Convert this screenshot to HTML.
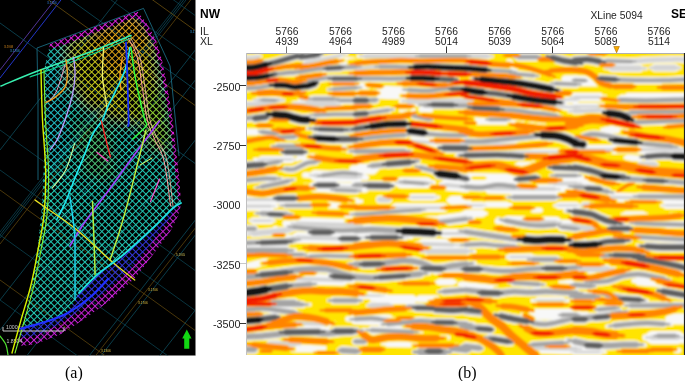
<!DOCTYPE html>
<html><head><meta charset="utf-8">
<style>
html,body{margin:0;padding:0;background:#fff;}
body{width:685px;height:381px;position:relative;overflow:hidden;font-family:"Liberation Sans",Arial,sans-serif;}
.t{position:absolute;white-space:nowrap;color:#1e1e1e;line-height:1;}
.n{font-size:10.3px;}
.y{font-size:10.8px;text-align:right;width:40px;}
.b{font-weight:bold;font-size:12px;color:#000;}
.cap{font-family:"Liberation Serif","Times New Roman",serif;font-size:16px;color:#000;}
svg{position:absolute;left:0;top:0;}
</style></head><body>
<svg width="685" height="381" viewBox="0 0 685 381">
<defs>
<clipPath id="mapclip"><rect x="0" y="0" width="195" height="355.6"/></clipPath>
<clipPath id="seisclip"><rect x="246" y="53.5" width="438" height="301.5"/></clipPath>
<filter id="sb" x="-5%" y="-5%" width="110%" height="110%"><feGaussianBlur stdDeviation="0.8"/></filter>
<filter id="mb" x="-20%" y="-20%" width="140%" height="140%"><feGaussianBlur stdDeviation="6"/></filter>
<pattern id="hatch" patternUnits="userSpaceOnUse" width="4.8" height="4.8" patternTransform="rotate(45)">
<rect width="4.8" height="4.8" fill="#000"/>
<rect x="0" y="0" width="4.8" height="1.0" fill="#fff"/>
<rect x="0" y="0" width="1.0" height="4.8" fill="#fff"/>
</pattern>
<mask id="hmask" maskUnits="userSpaceOnUse" x="0" y="0" width="195" height="355"><rect x="0" y="0" width="195" height="355" fill="url(#hatch)"/></mask>
<clipPath id="meshclip"><path d="M50,44 L60,40 L137,11 L146,22 L156,40 L162,60 L167,85 L172,115 L176,150 L179.5,180 L181,205 L178,216 L170,232 L152,256 L136,277 L112,299 L86,318 L61,334 L36,344 L22,346 L17,342 L24,320 L32,285 L38,245 L42,205 L44,160 L44,110 L44,70Z"/></clipPath>
</defs>
<!-- MAP -->
<g clip-path="url(#mapclip)">
<rect x="0" y="0" width="195" height="356" fill="#000"/>
<line x1="0" y1="70" x2="300" y2="-314.0" stroke="#5a3aa8" stroke-width="0.9" opacity="1.0"/>
<line x1="0" y1="78" x2="300" y2="-306.0" stroke="#2236c8" stroke-width="1.0" opacity="1.0"/>
<line x1="0" y1="150" x2="300" y2="-234.0" stroke="#0e5668" stroke-width="0.7" opacity="1.0"/>
<line x1="0" y1="235" x2="300" y2="-149.0" stroke="#0e5668" stroke-width="0.7" opacity="1.0"/>
<line x1="0" y1="300" x2="300" y2="-84.0" stroke="#0e5668" stroke-width="0.7" opacity="1.0"/>
<line x1="0" y1="232" x2="300" y2="-152.0" stroke="#0e5668" stroke-width="0.6" opacity="1.0"/>
<line x1="0" y1="238" x2="300" y2="-146.0" stroke="#0e5668" stroke-width="0.6" opacity="1.0"/>
<line x1="0" y1="244" x2="300" y2="-140.0" stroke="#7a5a10" stroke-width="0.6" opacity="1.0"/>
<line x1="0" y1="330" x2="300" y2="-54.0" stroke="#0e5668" stroke-width="0.7" opacity="1.0"/>
<line x1="0" y1="390" x2="300" y2="6.0" stroke="#0e5668" stroke-width="0.7" opacity="1.0"/>
<line x1="0" y1="470" x2="300" y2="86.0" stroke="#0e5668" stroke-width="0.7" opacity="1.0"/>
<line x1="0" y1="485" x2="300" y2="101.0" stroke="#0e5668" stroke-width="0.7" opacity="1.0"/>
<line x1="0" y1="478" x2="300" y2="94.0" stroke="#7a5a10" stroke-width="0.6" opacity="1.0"/>
<line x1="0" y1="560" x2="300" y2="176.0" stroke="#0e5668" stroke-width="0.7" opacity="1.0"/>
<line x1="0" y1="23" x2="300" y2="239.0" stroke="#0e5668" stroke-width="0.7" opacity="1.0"/>
<line x1="0" y1="-35" x2="300" y2="181.0" stroke="#7a5a10" stroke-width="0.7" opacity="1.0"/>
<line x1="0" y1="-51" x2="300" y2="165.0" stroke="#0e5668" stroke-width="0.7" opacity="1.0"/>
<line x1="0" y1="-110" x2="300" y2="106.0" stroke="#7a5a10" stroke-width="0.7" opacity="1.0"/>
<line x1="0" y1="-125" x2="300" y2="91.0" stroke="#0e5668" stroke-width="0.6" opacity="1.0"/>
<line x1="0" y1="-160" x2="300" y2="56.0" stroke="#0e5668" stroke-width="0.7" opacity="1.0"/>
<line x1="0" y1="-200" x2="300" y2="16.0" stroke="#7a5a10" stroke-width="0.6" opacity="1.0"/>
<line x1="0" y1="130" x2="300" y2="346.0" stroke="#0e5668" stroke-width="0.6" opacity="1.0"/>
<line x1="0" y1="190" x2="300" y2="406.0" stroke="#7a5a10" stroke-width="0.6" opacity="1.0"/>
<line x1="0" y1="170" x2="300" y2="386.0" stroke="#0e5668" stroke-width="0.6" opacity="1.0"/>
<line x1="0" y1="235" x2="300" y2="451.0" stroke="#0e5668" stroke-width="0.6" opacity="1.0"/>
<line x1="0" y1="280" x2="300" y2="496.0" stroke="#7a5a10" stroke-width="0.6" opacity="1.0"/>
<line x1="0" y1="300" x2="300" y2="516.0" stroke="#0e5668" stroke-width="0.6" opacity="1.0"/>
<line x1="0" y1="-80" x2="300" y2="136.0" stroke="#0e5668" stroke-width="0.6" opacity="1.0"/>
<line x1="0" y1="-250" x2="300" y2="-34.0" stroke="#0e5668" stroke-width="0.6" opacity="1.0"/>
<line x1="0" y1="-300" x2="300" y2="-84.0" stroke="#7a5a10" stroke-width="0.6" opacity="1.0"/>
<g clip-path="url(#meshclip)"><g mask="url(#hmask)">
<g filter="url(#mb)">
<rect x="0" y="0" width="195" height="355" fill="#22c8b4"/>
<path d="M66,42 L137,10 L156,42 L160,100 L140,125 L112,120 L85,105 L68,80 Z" fill="#c8cc1c"/>
<path d="M90,30 L137,10 L152,38 L135,70 L110,75 L95,55 Z" fill="#e0a418"/>
<path d="M130,95 L165,90 L172,150 L150,150 Z" fill="#90d030"/>
<path d="M75,120 L110,125 L115,180 L85,175 Z" fill="#50c878"/>
<path d="M40,60 L62,50 L66,150 L44,180 Z" fill="#20c0c8"/>
</g>
<path d="M185,200 L173,208 L154,227 L123,255 L98,274 L79,293 L67.7,313 L45,322 L20,329 L15,350 L60,345 L140,285 L190,215 Z" fill="#3438e0"/>
<path d="M18,338 L35,336 L58,325 L82,309 L106,291 L130,270 L147,249 L165,225 L178,206 L186,206 L160,262 L110,312 L50,350 L10,352 Z" fill="#c820d8"/>
<path d="M46,46 L60,42 L137,12 L147,24 L157,42 L163,62 L168,86 L173,116 L177,150 L180,180 L182,200" fill="none" stroke="#e020e0" stroke-width="8"/>
</g></g>
<path d="M37,48 L143.5,8.4 L170,66 L179,156" fill="none" stroke="#1a6a80" stroke-width="0.9"/>
<path d="M37,48 L38,100 L38,180" fill="none" stroke="#1a6a80" stroke-width="0.9"/>
<path d="M3,327 L3,331 L64,331 L64,327" fill="none" stroke="#c8c8c8" stroke-width="1"/>
<text x="6" y="329" font-family="Liberation Sans" font-size="5.2" fill="#c8c8c8">1000m</text>
<text x="6.5" y="343" font-family="Liberation Sans" font-size="5.2" fill="#c8c8c8">1.8504</text>
<path d="M186.8,329.4 L191.5,338.4 L189.3,338.4 L189.3,348.8 L184.2,348.8 L184.2,338.4 L182.2,338.4 Z" fill="#12d812"/>
<text x="4" y="48" font-family="Liberation Sans" font-size="3.2" fill="#e09020">3.5%8</text>
<text x="10" y="52" font-family="Liberation Sans" font-size="3.2" fill="#30a0e0">3.1706</text>
<text x="47" y="3.5" font-family="Liberation Sans" font-size="3.2" fill="#3080e0">3.1706</text>
<text x="176" y="256" font-family="Liberation Sans" font-size="3.2" fill="#e0d060">5.5%5</text>
<text x="148" y="291" font-family="Liberation Sans" font-size="3.2" fill="#e0c040">3.1706</text>
<text x="138" y="304" font-family="Liberation Sans" font-size="3.2" fill="#e0c040">3.1706</text>
<text x="101" y="352" font-family="Liberation Sans" font-size="3.2" fill="#e0c040">3.1306</text>
<text x="190" y="33" font-family="Liberation Sans" font-size="3.2" fill="#30a0e0">3.1706</text>
<path d="M1,86C6.7,83.7 20.2,77.7 35,72C49.8,66.3 74.0,58.1 90,52C106.0,45.9 124.2,38.2 131,35.5" stroke="#38f0b0" stroke-width="1.6" fill="none" opacity="1" stroke-linecap="round"/>
<path d="M30,77C40.0,73.3 73.2,61.5 90,55C106.8,48.5 124.2,40.8 131,38" stroke="#10d890" stroke-width="1.1" fill="none" opacity="1" stroke-linecap="round"/>
<path d="M41,70C41.2,78.3 41.7,103.3 42.5,120C43.3,136.7 45.4,154.2 45.6,170C45.9,185.8 45.3,201.7 44,215C42.7,228.3 40.2,238.3 38,250C35.8,261.7 33.8,273.3 31,285C28.2,296.7 24.2,308.7 21,320C17.8,331.3 13.5,347.5 12,353" stroke="#d8f000" stroke-width="1.4" fill="none" opacity="1" stroke-linecap="round"/>
<path d="M44,70C44.2,78.3 44.8,103.3 45.5,120C46.2,136.7 48.2,154.2 48.5,170C48.8,185.8 48.2,201.7 47,215C45.8,228.3 43.2,238.3 41,250C38.8,261.7 36.8,273.0 34,285C31.2,297.0 27.2,310.7 24,322C20.8,333.3 16.5,347.8 15,353" stroke="#80f030" stroke-width="1.1" fill="none" opacity="1" stroke-linecap="round"/>
<path d="M66,60C66.2,62.5 67.6,70.4 67.4,75C67.2,79.6 67.1,83.7 65,87.4C62.9,91.1 58.2,94.9 55,97.4C51.8,99.9 47.5,101.6 46,102.4" stroke="#f0a020" stroke-width="1.4" fill="none" opacity="1" stroke-linecap="round"/>
<path d="M65,65C63.7,69.2 59.5,84.2 57,90C54.5,95.8 51.2,98.3 50,100" stroke="#f0a0c0" stroke-width="1.0" fill="none" opacity="1" stroke-linecap="round"/>
<path d="M73.7,57.4C73.9,60.3 75.2,68.7 75,75C74.8,81.3 74.1,87.5 72.4,95C70.7,102.5 67.6,112.5 65,120C62.4,127.5 59.5,135.0 57,140C54.5,145.0 51.2,148.3 50,150" stroke="#b8a0ff" stroke-width="1.3" fill="none" opacity="1" stroke-linecap="round"/>
<path d="M74.6,143.6C73.1,148.0 69.4,162.6 65.7,170C62.0,177.4 54.5,185.0 52.3,188" stroke="#d0ffa0" stroke-width="1.1" fill="none" opacity="1" stroke-linecap="round"/>
<path d="M103.6,47.5C103.4,52.1 102.2,67.1 102.4,75C102.6,82.9 104.2,89.2 105,95C105.8,100.8 107.0,107.5 107.4,110" stroke="#f0f070" stroke-width="1.3" fill="none" opacity="1" stroke-linecap="round"/>
<path d="M122.3,57.4C121.9,60.3 120.2,69.6 120,75C119.8,80.4 120.8,87.5 121,90" stroke="#ffa020" stroke-width="1.3" fill="none" opacity="1" stroke-linecap="round"/>
<path d="M130,47.5C129.2,51.2 127.5,62.5 125,70C122.5,77.5 117.9,86.2 115,92.4C112.1,98.6 109.5,102.8 107.4,107.4C105.3,112.0 104.9,115.5 102.4,120C99.9,124.5 95.6,128.4 92.5,134.6C89.4,140.8 86.6,149.6 83.6,157C80.6,164.4 77.6,171.6 74.6,179C71.6,186.4 68.7,194.8 65.7,201.6C62.7,208.3 58.3,216.5 56.8,219.5" stroke="#20e8f0" stroke-width="1.6" fill="none" opacity="1" stroke-linecap="round"/>
<path d="M126,42.5C126.2,47.9 126.9,62.1 127.3,75C127.7,87.9 128.5,111.5 128.6,120C128.7,128.5 128.1,125.0 128,126" stroke="#1830ff" stroke-width="1.8" fill="none" opacity="1" stroke-linecap="round"/>
<path d="M131,47.5C131.6,52.1 133.3,66.2 134.8,75C136.3,83.8 138.3,92.5 140,100C141.7,107.5 143.8,115.7 144.8,120C145.8,124.3 148.0,122.8 146,126C144.0,129.2 134.9,136.8 132.7,139" stroke="#30ff40" stroke-width="1.4" fill="none" opacity="1" stroke-linecap="round"/>
<path d="M128.6,38.7C130.1,41.8 135.0,49.3 137.3,57.4C139.6,65.5 140.6,77.0 142.3,87.4C144.0,97.8 145.2,111.2 147.3,120C149.4,128.8 152.2,133.2 155,140C157.8,146.8 161.4,150.0 164,161C166.6,172.0 169.5,198.5 170.6,206" stroke="#ffa0a0" stroke-width="1.0" fill="none" opacity="1" stroke-linecap="round"/>
<path d="M131,38.7C132.5,41.8 137.7,49.3 140,57.4C142.3,65.5 143.3,77.0 145,87.4C146.7,97.8 147.8,111.2 150,120C152.2,128.8 155.2,133.2 158,140C160.8,146.8 164.5,150.0 167,161C169.5,172.0 172.0,198.5 173,206" stroke="#ffc0b0" stroke-width="0.8" fill="none" opacity="1" stroke-linecap="round"/>
<path d="M101.4,121C102.2,124.2 104.5,134.0 106,140C107.5,146.0 109.7,154.2 110.4,157" stroke="#ff2828" stroke-width="1.3" fill="none" opacity="1" stroke-linecap="round"/>
<path d="M97,152.5 L108,161" stroke="#ff40c0" stroke-width="1.2" fill="none" opacity="1" stroke-linecap="round"/>
<path d="M159.5,121C155.0,127.0 140.9,145.8 132.7,157C124.5,168.2 118.6,176.8 110.4,188C102.2,199.2 90.3,214.3 83.6,224C76.9,233.7 72.3,242.3 70,246" stroke="#a040ff" stroke-width="1.5" fill="none" opacity="1" stroke-linecap="round"/>
<path d="M146,130C144.5,136.0 140.0,154.1 137,166C134.0,177.9 131.0,190.4 128,201.6C125.0,212.8 122.0,223.3 119,233C116.0,242.7 111.5,255.5 110,260" stroke="#c0f040" stroke-width="1.4" fill="none" opacity="1" stroke-linecap="round"/>
<path d="M159.5,179 L150.5,201.6" stroke="#ff50d0" stroke-width="1.2" fill="none" opacity="1" stroke-linecap="round"/>
<path d="M140,165 L152,158" stroke="#e0ff60" stroke-width="1.0" fill="none" opacity="1" stroke-linecap="round"/>
<path d="M35,200C36.4,201.0 36.8,201.3 43.4,206C50.0,210.7 63.5,219.0 74.6,228C85.7,237.0 100.0,251.3 110,260C120.0,268.7 130.6,276.7 134.7,280" stroke="#e8e020" stroke-width="1.3" fill="none" opacity="1" stroke-linecap="round"/>
<path d="M70,197C70.8,203.0 73.8,222.5 74.6,233C75.4,243.5 74.9,248.9 75,260C75.1,271.1 75.0,293.1 75,299.7" stroke="#20d8f0" stroke-width="1.5" fill="none" opacity="1" stroke-linecap="round"/>
<path d="M92.5,201.6C92.9,211.3 94.3,247.8 94.7,260C95.1,272.2 95.0,272.5 95,275" stroke="#b0f040" stroke-width="1.5" fill="none" opacity="1" stroke-linecap="round"/>
<path d="M181,203C179.7,203.8 177.5,204.0 173,208C168.5,212.0 162.3,219.2 154,227C145.7,234.8 132.3,247.2 123,255C113.7,262.8 105.3,267.7 98,274C90.7,280.3 82.2,289.8 79,293" stroke="#20e0e0" stroke-width="1.8" fill="none" opacity="1" stroke-linecap="round"/>
<path d="M20.3,328.7C24.4,327.6 37.1,324.6 45,322C52.9,319.4 60.2,317.2 67.7,313C75.2,308.8 83.6,302.7 90.3,297C97.0,291.3 105.0,282.0 108,279" stroke="#2030ff" stroke-width="2.2" fill="none" opacity="1" stroke-linecap="round"/>
<path d="M0,336C1.0,337.5 4.7,341.8 6,345C7.3,348.2 7.7,353.3 8,355" stroke="#50e030" stroke-width="1.2" fill="none" opacity="1" stroke-linecap="round"/>
</g>
<!-- SEISMIC -->
<g clip-path="url(#seisclip)">
<rect x="246" y="53" width="439" height="303" fill="#ffe400"/>
<g filter="url(#sb)" fill="none" stroke-linecap="round" stroke-linejoin="round">
<rect x="240" y="48" width="450" height="312" fill="#ffe400" stroke="none"/>
<g stroke="#f8f8f8">
<path d="M243,58.1L246,58M257.8,56.9L260.7,56.3" stroke-width="3.25"/>
<path d="M246.0,58.0C247.3,58.0 251.9,57.9 253.9,57.7C255.9,57.5 257.2,57.0 257.8,56.9" stroke-width="6.5"/>
<path d="M241,67.9L246,67.7M265.7,64.8L270.6,63.6" stroke-width="5.4"/>
<path d="M246.0,67.7C247.3,67.7 251.5,67.7 253.9,67.4C256.3,67.1 258.4,66.5 260.4,66.1C262.4,65.7 264.8,65.0 265.7,64.8" stroke-width="10.8"/>
<path d="M257.8,67L265.7,64.8M297.2,55.9L305.1,53.6" stroke-width="4.575"/>
<path d="M265.7,64.8C266.8,64.5 269.8,63.6 272.2,63.0C274.6,62.4 277.2,61.7 280.1,60.9C283.0,60.1 286.5,59.0 289.3,58.2C292.1,57.4 295.9,56.3 297.2,55.9" stroke-width="9.15"/>
<path d="M240.7,78L246,77.9M267,76L272.2,75.1" stroke-width="5.0375"/>
<path d="M246.0,77.9C247.3,77.9 251.5,77.8 253.9,77.7C256.3,77.6 258.2,77.4 260.4,77.1C262.6,76.8 265.9,76.2 267.0,76.0" stroke-width="10.075"/>
<path d="M265,76.4L267,76M274.9,74.3L276.9,73.9" stroke-width="4.25"/>
<path d="M267.0,76.0 L274.9,74.3" stroke-width="8.5"/>
<path d="M268.4,75.2L274.9,74.3M301,71.6L307.5,70.9" stroke-width="3.6375"/>
<path d="M274.9,74.3C276.6,74.1 282.3,73.2 285.4,72.9C288.4,72.6 290.6,72.6 293.2,72.4C295.8,72.2 299.7,71.7 301.0,71.6" stroke-width="7.275"/>
<path d="M239.4,88.5L246,88.2M272.2,85.2L278.7,84.1" stroke-width="3.6375"/>
<path d="M246.0,88.2C247.3,88.2 251.5,88.0 253.9,87.9C256.3,87.8 258.2,87.7 260.4,87.4C262.6,87.1 265.0,86.5 267.0,86.1C269.0,85.7 271.3,85.3 272.2,85.2" stroke-width="7.275"/>
<path d="M269.9,85.1L276.2,85.2M301,86.5L307.2,85.8" stroke-width="5.0375"/>
<path d="M276.2,85.2C277.7,85.2 283.0,85.1 285.4,85.3C287.8,85.5 288.9,86.2 290.6,86.5C292.4,86.8 294.2,87.1 295.9,87.1C297.6,87.1 300.1,86.6 301.0,86.5" stroke-width="10.075"/>
<path d="M254.2,100.2L259.1,100.2M278.8,100.2L283.7,100.2" stroke-width="3.5"/>
<path d="M259.1,100.2 L278.8,100.2" stroke-width="7"/>
<path d="M260.2,99.9L263.1,100M274.9,100.5L277.8,100.6" stroke-width="3.375"/>
<path d="M263.1,100.0 L274.9,100.5" stroke-width="6.75"/>
<path d="M296.7,57.4L301,56.9M318.1,54.3L322.3,53.5" stroke-width="4.575"/>
<path d="M301.0,56.9C302.8,56.7 308.6,56.0 311.5,55.6C314.4,55.2 317.0,54.5 318.1,54.3" stroke-width="9.15"/>
<path d="M299.7,64.2L306.2,62.8M340.4,55.6L347,54.3" stroke-width="3"/>
<path d="M306.2,62.8C308.6,62.3 316.1,60.6 320.7,59.6C325.3,58.6 330.5,57.6 333.8,56.9C337.1,56.2 339.3,55.8 340.4,55.6" stroke-width="6"/>
<path d="M335.5,62.1L339.1,62.2M353.5,62.8L357.1,62.9" stroke-width="5.5"/>
<path d="M339.1,62.2 L353.5,62.8" stroke-width="11"/>
<path d="M293.5,72.5L301,71.4M356,66.8L363.6,66.5" stroke-width="3.6375"/>
<path d="M301.0,71.4C303.2,71.1 309.7,70.0 314.1,69.4C318.5,68.9 322.8,68.4 327.2,68.1C331.6,67.8 335.6,67.6 340.4,67.4C345.2,67.2 353.4,66.9 356.0,66.8" stroke-width="7.275"/>
<path d="M323.9,68.6L327.2,68.4M340.4,67.7L343.7,67.5" stroke-width="4.25"/>
<path d="M327.2,68.4 L340.4,67.7" stroke-width="8.5"/>
<path d="M300.5,82.4L307.6,81.2M356,78.6L363.2,78.6" stroke-width="3.375"/>
<path d="M307.6,81.2C310.9,80.7 321.7,78.3 327.2,77.9C332.7,77.5 335.6,78.5 340.4,78.6C345.2,78.7 353.4,78.6 356.0,78.6" stroke-width="6.75"/>
<path d="M328.2,78.7L333.8,78.7M356,78.7L361.6,78.7" stroke-width="4.25"/>
<path d="M333.8,78.7 L356.0,78.7" stroke-width="8.5"/>
<path d="M297.7,86.9L301,86.5M314.1,83.8L317.3,82.8" stroke-width="5.0375"/>
<path d="M301.0,86.5C302.1,86.4 305.4,86.2 307.6,85.8C309.8,85.3 313.0,84.1 314.1,83.8" stroke-width="10.075"/>
<path d="M328.2,89.4L333.8,89.1M356,87.8L361.6,87.5" stroke-width="3.375"/>
<path d="M333.8,89.1 L356.0,87.8" stroke-width="6.75"/>
<path d="M299.5,99.5L307.6,99.6M356,100.2L364.1,100.3" stroke-width="4"/>
<path d="M307.6,99.6 L356.0,100.2" stroke-width="8"/>
<path d="M309.2,98.9L314.1,98.9M333.8,98.9L338.7,98.9" stroke-width="3.6375"/>
<path d="M314.1,98.9 L333.8,98.9" stroke-width="7.275"/>
<path d="M336.5,100.5L340.4,100.5M356,100.5L359.9,100.5" stroke-width="3.375"/>
<path d="M340.4,100.5 L356.0,100.5" stroke-width="6.75"/>
<path d="M358.2,56.2L365.6,56.2M466,56.2L473.4,56.2" stroke-width="3.5"/>
<path d="M365.6,56.2 L466.0,56.2" stroke-width="7"/>
<path d="M413,55.9L420.2,55.9M466,55.9L473.2,55.9" stroke-width="3.375"/>
<path d="M420.2,55.9 L466.0,55.9" stroke-width="6.75"/>
<path d="M380.9,57.8L384.9,57.8M401,57.8L405,57.8" stroke-width="2.5"/>
<path d="M384.9,57.8 L401.0,57.8" stroke-width="5"/>
<path d="M350,68.7L356,68.3M380.1,66.7L386.1,66.4" stroke-width="3.25"/>
<path d="M356.0,68.3C358.7,68.1 368.1,67.4 372.1,67.1C376.1,66.8 378.8,66.8 380.1,66.7" stroke-width="6.5"/>
<path d="M372.5,66.7L380.1,66.7M412.2,67.5L419.8,67.8" stroke-width="3.6375"/>
<path d="M380.1,66.7C382.8,66.7 390.8,66.7 396.1,66.8C401.5,66.9 409.5,67.4 412.2,67.5" stroke-width="7.275"/>
<path d="M405.9,67.4L415.4,67.1M466,68.3L475.5,68.7" stroke-width="5.0375"/>
<path d="M415.4,67.1C417.5,67.0 423.5,66.6 428.3,66.7C433.1,66.8 438.0,67.2 444.3,67.5C450.6,67.8 462.4,68.2 466.0,68.3" stroke-width="10.075"/>
<path d="M348.4,78.8L356,78.7M409,78.2L416.6,78" stroke-width="3.6375"/>
<path d="M356.0,78.7C358.7,78.7 366.8,78.4 372.1,78.4C377.5,78.4 382.0,78.7 388.1,78.7C394.2,78.7 405.5,78.3 409.0,78.2" stroke-width="7.275"/>
<path d="M407,78.2L412.2,78.2M433.1,78.7L438.3,79" stroke-width="5.0375"/>
<path d="M412.2,78.2C414.1,78.2 419.9,78.1 423.4,78.2C426.9,78.3 431.5,78.6 433.1,78.7" stroke-width="10.075"/>
<path d="M428.3,78.4L433.1,78.7M452.4,79.5L457.2,79.6" stroke-width="4.575"/>
<path d="M433.1,78.7C434.7,78.8 439.5,79.1 442.7,79.2C445.9,79.3 450.8,79.5 452.4,79.5" stroke-width="9.15"/>
<path d="M353.6,87.5L356,87.5M365.6,87.5L368,87.5" stroke-width="4.5"/>
<path d="M356.0,87.5 L365.6,87.5" stroke-width="9"/>
<path d="M374.5,92.1L380.1,92.3M402.6,93.1L408.2,93.3" stroke-width="6.5"/>
<path d="M380.1,92.3 L402.6,93.1" stroke-width="13"/>
<path d="M401.4,89.6L409,89.9M466,89.1L473.6,89.2" stroke-width="3.6375"/>
<path d="M409.0,89.9C412.2,90.0 422.4,90.9 428.3,90.7C434.2,90.5 438.0,89.0 444.3,88.7C450.6,88.4 462.4,89.0 466.0,89.1" stroke-width="7.275"/>
<path d="M449,88.9L452.4,89M466,89.3L469.4,89.4" stroke-width="4.25"/>
<path d="M452.4,89.0 L466.0,89.3" stroke-width="8.5"/>
<path d="M353.6,100.4L356,100.4M365.6,100.4L368,100.4" stroke-width="4.9"/>
<path d="M356.0,100.4 L365.6,100.4" stroke-width="9.8"/>
<path d="M363.2,100.5L365.6,100.4M375.3,99.9L377.7,99.8" stroke-width="3.9"/>
<path d="M365.6,100.4 L375.3,99.9" stroke-width="7.8"/>
<path d="M400.9,101.2L409,101.2M466,101.2L474.1,101.2" stroke-width="4"/>
<path d="M409.0,101.2 L466.0,101.2" stroke-width="8"/>
<path d="M460.8,56.2L466,56.2M486.9,56.2L492.1,56.2" stroke-width="3.5"/>
<path d="M466.0,56.2 L486.9,56.2" stroke-width="7"/>
<path d="M514.6,57L519,57M536.7,57L541.1,57" stroke-width="3.9"/>
<path d="M519.0,57.0 L536.7,57.0" stroke-width="7.8"/>
<path d="M546.9,56.4L552.7,57.8M576,62.6L581.9,63.5" stroke-width="4.9"/>
<path d="M552.7,57.8C554.9,58.3 561.7,60.2 565.6,61.0C569.5,61.8 574.3,62.3 576.0,62.6" stroke-width="9.8"/>
<path d="M508.2,61.2L509.4,62.6M514.2,68.3L515.4,69.7" stroke-width="3.5"/>
<path d="M509.4,62.6 L514.2,68.3" stroke-width="7"/>
<path d="M461.2,67.9L466,68.3M485.3,69.9L490.1,70.3" stroke-width="5.0375"/>
<path d="M466.0,68.3C467.6,68.4 472.4,68.8 475.6,69.1C478.8,69.4 483.7,69.8 485.3,69.9" stroke-width="10.075"/>
<path d="M478.9,69.5L485.3,69.9M511,71.5L517.4,71.9" stroke-width="3.375"/>
<path d="M485.3,69.9C487.4,70.0 493.8,70.4 498.1,70.7C502.4,71.0 508.9,71.4 511.0,71.5" stroke-width="6.75"/>
<path d="M509.4,73.5L514.2,73.9M533.4,75.5L538.2,75.9" stroke-width="3.375"/>
<path d="M514.2,73.9 L533.4,75.5" stroke-width="6.75"/>
<path d="M472.1,78.5L482.1,79.5M551.1,89.1L561,91.1" stroke-width="5.4"/>
<path d="M482.1,79.5C484.8,79.8 492.8,80.6 498.1,81.1C503.5,81.6 508.9,82.0 514.2,82.7C519.6,83.4 525.4,84.3 530.2,85.1C535.0,85.9 539.6,86.8 543.1,87.5C546.6,88.2 549.8,88.8 551.1,89.1" stroke-width="10.8"/>
<path d="M462,89.2L466,89.9M482.1,92.3L486.1,92.8" stroke-width="5.4"/>
<path d="M466.0,89.9C467.6,90.2 472.9,91.1 475.6,91.5C478.3,91.9 481.0,92.2 482.1,92.3" stroke-width="10.8"/>
<path d="M474.1,91.4L482.1,92.3M514.2,96.4L522.2,97.6" stroke-width="4.575"/>
<path d="M482.1,92.3C484.8,92.6 492.8,93.3 498.1,94.0C503.5,94.7 511.5,96.0 514.2,96.4" stroke-width="9.15"/>
<path d="M504.3,95.1L514.2,96.7M554.3,102L564.3,103" stroke-width="5.4"/>
<path d="M514.2,96.7C516.3,97.0 523.0,98.2 527.0,98.8C531.0,99.4 533.8,99.9 538.3,100.4C542.8,100.9 551.6,101.7 554.3,102.0" stroke-width="10.8"/>
<path d="M563,78.7L565.6,78.7M576,78.7L578.6,78.7" stroke-width="3.5"/>
<path d="M565.6,78.7 L576.0,78.7" stroke-width="7"/>
<path d="M559,84.3L562.4,84.3M576,84.3L579.4,84.3" stroke-width="3.5"/>
<path d="M562.4,84.3 L576.0,84.3" stroke-width="7"/>
<path d="M550.9,83.3L555.9,83.5M576,84.3L581,84.5" stroke-width="3.375"/>
<path d="M555.9,83.5 L576.0,84.3" stroke-width="6.75"/>
<path d="M559,99.6L562.4,99.6M576,99.6L579.4,99.6" stroke-width="3.5"/>
<path d="M562.4,99.6 L576.0,99.6" stroke-width="7"/>
<path d="M568.9,60.6L575,60.2M599.1,61.4L605.1,62.5" stroke-width="4.9"/>
<path d="M575.0,60.2C577.1,60.1 583.8,59.2 587.8,59.4C591.8,59.6 597.2,61.1 599.1,61.4" stroke-width="9.8"/>
<path d="M591.7,60.8L599.1,61M685,59.4L692.4,59.4" stroke-width="3.5"/>
<path d="M599.1,61.0C603.1,61.1 615.2,61.9 623.2,61.8C631.2,61.7 639.3,60.6 647.3,60.2C655.3,59.8 665.1,59.5 671.4,59.4C677.7,59.3 682.7,59.4 685.0,59.4" stroke-width="7"/>
<path d="M601.1,60.5L607.1,60.7M631.2,61.4L637.2,61.6" stroke-width="3.375"/>
<path d="M607.1,60.7 L631.2,61.4" stroke-width="6.75"/>
<path d="M605.1,67.8L611.9,67.9M639.2,68.3L646,68.4" stroke-width="4"/>
<path d="M611.9,67.9 L639.2,68.3" stroke-width="8"/>
<path d="M650.5,67.8L655.3,67.8M674.6,67.8L679.4,67.8" stroke-width="4"/>
<path d="M655.3,67.8 L674.6,67.8" stroke-width="8"/>
<path d="M597.1,78.5L600.7,78.7M615.1,79.5L618.7,79.7" stroke-width="4.575"/>
<path d="M600.7,78.7 L615.1,79.5" stroke-width="9.15"/>
<path d="M607.5,79.5L615.1,79.7M685,79.5L692.6,79.2" stroke-width="3.6375"/>
<path d="M615.1,79.7C619.1,79.8 631.2,80.2 639.2,80.3C647.2,80.4 655.7,80.4 663.3,80.3C670.9,80.2 681.4,79.6 685.0,79.5" stroke-width="7.275"/>
<path d="M569.8,81.1L575,81.1M595.9,81.1L601.1,81.1" stroke-width="5.5"/>
<path d="M575.0,81.1 L595.9,81.1" stroke-width="11"/>
<path d="M572.6,80.2L575,80.3M584.6,80.6L587,80.7" stroke-width="3.375"/>
<path d="M575.0,80.3 L584.6,80.6" stroke-width="6.75"/>
<path d="M569,97.2L575,97.2M599.1,97.2L605.1,97.2" stroke-width="4.5"/>
<path d="M575.0,97.2 L599.1,97.2" stroke-width="9"/>
<path d="M612,99.8L620,99.9M685,99.6L693,99.4" stroke-width="3.9"/>
<path d="M620.0,99.9C624.5,100.0 636.5,100.5 647.3,100.4C658.1,100.4 678.7,99.7 685.0,99.6" stroke-width="7.8"/>
<path d="M621.3,96L628,96M685,96L691.7,96" stroke-width="3"/>
<path d="M628.0,96.0 L685.0,96.0" stroke-width="6"/>
<path d="M240,104.3L246,104.3M270.1,104.3L276.1,104.3" stroke-width="3.5"/>
<path d="M246.0,104.3 L270.1,104.3" stroke-width="7"/>
<path d="M286.8,104.6L294.2,104.6M334.3,104.6L341.7,104.6" stroke-width="3.5"/>
<path d="M294.2,104.6 L334.3,104.6" stroke-width="7"/>
<path d="M238.7,119L246,118.3M274.9,114.6L282.1,113.4" stroke-width="3.9"/>
<path d="M246.0,118.3C248.7,118.0 257.3,117.3 262.1,116.7C266.9,116.1 272.8,114.9 274.9,114.6" stroke-width="7.8"/>
<path d="M253.2,118.6L255.6,118.3M265.3,117.1L267.7,116.8" stroke-width="4.9"/>
<path d="M255.6,118.3 L265.3,117.1" stroke-width="9.8"/>
<path d="M266.8,113.9L274.9,114.6M307,119.9L315.1,120.5" stroke-width="5.7625"/>
<path d="M274.9,114.6C276.8,114.8 282.9,115.0 286.1,115.5C289.3,116.0 291.8,117.1 294.2,117.8C296.6,118.5 298.5,119.1 300.6,119.4C302.7,119.8 305.9,119.8 307.0,119.9" stroke-width="11.525"/>
<path d="M307.9,115.3L315.1,115M356,114.2L363.2,114.2" stroke-width="3.375"/>
<path d="M315.1,115.0C318.3,114.9 327.5,114.3 334.3,114.2C341.1,114.1 352.4,114.2 356.0,114.2" stroke-width="6.75"/>
<path d="M243.6,131.9L246,131.9M255.6,131.9L258,131.9" stroke-width="3.5"/>
<path d="M246.0,131.9 L255.6,131.9" stroke-width="7"/>
<path d="M258.9,131.5L262.1,131.9M274.9,133.5L278.1,133.9" stroke-width="3.6375"/>
<path d="M262.1,131.9 L274.9,133.5" stroke-width="7.275"/>
<path d="M307.1,128.4L315.1,128.7M356,129.5L364,129.5" stroke-width="3.9"/>
<path d="M315.1,128.7C318.3,128.8 327.5,129.4 334.3,129.5C341.1,129.6 352.4,129.5 356.0,129.5" stroke-width="7.8"/>
<path d="M314.3,129L319.9,129.2M342.4,129.8L348,130" stroke-width="4.25"/>
<path d="M319.9,129.2 L342.4,129.8" stroke-width="8.5"/>
<path d="M274.1,137.7L278.1,137.5M294.2,136.7L298.2,136.5" stroke-width="3.6375"/>
<path d="M278.1,137.5 L294.2,136.7" stroke-width="7.275"/>
<path d="M305.8,136.7L315.1,137.5M356,139.1L365.4,139.1" stroke-width="4.9"/>
<path d="M315.1,137.5C318.3,137.8 327.5,138.8 334.3,139.1C341.1,139.4 352.4,139.1 356.0,139.1" stroke-width="9.8"/>
<path d="M314.3,138.1L318.3,138.3M334.3,139L338.3,139.2" stroke-width="5.0375"/>
<path d="M318.3,138.3 L334.3,139.0" stroke-width="10.075"/>
<path d="M272.1,146.4L278.1,146.4M302.2,146.4L308.2,146.4" stroke-width="3.9"/>
<path d="M278.1,146.4 L302.2,146.4" stroke-width="7.8"/>
<path d="M282.1,152L286.1,152M302.2,152L306.2,152" stroke-width="4.575"/>
<path d="M286.1,152.0 L302.2,152.0" stroke-width="9.15"/>
<path d="M318.9,148L326.3,148M356,148L363.4,148" stroke-width="3.5"/>
<path d="M326.3,148.0 L356.0,148.0" stroke-width="7"/>
<path d="M400.2,110.2L402.6,110.2M412.2,110.2L414.6,110.2" stroke-width="3"/>
<path d="M402.6,110.2 L412.2,110.2" stroke-width="6"/>
<path d="M419.8,109.3L421.8,109.4M429.9,109.7L431.9,109.8" stroke-width="3"/>
<path d="M421.8,109.4 L429.9,109.7" stroke-width="6"/>
<path d="M417.1,104.8L425.1,104.9M466,105.4L474,105.5" stroke-width="3.9"/>
<path d="M425.1,104.9 L466.0,105.4" stroke-width="7.8"/>
<path d="M428.3,104.5L433.1,104.6M452.4,104.9L457.2,105" stroke-width="4.575"/>
<path d="M433.1,104.6 L452.4,104.9" stroke-width="9.15"/>
<path d="M353.6,114.4L356,114.2M365.6,113.6L368,113.4" stroke-width="4.575"/>
<path d="M356.0,114.2 L365.6,113.6" stroke-width="9.15"/>
<path d="M360,114.4L365.6,113.6M388.1,110.2L393.7,109.4" stroke-width="3.375"/>
<path d="M365.6,113.6 L388.1,110.2" stroke-width="6.75"/>
<path d="M410.2,115L413.8,115.8M428.3,119.1L431.9,119.9" stroke-width="3.6375"/>
<path d="M413.8,115.8 L428.3,119.1" stroke-width="7.275"/>
<path d="M364.1,127.3L372.1,126.3M404.2,123.9L412.3,123.7" stroke-width="5.4"/>
<path d="M372.1,126.3C374.8,126.0 382.8,124.6 388.1,124.2C393.5,123.8 401.5,124.0 404.2,123.9" stroke-width="10.8"/>
<path d="M352,129.3L356,128.7M372.1,126.3L376.1,125.7" stroke-width="4.575"/>
<path d="M356.0,128.7 L372.1,126.3" stroke-width="9.15"/>
<path d="M407.4,130.7L410.6,131.1M423.4,132.7L426.6,133.1" stroke-width="5.4"/>
<path d="M410.6,131.1 L423.4,132.7" stroke-width="10.8"/>
<path d="M415.8,132.9L423.4,133.5M466,135.1L473.6,135.1" stroke-width="3.6375"/>
<path d="M423.4,133.5C426.9,133.8 437.2,134.8 444.3,135.1C451.4,135.4 462.4,135.1 466.0,135.1" stroke-width="7.275"/>
<path d="M348.5,141L356,139.9M404.2,135.1L411.8,134.7" stroke-width="3.6375"/>
<path d="M356.0,139.9C358.7,139.5 366.8,138.2 372.1,137.5C377.5,136.8 382.8,136.3 388.1,135.9C393.5,135.5 401.5,135.2 404.2,135.1" stroke-width="7.275"/>
<path d="M403.4,141.1L412.2,141.5M466,144L474.8,144.4" stroke-width="4.5"/>
<path d="M412.2,141.5 L466.0,144.0" stroke-width="9"/>
<path d="M438.9,147.9L444.3,148M466,148.3L471.4,148.4" stroke-width="4.9"/>
<path d="M444.3,148.0 L466.0,148.3" stroke-width="9.8"/>
<path d="M348,151.2L356,151.2M404.2,151.2L412.2,151.2" stroke-width="3.9"/>
<path d="M356.0,151.2 L404.2,151.2" stroke-width="7.8"/>
<path d="M468,107.5L474,107.8M498.1,109.1L504.1,109.4" stroke-width="4.575"/>
<path d="M474.0,107.8 L498.1,109.1" stroke-width="9.15"/>
<path d="M490.5,109L498.1,109.4M555.9,115.8L563.4,117" stroke-width="3.6375"/>
<path d="M498.1,109.4C500.8,109.5 508.9,109.7 514.2,110.2C519.6,110.7 524.9,111.9 530.2,112.6C535.6,113.3 542.0,113.7 546.3,114.2C550.6,114.7 554.3,115.5 555.9,115.8" stroke-width="7.275"/>
<path d="M550.9,105.8L555.9,106.2M576,107.8L581,108.2" stroke-width="3.5"/>
<path d="M555.9,106.2 L576.0,107.8" stroke-width="7"/>
<path d="M465.2,120.3L474,120.3M514.2,120.3L523,120.3" stroke-width="4.5"/>
<path d="M474.0,120.3 L514.2,120.3" stroke-width="9"/>
<path d="M486.1,119.4L490.1,119.4M506.1,119.4L510.1,119.4" stroke-width="3.375"/>
<path d="M490.1,119.4 L506.1,119.4" stroke-width="6.75"/>
<path d="M527.4,123.9L530.2,123.9M541.5,123.9L544.3,123.9" stroke-width="3"/>
<path d="M530.2,123.9 L541.5,123.9" stroke-width="6"/>
<path d="M458,141.5L466,141.5M543.1,135.1L551,134.1" stroke-width="3.9"/>
<path d="M466.0,141.5C468.7,141.5 476.8,141.8 482.1,141.5C487.5,141.2 492.8,140.4 498.1,139.9C503.5,139.4 508.9,138.8 514.2,138.3C519.6,137.8 525.4,137.2 530.2,136.7C535.0,136.2 541.0,135.4 543.1,135.1" stroke-width="7.8"/>
<path d="M534.5,134.6L543.1,135.1M576,143.1L583.8,146.7" stroke-width="5.7625"/>
<path d="M543.1,135.1C545.2,135.2 552.1,135.4 555.9,135.9C559.6,136.4 562.2,137.1 565.6,138.3C569.0,139.5 574.3,142.3 576.0,143.1" stroke-width="11.525"/>
<path d="M458.6,144.4L466,144.4M514.2,144.4L521.6,144.4" stroke-width="3.5"/>
<path d="M466.0,144.4 L514.2,144.4" stroke-width="7"/>
<path d="M458.6,152L466,152M562.4,152L569.8,152" stroke-width="3.5"/>
<path d="M466.0,152.0 L562.4,152.0" stroke-width="7"/>
<path d="M567.6,106.2L575,106.2M607.1,106.2L614.5,106.2" stroke-width="3.5"/>
<path d="M575.0,106.2 L607.1,106.2" stroke-width="7"/>
<path d="M569,111.2L575,111M599.1,110.2L605.1,110" stroke-width="3.5"/>
<path d="M575.0,111.0 L599.1,110.2" stroke-width="7"/>
<path d="M603.7,112.7L608.7,113.4M628,118.3L632.6,120.2" stroke-width="5.7625"/>
<path d="M608.7,113.4C610.6,113.7 616.8,114.2 620.0,115.0C623.2,115.8 626.7,117.8 628.0,118.3" stroke-width="11.525"/>
<path d="M623.6,112.9L631.2,112.6M685,111.8L692.6,111.8" stroke-width="3.6375"/>
<path d="M631.2,112.6C635.2,112.5 646.3,111.9 655.3,111.8C664.3,111.7 680.0,111.8 685.0,111.8" stroke-width="7.275"/>
<path d="M628.4,122.6L636,122.3M685,120.7L692.6,120.5" stroke-width="3.6375"/>
<path d="M636.0,122.3C639.2,122.2 647.1,121.8 655.3,121.5C663.5,121.2 680.0,120.8 685.0,120.7" stroke-width="7.275"/>
<path d="M601.9,129.5L607.1,129.5M628,129.5L633.2,129.5" stroke-width="3.5"/>
<path d="M607.1,129.5 L628.0,129.5" stroke-width="7"/>
<path d="M595.1,109.4L595.9,109.4M599.1,109.4L599.9,109.4" stroke-width="2"/>
<path d="M595.9,109.4 L599.1,109.4" stroke-width="4"/>
<path d="M567.5,142.5L575,139.9M671.4,146.4L679.3,147.2" stroke-width="3.9"/>
<path d="M575.0,139.9C577.7,139.0 585.8,135.0 591.1,134.3C596.5,133.6 601.8,135.0 607.1,135.9C612.5,136.8 617.9,138.7 623.2,139.9C628.6,141.1 633.9,142.3 639.2,143.1C644.6,143.9 649.9,144.2 655.3,144.8C660.7,145.4 668.7,146.1 671.4,146.4" stroke-width="7.8"/>
<path d="M573,143.9L575,144M583,144.4L585,144.5" stroke-width="5.4"/>
<path d="M575.0,144.0 L583.0,144.4" stroke-width="10.8"/>
<path d="M609.9,139.8L615.1,140.3M636,142.3L641.2,142.8" stroke-width="5.0375"/>
<path d="M615.1,140.3 L636.0,142.3" stroke-width="10.075"/>
<path d="M566.2,149.6L575,149.6M685,149.6L693.8,149.6" stroke-width="4.5"/>
<path d="M575.0,149.6 L685.0,149.6" stroke-width="9"/>
<path d="M254.9,159.4L262.1,159.4M291,159.4L298.2,159.4" stroke-width="3.5"/>
<path d="M262.1,159.4 L291.0,159.4" stroke-width="7"/>
<path d="M298.6,157L302.2,157M316.7,157L320.3,157" stroke-width="3.5"/>
<path d="M302.2,157.0 L316.7,157.0" stroke-width="7"/>
<path d="M242,166.1L246,165.8M262.1,164.6L266.1,164.3" stroke-width="4.9"/>
<path d="M246.0,165.8 L262.1,164.6" stroke-width="9.8"/>
<path d="M258.1,165.3L262.1,164.6M278.1,161.8L282.1,161.1" stroke-width="3.6375"/>
<path d="M262.1,164.6 L278.1,161.8" stroke-width="7.275"/>
<path d="M278.5,169.1L286.1,169.1M315.1,161.8L322.6,160.7" stroke-width="3.6375"/>
<path d="M286.1,169.1C287.5,169.1 290.7,170.1 294.2,169.1C297.7,168.1 303.5,164.2 307.0,163.0C310.5,161.8 313.8,162.0 315.1,161.8" stroke-width="7.275"/>
<path d="M304.9,175.1L315.1,175.5M356,177.1L366.2,177.5" stroke-width="5.5"/>
<path d="M315.1,175.5 L356.0,177.1" stroke-width="11"/>
<path d="M315.6,176.4L323.1,175.5M356,173.9L363.6,174.3" stroke-width="3.6375"/>
<path d="M323.1,175.5C326.3,175.1 336.9,173.4 342.4,173.1C347.9,172.8 353.7,173.8 356.0,173.9" stroke-width="7.275"/>
<path d="M304.9,186.3L315.1,186.7M356,188.3L366.2,188.7" stroke-width="5.5"/>
<path d="M315.1,186.7 L356.0,188.3" stroke-width="11"/>
<path d="M314.3,185.1L318.3,185.1M334.3,185.1L338.3,185.1" stroke-width="4.575"/>
<path d="M318.3,185.1 L334.3,185.1" stroke-width="9.15"/>
<path d="M330.9,189.7L335.9,189.9M356,190.7L361,190.9" stroke-width="3.375"/>
<path d="M335.9,189.9 L356.0,190.7" stroke-width="6.75"/>
<path d="M238.8,181L246,180.3M274.9,178.7L282.1,178.7" stroke-width="3.6375"/>
<path d="M246.0,180.3C248.7,180.0 257.3,179.0 262.1,178.7C266.9,178.4 272.8,178.7 274.9,178.7" stroke-width="7.275"/>
<path d="M255.7,188L262.1,186.7M287.8,181.1L294.2,179.5" stroke-width="3.6375"/>
<path d="M262.1,186.7C264.8,186.2 273.8,184.4 278.1,183.5C282.4,182.6 286.2,181.5 287.8,181.1" stroke-width="7.275"/>
<path d="M237.2,199.6L246,199.6M294.2,199.6L303,199.6" stroke-width="4.5"/>
<path d="M246.0,199.6 L294.2,199.6" stroke-width="9"/>
<path d="M274.1,198.3L278.1,198.3M294.2,198.3L298.2,198.3" stroke-width="4.575"/>
<path d="M278.1,198.3 L294.2,198.3" stroke-width="9.15"/>
<path d="M328.9,201.2L334.3,201.2M356,201.2L361.4,201.2" stroke-width="3.5"/>
<path d="M334.3,201.2 L356.0,201.2" stroke-width="7"/>
<path d="M352,169.1L356,169.1M372.1,169.1L376.1,169.1" stroke-width="5.5"/>
<path d="M356.0,169.1 L372.1,169.1" stroke-width="11"/>
<path d="M368.1,166.2L372.1,165.8M388.1,164.2L392.1,163.8" stroke-width="3.9"/>
<path d="M372.1,165.8 L388.1,164.2" stroke-width="7.8"/>
<path d="M382.9,164.3L388.1,163.9M409,162.3L414.2,161.9" stroke-width="4.9"/>
<path d="M388.1,163.9 L409.0,162.3" stroke-width="9.8"/>
<path d="M407,162.2L409,162M417,161L419,160.8" stroke-width="3.375"/>
<path d="M409.0,162.0 L417.0,161.0" stroke-width="6.75"/>
<path d="M415.3,166.3L420.2,167.5M439.5,173.6L444.1,175.7" stroke-width="3.6375"/>
<path d="M420.2,167.5C422.4,168.0 429.9,169.7 433.1,170.7C436.3,171.7 438.4,173.1 439.5,173.6" stroke-width="7.275"/>
<path d="M435.5,173.4L439.5,173.9M455.6,175.8L459.6,176.3" stroke-width="5.7625"/>
<path d="M439.5,173.9 L455.6,175.8" stroke-width="11.525"/>
<path d="M453,175.7L455.6,176.3M466,178.7L468.6,179.3" stroke-width="4.575"/>
<path d="M455.6,176.3 L466.0,178.7" stroke-width="9.15"/>
<path d="M394.6,182.7L401,182.7M426.7,182.7L433.1,182.7" stroke-width="5.5"/>
<path d="M401.0,182.7 L426.7,182.7" stroke-width="11"/>
<path d="M399.4,181.5L404.2,181.9M423.4,183.5L428.2,183.9" stroke-width="3.375"/>
<path d="M404.2,181.9 L423.4,183.5" stroke-width="6.75"/>
<path d="M352.8,185.2L356,185.1M368.8,184.8L372,184.7" stroke-width="3.9"/>
<path d="M356.0,185.1 L368.8,184.8" stroke-width="7.8"/>
<path d="M364,185.5L368.8,185.6M388.1,185.9L392.9,186" stroke-width="4.9"/>
<path d="M368.8,185.6 L388.1,185.9" stroke-width="9.8"/>
<path d="M354,180.3L356,181.9M364,188.3L366,189.9" stroke-width="4.5"/>
<path d="M356.0,181.9 L364.0,188.3" stroke-width="9"/>
<path d="M440.9,184.7L445.9,185.1M466,186.7L471,187.1" stroke-width="5.5"/>
<path d="M445.9,185.1 L466.0,186.7" stroke-width="11"/>
<path d="M378.1,199.6L380.1,199.6M388.1,199.6L390.1,199.6" stroke-width="4"/>
<path d="M380.1,199.6 L388.1,199.6" stroke-width="8"/>
<path d="M407,197.2L412.2,197.2M433.1,197.2L438.3,197.2" stroke-width="3.5"/>
<path d="M412.2,197.2 L433.1,197.2" stroke-width="7"/>
<path d="M449,200.4L452.4,200.4M466,200.4L469.4,200.4" stroke-width="4.5"/>
<path d="M452.4,200.4 L466.0,200.4" stroke-width="9"/>
<path d="M457.1,155.5L466,155.4M522.2,156.2L531.1,156.7" stroke-width="4.575"/>
<path d="M466.0,155.4C471.4,155.3 488.7,154.8 498.1,154.9C507.5,155.0 518.2,156.0 522.2,156.2" stroke-width="9.15"/>
<path d="M516.2,164.2L519,164.2M530.2,164.2L533,164.2" stroke-width="2.5"/>
<path d="M519.0,164.2 L530.2,164.2" stroke-width="5"/>
<path d="M532.2,160.2L533.4,160.2M538.3,160.2L539.5,160.2" stroke-width="2"/>
<path d="M533.4,160.2 L538.3,160.2" stroke-width="4"/>
<path d="M454.4,179.3L466,179.5M519,180.3L530.6,180.5" stroke-width="6.5"/>
<path d="M466.0,179.5 L519.0,180.3" stroke-width="13"/>
<path d="M479.9,188.2L490.1,188.3M554.3,189.1L564.5,189.2" stroke-width="5.5"/>
<path d="M490.1,188.3 L554.3,189.1" stroke-width="11"/>
<path d="M515,179.3L519,179M535.1,177.9L539.1,177.6" stroke-width="4.575"/>
<path d="M519.0,179.0 L535.1,177.9" stroke-width="9.15"/>
<path d="M548.9,167.3L554.3,167.5M576,168.3L581.4,168.5" stroke-width="4.575"/>
<path d="M554.3,167.5 L576.0,168.3" stroke-width="9.15"/>
<path d="M458,186.3L466,186.7M514.2,186.7L522.1,187.5" stroke-width="3.9"/>
<path d="M466.0,186.7C468.7,186.8 476.8,187.8 482.1,187.5C487.5,187.2 492.8,185.2 498.1,185.1C503.5,185.0 511.5,186.4 514.2,186.7" stroke-width="7.8"/>
<path d="M548.9,183.5L554.3,183.5M576,183.5L581.4,183.5" stroke-width="5.5"/>
<path d="M554.3,183.5 L576.0,183.5" stroke-width="11"/>
<path d="M550.9,175.5L555.9,175.5M576,175.5L581,175.5" stroke-width="3.375"/>
<path d="M555.9,175.5 L576.0,175.5" stroke-width="6.75"/>
<path d="M506.2,197.2L514.2,197.2M554.3,197.2L562.3,197.2" stroke-width="3.9"/>
<path d="M514.2,197.2 L554.3,197.2" stroke-width="7.8"/>
<path d="M625.2,157.6L628,157.8M639.2,158.6L642,158.8" stroke-width="3"/>
<path d="M628.0,157.8 L639.2,158.6" stroke-width="6"/>
<path d="M637.6,164.6L640.8,164.6M653.7,164.6L656.9,164.6" stroke-width="4"/>
<path d="M640.8,164.6 L653.7,164.6" stroke-width="8"/>
<path d="M640.5,157L647.3,156.5M674.6,155.9L681.4,156.2" stroke-width="4.575"/>
<path d="M647.3,156.5C650.0,156.3 658.8,155.5 663.3,155.4C667.8,155.3 672.7,155.8 674.6,155.9" stroke-width="9.15"/>
<path d="M672,156.1L674.6,156.2M685,156.5L687.6,156.6" stroke-width="5.4"/>
<path d="M674.6,156.2 L685.0,156.5" stroke-width="10.8"/>
<path d="M565.8,165.7L575,167.5M623.2,177.1L632.5,178" stroke-width="4.9"/>
<path d="M575.0,167.5C577.7,168.0 585.8,169.4 591.1,170.7C596.5,172.0 601.8,174.4 607.1,175.5C612.5,176.6 620.5,176.8 623.2,177.1" stroke-width="9.8"/>
<path d="M600.7,175.6L603.9,175.8M616.8,176.8L620,177.1" stroke-width="5.0375"/>
<path d="M603.9,175.8 L616.8,176.8" stroke-width="10.075"/>
<path d="M615.2,178.3L623.2,178.7M685,182.7L692.9,183.3" stroke-width="3.9"/>
<path d="M623.2,178.7C625.9,178.8 632.5,179.1 639.2,179.5C645.9,179.9 655.7,180.6 663.3,181.1C670.9,181.6 681.4,182.4 685.0,182.7" stroke-width="7.8"/>
<path d="M643.3,180.1L647.3,180.3M663.3,181.1L667.3,181.3" stroke-width="4.25"/>
<path d="M647.3,180.3 L663.3,181.1" stroke-width="8.5"/>
<path d="M567.1,185.9L575,186.7M607.1,191.5L614.9,193.1" stroke-width="3.9"/>
<path d="M575.0,186.7C577.7,187.0 585.8,187.5 591.1,188.3C596.5,189.1 604.4,191.0 607.1,191.5" stroke-width="7.8"/>
<path d="M585,188.1L587.8,188.3M599.1,189.1L601.9,189.3" stroke-width="4.575"/>
<path d="M587.8,188.3 L599.1,189.1" stroke-width="9.15"/>
<path d="M598.3,197L607.1,197.2M685,198.8L693.8,199" stroke-width="4.5"/>
<path d="M607.1,197.2 L685.0,198.8" stroke-width="9"/>
<path d="M631.6,196.4L639.2,196.4M685,196.4L692.6,196.4" stroke-width="3.6375"/>
<path d="M639.2,196.4 L685.0,196.4" stroke-width="7.275"/>
<path d="M571,178.1L575,178.7M591.1,181.1L595.1,181.7" stroke-width="4.5"/>
<path d="M575.0,178.7 L591.1,181.1" stroke-width="9"/>
<path d="M240,206.2L246,206.2M270.1,206.2L276.1,206.2" stroke-width="4.5"/>
<path d="M246.0,206.2 L270.1,206.2" stroke-width="9"/>
<path d="M280.1,205.4L286.1,205.4M310.2,205.4L316.2,205.4" stroke-width="3.375"/>
<path d="M286.1,205.4 L310.2,205.4" stroke-width="6.75"/>
<path d="M327.1,206.2L329.5,206.2M339.1,206.2L341.5,206.2" stroke-width="2.5"/>
<path d="M329.5,206.2 L339.1,206.2" stroke-width="5"/>
<path d="M256.1,213.2L262.1,213.4M286.1,214.2L292.1,214.4" stroke-width="3.9"/>
<path d="M262.1,213.4 L286.1,214.2" stroke-width="7.8"/>
<path d="M267.3,214.1L270.1,214.2M281.3,214.6L284.1,214.7" stroke-width="4.25"/>
<path d="M270.1,214.2 L281.3,214.6" stroke-width="8.5"/>
<path d="M285.8,223.6L297.4,223.9M356,225.5L367.6,225.8" stroke-width="6.5"/>
<path d="M297.4,223.9 L356.0,225.5" stroke-width="13"/>
<path d="M286.3,226.4L294.2,227.1M356,230.3L364,230.3" stroke-width="3.9"/>
<path d="M294.2,227.1C297.4,227.4 306.7,228.2 313.4,228.7C320.1,229.2 327.2,230.0 334.3,230.3C341.4,230.6 352.4,230.3 356.0,230.3" stroke-width="7.8"/>
<path d="M309.4,232.2L313.4,232.2M329.5,232.2L333.5,232.2" stroke-width="4.9"/>
<path d="M313.4,232.2 L329.5,232.2" stroke-width="9.8"/>
<path d="M287.2,237.2L297.4,237.5M356,239.1L366.2,239.4" stroke-width="5.5"/>
<path d="M297.4,237.5 L356.0,239.1" stroke-width="11"/>
<path d="M339,238.7L342.4,238.7M356,238.7L359.4,238.7" stroke-width="4.575"/>
<path d="M342.4,238.7 L356.0,238.7" stroke-width="9.15"/>
<path d="M343,215L345.6,215M356,215L358.6,215" stroke-width="3"/>
<path d="M345.6,215.0 L356.0,215.0" stroke-width="6"/>
<path d="M250,220.7L254,220.7M270.1,220.7L274.1,220.7" stroke-width="3.5"/>
<path d="M254.0,220.7 L270.1,220.7" stroke-width="7"/>
<path d="M244,228.7L246,228.7M254,228.7L256,228.7" stroke-width="3.9"/>
<path d="M246.0,228.7 L254.0,228.7" stroke-width="7.8"/>
<path d="M245.9,234.3L254,233.5M294.2,227.1L301.7,224.1" stroke-width="4"/>
<path d="M254.0,233.5C256.7,233.2 264.8,232.4 270.1,231.9C275.5,231.4 282.1,231.1 286.1,230.3C290.1,229.5 292.9,227.6 294.2,227.1" stroke-width="8"/>
<path d="M274.6,227.9 L276.2,227.9" stroke-width="4"/>
<path d="M238,243.5L246,243.1M294.2,239.9L302.1,239.1" stroke-width="3.9"/>
<path d="M246.0,243.1C248.7,243.0 256.8,242.6 262.1,242.3C267.5,242.0 272.8,241.9 278.1,241.5C283.5,241.1 291.5,240.2 294.2,239.9" stroke-width="7.8"/>
<path d="M256.1,242.9L262.1,242.7M286.1,241.9L292.1,241.7" stroke-width="4.575"/>
<path d="M262.1,242.7 L286.1,241.9" stroke-width="9.15"/>
<path d="M237.3,250.4L246,250.4M286.1,250.4L294.8,250.4" stroke-width="4.425"/>
<path d="M246.0,250.4 L286.1,250.4" stroke-width="8.85"/>
<path d="M387.3,207.8L396.1,207.8M444.3,207.8L453.1,207.8" stroke-width="4.5"/>
<path d="M396.1,207.8 L444.3,207.8" stroke-width="9"/>
<path d="M348.8,214.6L356,214.2M420.2,209.7L427.4,209.2" stroke-width="3.375"/>
<path d="M356.0,214.2C358.7,214.1 365.4,213.9 372.1,213.4C378.8,212.9 388.1,212.0 396.1,211.4C404.1,210.8 416.2,210.0 420.2,209.7" stroke-width="6.75"/>
<path d="M420.6,218.3L423.4,218.3M434.7,218.3L437.5,218.3" stroke-width="2.5"/>
<path d="M423.4,218.3 L434.7,218.3" stroke-width="5"/>
<path d="M432.9,221.5L439.5,220.7M466,217.5L472.6,216.7" stroke-width="5.5"/>
<path d="M439.5,220.7 L466.0,217.5" stroke-width="11"/>
<path d="M432.9,223.1L439.5,222.3M466,219.1L472.6,218.3" stroke-width="3.6375"/>
<path d="M439.5,222.3C441.6,222.0 448.0,221.2 452.4,220.7C456.8,220.2 463.7,219.4 466.0,219.1" stroke-width="7.275"/>
<path d="M438.9,233.5L444.3,233.5M466,233.5L471.4,233.5" stroke-width="4.5"/>
<path d="M444.3,233.5 L466.0,233.5" stroke-width="9"/>
<path d="M347.3,230.7L356,230.3M404.2,231.1L412.9,231.5" stroke-width="4.425"/>
<path d="M356.0,230.3C358.7,230.2 366.8,229.5 372.1,229.5C377.5,229.5 382.8,230.0 388.1,230.3C393.5,230.6 401.5,231.0 404.2,231.1" stroke-width="8.85"/>
<path d="M397,231L404.2,231.3M433.1,232.7L440.3,233.1" stroke-width="5.7625"/>
<path d="M404.2,231.3C406.9,231.4 415.4,231.7 420.2,231.9C425.0,232.1 431.0,232.6 433.1,232.7" stroke-width="11.525"/>
<path d="M348.6,237.5L356,237.5M404.2,237.5L411.6,237.5" stroke-width="3.5"/>
<path d="M356.0,237.5 L404.2,237.5" stroke-width="7"/>
<path d="M366.1,237.5L372.1,237.5M396.1,237.5L402.1,237.5" stroke-width="4.575"/>
<path d="M372.1,237.5 L396.1,237.5" stroke-width="9.15"/>
<path d="M416.1,243.8L423.4,244M452.4,244.8L459.6,245" stroke-width="5.5"/>
<path d="M423.4,244.0 L452.4,244.8" stroke-width="11"/>
<path d="M420.2,251.2L428.3,251.2M466,251.2L474.1,251.2" stroke-width="4"/>
<path d="M428.3,251.2 L466.0,251.2" stroke-width="8"/>
<path d="M462,205.4L466,205.4M482.1,205.4L486.1,205.4" stroke-width="3.5"/>
<path d="M466.0,205.4 L482.1,205.4" stroke-width="7"/>
<path d="M482.1,204.6L486.9,204.6M506.1,204.6L510.9,204.6" stroke-width="3"/>
<path d="M486.9,204.6 L506.1,204.6" stroke-width="6"/>
<path d="M531.8,210.2L533.4,210.2M539.9,210.2L541.5,210.2" stroke-width="2.5"/>
<path d="M533.4,210.2 L539.9,210.2" stroke-width="5"/>
<path d="M554.9,205.4L559.1,205.4M576,205.4L580.2,205.4" stroke-width="3.5"/>
<path d="M559.1,205.4 L576.0,205.4" stroke-width="7"/>
<path d="M462,213.4L466,213.4M482.1,213.4L486.1,213.4" stroke-width="3.5"/>
<path d="M466.0,213.4 L482.1,213.4" stroke-width="7"/>
<path d="M497.6,221.3L507.8,221.5M555.9,222.3L566.1,222.5" stroke-width="5.5"/>
<path d="M507.8,221.5 L555.9,222.3" stroke-width="11"/>
<path d="M498.3,219.1L506.1,220.7M554.3,224.7L562.3,224.3" stroke-width="3.9"/>
<path d="M506.1,220.7C508.8,221.2 516.8,223.1 522.2,223.9C527.6,224.7 532.9,225.4 538.3,225.5C543.6,225.6 551.6,224.8 554.3,224.7" stroke-width="7.8"/>
<path d="M559,225.5L562.4,225.5M576,225.5L579.4,225.5" stroke-width="5.5"/>
<path d="M562.4,225.5 L576.0,225.5" stroke-width="11"/>
<path d="M559,226.7L562.4,227.1M576,228.7L579.4,229.1" stroke-width="3.6375"/>
<path d="M562.4,227.1 L576.0,228.7" stroke-width="7.275"/>
<path d="M457.8,230.7L466,231.9M525.4,239.6L533.7,240" stroke-width="4.1625"/>
<path d="M466.0,231.9C468.7,232.3 476.8,233.5 482.1,234.3C487.5,235.1 492.8,235.9 498.1,236.7C503.5,237.5 509.7,238.6 514.2,239.1C518.8,239.6 523.5,239.5 525.4,239.6" stroke-width="8.325"/>
<path d="M516.2,239.1L525.4,239.6M562.4,239.9L571.7,240.1" stroke-width="5.7625"/>
<path d="M525.4,239.6C527.5,239.7 534.3,240.3 538.3,240.3C542.3,240.3 545.5,239.7 549.5,239.6C553.5,239.5 560.2,239.8 562.4,239.9" stroke-width="11.525"/>
<path d="M458.4,245.2L466,244.8M514.2,246.4L521.8,246.8" stroke-width="3.6375"/>
<path d="M466.0,244.8C468.7,244.7 476.8,243.9 482.1,244.0C487.5,244.1 492.8,245.2 498.1,245.6C503.5,246.0 511.5,246.3 514.2,246.4" stroke-width="7.275"/>
<path d="M559,248L562.4,248M576,248L579.4,248" stroke-width="4.5"/>
<path d="M562.4,248.0 L576.0,248.0" stroke-width="9"/>
<path d="M582.2,205.4L584.6,205.4M594.3,205.4L596.7,205.4" stroke-width="4"/>
<path d="M584.6,205.4 L594.3,205.4" stroke-width="8"/>
<path d="M661.9,205.4L666.5,205.4M685,205.4L689.6,205.4" stroke-width="3.5"/>
<path d="M666.5,205.4 L685.0,205.4" stroke-width="7"/>
<path d="M565.7,210.4L575,211.8M615.1,222.3L624.3,224.1" stroke-width="4.9"/>
<path d="M575.0,211.8C577.7,212.2 587.1,213.2 591.1,214.2C595.1,215.1 596.4,216.4 599.1,217.5C601.8,218.6 604.4,219.9 607.1,220.7C609.8,221.5 613.8,222.0 615.1,222.3" stroke-width="9.8"/>
<path d="M622.4,214.2L626.4,214.2M642.4,214.2L646.4,214.2" stroke-width="3"/>
<path d="M626.4,214.2 L642.4,214.2" stroke-width="6"/>
<path d="M669.8,214.2L671.4,214.2M677.8,214.2L679.4,214.2" stroke-width="2.5"/>
<path d="M671.4,214.2 L677.8,214.2" stroke-width="5"/>
<path d="M607.9,228.7L611.9,228.7M628,228.7L632,228.7" stroke-width="4.575"/>
<path d="M611.9,228.7 L628.0,228.7" stroke-width="9.15"/>
<path d="M628.4,222.8L636,223.1M685,224.7L692.6,224.9" stroke-width="3.6375"/>
<path d="M636.0,223.1C639.2,223.2 647.1,223.6 655.3,223.9C663.5,224.2 680.0,224.6 685.0,224.7" stroke-width="7.275"/>
<path d="M571,226.7L575,227.1M591.1,228.7L595.1,229.1" stroke-width="4"/>
<path d="M575.0,227.1 L591.1,228.7" stroke-width="8"/>
<path d="M569.8,245.1L575,245.1M595.9,244.4L601.1,244.1" stroke-width="5.4"/>
<path d="M575.0,245.1C576.6,245.1 581.1,245.2 584.6,245.1C588.1,245.0 594.0,244.5 595.9,244.4" stroke-width="10.8"/>
<path d="M589.2,245.7L595.9,244.1M623.2,240.7L630.1,240.4" stroke-width="4.575"/>
<path d="M595.9,244.1C597.8,243.7 602.5,242.1 607.1,241.5C611.7,240.9 620.5,240.8 623.2,240.7" stroke-width="9.15"/>
<path d="M628.4,236.2L636,236.7M685,239.6L692.6,240" stroke-width="3.6375"/>
<path d="M636.0,236.7C639.2,236.9 647.1,237.5 655.3,238.0C663.5,238.5 680.0,239.3 685.0,239.6" stroke-width="7.275"/>
<path d="M638,245.9L647.3,246.4M685,247.2L694.4,247.2" stroke-width="4.9"/>
<path d="M647.3,246.4C650.0,246.5 657.0,247.1 663.3,247.2C669.6,247.3 681.4,247.2 685.0,247.2" stroke-width="9.8"/>
<path d="M573,240.7L575,240.7M583,240.7L585,240.7" stroke-width="3"/>
<path d="M575.0,240.7 L583.0,240.7" stroke-width="6"/>
<path d="M282.1,254.6L286.1,254.6M302.2,254.6L306.2,254.6" stroke-width="3.375"/>
<path d="M286.1,254.6 L302.2,254.6" stroke-width="6.75"/>
<path d="M304.2,254.9L310.2,254.9M334.3,254.9L340.3,254.9" stroke-width="2.5"/>
<path d="M310.2,254.9 L334.3,254.9" stroke-width="5"/>
<path d="M243.6,267.2L249.2,265.8M271.7,260.2L277.3,258.8" stroke-width="3.5"/>
<path d="M249.2,265.8C251.3,265.3 258.4,263.5 262.1,262.6C265.9,261.7 270.1,260.6 271.7,260.2" stroke-width="7"/>
<path d="M303,256.9L310.2,256.5M356,256.5L363.2,256.7" stroke-width="3.375"/>
<path d="M310.2,256.5C312.9,256.4 318.7,255.7 326.3,255.7C333.9,255.7 351.1,256.4 356.0,256.5" stroke-width="6.75"/>
<path d="M237.3,278L246,277.1M356,277.1L364.5,279.1" stroke-width="4.425"/>
<path d="M246.0,277.1C248.7,276.8 256.8,276.2 262.1,275.5C267.5,274.8 272.8,273.5 278.1,272.6C283.5,271.7 288.9,270.8 294.2,270.2C299.5,269.6 304.8,269.3 310.2,269.1C315.6,268.9 320.9,268.3 326.3,269.1C331.7,269.9 337.4,272.6 342.4,273.9C347.3,275.2 353.7,276.6 356.0,277.1" stroke-width="8.85"/>
<path d="M256.1,275.2L262.1,274.7M286.1,272.6L292.1,272.1" stroke-width="4.9"/>
<path d="M262.1,274.7 L286.1,272.6" stroke-width="9.8"/>
<path d="M330.3,276L334.3,276.3M350.4,277.4L354.4,277.7" stroke-width="4.9"/>
<path d="M334.3,276.3 L350.4,277.4" stroke-width="9.8"/>
<path d="M287.2,278.3L297.4,278.7M342.4,280.3L352.6,280.7" stroke-width="5.5"/>
<path d="M297.4,278.7 L342.4,280.3" stroke-width="11"/>
<path d="M241.2,293.5L246,292.8M265.3,289.6L270.1,288.7" stroke-width="6.125"/>
<path d="M246.0,292.8C247.6,292.6 252.4,292.0 255.6,291.5C258.8,291.0 263.7,289.9 265.3,289.6" stroke-width="12.25"/>
<path d="M260.1,290.4L265.3,289.6M286.1,286.4L291.3,285.6" stroke-width="5.225"/>
<path d="M265.3,289.6 L286.1,286.4" stroke-width="10.45"/>
<path d="M280.1,286.6L286.1,286.1M310.2,284.3L316.2,283.9" stroke-width="3.9"/>
<path d="M286.1,286.1 L310.2,284.3" stroke-width="7.8"/>
<path d="M299.8,294L300.6,294M303.8,294L304.6,294" stroke-width="2"/>
<path d="M300.6,294.0 L303.8,294.0" stroke-width="4"/>
<path d="M328.9,300.4L334.3,300.4M356,300.4L361.4,300.4" stroke-width="3.9"/>
<path d="M334.3,300.4 L356.0,300.4" stroke-width="7.8"/>
<path d="M268.1,302L273.3,302M294.2,302L299.4,302" stroke-width="3.6375"/>
<path d="M273.3,302.0 L294.2,302.0" stroke-width="7.275"/>
<path d="M347.3,264.2L356,264.2M466,264.2L474.6,263.2" stroke-width="4.425"/>
<path d="M356.0,264.2C358.7,264.2 366.8,264.5 372.1,264.2C377.5,263.9 382.8,263.2 388.1,262.6C393.5,262.0 398.9,260.5 404.2,260.5C409.5,260.5 414.8,261.3 420.2,262.6C425.6,263.9 430.9,267.8 436.3,268.3C441.7,268.8 447.4,266.5 452.4,265.8C457.3,265.1 463.7,264.5 466.0,264.2" stroke-width="8.85"/>
<path d="M360,264.3L364,264.2M380.1,263.9L384.1,263.8" stroke-width="4.9"/>
<path d="M364.0,264.2 L380.1,263.9" stroke-width="9.8"/>
<path d="M421.1,268.2L425.1,268.3M441.1,268.7L445.1,268.8" stroke-width="4.9"/>
<path d="M425.1,268.3 L441.1,268.7" stroke-width="9.8"/>
<path d="M347.3,276.7L356,277.1M420.2,273.9L428.9,273" stroke-width="4.425"/>
<path d="M356.0,277.1C358.7,277.2 366.8,277.9 372.1,277.9C377.5,277.9 382.8,277.5 388.1,277.1C393.5,276.7 398.9,276.0 404.2,275.5C409.5,275.0 417.5,274.2 420.2,273.9" stroke-width="8.85"/>
<path d="M374.1,277.8L380.1,277.4M404.2,275.8L410.2,275.4" stroke-width="4.575"/>
<path d="M380.1,277.4 L404.2,275.8" stroke-width="9.15"/>
<path d="M428.9,269.1L436.3,269.1M466,269.1L473.4,269.1" stroke-width="5.5"/>
<path d="M436.3,269.1 L466.0,269.1" stroke-width="11"/>
<path d="M436.3,281.9L439.5,281.9M452.4,281.9L455.6,281.9" stroke-width="3"/>
<path d="M439.5,281.9 L452.4,281.9" stroke-width="6"/>
<path d="M350,295.6L356,295.6M380.1,295.6L386.1,295.6" stroke-width="3.5"/>
<path d="M356.0,295.6 L380.1,295.6" stroke-width="7"/>
<path d="M372.1,299.6L380.1,299.6M412.2,299.6L420.2,299.6" stroke-width="4.5"/>
<path d="M380.1,299.6 L412.2,299.6" stroke-width="9"/>
<path d="M416.2,298.8L420.2,298.8M436.3,298.8L440.3,298.8" stroke-width="3.5"/>
<path d="M420.2,298.8 L436.3,298.8" stroke-width="7"/>
<path d="M438.9,291.9L444.3,291.5M466,289.9L471.4,289.5" stroke-width="3.9"/>
<path d="M444.3,291.5 L466.0,289.9" stroke-width="7.8"/>
<path d="M506.2,257L511,257M530.2,257L535,257" stroke-width="3.5"/>
<path d="M511.0,257.0 L530.2,257.0" stroke-width="7"/>
<path d="M527.8,259.4L533.4,259.4M555.9,259.4L561.5,259.4" stroke-width="3.9"/>
<path d="M533.4,259.4 L555.9,259.4" stroke-width="7.8"/>
<path d="M458,269.1L466,269.1M576,267.5L583.9,267" stroke-width="3.9"/>
<path d="M466.0,269.1C468.7,269.1 476.8,268.8 482.1,269.1C487.5,269.4 492.8,270.4 498.1,270.7C503.5,271.0 508.9,271.0 514.2,270.7C519.6,270.4 524.9,269.5 530.2,269.1C535.6,268.7 540.9,268.4 546.3,268.3C551.7,268.2 557.4,268.4 562.4,268.3C567.4,268.2 573.7,267.6 576.0,267.5" stroke-width="7.8"/>
<path d="M462.8,269.1L466,269.1M478.8,269.1L482,269.1" stroke-width="4.9"/>
<path d="M466.0,269.1 L478.8,269.1" stroke-width="9.8"/>
<path d="M542.3,268.3L546.3,268.3M562.4,268.3L566.4,268.3" stroke-width="4.575"/>
<path d="M546.3,268.3 L562.4,268.3" stroke-width="9.15"/>
<path d="M460,284.3L466,284.3M490.1,284.3L496.1,284.3" stroke-width="4.5"/>
<path d="M466.0,284.3 L490.1,284.3" stroke-width="9"/>
<path d="M508.2,282.3L514.2,282.7M538.3,284.3L544.3,284.7" stroke-width="3.6375"/>
<path d="M514.2,282.7 L538.3,284.3" stroke-width="7.275"/>
<path d="M560,281.9L562.4,281.9M572,281.9L574.4,281.9" stroke-width="2.5"/>
<path d="M562.4,281.9 L572.0,281.9" stroke-width="5"/>
<path d="M457.7,289.1L466,289.9M576,293.1L584.3,293.5" stroke-width="4.1625"/>
<path d="M466.0,289.9C468.7,290.2 476.8,291.0 482.1,291.5C487.5,292.0 492.8,293.1 498.1,293.1C503.5,293.1 508.9,291.6 514.2,291.5C519.6,291.4 524.9,292.3 530.2,292.3C535.6,292.3 538.7,291.4 546.3,291.5C553.9,291.6 571.0,292.8 576.0,293.1" stroke-width="8.325"/>
<path d="M478.1,292.7L482.1,292.8M498.1,293.1L502.1,293.2" stroke-width="4.9"/>
<path d="M482.1,292.8 L498.1,293.1" stroke-width="9.8"/>
<path d="M532.3,300.4L538.3,300.4M562.4,300.4L568.4,300.4" stroke-width="3.5"/>
<path d="M538.3,300.4 L562.4,300.4" stroke-width="7"/>
<path d="M594.3,255.4L602.3,255.4M639.2,255.4L647.2,255.4" stroke-width="3.9"/>
<path d="M602.3,255.4 L639.2,255.4" stroke-width="7.8"/>
<path d="M609.1,255L615.1,255.2M639.2,255.9L645.2,256.1" stroke-width="4.575"/>
<path d="M615.1,255.2 L639.2,255.9" stroke-width="9.15"/>
<path d="M567,267.9L575,268.3M607.1,269.1L615.1,269.1" stroke-width="4"/>
<path d="M575.0,268.3C577.7,268.4 585.8,269.0 591.1,269.1C596.5,269.2 604.4,269.1 607.1,269.1" stroke-width="8"/>
<path d="M630,257L639.2,258.6M685,267.8L694.1,269.9" stroke-width="4.9"/>
<path d="M639.2,258.6C641.9,259.1 649.9,260.4 655.3,261.4C660.7,262.4 666.4,263.5 671.4,264.6C676.4,265.7 682.7,267.3 685.0,267.8" stroke-width="9.8"/>
<path d="M583.1,282.3L591.1,281.9M663.3,278.7L671.1,280.3" stroke-width="3.9"/>
<path d="M591.1,281.9C593.8,281.8 601.8,282.1 607.1,281.1C612.5,280.1 617.9,277.0 623.2,275.8C628.6,274.6 633.9,274.0 639.2,274.2C644.6,274.4 651.3,276.4 655.3,277.1C659.3,277.9 662.0,278.4 663.3,278.7" stroke-width="7.8"/>
<path d="M571,271.5L575,271.5M591.1,271.5L595.1,271.5" stroke-width="3.5"/>
<path d="M575.0,271.5 L591.1,271.5" stroke-width="7"/>
<path d="M633.6,280.7L639.2,281.1M661.7,282.7L667.3,283.1" stroke-width="4.5"/>
<path d="M639.2,281.1 L661.7,282.7" stroke-width="9"/>
<path d="M571,284.9L575,285.1M591.1,285.9L595.1,286.1" stroke-width="3.9"/>
<path d="M575.0,285.1 L591.1,285.9" stroke-width="7.8"/>
<path d="M599.3,293.7L607.1,295.1M639.2,299.9L647.1,300.8" stroke-width="3.9"/>
<path d="M607.1,295.1C609.8,295.6 617.9,297.2 623.2,298.0C628.6,298.8 636.5,299.6 639.2,299.9" stroke-width="7.8"/>
<path d="M619.2,298.6L623.2,298.9M639.2,299.9L643.2,300.1" stroke-width="4.575"/>
<path d="M623.2,298.9 L639.2,299.9" stroke-width="9.15"/>
<path d="M657.9,290.6L663.3,291.5M685,295.1L690.4,296" stroke-width="4.9"/>
<path d="M663.3,291.5 L685.0,295.1" stroke-width="9.8"/>
<path d="M570.2,296.4L575,296.4M594.3,296.4L599.1,296.4" stroke-width="4.425"/>
<path d="M575.0,296.4 L594.3,296.4" stroke-width="8.85"/>
<path d="M262.5,304.6L270.1,304.6M302.2,304.6L309.8,304.6" stroke-width="3.6375"/>
<path d="M270.1,304.6 L302.2,304.6" stroke-width="7.275"/>
<path d="M238,309.8L246,309.4M294.2,312.6L302.1,313.8" stroke-width="3.9"/>
<path d="M246.0,309.4C248.7,309.3 256.8,308.5 262.1,308.6C267.5,308.7 272.8,309.5 278.1,310.2C283.5,310.9 291.5,312.2 294.2,312.6" stroke-width="7.8"/>
<path d="M242.8,320.9L246,320.7M258.8,319.9L262,319.7" stroke-width="5.4"/>
<path d="M246.0,320.7 L258.8,319.9" stroke-width="10.8"/>
<path d="M254.8,320L258.8,319.5M274.9,317.5L278.9,317" stroke-width="4.9"/>
<path d="M258.8,319.5 L274.9,317.5" stroke-width="9.8"/>
<path d="M286.2,322.9L294.2,323.1M326.3,323.9L334.3,324.1" stroke-width="5.5"/>
<path d="M294.2,323.1 L326.3,323.9" stroke-width="11"/>
<path d="M237.3,337.1L246,336.7M356,331.1L364.7,330.6" stroke-width="4.425"/>
<path d="M246.0,336.7C248.7,336.6 256.8,336.3 262.1,335.9C267.5,335.5 272.8,334.9 278.1,334.3C283.5,333.7 288.9,332.6 294.2,332.2C299.5,331.8 304.8,331.7 310.2,331.9C315.6,332.1 320.9,333.5 326.3,333.5C331.7,333.5 337.4,332.3 342.4,331.9C347.3,331.5 353.7,331.2 356.0,331.1" stroke-width="8.85"/>
<path d="M278.1,332.3L286.1,332.2M318.3,331.9L326.4,331.8" stroke-width="4.9"/>
<path d="M286.1,332.2 L318.3,331.9" stroke-width="9.8"/>
<path d="M331.9,331.3L335.9,331.3M352,331.3L356,331.3" stroke-width="4.9"/>
<path d="M335.9,331.3 L352.0,331.3" stroke-width="9.8"/>
<path d="M244,349.6L246,349.6M254,349.6L256,349.6" stroke-width="4.425"/>
<path d="M246.0,349.6 L254.0,349.6" stroke-width="8.85"/>
<path d="M264.1,344L270.1,344M294.2,344L300.2,344" stroke-width="4"/>
<path d="M270.1,344.0 L294.2,344.0" stroke-width="8"/>
<path d="M288.2,348L294.2,348M318.3,348L324.3,348" stroke-width="4.5"/>
<path d="M294.2,348.0 L318.3,348.0" stroke-width="9"/>
<path d="M339,350.2L342.4,350.4M356,351.2L359.4,351.4" stroke-width="4.425"/>
<path d="M342.4,350.4 L356.0,351.2" stroke-width="8.85"/>
<path d="M368.1,305.4L372.1,305.4M388.1,305.4L392.1,305.4" stroke-width="4"/>
<path d="M372.1,305.4 L388.1,305.4" stroke-width="8"/>
<path d="M403,306.8L409,307M433.1,307.8L439.1,308" stroke-width="3.9"/>
<path d="M409.0,307.0 L433.1,307.8" stroke-width="7.8"/>
<path d="M413,307.7L417,307.8M433.1,308.1L437.1,308.2" stroke-width="4.575"/>
<path d="M417.0,307.8 L433.1,308.1" stroke-width="9.15"/>
<path d="M428.9,309L436.3,309.4M466,309.4L473.4,309" stroke-width="4.9"/>
<path d="M436.3,309.4C439.0,309.5 447.4,310.2 452.4,310.2C457.3,310.2 463.7,309.5 466.0,309.4" stroke-width="9.8"/>
<path d="M348,318.9L356,319.1M388.1,319.9L396.1,320.1" stroke-width="5.5"/>
<path d="M356.0,319.1 L388.1,319.9" stroke-width="11"/>
<path d="M348.4,319.5L356,319.1M388.1,320.7L395.6,321.8" stroke-width="3.6375"/>
<path d="M356.0,319.1C358.7,319.0 366.8,318.0 372.1,318.3C377.5,318.6 385.4,320.3 388.1,320.7" stroke-width="7.275"/>
<path d="M380.2,324.5L388.1,323.9M466,323.9L473.9,324.3" stroke-width="3.9"/>
<path d="M388.1,323.9C390.8,323.7 398.9,323.1 404.2,322.6C409.5,322.1 414.8,321.1 420.2,321.0C425.6,320.9 428.7,321.8 436.3,322.3C443.9,322.8 461.1,323.6 466.0,323.9" stroke-width="7.8"/>
<path d="M432.3,322.2L436.3,322.3M452.4,322.6L456.4,322.7" stroke-width="4.575"/>
<path d="M436.3,322.3 L452.4,322.6" stroke-width="9.15"/>
<path d="M363.3,329.9L372.1,330.3M412.2,331.9L421,332.3" stroke-width="4.5"/>
<path d="M372.1,330.3 L412.2,331.9" stroke-width="9"/>
<path d="M364.5,330L372.1,330.3M412.2,331.9L419.8,332.2" stroke-width="3.6375"/>
<path d="M372.1,330.3 L412.2,331.9" stroke-width="7.275"/>
<path d="M439.5,337.5L441.1,337.5M447.5,337.5L449.1,337.5" stroke-width="2.5"/>
<path d="M441.1,337.5 L447.5,337.5" stroke-width="5"/>
<path d="M354,341.5L356,341.5M364,341.5L366,341.5" stroke-width="3.9"/>
<path d="M356.0,341.5 L364.0,341.5" stroke-width="7.8"/>
<path d="M382.1,343.4L388.1,343.5M412.2,344L418.2,344.1" stroke-width="3.5"/>
<path d="M388.1,343.5 L412.2,344.0" stroke-width="7"/>
<path d="M425.5,351.2L428.3,351.2M439.5,351.2L442.3,351.2" stroke-width="4.9"/>
<path d="M428.3,351.2 L439.5,351.2" stroke-width="9.8"/>
<path d="M414.2,352L420.2,352M444.3,352L450.3,352" stroke-width="4.95"/>
<path d="M420.2,352.0 L444.3,352.0" stroke-width="9.9"/>
<path d="M449,347.6L452.4,348M466,349.6L469.4,350" stroke-width="4.95"/>
<path d="M452.4,348.0 L466.0,349.6" stroke-width="9.9"/>
<path d="M462,310.6L466,311M482.1,312.6L486.1,313" stroke-width="4.425"/>
<path d="M466.0,311.0 L482.1,312.6" stroke-width="8.85"/>
<path d="M466.8,310L469.2,310.2M478.8,311L481.2,311.2" stroke-width="4.575"/>
<path d="M469.2,310.2 L478.8,311.0" stroke-width="9.15"/>
<path d="M494.9,314.8L501.3,316.2M527,321L533.5,322" stroke-width="4.9"/>
<path d="M501.3,316.2C503.5,316.7 509.9,318.3 514.2,319.1C518.5,319.9 524.9,320.7 527.0,321.0" stroke-width="9.8"/>
<path d="M523.2,314.2L533.4,314.2M576,314.2L586.2,314.2" stroke-width="5.5"/>
<path d="M533.4,314.2 L576.0,314.2" stroke-width="11"/>
<path d="M525.5,322.4L533.4,323.1M576,317.8L583.7,316" stroke-width="3.9"/>
<path d="M533.4,323.1C535.5,323.3 541.5,324.6 546.3,324.2C551.1,323.8 557.4,322.1 562.4,321.0C567.4,319.9 573.7,318.3 576.0,317.8" stroke-width="7.8"/>
<path d="M559,315L562.4,315M576,315L579.4,315" stroke-width="3.6375"/>
<path d="M562.4,315.0 L576.0,315.0" stroke-width="7.275"/>
<path d="M460.8,326.7L466,327.1M486.9,328.7L492.1,329.1" stroke-width="4.425"/>
<path d="M466.0,327.1 L486.9,328.7" stroke-width="8.85"/>
<path d="M476,328.5L478.8,328.7M490.1,329.5L492.9,329.7" stroke-width="4.575"/>
<path d="M478.8,328.7 L490.1,329.5" stroke-width="9.15"/>
<path d="M484.9,337.5L490.1,338.3M511,341.5L516.2,342.3" stroke-width="4.425"/>
<path d="M490.1,338.3 L511.0,341.5" stroke-width="8.85"/>
<path d="M489.7,338.5L493.3,339.1M507.8,341.5L511.4,342.1" stroke-width="4.575"/>
<path d="M493.3,339.1 L507.8,341.5" stroke-width="9.15"/>
<path d="M462.8,346L466,346.4M478.8,348L482,348.4" stroke-width="4.425"/>
<path d="M466.0,346.4 L478.8,348.0" stroke-width="8.85"/>
<path d="M523.2,347.8L533.4,348M576,348.8L586.2,349" stroke-width="5.5"/>
<path d="M533.4,348.0 L576.0,348.8" stroke-width="11"/>
<path d="M526.1,345.2L533.4,344.8M562.4,343.1L569.6,342.7" stroke-width="3.9"/>
<path d="M533.4,344.8 L562.4,343.1" stroke-width="7.8"/>
<path d="M464.4,323.9L466,323.9M472.4,323.9L474,323.9" stroke-width="2.5"/>
<path d="M466.0,323.9 L472.4,323.9" stroke-width="5"/>
<path d="M623.2,305.4L631.2,305.4M685,305.4L693,305.4" stroke-width="3.9"/>
<path d="M631.2,305.4 L685.0,305.4" stroke-width="7.8"/>
<path d="M566.3,320L575,319.1M620,313L628.5,311.2" stroke-width="4.425"/>
<path d="M575.0,319.1C577.7,318.8 585.8,318.1 591.1,317.5C596.5,316.9 602.3,316.6 607.1,315.8C611.9,315.1 617.9,313.5 620.0,313.0" stroke-width="8.85"/>
<path d="M572.6,319.1L575,319.1M584.6,319.1L587,319.1" stroke-width="4.9"/>
<path d="M575.0,319.1 L584.6,319.1" stroke-width="9.8"/>
<path d="M593.1,317.7L595.9,317.5M607.1,316.7L609.9,316.5" stroke-width="4.575"/>
<path d="M595.9,317.5 L607.1,316.7" stroke-width="9.15"/>
<path d="M595.1,309.7L599.1,309.4M615.1,308.1L619.1,307.8" stroke-width="3.6375"/>
<path d="M599.1,309.4 L615.1,308.1" stroke-width="7.275"/>
<path d="M607.2,326.3L615.1,325.5M663.3,323.9L671.3,324.3" stroke-width="3.9"/>
<path d="M615.1,325.5C617.8,325.2 625.8,324.3 631.2,323.9C636.6,323.5 641.9,323.1 647.3,323.1C652.6,323.1 660.6,323.8 663.3,323.9" stroke-width="7.8"/>
<path d="M668,319.1L671.4,319.1M685,319.1L688.4,319.1" stroke-width="5.5"/>
<path d="M671.4,319.1 L685.0,319.1" stroke-width="11"/>
<path d="M645.7,337.5L652.1,337.5M677.8,337.5L684.2,337.5" stroke-width="6.5"/>
<path d="M652.1,337.5 L677.8,337.5" stroke-width="13"/>
<path d="M654.5,335.9L658.5,335.9M674.6,335.9L678.6,335.9" stroke-width="3.9"/>
<path d="M658.5,335.9 L674.6,335.9" stroke-width="7.8"/>
<path d="M566.5,339.8L575,341.5M636,344.8L644.7,344.8" stroke-width="4.425"/>
<path d="M575.0,341.5C577.7,342.1 585.8,344.1 591.1,344.8C596.5,345.5 601.8,345.6 607.1,345.6C612.5,345.6 618.4,344.9 623.2,344.8C628.0,344.7 633.9,344.8 636.0,344.8" stroke-width="8.85"/>
<path d="M585,345L587.8,345.1M599.1,345.7L601.9,345.8" stroke-width="4.9"/>
<path d="M587.8,345.1 L599.1,345.7" stroke-width="9.8"/>
<path d="M569,352L575,352M599.1,352L605.1,352" stroke-width="3.5"/>
<path d="M575.0,352.0 L599.1,352.0" stroke-width="7"/>
<path d="M674.6,350.4L675.4,350.4M678.6,350.4L679.4,350.4" stroke-width="2.5"/>
<path d="M675.4,350.4 L678.6,350.4" stroke-width="5"/>
<path d="M681,341.5L681.8,341.5M685,341.5L685.8,341.5" stroke-width="2"/>
<path d="M681.8,341.5 L685.0,341.5" stroke-width="4"/>
</g>
<g stroke="#ffe400">
<path d="M242.7,62.5L246,62.4M259.1,61.1L262.3,60.4" stroke-width="3.6"/>
<path d="M246.0,62.4C247.3,62.4 251.7,62.4 253.9,62.2C256.1,62.0 258.2,61.3 259.1,61.1" stroke-width="7.2"/>
<path d="M240.7,73.6L246,73.3M267,69.8L272.2,68.5" stroke-width="3.925"/>
<path d="M246.0,73.3C247.3,73.2 251.5,73.2 253.9,72.9C256.3,72.6 258.2,71.9 260.4,71.4C262.6,70.9 265.9,70.1 267.0,69.8" stroke-width="7.85"/>
<path d="M259.6,71.1L267,69.8M301,65.5L308.5,64.9" stroke-width="3.6"/>
<path d="M267.0,69.8C269.0,69.5 275.1,68.3 278.8,67.7C282.5,67.1 285.6,66.8 289.3,66.4C293.0,66.0 299.1,65.7 301.0,65.5" stroke-width="7.2"/>
<path d="M238.5,83.5L246,83.2M301,81.2L308.5,80.5" stroke-width="3.6"/>
<path d="M246.0,83.2C247.3,83.2 251.5,83.1 253.9,82.9C256.3,82.7 257.3,82.4 260.4,81.9C263.4,81.5 268.9,80.5 272.2,80.2C275.5,79.9 277.9,79.8 280.1,79.9C282.3,80.0 283.2,80.3 285.4,80.6C287.6,80.9 290.6,81.8 293.2,81.9C295.8,82.0 299.7,81.3 301.0,81.2" stroke-width="7.2"/>
<path d="M266.3,80.8L268.3,80.6M276.2,79.9L278.2,79.7" stroke-width="2.95"/>
<path d="M268.3,80.6 L276.2,79.9" stroke-width="5.9"/>
<path d="M250.6,93.4L259.1,93M298.5,93L307,92.4" stroke-width="4.275"/>
<path d="M259.1,93.0C261.3,92.9 268.7,92.4 272.2,92.4C275.7,92.4 277.2,92.8 280.1,93.0C283.0,93.2 286.2,93.7 289.3,93.7C292.4,93.7 297.0,93.1 298.5,93.0" stroke-width="8.55"/>
<path d="M282.3,93.9L284.1,93.9M291.3,93.9L293.1,93.9" stroke-width="2.95"/>
<path d="M284.1,93.9 L291.3,93.9" stroke-width="5.9"/>
<path d="M293.5,68.5L301,67.4M336.4,61.5L343.9,60.4" stroke-width="3.6"/>
<path d="M301.0,67.4C303.2,67.1 309.7,66.3 314.1,65.5C318.5,64.7 323.5,63.5 327.2,62.8C330.9,62.1 334.9,61.7 336.4,61.5" stroke-width="7.2"/>
<path d="M348,61.6L349.6,61.5M356,60.9L357.6,60.8" stroke-width="2.5"/>
<path d="M349.6,61.5 L356.0,60.9" stroke-width="5"/>
<path d="M296.1,77.8L301,77.3M320.7,75L325.6,74.3" stroke-width="3.6"/>
<path d="M301.0,77.3C302.5,77.2 306.9,76.8 310.2,76.4C313.5,76.0 318.9,75.2 320.7,75.0" stroke-width="7.2"/>
<path d="M328.9,83.8L333.8,83.8M353.5,83.8L358.4,83.8" stroke-width="2.925"/>
<path d="M333.8,83.8 L353.5,83.8" stroke-width="5.85"/>
<path d="M328.9,93.7L333.8,93.7M353.5,93.7L358.4,93.7" stroke-width="3.6"/>
<path d="M333.8,93.7 L353.5,93.7" stroke-width="7.2"/>
<path d="M299.7,96L301,96.3M306.2,97.6L307.5,97.9" stroke-width="3.6"/>
<path d="M301.0,96.3 L306.2,97.6" stroke-width="7.2"/>
<path d="M348.5,64.1L356,63.4M466,60.2L473.5,60.2" stroke-width="3.6"/>
<path d="M356.0,63.4C358.7,63.1 366.8,62.2 372.1,61.8C377.5,61.4 383.3,61.3 388.1,61.0C392.9,60.7 395.6,60.2 401.0,60.2C406.4,60.2 413.0,61.0 420.2,61.0C427.4,61.0 436.7,60.3 444.3,60.2C451.9,60.1 462.4,60.2 466.0,60.2" stroke-width="7.2"/>
<path d="M348,73.3L356,73.1M412.2,72.3L420.2,72.7" stroke-width="3.9375"/>
<path d="M356.0,73.1C358.7,73.0 366.8,72.7 372.1,72.6C377.5,72.5 382.8,72.4 388.1,72.3C393.5,72.2 400.2,71.9 404.2,71.9C408.2,71.9 410.9,72.2 412.2,72.3" stroke-width="7.875"/>
<path d="M405.4,72.3L412.2,72.3M439.5,73.4L446.3,73.9" stroke-width="3.925"/>
<path d="M412.2,72.3C414.4,72.3 420.6,72.1 425.1,72.3C429.7,72.5 437.1,73.2 439.5,73.4" stroke-width="7.85"/>
<path d="M437.1,73.4L439.5,73.4M449.1,73.6L451.5,73.6" stroke-width="3.9375"/>
<path d="M439.5,73.4 L449.1,73.6" stroke-width="7.875"/>
<path d="M444.9,73.8L449.1,73.9M466,74.2L470.2,74.3" stroke-width="3.6"/>
<path d="M449.1,73.9 L466.0,74.2" stroke-width="7.2"/>
<path d="M366,84.9L368.8,85.1M380.1,85.9L382.9,86.1" stroke-width="3.2625"/>
<path d="M368.8,85.1 L380.1,85.9" stroke-width="6.525"/>
<path d="M396.2,83.5L404.2,83.5M445.9,85.1L453.9,85.1" stroke-width="3.9375"/>
<path d="M404.2,83.5C406.9,83.5 414.8,83.2 420.2,83.5C425.6,83.8 432.0,84.8 436.3,85.1C440.6,85.4 444.3,85.1 445.9,85.1" stroke-width="7.875"/>
<path d="M417,83.5L420.2,83.8M433.1,84.8L436.3,85" stroke-width="2.95"/>
<path d="M420.2,83.8 L433.1,84.8" stroke-width="5.9"/>
<path d="M449,83.9L452.4,83.5M466,81.9L469.4,81.5" stroke-width="3.6"/>
<path d="M452.4,83.5 L466.0,81.9" stroke-width="7.2"/>
<path d="M453,83L455.6,82.7M466,81.6L468.6,81.3" stroke-width="2.95"/>
<path d="M455.6,82.7 L466.0,81.6" stroke-width="5.9"/>
<path d="M357.2,93.1L360.8,93.1M375.3,93.1L378.9,93.1" stroke-width="3.6"/>
<path d="M360.8,93.1 L375.3,93.1" stroke-width="7.2"/>
<path d="M401,95.8L409,96M466,93.1L474,92.5" stroke-width="3.9375"/>
<path d="M409.0,96.0C412.2,96.1 422.4,96.6 428.3,96.4C434.2,96.2 438.0,95.3 444.3,94.8C450.6,94.2 462.4,93.4 466.0,93.1" stroke-width="7.875"/>
<path d="M444.9,94.6L449.1,94.3M466,93.1L470.2,92.8" stroke-width="2.95"/>
<path d="M449.1,94.3 L466.0,93.1" stroke-width="5.9"/>
<path d="M503.3,55.4L506.1,55.4M517.4,55.4L520.2,55.4" stroke-width="2.925"/>
<path d="M506.1,55.4 L517.4,55.4" stroke-width="5.85"/>
<path d="M538.7,59.4L541.5,59.4M552.7,59.4L555.5,59.4" stroke-width="3.9375"/>
<path d="M541.5,59.4 L552.7,59.4" stroke-width="7.875"/>
<path d="M458,60.2L466,61M507.8,65L515.8,65.5" stroke-width="3.9375"/>
<path d="M466.0,61.0C468.7,61.3 477.3,62.1 482.1,62.6C486.9,63.1 490.6,63.8 494.9,64.2C499.2,64.6 505.6,64.9 507.8,65.0" stroke-width="7.875"/>
<path d="M466.8,61.5L470.8,61.8M486.9,63.1L490.9,63.4" stroke-width="3.6"/>
<path d="M470.8,61.8 L486.9,63.1" stroke-width="7.2"/>
<path d="M508.5,63.3L515.8,65M549.5,74.7L556.6,77.3" stroke-width="3.6"/>
<path d="M515.8,65.0C518.2,65.5 525.7,67.1 530.2,68.3C534.8,69.5 539.9,71.2 543.1,72.3C546.3,73.4 548.4,74.3 549.5,74.7" stroke-width="7.2"/>
<path d="M458.5,73.5L466,73.9M514.2,76.8L521.7,77.4" stroke-width="3.6"/>
<path d="M466.0,73.9C468.7,74.0 476.8,74.4 482.1,74.7C487.5,75.0 492.8,75.2 498.1,75.5C503.5,75.8 511.5,76.6 514.2,76.8" stroke-width="7.2"/>
<path d="M457.6,81.9L466,82.7M554.3,96.4L562.7,97.4" stroke-width="4.25"/>
<path d="M466.0,82.7C468.7,83.0 476.8,83.6 482.1,84.3C487.5,85.0 492.8,85.9 498.1,86.7C503.5,87.5 508.9,88.0 514.2,89.1C519.6,90.2 525.4,92.1 530.2,93.1C535.0,94.1 539.1,94.5 543.1,95.1C547.1,95.6 552.4,96.2 554.3,96.4" stroke-width="8.5"/>
<path d="M458.5,95.3L466,96.4M514.2,102.9L521.7,103.7" stroke-width="3.6"/>
<path d="M466.0,96.4C468.7,96.8 476.8,98.0 482.1,98.8C487.5,99.6 492.8,100.5 498.1,101.2C503.5,101.9 511.5,102.6 514.2,102.9" stroke-width="7.2"/>
<path d="M459.4,95.4L466,96.4M493.3,100.5L499.9,101.5" stroke-width="2.95"/>
<path d="M466.0,96.4C468.7,96.8 477.6,98.1 482.1,98.8C486.7,99.5 491.4,100.2 493.3,100.5" stroke-width="5.9"/>
<path d="M544.9,71.1L551.1,70.7M576,69.9L582.2,69.9" stroke-width="3.9375"/>
<path d="M551.1,70.7C553.0,70.6 558.2,70.0 562.4,69.9C566.5,69.8 573.7,69.9 576.0,69.9" stroke-width="7.875"/>
<path d="M556.7,93.1L559.1,93.1M568.8,93.1L571.2,93.1" stroke-width="3.6"/>
<path d="M559.1,93.1 L568.8,93.1" stroke-width="7.2"/>
<path d="M587.9,53.8L591.1,53.8M603.9,53.8L607.1,53.8" stroke-width="2.925"/>
<path d="M591.1,53.8 L603.9,53.8" stroke-width="5.85"/>
<path d="M599.9,65L602.3,65M611.9,65L614.3,65" stroke-width="3.2625"/>
<path d="M602.3,65.0 L611.9,65.0" stroke-width="6.525"/>
<path d="M566.6,68.7L575,69.9M610.3,85.9L618.3,88.6" stroke-width="4.275"/>
<path d="M575.0,69.9C576.9,70.2 583.0,70.4 586.2,71.5C589.4,72.6 591.9,74.4 594.3,76.3C596.7,78.2 598.0,81.1 600.7,82.7C603.4,84.3 608.7,85.4 610.3,85.9" stroke-width="8.55"/>
<path d="M611.1,86.7L615.1,86.7M631.2,86.7L635.2,86.7" stroke-width="3.9375"/>
<path d="M615.1,86.7 L631.2,86.7" stroke-width="7.875"/>
<path d="M657.9,87.5L663.3,87.5M685,87.5L690.4,87.5" stroke-width="3.9375"/>
<path d="M663.3,87.5 L685.0,87.5" stroke-width="7.875"/>
<path d="M600.7,98.4L603.9,98.8M616.8,100.4L620,100.8" stroke-width="2.925"/>
<path d="M603.9,98.8 L616.8,100.4" stroke-width="5.85"/>
<path d="M237.6,112.3L246,111M318.3,110.2L326.6,111.8" stroke-width="4.275"/>
<path d="M246.0,111.0C248.7,110.6 256.8,109.3 262.1,108.6C267.5,107.9 272.8,107.3 278.1,107.0C283.5,106.7 288.9,106.7 294.2,107.0C299.5,107.3 306.2,108.1 310.2,108.6C314.2,109.1 316.9,109.9 318.3,110.2" stroke-width="8.55"/>
<path d="M248,110.8L250.8,110.5M262.1,109.1L264.9,108.8" stroke-width="3.275"/>
<path d="M250.8,110.5 L262.1,109.1" stroke-width="6.55"/>
<path d="M268.5,107.6L271.7,107.5M284.5,107L287.7,106.9" stroke-width="2.95"/>
<path d="M271.7,107.5 L284.5,107.0" stroke-width="5.9"/>
<path d="M319.2,108.8L326.3,108.6M356,107.8L363.1,107.6" stroke-width="3.2625"/>
<path d="M326.3,108.6 L356.0,107.8" stroke-width="6.525"/>
<path d="M270.1,119.9L273.3,119.9M286.1,119.9L289.3,119.9" stroke-width="3.2625"/>
<path d="M273.3,119.9 L286.1,119.9" stroke-width="6.525"/>
<path d="M308.2,121.9L316.7,122.3M356,122.3L364.5,122" stroke-width="4.275"/>
<path d="M316.7,122.3C319.6,122.4 327.8,123.1 334.3,123.1C340.9,123.1 352.4,122.4 356.0,122.3" stroke-width="8.55"/>
<path d="M315.6,122.9L323.1,122.8M356,122.4L363.5,122.3" stroke-width="3.6"/>
<path d="M323.1,122.8 L356.0,122.4" stroke-width="7.2"/>
<path d="M256,125.5L258.8,125.5M270.1,125.5L272.9,125.5" stroke-width="3.2625"/>
<path d="M258.8,125.5 L270.1,125.5" stroke-width="6.525"/>
<path d="M272.9,129.9L278.1,130.3M299,129.5L304.2,128.8" stroke-width="4.275"/>
<path d="M278.1,130.3C279.7,130.4 284.3,131.2 287.8,131.1C291.3,131.0 297.1,129.8 299.0,129.5" stroke-width="8.55"/>
<path d="M280.5,131.8L282.9,131.6M292.6,130.9L295,130.7" stroke-width="3.275"/>
<path d="M282.9,131.6 L292.6,130.9" stroke-width="6.55"/>
<path d="M295,134.1L299,135.1M315.1,139.1L319.1,140.1" stroke-width="3.6"/>
<path d="M299.0,135.1 L315.1,139.1" stroke-width="7.2"/>
<path d="M238.6,142.9L246,141.5M278.1,139.1L285.5,140.6" stroke-width="3.6"/>
<path d="M246.0,141.5C248.1,141.1 254.8,139.8 258.8,139.1C262.8,138.4 266.9,137.5 270.1,137.5C273.3,137.5 276.8,138.8 278.1,139.1" stroke-width="7.2"/>
<path d="M294.2,145L302.2,145.6M339.1,148.8L347.1,149.3" stroke-width="3.9375"/>
<path d="M302.2,145.6C304.1,145.7 309.4,146.0 313.4,146.4C317.4,146.8 322.0,147.6 326.3,148.0C330.6,148.4 337.0,148.7 339.1,148.8" stroke-width="7.875"/>
<path d="M304.2,145.8L307,146M318.3,146.7L321.1,146.9" stroke-width="3.275"/>
<path d="M307.0,146.0 L318.3,146.7" stroke-width="6.55"/>
<path d="M254,149.6L258.8,149.6M278.1,149.6L282.9,149.6" stroke-width="3.2625"/>
<path d="M258.8,149.6 L278.1,149.6" stroke-width="6.525"/>
<path d="M352.8,106.2L356,106.2M368.8,106.2L372,106.2" stroke-width="3.6"/>
<path d="M356.0,106.2 L368.8,106.2" stroke-width="7.2"/>
<path d="M394.6,106.2L397.8,106.2M410.6,106.2L413.8,106.2" stroke-width="3.2625"/>
<path d="M397.8,106.2 L410.6,106.2" stroke-width="6.525"/>
<path d="M347.6,122.8L356,121.5M409,114.6L417.2,112.4" stroke-width="4.275"/>
<path d="M356.0,121.5C358.7,121.1 366.8,119.8 372.1,119.1C377.5,118.4 383.3,117.9 388.1,117.5C392.9,117.1 397.5,117.2 401.0,116.7C404.5,116.2 407.7,114.9 409.0,114.6" stroke-width="8.55"/>
<path d="M350,122.3L356,121.5M380.1,118.3L386.1,117.5" stroke-width="3.6"/>
<path d="M356.0,121.5C357.6,121.3 361.6,120.8 365.6,120.3C369.6,119.8 377.7,118.6 380.1,118.3" stroke-width="7.2"/>
<path d="M415.9,115.2L423.4,115.8M466,118.7L473.5,119.1" stroke-width="3.6"/>
<path d="M423.4,115.8C426.9,116.1 437.2,117.0 444.3,117.5C451.4,118.0 462.4,118.5 466.0,118.7" stroke-width="7.2"/>
<path d="M403.8,123.1L412.2,123.9M466,129.5L474.4,130.4" stroke-width="4.275"/>
<path d="M412.2,123.9C414.9,124.2 422.9,125.0 428.3,125.5C433.7,126.0 438.0,126.4 444.3,127.1C450.6,127.8 462.4,129.1 466.0,129.5" stroke-width="8.55"/>
<path d="M406.2,123.3L412.2,123.9M436.3,126.4L442.3,127.1" stroke-width="3.6"/>
<path d="M412.2,123.9C414.9,124.2 424.3,125.1 428.3,125.5C432.3,125.9 435.0,126.2 436.3,126.4" stroke-width="7.2"/>
<path d="M348.5,136.2L356,135.1M404.2,130.3L411.7,129.9" stroke-width="3.6"/>
<path d="M356.0,135.1C358.7,134.7 366.8,133.4 372.1,132.7C377.5,132.0 382.8,131.5 388.1,131.1C393.5,130.7 401.5,130.4 404.2,130.3" stroke-width="7.2"/>
<path d="M430.7,140.7L436.3,140.7M458.8,140.7L464.4,140.7" stroke-width="3.6"/>
<path d="M436.3,140.7 L458.8,140.7" stroke-width="7.2"/>
<path d="M347.6,147.7L356,146.4M436.3,152L444.4,154.4" stroke-width="4.275"/>
<path d="M356.0,146.4C358.7,146.0 366.8,144.7 372.1,144.0C377.5,143.3 382.8,142.6 388.1,142.3C393.5,142.0 399.4,141.8 404.2,142.3C409.0,142.9 413.0,144.4 417.0,145.6C421.0,146.8 425.1,148.5 428.3,149.6C431.5,150.7 435.0,151.6 436.3,152.0" stroke-width="8.55"/>
<path d="M395,142.2L397.8,142.3M409,142.5L411.8,142.6" stroke-width="3.6"/>
<path d="M397.8,142.3 L409.0,142.5" stroke-width="7.2"/>
<path d="M413.4,144.9L417,146M431.5,150.4L435.1,151.5" stroke-width="3.6"/>
<path d="M417.0,146.0 L431.5,150.4" stroke-width="7.2"/>
<path d="M466.5,103.8L474,103.8M554.3,109.4L561.7,110.9" stroke-width="3.6"/>
<path d="M474.0,103.8C478.0,103.8 490.1,103.7 498.1,103.8C506.1,103.9 515.5,104.2 522.2,104.6C528.9,105.0 532.9,105.4 538.3,106.2C543.6,107.0 551.6,108.9 554.3,109.4" stroke-width="7.2"/>
<path d="M518.2,104.6L522.2,104.9M538.3,106.2L542.3,106.5" stroke-width="3.275"/>
<path d="M522.2,104.9 L538.3,106.2" stroke-width="6.55"/>
<path d="M457.5,112.2L466,112.6M576,119.9L584.5,120.4" stroke-width="4.275"/>
<path d="M466.0,112.6C468.7,112.7 476.8,113.1 482.1,113.4C487.5,113.7 492.8,113.8 498.1,114.2C503.5,114.6 508.9,115.2 514.2,115.8C519.6,116.3 524.9,117.0 530.2,117.5C535.6,118.0 540.9,118.8 546.3,119.1C551.7,119.4 557.4,119.0 562.4,119.1C567.4,119.2 573.7,119.8 576.0,119.9" stroke-width="8.55"/>
<path d="M464,123.1L466,123.1M474,123.1L476,123.1" stroke-width="2.925"/>
<path d="M466.0,123.1 L474.0,123.1" stroke-width="5.85"/>
<path d="M509,124.4L517.4,125.5M576,126.3L584.4,125.3" stroke-width="4.275"/>
<path d="M517.4,125.5C519.5,125.8 525.4,126.6 530.2,127.1C535.0,127.6 540.9,128.6 546.3,128.7C551.7,128.8 557.4,128.3 562.4,127.9C567.4,127.5 573.7,126.6 576.0,126.3" stroke-width="8.55"/>
<path d="M546.3,128.5L549.5,128.4M562.4,127.9L565.6,127.8" stroke-width="3.275"/>
<path d="M549.5,128.4 L562.4,127.9" stroke-width="6.55"/>
<path d="M457.6,131.9L466,132.7M527,131.9L535.5,131.4" stroke-width="4.275"/>
<path d="M466.0,132.7C468.7,133.0 476.8,134.2 482.1,134.3C487.5,134.4 492.8,133.8 498.1,133.5C503.5,133.2 509.4,133.0 514.2,132.7C519.0,132.4 524.9,132.0 527.0,131.9" stroke-width="8.55"/>
<path d="M490.9,134L494.9,133.8M511,133.2L515,133" stroke-width="3.275"/>
<path d="M494.9,133.8 L511.0,133.2" stroke-width="6.55"/>
<path d="M461.7,149.1L469.2,148.8M546.3,144L553.8,143.3" stroke-width="3.6"/>
<path d="M469.2,148.8C472.7,148.7 484.0,148.3 490.1,148.0C496.2,147.7 499.4,147.6 506.1,147.2C512.8,146.8 523.5,146.1 530.2,145.6C536.9,145.1 543.6,144.3 546.3,144.0" stroke-width="7.2"/>
<path d="M559,151.2L562.4,151.2M576,151.2L579.4,151.2" stroke-width="3.6"/>
<path d="M562.4,151.2 L576.0,151.2" stroke-width="7.2"/>
<path d="M565,151.7L567.2,151.7M576,151.7L578.2,151.7" stroke-width="3.275"/>
<path d="M567.2,151.7 L576.0,151.7" stroke-width="6.55"/>
<path d="M599.1,105.9L607.1,106.2M685,106.2L693,106" stroke-width="3.9375"/>
<path d="M607.1,106.2C611.1,106.3 623.2,106.9 631.2,107.0C639.2,107.1 646.3,107.1 655.3,107.0C664.3,106.9 680.0,106.3 685.0,106.2" stroke-width="7.875"/>
<path d="M632.1,106.5L639.2,106.5M685,106.5L692.1,106.5" stroke-width="3.275"/>
<path d="M639.2,106.5 L685.0,106.5" stroke-width="6.55"/>
<path d="M631.2,116.7L639.2,116.7M685,115.8L693,115.3" stroke-width="3.9375"/>
<path d="M639.2,116.7C641.9,116.7 649.9,116.7 655.3,116.7C660.7,116.7 666.4,116.9 671.4,116.7C676.4,116.5 682.7,116.0 685.0,115.8" stroke-width="7.875"/>
<path d="M641.3,116.7L647.3,116.7M671.4,116.7L677.4,116.7" stroke-width="3.275"/>
<path d="M647.3,116.7 L671.4,116.7" stroke-width="6.55"/>
<path d="M567,123.9L575,122.3M607.1,120.3L615.2,120.9" stroke-width="6.3"/>
<path d="M575.0,122.3C577.7,121.8 585.8,119.4 591.1,119.1C596.5,118.8 604.4,120.1 607.1,120.3" stroke-width="12.6"/>
<path d="M600.3,118.2L607.1,119.9M634.4,126.3L641.2,127.8" stroke-width="4.275"/>
<path d="M607.1,119.9C609.2,120.4 615.5,122.0 620.0,123.1C624.5,124.2 632.0,125.8 634.4,126.3" stroke-width="8.55"/>
<path d="M600.7,118.9L607.1,120.3M632.8,125.8L639.2,127.2" stroke-width="3.925"/>
<path d="M607.1,120.3C609.2,120.8 615.7,122.2 620.0,123.1C624.3,124.0 630.7,125.3 632.8,125.8" stroke-width="7.85"/>
<path d="M663.9,127.5L668.1,127.1M685,125.5L689.2,125.1" stroke-width="3.2625"/>
<path d="M668.1,127.1 L685.0,125.5" stroke-width="6.525"/>
<path d="M622,131.7L631.2,133.5M685,143.1L694.1,145.7" stroke-width="4.95"/>
<path d="M631.2,133.5C633.9,134.0 641.9,135.9 647.3,136.7C652.6,137.5 657.9,137.5 663.3,138.3C668.6,139.1 675.8,140.7 679.4,141.5C683.0,142.3 684.1,142.8 685.0,143.1" stroke-width="9.9"/>
<path d="M630.4,134.5L636,135.1M658.5,137.5L664.1,138.1" stroke-width="3.6"/>
<path d="M636.0,135.1 L658.5,137.5" stroke-width="7.2"/>
<path d="M575.8,135.9L579.8,136.7M595.9,139.9L599.9,140.7" stroke-width="3.2625"/>
<path d="M579.8,136.7 L595.9,139.9" stroke-width="6.525"/>
<path d="M614,149.6L618.4,149.6M636,149.6L640.4,149.6" stroke-width="3.6"/>
<path d="M618.4,149.6 L636.0,149.6" stroke-width="7.2"/>
<path d="M567.9,152L575,152M603.9,152L611,152" stroke-width="3.2625"/>
<path d="M575.0,152.0 L603.9,152.0" stroke-width="6.525"/>
<path d="M672,137.5L674.6,137.5M685,137.5L687.6,137.5" stroke-width="2"/>
<path d="M674.6,137.5 L685.0,137.5" stroke-width="4"/>
<path d="M308.3,156.7L316.7,157.8M356,161L364.5,161.3" stroke-width="4.275"/>
<path d="M316.7,157.8C319.6,158.2 327.8,159.7 334.3,160.2C340.9,160.7 352.4,160.9 356.0,161.0" stroke-width="8.55"/>
<path d="M334.9,160.9L339.1,161M356,161.4L360.2,161.5" stroke-width="2.95"/>
<path d="M339.1,161.0 L356.0,161.4" stroke-width="5.9"/>
<path d="M238.8,175L246,173.9M274.9,169.1L282.1,167.8" stroke-width="4.275"/>
<path d="M246.0,173.9C248.7,173.5 257.3,172.3 262.1,171.5C266.9,170.7 272.8,169.5 274.9,169.1" stroke-width="8.55"/>
<path d="M237.6,190.5L246,191.5M307,188.3L315.5,188.3" stroke-width="4.275"/>
<path d="M246.0,191.5C248.7,191.8 256.8,193.6 262.1,193.5C267.5,193.4 272.8,191.6 278.1,190.7C283.5,189.8 289.4,188.7 294.2,188.3C299.0,187.9 304.9,188.3 307.0,188.3" stroke-width="8.55"/>
<path d="M284.1,189.5L286.1,189.3M294.2,188.7L296.2,188.5" stroke-width="2.95"/>
<path d="M286.1,189.3 L294.2,188.7" stroke-width="5.9"/>
<path d="M290.5,198.6L299,198M345.6,199.6L354,200.8" stroke-width="4.275"/>
<path d="M299.0,198.0C302.2,197.8 312.4,196.7 318.3,196.7C324.2,196.7 329.8,197.5 334.3,198.0C338.9,198.5 343.7,199.3 345.6,199.6" stroke-width="8.55"/>
<path d="M347.1,160.7L356,159.4M466,161.8L474.9,162.8" stroke-width="4.6125"/>
<path d="M356.0,159.4C358.7,159.0 366.8,157.7 372.1,157.0C377.5,156.3 382.8,155.8 388.1,155.4C393.5,155.0 398.9,154.6 404.2,154.6C409.5,154.6 414.8,154.9 420.2,155.4C425.6,155.9 430.9,157.0 436.3,157.8C441.7,158.6 447.4,159.5 452.4,160.2C457.3,160.9 463.7,161.5 466.0,161.8" stroke-width="9.225"/>
<path d="M379.3,155.8L384.9,155.6M407.4,154.6L413,154.3" stroke-width="3.6"/>
<path d="M384.9,155.6 L407.4,154.6" stroke-width="7.2"/>
<path d="M432.9,157.8L439.5,158.6M466,161.8L472.6,162.6" stroke-width="3.275"/>
<path d="M439.5,158.6 L466.0,161.8" stroke-width="6.55"/>
<path d="M428.9,166.2L436.3,166.7M466,169.4L473.4,170.3" stroke-width="4.275"/>
<path d="M436.3,166.7C439.0,166.9 447.4,167.4 452.4,167.8C457.3,168.2 463.7,169.1 466.0,169.4" stroke-width="8.55"/>
<path d="M382.5,178.7L384.9,178.7M394.5,178.7L396.9,178.7" stroke-width="3.2625"/>
<path d="M384.9,178.7 L394.5,178.7" stroke-width="6.525"/>
<path d="M403,170.7L405.8,170.7M417,170.7L419.8,170.7" stroke-width="3.2625"/>
<path d="M405.8,170.7 L417.0,170.7" stroke-width="6.525"/>
<path d="M430.7,187.5L433.1,187.5M442.7,187.5L445.1,187.5" stroke-width="3.6"/>
<path d="M433.1,187.5 L442.7,187.5" stroke-width="7.2"/>
<path d="M384.1,195.9L388.1,196M404.2,196.4L408.2,196.5" stroke-width="3.6"/>
<path d="M388.1,196.0 L404.2,196.4" stroke-width="7.2"/>
<path d="M522.2,156L527,156.2M546.3,157L551.1,157.2" stroke-width="4.275"/>
<path d="M527.0,156.2 L546.3,157.0" stroke-width="8.55"/>
<path d="M542.9,158.4L549.5,157.8M576,155.4L582.6,154.8" stroke-width="3.925"/>
<path d="M549.5,157.8 L576.0,155.4" stroke-width="7.85"/>
<path d="M455.7,168.6L466,167.5M576,157L586.2,155.2" stroke-width="5.625"/>
<path d="M466.0,167.5C468.7,167.2 476.8,166.1 482.1,165.8C487.5,165.5 493.3,164.9 498.1,165.5C502.9,166.1 507.0,168.1 511.0,169.1C515.0,170.1 518.2,171.8 522.2,171.5C526.2,171.2 531.1,169.0 535.1,167.5C539.1,166.0 541.8,163.9 546.3,162.6C550.8,161.2 557.4,160.3 562.4,159.4C567.4,158.5 573.7,157.4 576.0,157.0" stroke-width="11.25"/>
<path d="M466,168.3L470.8,167.8M490.1,165.8L494.9,165.3" stroke-width="3.275"/>
<path d="M470.8,167.8 L490.1,165.8" stroke-width="6.55"/>
<path d="M505.8,169.4L509.4,169.9M523.8,171.9L527.4,172.4" stroke-width="3.6"/>
<path d="M509.4,169.9 L523.8,171.9" stroke-width="7.2"/>
<path d="M471.6,177.9L474,177.9M483.7,177.9L486.1,177.9" stroke-width="2"/>
<path d="M474.0,177.9 L483.7,177.9" stroke-width="4"/>
<path d="M529.9,180.3L535.1,180.3M555.9,180.3L561.1,180.3" stroke-width="3.9375"/>
<path d="M535.1,180.3 L555.9,180.3" stroke-width="7.875"/>
<path d="M517.4,185.7L520.6,185.9M533.4,186.7L536.6,186.9" stroke-width="3.6"/>
<path d="M520.6,185.9 L533.4,186.7" stroke-width="7.2"/>
<path d="M559,195.6L562.4,195.6M576,195.6L579.4,195.6" stroke-width="3.6"/>
<path d="M562.4,195.6 L576.0,195.6" stroke-width="7.2"/>
<path d="M462.8,197.2L466,197.2M478.8,197.2L482,197.2" stroke-width="2.925"/>
<path d="M466.0,197.2 L478.8,197.2" stroke-width="5.85"/>
<path d="M481.3,198L485.3,198M501.3,198L505.3,198" stroke-width="2.925"/>
<path d="M485.3,198.0 L501.3,198.0" stroke-width="5.85"/>
<path d="M563.9,154L575,156.2M685,173.9L696.3,175" stroke-width="6.3"/>
<path d="M575.0,156.2C577.7,156.7 585.8,158.1 591.1,159.4C596.5,160.7 601.8,163.1 607.1,164.2C612.5,165.3 617.9,165.0 623.2,165.8C628.6,166.6 633.9,168.2 639.2,169.1C644.6,170.0 649.9,170.9 655.3,171.5C660.7,172.1 666.4,172.2 671.4,172.6C676.4,173.0 682.7,173.7 685.0,173.9" stroke-width="12.6"/>
<path d="M571.8,155.8L575,156.5M587.8,159.4L591,160.1" stroke-width="3.6"/>
<path d="M575.0,156.5 L587.8,159.4" stroke-width="7.2"/>
<path d="M600.7,164.4L603.9,164.6M616.8,165.5L620,165.7" stroke-width="3.275"/>
<path d="M603.9,164.6 L616.8,165.5" stroke-width="6.55"/>
<path d="M636,169.9L639.2,170.3M652.1,171.9L655.3,172.3" stroke-width="3.6"/>
<path d="M639.2,170.3 L652.1,171.9" stroke-width="7.2"/>
<path d="M672,175.1L674.6,175.2M685,175.5L687.6,175.6" stroke-width="3.275"/>
<path d="M674.6,175.2 L685.0,175.5" stroke-width="6.55"/>
<path d="M585.5,177.3L591.1,178.7M613.5,183.5L619.2,184.2" stroke-width="3.6"/>
<path d="M591.1,178.7C593.8,179.4 603.4,181.9 607.1,182.7C610.8,183.5 612.4,183.4 613.5,183.5" stroke-width="7.2"/>
<path d="M617.3,191.5L620,189.9M631.2,184.3L634.3,183.5" stroke-width="2.925"/>
<path d="M620.0,189.9C621.3,189.1 626.1,186.0 628.0,185.1C629.9,184.2 630.7,184.4 631.2,184.3" stroke-width="5.85"/>
<path d="M635.6,186.8L644.1,187.5M685,190.7L693.5,191.3" stroke-width="4.275"/>
<path d="M644.1,187.5C647.3,187.8 656.5,188.6 663.3,189.1C670.1,189.6 681.4,190.4 685.0,190.7" stroke-width="8.55"/>
<path d="M567,191.5L575,193.1M607.1,199.6L615.1,201.2" stroke-width="4.95"/>
<path d="M575.0,193.1C577.7,193.7 585.8,195.3 591.1,196.4C596.5,197.5 604.4,199.1 607.1,199.6" stroke-width="9.9"/>
<path d="M579.8,195.2L583,195.6M595.9,197.2L599.1,197.6" stroke-width="3.6"/>
<path d="M583.0,195.6 L595.9,197.2" stroke-width="7.2"/>
<path d="M625.2,202L631.2,202M655.3,202L661.3,202" stroke-width="2.925"/>
<path d="M631.2,202.0 L655.3,202.0" stroke-width="5.85"/>
<path d="M310.2,204.9L313.4,204.9M326.3,204.9L329.5,204.9" stroke-width="3.2625"/>
<path d="M313.4,204.9 L326.3,204.9" stroke-width="6.525"/>
<path d="M339,206.5L342.4,206.5M356,206.5L359.4,206.5" stroke-width="3.2625"/>
<path d="M342.4,206.5 L356.0,206.5" stroke-width="6.525"/>
<path d="M283.3,217.1L286.1,217.1M297.4,217.1L300.2,217.1" stroke-width="3.2625"/>
<path d="M286.1,217.1 L297.4,217.1" stroke-width="6.525"/>
<path d="M312.3,212.8L318.3,213M342.4,213.9L348.4,214.1" stroke-width="3.6"/>
<path d="M318.3,213.0 L342.4,213.9" stroke-width="7.2"/>
<path d="M272.9,235.1L274.9,235.1M282.9,235.1L284.9,235.1" stroke-width="2.925"/>
<path d="M274.9,235.1 L282.9,235.1" stroke-width="5.85"/>
<path d="M301.7,247.6L310.2,248M356,247.2L364.5,246.7" stroke-width="4.275"/>
<path d="M310.2,248.0C312.9,248.1 320.9,248.8 326.3,248.8C331.7,248.8 337.4,248.3 342.4,248.0C347.3,247.7 353.7,247.3 356.0,247.2" stroke-width="8.55"/>
<path d="M318.3,248.9L323.1,248.8M342.4,248.4L347.2,248.3" stroke-width="3.6"/>
<path d="M323.1,248.8 L342.4,248.4" stroke-width="7.2"/>
<path d="M348.5,207.8L356,207.8M388.1,207.8L395.6,207.8" stroke-width="3.6"/>
<path d="M356.0,207.8 L388.1,207.8" stroke-width="7.2"/>
<path d="M440.9,208L445.9,207.8M466,207L471,206.8" stroke-width="2.925"/>
<path d="M445.9,207.8 L466.0,207.0" stroke-width="5.85"/>
<path d="M346.6,221.6L356,220.7M436.3,223.1L445.6,224.5" stroke-width="4.95"/>
<path d="M356.0,220.7C358.7,220.4 366.8,219.5 372.1,219.1C377.5,218.7 382.8,218.3 388.1,218.3C393.5,218.3 398.9,218.7 404.2,219.1C409.5,219.5 414.8,220.0 420.2,220.7C425.6,221.4 433.6,222.7 436.3,223.1" stroke-width="9.9"/>
<path d="M417,223.5L420.2,223.6M433.1,223.9L436.3,224" stroke-width="2.95"/>
<path d="M420.2,223.6 L433.1,223.9" stroke-width="5.9"/>
<path d="M346.6,247.3L356,246.4M420.2,247.2L429.5,248.4" stroke-width="4.95"/>
<path d="M356.0,246.4C358.7,246.1 366.8,245.3 372.1,244.8C377.5,244.3 382.8,243.4 388.1,243.5C393.5,243.6 398.9,244.5 404.2,245.1C409.5,245.7 417.5,246.8 420.2,247.2" stroke-width="9.9"/>
<path d="M400.6,246.7L404.2,247.2M418.6,249.3L422.2,249.8" stroke-width="3.275"/>
<path d="M404.2,247.2 L418.6,249.3" stroke-width="6.55"/>
<path d="M449,239.9L452.4,239.9M466,239.9L469.4,239.9" stroke-width="2.925"/>
<path d="M452.4,239.9 L466.0,239.9" stroke-width="5.85"/>
<path d="M510.2,207.8L514.2,207.8M530.2,207.8L534.2,207.8" stroke-width="3.2625"/>
<path d="M514.2,207.8 L530.2,207.8" stroke-width="6.525"/>
<path d="M468.8,222.3L470.8,222.3M478.8,222.3L480.8,222.3" stroke-width="3.2625"/>
<path d="M470.8,222.3 L478.8,222.3" stroke-width="6.525"/>
<path d="M494.1,228L498.1,228.4M514.2,230L518.2,230.4" stroke-width="3.6"/>
<path d="M498.1,228.4 L514.2,230.0" stroke-width="7.2"/>
<path d="M523.8,219.1L527,219.1M539.9,219.1L543.1,219.1" stroke-width="3.2625"/>
<path d="M527.0,219.1 L539.9,219.1" stroke-width="6.525"/>
<path d="M511.8,236.7L514.2,236.7M523.8,236.7L526.2,236.7" stroke-width="3.2625"/>
<path d="M514.2,236.7 L523.8,236.7" stroke-width="6.525"/>
<path d="M497.6,249.9L506.1,249.6M576,249.6L584.5,250.2" stroke-width="4.275"/>
<path d="M506.1,249.6C510.1,249.5 522.2,249.1 530.2,248.8C538.2,248.5 546.7,247.9 554.3,248.0C561.9,248.1 572.4,249.3 576.0,249.6" stroke-width="8.55"/>
<path d="M542.3,248.5L546.3,248.6M562.4,248.8L566.4,248.9" stroke-width="3.275"/>
<path d="M546.3,248.6 L562.4,248.8" stroke-width="6.55"/>
<path d="M583.1,206.6L591.1,206.2M631.2,206.2L639.2,206.5" stroke-width="3.9375"/>
<path d="M591.1,206.2C593.8,206.1 600.4,205.4 607.1,205.4C613.8,205.4 627.2,206.1 631.2,206.2" stroke-width="7.875"/>
<path d="M569.6,218L575,219.1M595.9,225.5L600.5,228.6" stroke-width="4.275"/>
<path d="M575.0,219.1C577.7,219.6 587.6,221.2 591.1,222.3C594.6,223.4 595.1,225.0 595.9,225.5" stroke-width="8.55"/>
<path d="M571.8,219.5L575,219.9M587.8,221.5L591,221.9" stroke-width="3.275"/>
<path d="M575.0,219.9 L587.8,221.5" stroke-width="6.55"/>
<path d="M606.6,219.1L615.1,219.1M679.4,215.8L687.8,214.9" stroke-width="4.275"/>
<path d="M615.1,219.1C617.0,219.1 621.0,219.2 626.4,219.1C631.8,219.0 641.1,218.6 647.3,218.3C653.4,218.0 657.9,217.9 663.3,217.5C668.6,217.1 676.7,216.1 679.4,215.8" stroke-width="8.55"/>
<path d="M614.4,219.1L616.8,219.1M626.4,219.1L628.8,219.1" stroke-width="2.95"/>
<path d="M616.8,219.1 L626.4,219.1" stroke-width="5.9"/>
<path d="M566.7,238.4L575,236.7M615.1,231.9L623.5,233.3" stroke-width="4.275"/>
<path d="M575.0,236.7C577.7,236.2 585.8,234.5 591.1,233.5C596.5,232.5 603.1,230.9 607.1,230.6C611.1,230.3 613.8,231.7 615.1,231.9" stroke-width="8.55"/>
<path d="M627.5,229.9L636,230.3M685,233.5L693.5,234" stroke-width="4.275"/>
<path d="M636.0,230.3C639.2,230.4 649.4,230.7 655.3,231.1C661.2,231.5 666.4,232.3 671.4,232.7C676.4,233.1 682.7,233.4 685.0,233.5" stroke-width="8.55"/>
<path d="M614,236.5L618.4,236.7M636,237.5L640.4,237.7" stroke-width="3.6"/>
<path d="M618.4,236.7 L636.0,237.5" stroke-width="7.2"/>
<path d="M566.5,251.6L575,251.2M642.4,251.2L650.7,253" stroke-width="4.275"/>
<path d="M575.0,251.2C577.7,251.1 584.4,250.9 591.1,250.4C597.8,249.9 608.4,248.6 615.1,248.3C621.8,248.0 626.7,248.3 631.2,248.8C635.8,249.3 640.5,250.8 642.4,251.2" stroke-width="8.55"/>
<path d="M238.5,255.8L246,255.4M286.1,255.4L293.6,255.7" stroke-width="3.6"/>
<path d="M246.0,255.4C248.7,255.3 255.4,254.6 262.1,254.6C268.8,254.6 282.1,255.3 286.1,255.4" stroke-width="7.2"/>
<path d="M261.7,263.4L270.1,262.6M350.4,267.5L358.7,269.2" stroke-width="4.275"/>
<path d="M270.1,262.6C272.8,262.3 280.8,261.4 286.1,261.0C291.5,260.6 296.8,260.1 302.2,260.2C307.6,260.3 312.9,261.1 318.3,261.8C323.7,262.5 329.0,263.2 334.3,264.2C339.6,265.1 347.7,266.9 350.4,267.5" stroke-width="8.55"/>
<path d="M296.2,260.1L299,260.2M310.2,260.7L313,260.8" stroke-width="2.95"/>
<path d="M299.0,260.2 L310.2,260.7" stroke-width="5.9"/>
<path d="M244,272L246,271.9M254,271.5L256,271.4" stroke-width="3.6"/>
<path d="M246.0,271.9 L254.0,271.5" stroke-width="7.2"/>
<path d="M299.4,273.1L302.2,273.1M313.4,273.1L316.2,273.1" stroke-width="2.925"/>
<path d="M302.2,273.1 L313.4,273.1" stroke-width="5.85"/>
<path d="M237.6,284.3L246,283.5M294.2,277.1L302.6,276.3" stroke-width="4.275"/>
<path d="M246.0,283.5C248.7,283.2 256.8,282.7 262.1,281.9C267.5,281.1 272.8,279.5 278.1,278.7C283.5,277.9 291.5,277.4 294.2,277.1" stroke-width="8.55"/>
<path d="M238.7,301.1L246,300.4M274.9,295.6L282,293.8" stroke-width="4.25"/>
<path d="M246.0,300.4C248.7,300.1 257.3,299.6 262.1,298.8C266.9,298.0 272.8,296.1 274.9,295.6" stroke-width="8.5"/>
<path d="M265.6,297.4L274.9,295.6M356,293.1L365.4,294.2" stroke-width="4.95"/>
<path d="M274.9,295.6C278.1,295.0 288.3,292.7 294.2,291.9C300.1,291.1 304.8,290.8 310.2,290.7C315.6,290.6 320.9,291.4 326.3,291.5C331.7,291.6 337.4,291.2 342.4,291.5C347.3,291.8 353.7,292.8 356.0,293.1" stroke-width="9.9"/>
<path d="M347.5,256.6L356,256.2M404.2,254.9L412.7,254.6" stroke-width="4.275"/>
<path d="M356.0,256.2C358.7,256.1 366.8,255.5 372.1,255.4C377.5,255.3 382.8,255.5 388.1,255.4C393.5,255.3 401.5,255.0 404.2,254.9" stroke-width="8.55"/>
<path d="M354,256.3L359.2,256.2M380.1,255.9L385.3,255.8" stroke-width="3.275"/>
<path d="M359.2,256.2 L380.1,255.9" stroke-width="6.55"/>
<path d="M421.2,257.8L428.3,257.8M466,257.8L473.1,257.8" stroke-width="3.2625"/>
<path d="M428.3,257.8 L466.0,257.8" stroke-width="6.525"/>
<path d="M376.5,269.5L383.3,269.1M410.6,268.3L417.4,268.3" stroke-width="3.9375"/>
<path d="M383.3,269.1C385.4,269.0 391.6,268.4 396.1,268.3C400.7,268.2 408.2,268.3 410.6,268.3" stroke-width="7.875"/>
<path d="M381.3,269.3L386.5,269.1M407.4,268.3L412.6,268.1" stroke-width="3.275"/>
<path d="M386.5,269.1 L407.4,268.3" stroke-width="6.55"/>
<path d="M438.9,275.5L444.3,275.5M466,275.5L471.4,275.5" stroke-width="3.6"/>
<path d="M444.3,275.5 L466.0,275.5" stroke-width="7.2"/>
<path d="M398.2,283.5L404.2,283.5M428.3,283.5L434.3,283.5" stroke-width="3.6"/>
<path d="M404.2,283.5 L428.3,283.5" stroke-width="7.2"/>
<path d="M348.7,286.2L356,286.7M384.9,289.9L392.1,291" stroke-width="4.275"/>
<path d="M356.0,286.7C358.1,286.8 364.0,287.0 368.8,287.5C373.6,288.0 382.2,289.5 384.9,289.9" stroke-width="8.55"/>
<path d="M358,286.8L360.8,287M372.1,288L374.9,288.2" stroke-width="3.275"/>
<path d="M360.8,287.0 L372.1,288.0" stroke-width="6.55"/>
<path d="M428.9,301.6L436.3,301.2M466,299.6L473.4,299.2" stroke-width="3.9375"/>
<path d="M436.3,301.2C439.0,301.1 447.4,300.7 452.4,300.4C457.3,300.1 463.7,299.7 466.0,299.6" stroke-width="7.875"/>
<path d="M442.3,300.6L445.9,300.5M460.4,300.2L464,300.1" stroke-width="2.95"/>
<path d="M445.9,300.5 L460.4,300.2" stroke-width="5.9"/>
<path d="M468,257L474,257M498.1,257L504.1,257" stroke-width="3.9375"/>
<path d="M474.0,257.0 L498.1,257.0" stroke-width="7.875"/>
<path d="M554.9,261L559.1,261M576,261L580.2,261" stroke-width="3.2625"/>
<path d="M559.1,261.0 L576.0,261.0" stroke-width="6.525"/>
<path d="M507.4,263.4L512.6,263.4M533.4,263.4L538.6,263.4" stroke-width="2.925"/>
<path d="M512.6,263.4 L533.4,263.4" stroke-width="5.85"/>
<path d="M456.6,276.2L466,277.1M576,273.9L585.4,272.8" stroke-width="4.95"/>
<path d="M466.0,277.1C468.7,277.4 476.8,278.2 482.1,278.7C487.5,279.2 492.8,280.6 498.1,280.3C503.5,280.0 508.9,277.8 514.2,277.1C519.6,276.4 524.9,276.3 530.2,276.3C535.6,276.3 540.9,277.2 546.3,277.1C551.7,277.0 557.4,276.0 562.4,275.5C567.4,275.0 573.7,274.2 576.0,273.9" stroke-width="9.9"/>
<path d="M494.9,280.4L498.1,280.3M511,280L514.2,279.9" stroke-width="3.275"/>
<path d="M498.1,280.3 L511.0,280.0" stroke-width="6.55"/>
<path d="M533.9,277.4L538.3,277.4M555.9,277.4L560.3,277.4" stroke-width="3.275"/>
<path d="M538.3,277.4 L555.9,277.4" stroke-width="6.55"/>
<path d="M550.3,286.5L554.3,286.7M570.4,287.5L574.4,287.7" stroke-width="3.6"/>
<path d="M554.3,286.7 L570.4,287.5" stroke-width="7.2"/>
<path d="M460,299.3L466,299.6M490.1,301.2L496.1,301.8" stroke-width="4.275"/>
<path d="M466.0,299.6C468.7,299.7 478.1,300.1 482.1,300.4C486.1,300.7 488.8,301.1 490.1,301.2" stroke-width="8.55"/>
<path d="M464.4,299.5L467.6,299.6M480.5,299.9L483.7,300" stroke-width="2.95"/>
<path d="M467.6,299.6 L480.5,299.9" stroke-width="5.9"/>
<path d="M577,254.9L581.4,254.9M599.1,254.9L603.5,254.9" stroke-width="3.6"/>
<path d="M581.4,254.9 L599.1,254.9" stroke-width="7.2"/>
<path d="M638.8,256.6L647.3,257M685,257.8L693.5,257.8" stroke-width="4.275"/>
<path d="M647.3,257.0C650.0,257.1 657.0,257.7 663.3,257.8C669.6,257.9 681.4,257.8 685.0,257.8" stroke-width="8.55"/>
<path d="M653.9,257.4L660.1,257.5M685,257.8L691.2,257.9" stroke-width="3.6"/>
<path d="M660.1,257.5 L685.0,257.8" stroke-width="7.2"/>
<path d="M602.5,260L611.9,261M677.8,273.9L686.9,276.2" stroke-width="4.95"/>
<path d="M611.9,261.0C614.3,261.3 621.8,261.9 626.4,262.6C631.0,263.3 634.4,264.1 639.2,265.0C644.0,265.9 649.9,267.1 655.3,268.3C660.7,269.5 667.6,271.4 671.4,272.3C675.1,273.2 676.7,273.6 677.8,273.9" stroke-width="9.9"/>
<path d="M622,262.3L626.4,263M644.1,265.8L648.5,266.5" stroke-width="3.925"/>
<path d="M626.4,263.0 L644.1,265.8" stroke-width="7.85"/>
<path d="M577,264.2L581.4,264.2M599.1,264.2L603.5,264.2" stroke-width="3.6"/>
<path d="M581.4,264.2 L599.1,264.2" stroke-width="7.2"/>
<path d="M566.5,276.7L575,277.1M623.2,270.7L631.5,269" stroke-width="4.275"/>
<path d="M575.0,277.1C577.7,277.2 585.8,278.4 591.1,277.9C596.5,277.4 601.8,275.1 607.1,273.9C612.5,272.7 620.5,271.2 623.2,270.7" stroke-width="8.55"/>
<path d="M572.6,277.1L575,277.1M584.6,277.1L587,277.1" stroke-width="2.95"/>
<path d="M575.0,277.1 L584.6,277.1" stroke-width="5.9"/>
<path d="M611.6,286.1L620,287.5M663.3,298L671.2,301.2" stroke-width="4.275"/>
<path d="M620.0,287.5C623.2,288.0 633.3,289.5 639.2,290.7C645.1,291.9 651.3,293.6 655.3,294.8C659.3,296.0 662.0,297.5 663.3,298.0" stroke-width="8.55"/>
<path d="M623.2,288.9L628,289.6M647.3,292.3L652.1,293" stroke-width="3.6"/>
<path d="M628.0,289.6 L647.3,292.3" stroke-width="7.2"/>
<path d="M651.9,278.7L658.5,280.3M685,286.7L691.6,288.3" stroke-width="4.275"/>
<path d="M658.5,280.3C660.6,280.8 667.0,282.4 671.4,283.5C675.8,284.6 682.7,286.2 685.0,286.7" stroke-width="8.55"/>
<path d="M663.9,284.3L668.1,284.8M685,286.7L689.2,287.2" stroke-width="2.95"/>
<path d="M668.1,284.8 L685.0,286.7" stroke-width="5.9"/>
<path d="M588.3,290.8L594.3,291.5M616.8,298.8L622,301.9" stroke-width="3.6"/>
<path d="M594.3,291.5C596.4,291.8 603.4,291.9 607.1,293.1C610.9,294.3 615.2,297.9 616.8,298.8" stroke-width="7.2"/>
<path d="M595.1,299.4L599.1,299.6M615.1,300.4L619.1,300.6" stroke-width="3.2625"/>
<path d="M599.1,299.6 L615.1,300.4" stroke-width="6.525"/>
<path d="M571,301.1L575,301.2M591.1,301.5L595.1,301.6" stroke-width="3.2625"/>
<path d="M575.0,301.2 L591.1,301.5" stroke-width="6.525"/>
<path d="M240,304L246,304M270.1,304L276.1,304" stroke-width="3.275"/>
<path d="M246.0,304.0 L270.1,304.0" stroke-width="6.55"/>
<path d="M320.3,310.2L326.3,310.2M350.4,310.2L356.4,310.2" stroke-width="3.6"/>
<path d="M326.3,310.2 L350.4,310.2" stroke-width="7.2"/>
<path d="M242.8,314.2L246,314.2M258.8,314.2L262,314.2" stroke-width="3.6"/>
<path d="M246.0,314.2 L258.8,314.2" stroke-width="7.2"/>
<path d="M265.8,324.7L274.9,322.3M326.3,321.5L335.3,324.2" stroke-width="4.95"/>
<path d="M274.9,322.3C276.8,321.8 282.9,320.4 286.1,319.4C289.3,318.4 290.2,316.5 294.2,316.2C298.2,315.9 306.2,317.0 310.2,317.5C314.2,318.0 315.6,318.4 318.3,319.1C321.0,319.8 325.0,321.1 326.3,321.5" stroke-width="9.9"/>
<path d="M237.6,330.8L246,329.5M294.2,324.7L302.7,324.3" stroke-width="4.275"/>
<path d="M246.0,329.5C248.7,329.1 256.8,327.8 262.1,327.1C267.5,326.4 272.8,325.9 278.1,325.5C283.5,325.1 291.5,324.8 294.2,324.7" stroke-width="8.55"/>
<path d="M242,330L246,329.5M262.1,327.4L266.1,326.9" stroke-width="3.6"/>
<path d="M246.0,329.5 L262.1,327.4" stroke-width="7.2"/>
<path d="M282.5,339.5L291,339.9M326.3,341.5L334.8,341.9" stroke-width="4.275"/>
<path d="M291.0,339.9C294.2,340.0 304.3,340.4 310.2,340.7C316.1,341.0 323.6,341.4 326.3,341.5" stroke-width="8.55"/>
<path d="M246,344.3L254,345.1M286.1,348.3L294.1,349.1" stroke-width="4.275"/>
<path d="M254.0,345.1C256.7,345.4 264.8,346.2 270.1,346.7C275.5,347.2 283.4,348.0 286.1,348.3" stroke-width="8.55"/>
<path d="M260.1,351.2L262.1,351.2M270.1,351.2L272.1,351.2" stroke-width="2.925"/>
<path d="M262.1,351.2 L270.1,351.2" stroke-width="5.85"/>
<path d="M314.3,352.8L318.3,352.8M334.3,352.8L338.3,352.8" stroke-width="2.925"/>
<path d="M318.3,352.8 L334.3,352.8" stroke-width="5.85"/>
<path d="M425.1,304.7L433.1,304.6M466,304.3L474,304.2" stroke-width="3.9375"/>
<path d="M433.1,304.6 L466.0,304.3" stroke-width="7.875"/>
<path d="M440.3,304L444.3,304M460.4,304L464.4,304" stroke-width="2.95"/>
<path d="M444.3,304.0 L460.4,304.0" stroke-width="5.9"/>
<path d="M347.6,313.4L356,312.6M404.2,308.6L412.7,308.2" stroke-width="4.275"/>
<path d="M356.0,312.6C358.7,312.3 366.8,311.5 372.1,311.0C377.5,310.5 382.8,309.8 388.1,309.4C393.5,309.0 401.5,308.7 404.2,308.6" stroke-width="8.55"/>
<path d="M383.7,320.7L386.5,320.7M397.8,320.7L400.6,320.7" stroke-width="2.925"/>
<path d="M386.5,320.7 L397.8,320.7" stroke-width="5.85"/>
<path d="M396.6,317.8L399.4,317.8M410.6,317.8L413.4,317.8" stroke-width="2.925"/>
<path d="M399.4,317.8 L410.6,317.8" stroke-width="5.85"/>
<path d="M404.4,325.8L413.8,326.3M466,332.7L475.3,334.1" stroke-width="4.95"/>
<path d="M413.8,326.3C416.2,326.4 423.2,326.6 428.3,327.1C433.4,327.6 438.0,328.6 444.3,329.5C450.6,330.4 462.4,332.2 466.0,332.7" stroke-width="9.9"/>
<path d="M455,334.1L457.2,334.3M466,335.1L468.2,335.3" stroke-width="3.275"/>
<path d="M457.2,334.3 L466.0,335.1" stroke-width="6.55"/>
<path d="M355.9,330.3L364,335.1M436.3,338.3L445.7,338.3" stroke-width="4.95"/>
<path d="M364.0,335.1C365.4,335.9 368.1,339.6 372.1,339.9C376.1,340.2 382.8,337.5 388.1,337.0C393.5,336.5 398.9,336.5 404.2,336.7C409.5,336.9 414.8,338.0 420.2,338.3C425.6,338.6 433.6,338.3 436.3,338.3" stroke-width="9.9"/>
<path d="M360,349.6L364,349.6M380.1,349.6L384.1,349.6" stroke-width="4.275"/>
<path d="M364.0,349.6 L380.1,349.6" stroke-width="8.55"/>
<path d="M412.7,345.6L420.2,345.6M452.4,345.6L459.9,345.6" stroke-width="3.6"/>
<path d="M420.2,345.6 L452.4,345.6" stroke-width="7.2"/>
<path d="M465.9,296.6L474,303M535.1,355L543.3,361.4" stroke-width="5.625"/>
<path d="M474.0,303.0C475.4,304.1 479.4,307.0 482.1,309.4C484.8,311.8 486.9,314.8 490.1,317.5C493.3,320.2 497.8,322.6 501.3,325.5C504.8,328.4 507.8,332.2 511.0,335.1C514.2,338.0 517.4,340.4 520.6,343.1C523.8,345.8 527.8,349.2 530.2,351.2C532.6,353.2 534.3,354.4 535.1,355.0" stroke-width="11.25"/>
<path d="M496.8,305.8L502.9,306.2M527,309.4L533,310.5" stroke-width="4.275"/>
<path d="M502.9,306.2C504.8,306.3 510.2,306.5 514.2,307.0C518.2,307.5 524.9,309.0 527.0,309.4" stroke-width="8.55"/>
<path d="M532.3,304.6L538.3,304.6M562.4,304.6L568.4,304.6" stroke-width="3.2625"/>
<path d="M538.3,304.6 L562.4,304.6" stroke-width="6.525"/>
<path d="M523.8,315L525.4,315.8M531.8,319.1L533.4,319.9" stroke-width="3.6"/>
<path d="M525.4,315.8 L531.8,319.1" stroke-width="7.2"/>
<path d="M518.3,325L527,328.7M576,330.3L585.4,329.3" stroke-width="4.95"/>
<path d="M527.0,328.7C528.9,329.5 533.8,332.8 538.3,333.5C542.8,334.2 548.0,333.2 554.3,332.7C560.6,332.2 572.4,330.7 576.0,330.3" stroke-width="9.9"/>
<path d="M531.5,333.1L535.1,333.2M549.5,333.5L553.1,333.6" stroke-width="3.6"/>
<path d="M535.1,333.2 L549.5,333.5" stroke-width="7.2"/>
<path d="M456.9,332.8L466,335.1M501.3,355L507.4,362.2" stroke-width="4.95"/>
<path d="M466.0,335.1C468.1,335.6 474.8,336.7 478.8,338.3C482.8,339.9 486.9,342.7 490.1,344.8C493.3,346.9 496.2,349.5 498.1,351.2C500.0,352.9 500.8,354.4 501.3,355.0" stroke-width="9.9"/>
<path d="M464,335.6L466,335.9M474,337L476,337.3" stroke-width="3.275"/>
<path d="M466.0,335.9 L474.0,337.0" stroke-width="6.55"/>
<path d="M545.5,346.4L549.5,346.4M565.6,346.4L569.6,346.4" stroke-width="2.925"/>
<path d="M549.5,346.4 L565.6,346.4" stroke-width="5.85"/>
<path d="M571,307L575,307M591.1,307L595.1,307" stroke-width="4.275"/>
<path d="M575.0,307.0 L591.1,307.0" stroke-width="8.55"/>
<path d="M571.4,307.5L575,307.5M589.5,307.5L593.1,307.5" stroke-width="3.275"/>
<path d="M575.0,307.5 L589.5,307.5" stroke-width="6.55"/>
<path d="M603.9,303.8L607.1,303.8M620,303.8L623.2,303.8" stroke-width="2.925"/>
<path d="M607.1,303.8 L620.0,303.8" stroke-width="5.85"/>
<path d="M604.1,316.2L613.5,315.8M674.6,308.6L683.7,306" stroke-width="4.95"/>
<path d="M613.5,315.8C616.5,315.7 625.6,315.3 631.2,315.0C636.8,314.7 641.9,314.7 647.3,314.2C652.6,313.7 658.8,312.7 663.3,311.8C667.8,310.9 672.7,309.1 674.6,308.6" stroke-width="9.9"/>
<path d="M628.4,315.1L631.2,315M642.4,314.7L645.2,314.6" stroke-width="2.95"/>
<path d="M631.2,315.0 L642.4,314.7" stroke-width="5.9"/>
<path d="M564.9,330L575,330.6M615.1,335.1L625.2,335.8" stroke-width="5.625"/>
<path d="M575.0,330.6C577.7,330.8 586.3,331.0 591.1,331.6C595.9,332.2 599.9,333.7 603.9,334.3C607.9,334.9 613.2,335.0 615.1,335.1" stroke-width="11.25"/>
<path d="M593.1,333.6L595.9,333.8M607.1,334.8L609.9,335.1" stroke-width="3.6"/>
<path d="M595.9,333.8 L607.1,334.8" stroke-width="7.2"/>
<path d="M617.2,351.2L623.2,351.2M647.3,351.2L653.3,351.2" stroke-width="3.6"/>
<path d="M623.2,351.2 L647.3,351.2" stroke-width="7.2"/>
<path d="M647.3,349.6L652.1,349.6M671.4,349.6L676.2,349.6" stroke-width="3.6"/>
<path d="M652.1,349.6 L671.4,349.6" stroke-width="7.2"/>
</g>
<g stroke="#d4d4d4">
<path d="M243,58.1L246,58M257.8,56.9L260.7,56.3" stroke-width="2"/>
<path d="M246.0,58.0C247.3,58.0 251.9,57.9 253.9,57.7C255.9,57.5 257.2,57.0 257.8,56.9" stroke-width="4"/>
<path d="M241,67.9L246,67.7M265.7,64.8L270.6,63.6" stroke-width="4.6"/>
<path d="M246.0,67.7C247.3,67.7 251.5,67.7 253.9,67.4C256.3,67.1 258.4,66.5 260.4,66.1C262.4,65.7 264.8,65.0 265.7,64.8" stroke-width="9.2"/>
<path d="M258.2,66.9L265.7,64.8M297.2,55.9L304.7,53.7" stroke-width="3.775"/>
<path d="M265.7,64.8C266.8,64.5 269.8,63.6 272.2,63.0C274.6,62.4 277.2,61.7 280.1,60.9C283.0,60.1 286.5,59.0 289.3,58.2C292.1,57.4 295.9,56.3 297.2,55.9" stroke-width="7.55"/>
<path d="M240.7,78L246,77.9M267,76L272.2,75.1" stroke-width="4.2375"/>
<path d="M246.0,77.9C247.3,77.9 251.5,77.8 253.9,77.7C256.3,77.6 258.2,77.4 260.4,77.1C262.6,76.8 265.9,76.2 267.0,76.0" stroke-width="8.475"/>
<path d="M265,76.4L267,76M274.9,74.3L276.9,73.9" stroke-width="3.45"/>
<path d="M267.0,76.0 L274.9,74.3" stroke-width="6.9"/>
<path d="M268.6,75.1L274.9,74.3M301,71.6L307.3,71" stroke-width="2.7375"/>
<path d="M274.9,74.3C276.6,74.1 282.3,73.2 285.4,72.9C288.4,72.6 290.6,72.6 293.2,72.4C295.8,72.2 299.7,71.7 301.0,71.6" stroke-width="5.475"/>
<path d="M239.7,88.4L246,88.2M272.2,85.2L278.4,84.1" stroke-width="2.7375"/>
<path d="M246.0,88.2C247.3,88.2 251.5,88.0 253.9,87.9C256.3,87.8 258.2,87.7 260.4,87.4C262.6,87.1 265.0,86.5 267.0,86.1C269.0,85.7 271.3,85.3 272.2,85.2" stroke-width="5.475"/>
<path d="M269.9,85.1L276.2,85.2M301,86.5L307.2,85.8" stroke-width="4.2375"/>
<path d="M276.2,85.2C277.7,85.2 283.0,85.1 285.4,85.3C287.8,85.5 288.9,86.2 290.6,86.5C292.4,86.8 294.2,87.1 295.9,87.1C297.6,87.1 300.1,86.6 301.0,86.5" stroke-width="8.475"/>
<path d="M254.2,100.2L259.1,100.2M278.8,100.2L283.7,100.2" stroke-width="2.25"/>
<path d="M259.1,100.2 L278.8,100.2" stroke-width="4.5"/>
<path d="M260.2,99.9L263.1,100M274.9,100.5L277.8,100.6" stroke-width="2.475"/>
<path d="M263.1,100.0 L274.9,100.5" stroke-width="4.95"/>
<path d="M296.7,57.4L301,56.9M318.1,54.3L322.3,53.5" stroke-width="3.775"/>
<path d="M301.0,56.9C302.8,56.7 308.6,56.0 311.5,55.6C314.4,55.2 317.0,54.5 318.1,54.3" stroke-width="7.55"/>
<path d="M301.4,63.9L306.2,62.8M340.4,55.6L345.3,54.6" stroke-width="1.75"/>
<path d="M306.2,62.8C308.6,62.3 316.1,60.6 320.7,59.6C325.3,58.6 330.5,57.6 333.8,56.9C337.1,56.2 339.3,55.8 340.4,55.6" stroke-width="3.5"/>
<path d="M294.7,72.4L301,71.4M356,66.8L362.3,66.6" stroke-width="2.7375"/>
<path d="M301.0,71.4C303.2,71.1 309.7,70.0 314.1,69.4C318.5,68.9 322.8,68.4 327.2,68.1C331.6,67.8 335.6,67.6 340.4,67.4C345.2,67.2 353.4,66.9 356.0,66.8" stroke-width="5.475"/>
<path d="M323.9,68.6L327.2,68.4M340.4,67.7L343.7,67.5" stroke-width="3.45"/>
<path d="M327.2,68.4 L340.4,67.7" stroke-width="6.9"/>
<path d="M301.7,82.2L307.6,81.2M356,78.6L362,78.6" stroke-width="2.475"/>
<path d="M307.6,81.2C310.9,80.7 321.7,78.3 327.2,77.9C332.7,77.5 335.6,78.5 340.4,78.6C345.2,78.7 353.4,78.6 356.0,78.6" stroke-width="4.95"/>
<path d="M328.2,78.7L333.8,78.7M356,78.7L361.6,78.7" stroke-width="3.45"/>
<path d="M333.8,78.7 L356.0,78.7" stroke-width="6.9"/>
<path d="M297.7,86.9L301,86.5M314.1,83.8L317.3,82.8" stroke-width="4.2375"/>
<path d="M301.0,86.5C302.1,86.4 305.4,86.2 307.6,85.8C309.8,85.3 313.0,84.1 314.1,83.8" stroke-width="8.475"/>
<path d="M328.2,89.4L333.8,89.1M356,87.8L361.6,87.5" stroke-width="2.475"/>
<path d="M333.8,89.1 L356.0,87.8" stroke-width="4.95"/>
<path d="M301.3,99.5L307.6,99.6M356,100.2L362.3,100.3" stroke-width="2.75"/>
<path d="M307.6,99.6 L356.0,100.2" stroke-width="5.5"/>
<path d="M309.2,98.9L314.1,98.9M333.8,98.9L338.7,98.9" stroke-width="2.7375"/>
<path d="M314.1,98.9 L333.8,98.9" stroke-width="5.475"/>
<path d="M336.5,100.5L340.4,100.5M356,100.5L359.9,100.5" stroke-width="2.475"/>
<path d="M340.4,100.5 L356.0,100.5" stroke-width="4.95"/>
<path d="M360,56.2L365.6,56.2M466,56.2L471.6,56.2" stroke-width="2.25"/>
<path d="M365.6,56.2 L466.0,56.2" stroke-width="4.5"/>
<path d="M414.2,55.9L420.2,55.9M466,55.9L472,55.9" stroke-width="2.475"/>
<path d="M420.2,55.9 L466.0,55.9" stroke-width="4.95"/>
<path d="M350.7,68.7L356,68.3M380.1,66.7L385.4,66.4" stroke-width="2"/>
<path d="M356.0,68.3C358.7,68.1 368.1,67.4 372.1,67.1C376.1,66.8 378.8,66.8 380.1,66.7" stroke-width="4"/>
<path d="M373.8,66.7L380.1,66.7M412.2,67.5L418.5,67.8" stroke-width="2.7375"/>
<path d="M380.1,66.7C382.8,66.7 390.8,66.7 396.1,66.8C401.5,66.9 409.5,67.4 412.2,67.5" stroke-width="5.475"/>
<path d="M407,67.4L415.4,67.1M466,68.3L474.4,68.6" stroke-width="4.2375"/>
<path d="M415.4,67.1C417.5,67.0 423.5,66.6 428.3,66.7C433.1,66.8 438.0,67.2 444.3,67.5C450.6,67.8 462.4,68.2 466.0,68.3" stroke-width="8.475"/>
<path d="M349.7,78.8L356,78.7M409,78.2L415.3,78" stroke-width="2.7375"/>
<path d="M356.0,78.7C358.7,78.7 366.8,78.4 372.1,78.4C377.5,78.4 382.0,78.7 388.1,78.7C394.2,78.7 405.5,78.3 409.0,78.2" stroke-width="5.475"/>
<path d="M407,78.2L412.2,78.2M433.1,78.7L438.3,79" stroke-width="4.2375"/>
<path d="M412.2,78.2C414.1,78.2 419.9,78.1 423.4,78.2C426.9,78.3 431.5,78.6 433.1,78.7" stroke-width="8.475"/>
<path d="M428.3,78.4L433.1,78.7M452.4,79.5L457.2,79.6" stroke-width="3.775"/>
<path d="M433.1,78.7C434.7,78.8 439.5,79.1 442.7,79.2C445.9,79.3 450.8,79.5 452.4,79.5" stroke-width="7.55"/>
<path d="M402.7,89.6L409,89.9M466,89.1L472.3,89.2" stroke-width="2.7375"/>
<path d="M409.0,89.9C412.2,90.0 422.4,90.9 428.3,90.7C434.2,90.5 438.0,89.0 444.3,88.7C450.6,88.4 462.4,89.0 466.0,89.1" stroke-width="5.475"/>
<path d="M449,88.9L452.4,89M466,89.3L469.4,89.4" stroke-width="3.45"/>
<path d="M452.4,89.0 L466.0,89.3" stroke-width="6.9"/>
<path d="M353.6,100.4L356,100.4M365.6,100.4L368,100.4" stroke-width="4.1"/>
<path d="M356.0,100.4 L365.6,100.4" stroke-width="8.2"/>
<path d="M363.2,100.5L365.6,100.4M375.3,99.9L377.7,99.8" stroke-width="3"/>
<path d="M365.6,100.4 L375.3,99.9" stroke-width="6"/>
<path d="M402.6,101.2L409,101.2M466,101.2L472.4,101.2" stroke-width="2.75"/>
<path d="M409.0,101.2 L466.0,101.2" stroke-width="5.5"/>
<path d="M460.8,56.2L466,56.2M486.9,56.2L492.1,56.2" stroke-width="2.25"/>
<path d="M466.0,56.2 L486.9,56.2" stroke-width="4.5"/>
<path d="M514.6,57L519,57M536.7,57L541.1,57" stroke-width="3"/>
<path d="M519.0,57.0 L536.7,57.0" stroke-width="6"/>
<path d="M546.9,56.4L552.7,57.8M576,62.6L581.9,63.5" stroke-width="4.1"/>
<path d="M552.7,57.8C554.9,58.3 561.7,60.2 565.6,61.0C569.5,61.8 574.3,62.3 576.0,62.6" stroke-width="8.2"/>
<path d="M461.2,67.9L466,68.3M485.3,69.9L490.1,70.3" stroke-width="4.2375"/>
<path d="M466.0,68.3C467.6,68.4 472.4,68.8 475.6,69.1C478.8,69.4 483.7,69.8 485.3,69.9" stroke-width="8.475"/>
<path d="M479.3,69.5L485.3,69.9M511,71.5L517,71.9" stroke-width="2.475"/>
<path d="M485.3,69.9C487.4,70.0 493.8,70.4 498.1,70.7C502.4,71.0 508.9,71.4 511.0,71.5" stroke-width="4.95"/>
<path d="M509.4,73.5L514.2,73.9M533.4,75.5L538.2,75.9" stroke-width="2.475"/>
<path d="M514.2,73.9 L533.4,75.5" stroke-width="4.95"/>
<path d="M473.2,78.6L482.1,79.5M551.1,89.1L559.9,90.9" stroke-width="4.6"/>
<path d="M482.1,79.5C484.8,79.8 492.8,80.6 498.1,81.1C503.5,81.6 508.9,82.0 514.2,82.7C519.6,83.4 525.4,84.3 530.2,85.1C535.0,85.9 539.6,86.8 543.1,87.5C546.6,88.2 549.8,88.8 551.1,89.1" stroke-width="9.2"/>
<path d="M462,89.2L466,89.9M482.1,92.3L486.1,92.8" stroke-width="4.6"/>
<path d="M466.0,89.9C467.6,90.2 472.9,91.1 475.6,91.5C478.3,91.9 481.0,92.2 482.1,92.3" stroke-width="9.2"/>
<path d="M474.4,91.5L482.1,92.3M514.2,96.4L521.9,97.5" stroke-width="3.775"/>
<path d="M482.1,92.3C484.8,92.6 492.8,93.3 498.1,94.0C503.5,94.7 511.5,96.0 514.2,96.4" stroke-width="7.55"/>
<path d="M505.4,95.3L514.2,96.7M554.3,102L563.2,102.9" stroke-width="4.6"/>
<path d="M514.2,96.7C516.3,97.0 523.0,98.2 527.0,98.8C531.0,99.4 533.8,99.9 538.3,100.4C542.8,100.9 551.6,101.7 554.3,102.0" stroke-width="9.2"/>
<path d="M559,84.3L562.4,84.3M576,84.3L579.4,84.3" stroke-width="1.2"/>
<path d="M562.4,84.3 L576.0,84.3" stroke-width="2.4"/>
<path d="M550.9,83.3L555.9,83.5M576,84.3L581,84.5" stroke-width="2.475"/>
<path d="M555.9,83.5 L576.0,84.3" stroke-width="4.95"/>
<path d="M559,99.6L562.4,99.6M576,99.6L579.4,99.6" stroke-width="1.2"/>
<path d="M562.4,99.6 L576.0,99.6" stroke-width="2.4"/>
<path d="M568.9,60.6L575,60.2M599.1,61.4L605.1,62.5" stroke-width="4.1"/>
<path d="M575.0,60.2C577.1,60.1 583.8,59.2 587.8,59.4C591.8,59.6 597.2,61.1 599.1,61.4" stroke-width="8.2"/>
<path d="M593.5,60.8L599.1,61M685,59.4L690.6,59.4" stroke-width="2.25"/>
<path d="M599.1,61.0C603.1,61.1 615.2,61.9 623.2,61.8C631.2,61.7 639.3,60.6 647.3,60.2C655.3,59.8 665.1,59.5 671.4,59.4C677.7,59.3 682.7,59.4 685.0,59.4" stroke-width="4.5"/>
<path d="M601.1,60.5L607.1,60.7M631.2,61.4L637.2,61.6" stroke-width="2.475"/>
<path d="M607.1,60.7 L631.2,61.4" stroke-width="4.95"/>
<path d="M605.6,67.8L611.9,67.9M639.2,68.3L645.5,68.4" stroke-width="2.75"/>
<path d="M611.9,67.9 L639.2,68.3" stroke-width="5.5"/>
<path d="M650.5,67.8L655.3,67.8M674.6,67.8L679.4,67.8" stroke-width="2.75"/>
<path d="M655.3,67.8 L674.6,67.8" stroke-width="5.5"/>
<path d="M597.1,78.5L600.7,78.7M615.1,79.5L618.7,79.7" stroke-width="3.775"/>
<path d="M600.7,78.7 L615.1,79.5" stroke-width="7.55"/>
<path d="M608.8,79.5L615.1,79.7M685,79.5L691.3,79.3" stroke-width="2.7375"/>
<path d="M615.1,79.7C619.1,79.8 631.2,80.2 639.2,80.3C647.2,80.4 655.7,80.4 663.3,80.3C670.9,80.2 681.4,79.6 685.0,79.5" stroke-width="5.475"/>
<path d="M572.6,80.2L575,80.3M584.6,80.6L587,80.7" stroke-width="2.475"/>
<path d="M575.0,80.3 L584.6,80.6" stroke-width="4.95"/>
<path d="M570.3,97.2L575,97.2M599.1,97.2L603.8,97.2" stroke-width="1.6"/>
<path d="M575.0,97.2 L599.1,97.2" stroke-width="3.2"/>
<path d="M613.3,99.8L620,99.9M685,99.6L691.7,99.5" stroke-width="3"/>
<path d="M620.0,99.9C624.5,100.0 636.5,100.5 647.3,100.4C658.1,100.4 678.7,99.7 685.0,99.6" stroke-width="6"/>
<path d="M240.3,104.3L246,104.3M270.1,104.3L275.8,104.3" stroke-width="2.25"/>
<path d="M246.0,104.3 L270.1,104.3" stroke-width="4.5"/>
<path d="M288.6,104.6L294.2,104.6M334.3,104.6L339.9,104.6" stroke-width="2.25"/>
<path d="M294.2,104.6 L334.3,104.6" stroke-width="4.5"/>
<path d="M239.3,119L246,118.3M274.9,114.6L281.5,113.5" stroke-width="3"/>
<path d="M246.0,118.3C248.7,118.0 257.3,117.3 262.1,116.7C266.9,116.1 272.8,114.9 274.9,114.6" stroke-width="6"/>
<path d="M253.2,118.6L255.6,118.3M265.3,117.1L267.7,116.8" stroke-width="4.1"/>
<path d="M255.6,118.3 L265.3,117.1" stroke-width="8.2"/>
<path d="M266.8,113.9L274.9,114.6M307,119.9L315.1,120.5" stroke-width="4.9625"/>
<path d="M274.9,114.6C276.8,114.8 282.9,115.0 286.1,115.5C289.3,116.0 291.8,117.1 294.2,117.8C296.6,118.5 298.5,119.1 300.6,119.4C302.7,119.8 305.9,119.8 307.0,119.9" stroke-width="9.925"/>
<path d="M309.1,115.2L315.1,115M356,114.2L362,114.2" stroke-width="2.475"/>
<path d="M315.1,115.0C318.3,114.9 327.5,114.3 334.3,114.2C341.1,114.1 352.4,114.2 356.0,114.2" stroke-width="4.95"/>
<path d="M258.9,131.5L262.1,131.9M274.9,133.5L278.1,133.9" stroke-width="2.7375"/>
<path d="M262.1,131.9 L274.9,133.5" stroke-width="5.475"/>
<path d="M308.4,128.4L315.1,128.7M356,129.5L362.7,129.5" stroke-width="3"/>
<path d="M315.1,128.7C318.3,128.8 327.5,129.4 334.3,129.5C341.1,129.6 352.4,129.5 356.0,129.5" stroke-width="6"/>
<path d="M314.3,129L319.9,129.2M342.4,129.8L348,130" stroke-width="3.45"/>
<path d="M319.9,129.2 L342.4,129.8" stroke-width="6.9"/>
<path d="M274.1,137.7L278.1,137.5M294.2,136.7L298.2,136.5" stroke-width="2.7375"/>
<path d="M278.1,137.5 L294.2,136.7" stroke-width="5.475"/>
<path d="M306.9,136.8L315.1,137.5M356,139.1L364.2,139.1" stroke-width="4.1"/>
<path d="M315.1,137.5C318.3,137.8 327.5,138.8 334.3,139.1C341.1,139.4 352.4,139.1 356.0,139.1" stroke-width="8.2"/>
<path d="M314.3,138.1L318.3,138.3M334.3,139L338.3,139.2" stroke-width="4.2375"/>
<path d="M318.3,138.3 L334.3,139.0" stroke-width="8.475"/>
<path d="M272.1,146.4L278.1,146.4M302.2,146.4L308.2,146.4" stroke-width="3"/>
<path d="M278.1,146.4 L302.2,146.4" stroke-width="6"/>
<path d="M282.1,152L286.1,152M302.2,152L306.2,152" stroke-width="3.775"/>
<path d="M286.1,152.0 L302.2,152.0" stroke-width="7.55"/>
<path d="M322.1,148L326.3,148M356,148L360.2,148" stroke-width="1.2"/>
<path d="M326.3,148.0 L356.0,148.0" stroke-width="2.4"/>
<path d="M418.4,104.8L425.1,104.9M466,105.4L472.7,105.5" stroke-width="3"/>
<path d="M425.1,104.9 L466.0,105.4" stroke-width="6"/>
<path d="M428.3,104.5L433.1,104.6M452.4,104.9L457.2,105" stroke-width="3.775"/>
<path d="M433.1,104.6 L452.4,104.9" stroke-width="7.55"/>
<path d="M353.6,114.4L356,114.2M365.6,113.6L368,113.4" stroke-width="3.775"/>
<path d="M356.0,114.2 L365.6,113.6" stroke-width="7.55"/>
<path d="M360,114.4L365.6,113.6M388.1,110.2L393.7,109.4" stroke-width="2.475"/>
<path d="M365.6,113.6 L388.1,110.2" stroke-width="4.95"/>
<path d="M410.2,115L413.8,115.8M428.3,119.1L431.9,119.9" stroke-width="2.7375"/>
<path d="M413.8,115.8 L428.3,119.1" stroke-width="5.475"/>
<path d="M364.1,127.3L372.1,126.3M404.2,123.9L412.3,123.7" stroke-width="4.6"/>
<path d="M372.1,126.3C374.8,126.0 382.8,124.6 388.1,124.2C393.5,123.8 401.5,124.0 404.2,123.9" stroke-width="9.2"/>
<path d="M352,129.3L356,128.7M372.1,126.3L376.1,125.7" stroke-width="3.775"/>
<path d="M356.0,128.7 L372.1,126.3" stroke-width="7.55"/>
<path d="M407.4,130.7L410.6,131.1M423.4,132.7L426.6,133.1" stroke-width="4.6"/>
<path d="M410.6,131.1 L423.4,132.7" stroke-width="9.2"/>
<path d="M417.1,133L423.4,133.5M466,135.1L472.3,135.1" stroke-width="2.7375"/>
<path d="M423.4,133.5C426.9,133.8 437.2,134.8 444.3,135.1C451.4,135.4 462.4,135.1 466.0,135.1" stroke-width="5.475"/>
<path d="M349.7,140.8L356,139.9M404.2,135.1L410.5,134.8" stroke-width="2.7375"/>
<path d="M356.0,139.9C358.7,139.5 366.8,138.2 372.1,137.5C377.5,136.8 382.8,136.3 388.1,135.9C393.5,135.5 401.5,135.2 404.2,135.1" stroke-width="5.475"/>
<path d="M407.5,141.3L412.2,141.5M466,144L470.7,144.2" stroke-width="1.6"/>
<path d="M412.2,141.5 L466.0,144.0" stroke-width="3.2"/>
<path d="M438.9,147.9L444.3,148M466,148.3L471.4,148.4" stroke-width="4.1"/>
<path d="M444.3,148.0 L466.0,148.3" stroke-width="8.2"/>
<path d="M349.3,151.2L356,151.2M404.2,151.2L410.9,151.2" stroke-width="3"/>
<path d="M356.0,151.2 L404.2,151.2" stroke-width="6"/>
<path d="M468,107.5L474,107.8M498.1,109.1L504.1,109.4" stroke-width="3.775"/>
<path d="M474.0,107.8 L498.1,109.1" stroke-width="7.55"/>
<path d="M491.8,109.1L498.1,109.4M555.9,115.8L562.1,116.8" stroke-width="2.7375"/>
<path d="M498.1,109.4C500.8,109.5 508.9,109.7 514.2,110.2C519.6,110.7 524.9,111.9 530.2,112.6C535.6,113.3 542.0,113.7 546.3,114.2C550.6,114.7 554.3,115.5 555.9,115.8" stroke-width="5.475"/>
<path d="M551.7,105.9L555.9,106.2M576,107.8L580.2,108.1" stroke-width="1.2"/>
<path d="M555.9,106.2 L576.0,107.8" stroke-width="2.4"/>
<path d="M486.1,119.4L490.1,119.4M506.1,119.4L510.1,119.4" stroke-width="2.475"/>
<path d="M490.1,119.4 L506.1,119.4" stroke-width="4.95"/>
<path d="M459.3,141.5L466,141.5M543.1,135.1L549.7,134.3" stroke-width="3"/>
<path d="M466.0,141.5C468.7,141.5 476.8,141.8 482.1,141.5C487.5,141.2 492.8,140.4 498.1,139.9C503.5,139.4 508.9,138.8 514.2,138.3C519.6,137.8 525.4,137.2 530.2,136.7C535.0,136.2 541.0,135.4 543.1,135.1" stroke-width="6"/>
<path d="M534.5,134.6L543.1,135.1M576,143.1L583.8,146.7" stroke-width="4.9625"/>
<path d="M543.1,135.1C545.2,135.2 552.1,135.4 555.9,135.9C559.6,136.4 562.2,137.1 565.6,138.3C569.0,139.5 574.3,142.3 576.0,143.1" stroke-width="9.925"/>
<path d="M461.8,144.4L466,144.4M514.2,144.4L518.4,144.4" stroke-width="1.2"/>
<path d="M466.0,144.4 L514.2,144.4" stroke-width="2.4"/>
<path d="M461.8,152L466,152M562.4,152L566.6,152" stroke-width="1.2"/>
<path d="M466.0,152.0 L562.4,152.0" stroke-width="2.4"/>
<path d="M570.8,106.2L575,106.2M607.1,106.2L611.3,106.2" stroke-width="1.2"/>
<path d="M575.0,106.2 L607.1,106.2" stroke-width="2.4"/>
<path d="M569.4,111.2L575,111M599.1,110.2L604.7,110" stroke-width="2.25"/>
<path d="M575.0,111.0 L599.1,110.2" stroke-width="4.5"/>
<path d="M603.7,112.7L608.7,113.4M628,118.3L632.6,120.2" stroke-width="4.9625"/>
<path d="M608.7,113.4C610.6,113.7 616.8,114.2 620.0,115.0C623.2,115.8 626.7,117.8 628.0,118.3" stroke-width="9.925"/>
<path d="M624.9,112.8L631.2,112.6M685,111.8L691.3,111.8" stroke-width="2.7375"/>
<path d="M631.2,112.6C635.2,112.5 646.3,111.9 655.3,111.8C664.3,111.7 680.0,111.8 685.0,111.8" stroke-width="5.475"/>
<path d="M629.7,122.6L636,122.3M685,120.7L691.3,120.5" stroke-width="2.7375"/>
<path d="M636.0,122.3C639.2,122.2 647.1,121.8 655.3,121.5C663.5,121.2 680.0,120.8 685.0,120.7" stroke-width="5.475"/>
<path d="M568.7,142.1L575,139.9M671.4,146.4L678.1,147.1" stroke-width="3"/>
<path d="M575.0,139.9C577.7,139.0 585.8,135.0 591.1,134.3C596.5,133.6 601.8,135.0 607.1,135.9C612.5,136.8 617.9,138.7 623.2,139.9C628.6,141.1 633.9,142.3 639.2,143.1C644.6,143.9 649.9,144.2 655.3,144.8C660.7,145.4 668.7,146.1 671.4,146.4" stroke-width="6"/>
<path d="M573,143.9L575,144M583,144.4L585,144.5" stroke-width="4.6"/>
<path d="M575.0,144.0 L583.0,144.4" stroke-width="9.2"/>
<path d="M609.9,139.8L615.1,140.3M636,142.3L641.2,142.8" stroke-width="4.2375"/>
<path d="M615.1,140.3 L636.0,142.3" stroke-width="8.475"/>
<path d="M570.3,149.6L575,149.6M685,149.6L689.7,149.6" stroke-width="1.6"/>
<path d="M575.0,149.6 L685.0,149.6" stroke-width="3.2"/>
<path d="M257.9,159.4L262.1,159.4M291,159.4L295.2,159.4" stroke-width="1.2"/>
<path d="M262.1,159.4 L291.0,159.4" stroke-width="2.4"/>
<path d="M242,166.1L246,165.8M262.1,164.6L266.1,164.3" stroke-width="4.1"/>
<path d="M246.0,165.8 L262.1,164.6" stroke-width="8.2"/>
<path d="M258.1,165.3L262.1,164.6M278.1,161.8L282.1,161.1" stroke-width="2.7375"/>
<path d="M262.1,164.6 L278.1,161.8" stroke-width="5.475"/>
<path d="M279.8,169.1L286.1,169.1M315.1,161.8L321.4,160.9" stroke-width="2.7375"/>
<path d="M286.1,169.1C287.5,169.1 290.7,170.1 294.2,169.1C297.7,168.1 303.5,164.2 307.0,163.0C310.5,161.8 313.8,162.0 315.1,161.8" stroke-width="5.475"/>
<path d="M309.8,175.3L315.1,175.5M356,177.1L361.3,177.3" stroke-width="2"/>
<path d="M315.1,175.5 L356.0,177.1" stroke-width="4"/>
<path d="M316.8,176.3L323.1,175.5M356,173.9L362.3,174.3" stroke-width="2.7375"/>
<path d="M323.1,175.5C326.3,175.1 336.9,173.4 342.4,173.1C347.9,172.8 353.7,173.8 356.0,173.9" stroke-width="5.475"/>
<path d="M309.8,186.5L315.1,186.7M356,188.3L361.3,188.5" stroke-width="2"/>
<path d="M315.1,186.7 L356.0,188.3" stroke-width="4"/>
<path d="M314.3,185.1L318.3,185.1M334.3,185.1L338.3,185.1" stroke-width="3.775"/>
<path d="M318.3,185.1 L334.3,185.1" stroke-width="7.55"/>
<path d="M330.9,189.7L335.9,189.9M356,190.7L361,190.9" stroke-width="2.475"/>
<path d="M335.9,189.9 L356.0,190.7" stroke-width="4.95"/>
<path d="M239.7,180.9L246,180.3M274.9,178.7L281.2,178.7" stroke-width="2.7375"/>
<path d="M246.0,180.3C248.7,180.0 257.3,179.0 262.1,178.7C266.9,178.4 272.8,178.7 274.9,178.7" stroke-width="5.475"/>
<path d="M255.9,187.9L262.1,186.7M287.8,181.1L293.9,179.6" stroke-width="2.7375"/>
<path d="M262.1,186.7C264.8,186.2 273.8,184.4 278.1,183.5C282.4,182.6 286.2,181.5 287.8,181.1" stroke-width="5.475"/>
<path d="M241.3,199.6L246,199.6M294.2,199.6L298.9,199.6" stroke-width="1.6"/>
<path d="M246.0,199.6 L294.2,199.6" stroke-width="3.2"/>
<path d="M274.1,198.3L278.1,198.3M294.2,198.3L298.2,198.3" stroke-width="3.775"/>
<path d="M278.1,198.3 L294.2,198.3" stroke-width="7.55"/>
<path d="M368.1,166.2L372.1,165.8M388.1,164.2L392.1,163.8" stroke-width="3"/>
<path d="M372.1,165.8 L388.1,164.2" stroke-width="6"/>
<path d="M382.9,164.3L388.1,163.9M409,162.3L414.2,161.9" stroke-width="4.1"/>
<path d="M388.1,163.9 L409.0,162.3" stroke-width="8.2"/>
<path d="M407,162.2L409,162M417,161L419,160.8" stroke-width="2.475"/>
<path d="M409.0,162.0 L417.0,161.0" stroke-width="4.95"/>
<path d="M415.3,166.3L420.2,167.5M439.5,173.6L444.1,175.7" stroke-width="2.7375"/>
<path d="M420.2,167.5C422.4,168.0 429.9,169.7 433.1,170.7C436.3,171.7 438.4,173.1 439.5,173.6" stroke-width="5.475"/>
<path d="M435.5,173.4L439.5,173.9M455.6,175.8L459.6,176.3" stroke-width="4.9625"/>
<path d="M439.5,173.9 L455.6,175.8" stroke-width="9.925"/>
<path d="M453,175.7L455.6,176.3M466,178.7L468.6,179.3" stroke-width="3.775"/>
<path d="M455.6,176.3 L466.0,178.7" stroke-width="7.55"/>
<path d="M395.7,182.7L401,182.7M426.7,182.7L432,182.7" stroke-width="2"/>
<path d="M401.0,182.7 L426.7,182.7" stroke-width="4"/>
<path d="M399.4,181.5L404.2,181.9M423.4,183.5L428.2,183.9" stroke-width="2.475"/>
<path d="M404.2,181.9 L423.4,183.5" stroke-width="4.95"/>
<path d="M352.8,185.2L356,185.1M368.8,184.8L372,184.7" stroke-width="3"/>
<path d="M356.0,185.1 L368.8,184.8" stroke-width="6"/>
<path d="M364,185.5L368.8,185.6M388.1,185.9L392.9,186" stroke-width="4.1"/>
<path d="M368.8,185.6 L388.1,185.9" stroke-width="8.2"/>
<path d="M440.9,184.7L445.9,185.1M466,186.7L471,187.1" stroke-width="2"/>
<path d="M445.9,185.1 L466.0,186.7" stroke-width="4"/>
<path d="M378.1,199.6L380.1,199.6M388.1,199.6L390.1,199.6" stroke-width="2.75"/>
<path d="M380.1,199.6 L388.1,199.6" stroke-width="5.5"/>
<path d="M408,197.2L412.2,197.2M433.1,197.2L437.3,197.2" stroke-width="1.2"/>
<path d="M412.2,197.2 L433.1,197.2" stroke-width="2.4"/>
<path d="M458.2,155.5L466,155.4M522.2,156.2L530,156.6" stroke-width="3.775"/>
<path d="M466.0,155.4C471.4,155.3 488.7,154.8 498.1,154.9C507.5,155.0 518.2,156.0 522.2,156.2" stroke-width="7.55"/>
<path d="M484.8,188.2L490.1,188.3M554.3,189.1L559.6,189.2" stroke-width="2"/>
<path d="M490.1,188.3 L554.3,189.1" stroke-width="4"/>
<path d="M515,179.3L519,179M535.1,177.9L539.1,177.6" stroke-width="3.775"/>
<path d="M519.0,179.0 L535.1,177.9" stroke-width="7.55"/>
<path d="M548.9,167.3L554.3,167.5M576,168.3L581.4,168.5" stroke-width="3.775"/>
<path d="M554.3,167.5 L576.0,168.3" stroke-width="7.55"/>
<path d="M459.3,186.4L466,186.7M514.2,186.7L520.9,187.4" stroke-width="3"/>
<path d="M466.0,186.7C468.7,186.8 476.8,187.8 482.1,187.5C487.5,187.2 492.8,185.2 498.1,185.1C503.5,185.0 511.5,186.4 514.2,186.7" stroke-width="6"/>
<path d="M549,183.5L554.3,183.5M576,183.5L581.3,183.5" stroke-width="2"/>
<path d="M554.3,183.5 L576.0,183.5" stroke-width="4"/>
<path d="M550.9,175.5L555.9,175.5M576,175.5L581,175.5" stroke-width="2.475"/>
<path d="M555.9,175.5 L576.0,175.5" stroke-width="4.95"/>
<path d="M507.5,197.2L514.2,197.2M554.3,197.2L561,197.2" stroke-width="3"/>
<path d="M514.2,197.2 L554.3,197.2" stroke-width="6"/>
<path d="M637.6,164.6L640.8,164.6M653.7,164.6L656.9,164.6" stroke-width="2.75"/>
<path d="M640.8,164.6 L653.7,164.6" stroke-width="5.5"/>
<path d="M640.5,157L647.3,156.5M674.6,155.9L681.4,156.2" stroke-width="3.775"/>
<path d="M647.3,156.5C650.0,156.3 658.8,155.5 663.3,155.4C667.8,155.3 672.7,155.8 674.6,155.9" stroke-width="7.55"/>
<path d="M672,156.1L674.6,156.2M685,156.5L687.6,156.6" stroke-width="4.6"/>
<path d="M674.6,156.2 L685.0,156.5" stroke-width="9.2"/>
<path d="M566.9,165.9L575,167.5M623.2,177.1L631.4,177.9" stroke-width="4.1"/>
<path d="M575.0,167.5C577.7,168.0 585.8,169.4 591.1,170.7C596.5,172.0 601.8,174.4 607.1,175.5C612.5,176.6 620.5,176.8 623.2,177.1" stroke-width="8.2"/>
<path d="M600.7,175.6L603.9,175.8M616.8,176.8L620,177.1" stroke-width="4.2375"/>
<path d="M603.9,175.8 L616.8,176.8" stroke-width="8.475"/>
<path d="M616.5,178.4L623.2,178.7M685,182.7L691.7,183.2" stroke-width="3"/>
<path d="M623.2,178.7C625.9,178.8 632.5,179.1 639.2,179.5C645.9,179.9 655.7,180.6 663.3,181.1C670.9,181.6 681.4,182.4 685.0,182.7" stroke-width="6"/>
<path d="M643.3,180.1L647.3,180.3M663.3,181.1L667.3,181.3" stroke-width="3.45"/>
<path d="M647.3,180.3 L663.3,181.1" stroke-width="6.9"/>
<path d="M568.3,186L575,186.7M607.1,191.5L613.7,192.8" stroke-width="3"/>
<path d="M575.0,186.7C577.7,187.0 585.8,187.5 591.1,188.3C596.5,189.1 604.4,191.0 607.1,191.5" stroke-width="6"/>
<path d="M585,188.1L587.8,188.3M599.1,189.1L601.9,189.3" stroke-width="3.775"/>
<path d="M587.8,188.3 L599.1,189.1" stroke-width="7.55"/>
<path d="M602.4,197.1L607.1,197.2M685,198.8L689.7,198.9" stroke-width="1.6"/>
<path d="M607.1,197.2 L685.0,198.8" stroke-width="3.2"/>
<path d="M632.9,196.4L639.2,196.4M685,196.4L691.3,196.4" stroke-width="2.7375"/>
<path d="M639.2,196.4 L685.0,196.4" stroke-width="5.475"/>
<path d="M241.3,206.2L246,206.2M270.1,206.2L274.8,206.2" stroke-width="1.6"/>
<path d="M246.0,206.2 L270.1,206.2" stroke-width="3.2"/>
<path d="M280.1,205.4L286.1,205.4M310.2,205.4L316.2,205.4" stroke-width="2.475"/>
<path d="M286.1,205.4 L310.2,205.4" stroke-width="4.95"/>
<path d="M256.1,213.2L262.1,213.4M286.1,214.2L292.1,214.4" stroke-width="3"/>
<path d="M262.1,213.4 L286.1,214.2" stroke-width="6"/>
<path d="M267.3,214.1L270.1,214.2M281.3,214.6L284.1,214.7" stroke-width="3.45"/>
<path d="M270.1,214.2 L281.3,214.6" stroke-width="6.9"/>
<path d="M291.5,223.7L297.4,223.9M356,225.5L361.9,225.7" stroke-width="2.4"/>
<path d="M297.4,223.9 L356.0,225.5" stroke-width="4.8"/>
<path d="M287.5,226.5L294.2,227.1M356,230.3L362.7,230.3" stroke-width="3"/>
<path d="M294.2,227.1C297.4,227.4 306.7,228.2 313.4,228.7C320.1,229.2 327.2,230.0 334.3,230.3C341.4,230.6 352.4,230.3 356.0,230.3" stroke-width="6"/>
<path d="M309.4,232.2L313.4,232.2M329.5,232.2L333.5,232.2" stroke-width="4.1"/>
<path d="M313.4,232.2 L329.5,232.2" stroke-width="8.2"/>
<path d="M292.1,237.4L297.4,237.5M356,239.1L361.3,239.2" stroke-width="2"/>
<path d="M297.4,237.5 L356.0,239.1" stroke-width="4"/>
<path d="M339,238.7L342.4,238.7M356,238.7L359.4,238.7" stroke-width="3.775"/>
<path d="M342.4,238.7 L356.0,238.7" stroke-width="7.55"/>
<path d="M250,220.7L254,220.7M270.1,220.7L274.1,220.7" stroke-width="1.2"/>
<path d="M254.0,220.7 L270.1,220.7" stroke-width="2.4"/>
<path d="M244,228.7L246,228.7M254,228.7L256,228.7" stroke-width="3"/>
<path d="M246.0,228.7 L254.0,228.7" stroke-width="6"/>
<path d="M247.7,234.1L254,233.5M294.2,227.1L300.1,224.8" stroke-width="2.75"/>
<path d="M254.0,233.5C256.7,233.2 264.8,232.4 270.1,231.9C275.5,231.4 282.1,231.1 286.1,230.3C290.1,229.5 292.9,227.6 294.2,227.1" stroke-width="5.5"/>
<path d="M239.3,243.4L246,243.1M294.2,239.9L300.9,239.2" stroke-width="3"/>
<path d="M246.0,243.1C248.7,243.0 256.8,242.6 262.1,242.3C267.5,242.0 272.8,241.9 278.1,241.5C283.5,241.1 291.5,240.2 294.2,239.9" stroke-width="6"/>
<path d="M256.1,242.9L262.1,242.7M286.1,241.9L292.1,241.7" stroke-width="3.775"/>
<path d="M262.1,242.7 L286.1,241.9" stroke-width="7.55"/>
<path d="M238.6,250.4L246,250.4M286.1,250.4L293.5,250.4" stroke-width="3.525"/>
<path d="M246.0,250.4 L286.1,250.4" stroke-width="7.05"/>
<path d="M391.4,207.8L396.1,207.8M444.3,207.8L449,207.8" stroke-width="1.6"/>
<path d="M396.1,207.8 L444.3,207.8" stroke-width="3.2"/>
<path d="M350,214.5L356,214.2M420.2,209.7L426.2,209.3" stroke-width="2.475"/>
<path d="M356.0,214.2C358.7,214.1 365.4,213.9 372.1,213.4C378.8,212.9 388.1,212.0 396.1,211.4C404.1,210.8 416.2,210.0 420.2,209.7" stroke-width="4.95"/>
<path d="M434.2,221.3L439.5,220.7M466,217.5L471.3,216.9" stroke-width="2"/>
<path d="M439.5,220.7 L466.0,217.5" stroke-width="4"/>
<path d="M433.2,223.1L439.5,222.3M466,219.1L472.3,218.4" stroke-width="2.7375"/>
<path d="M439.5,222.3C441.6,222.0 448.0,221.2 452.4,220.7C456.8,220.2 463.7,219.4 466.0,219.1" stroke-width="5.475"/>
<path d="M439.6,233.5L444.3,233.5M466,233.5L470.7,233.5" stroke-width="1.6"/>
<path d="M444.3,233.5 L466.0,233.5" stroke-width="3.2"/>
<path d="M348.6,230.7L356,230.3M404.2,231.1L411.6,231.5" stroke-width="3.525"/>
<path d="M356.0,230.3C358.7,230.2 366.8,229.5 372.1,229.5C377.5,229.5 382.8,230.0 388.1,230.3C393.5,230.6 401.5,231.0 404.2,231.1" stroke-width="7.05"/>
<path d="M397,231L404.2,231.3M433.1,232.7L440.3,233.1" stroke-width="4.9625"/>
<path d="M404.2,231.3C406.9,231.4 415.4,231.7 420.2,231.9C425.0,232.1 431.0,232.6 433.1,232.7" stroke-width="9.925"/>
<path d="M351.8,237.5L356,237.5M404.2,237.5L408.4,237.5" stroke-width="1.2"/>
<path d="M356.0,237.5 L404.2,237.5" stroke-width="2.4"/>
<path d="M366.1,237.5L372.1,237.5M396.1,237.5L402.1,237.5" stroke-width="3.775"/>
<path d="M372.1,237.5 L396.1,237.5" stroke-width="7.55"/>
<path d="M418.1,243.9L423.4,244M452.4,244.8L457.7,244.9" stroke-width="2"/>
<path d="M423.4,244.0 L452.4,244.8" stroke-width="4"/>
<path d="M421.9,251.2L428.3,251.2M466,251.2L472.4,251.2" stroke-width="2.75"/>
<path d="M428.3,251.2 L466.0,251.2" stroke-width="5.5"/>
<path d="M462,205.4L466,205.4M482.1,205.4L486.1,205.4" stroke-width="1.2"/>
<path d="M466.0,205.4 L482.1,205.4" stroke-width="2.4"/>
<path d="M554.9,205.4L559.1,205.4M576,205.4L580.2,205.4" stroke-width="1.2"/>
<path d="M559.1,205.4 L576.0,205.4" stroke-width="2.4"/>
<path d="M502.5,221.4L507.8,221.5M555.9,222.3L561.2,222.4" stroke-width="2"/>
<path d="M507.8,221.5 L555.9,222.3" stroke-width="4"/>
<path d="M499.5,219.4L506.1,220.7M554.3,224.7L561,224.4" stroke-width="3"/>
<path d="M506.1,220.7C508.8,221.2 516.8,223.1 522.2,223.9C527.6,224.7 532.9,225.4 538.3,225.5C543.6,225.6 551.6,224.8 554.3,224.7" stroke-width="6"/>
<path d="M559,225.5L562.4,225.5M576,225.5L579.4,225.5" stroke-width="2"/>
<path d="M562.4,225.5 L576.0,225.5" stroke-width="4"/>
<path d="M559,226.7L562.4,227.1M576,228.7L579.4,229.1" stroke-width="2.7375"/>
<path d="M562.4,227.1 L576.0,228.7" stroke-width="5.475"/>
<path d="M459,230.9L466,231.9M525.4,239.6L532.5,239.9" stroke-width="3.2625"/>
<path d="M466.0,231.9C468.7,232.3 476.8,233.5 482.1,234.3C487.5,235.1 492.8,235.9 498.1,236.7C503.5,237.5 509.7,238.6 514.2,239.1C518.8,239.6 523.5,239.5 525.4,239.6" stroke-width="6.525"/>
<path d="M516.2,239.1L525.4,239.6M562.4,239.9L571.7,240.1" stroke-width="4.9625"/>
<path d="M525.4,239.6C527.5,239.7 534.3,240.3 538.3,240.3C542.3,240.3 545.5,239.7 549.5,239.6C553.5,239.5 560.2,239.8 562.4,239.9" stroke-width="9.925"/>
<path d="M459.7,245.1L466,244.8M514.2,246.4L520.5,246.7" stroke-width="2.7375"/>
<path d="M466.0,244.8C468.7,244.7 476.8,243.9 482.1,244.0C487.5,244.1 492.8,245.2 498.1,245.6C503.5,246.0 511.5,246.3 514.2,246.4" stroke-width="5.475"/>
<path d="M582.2,205.4L584.6,205.4M594.3,205.4L596.7,205.4" stroke-width="2.75"/>
<path d="M584.6,205.4 L594.3,205.4" stroke-width="5.5"/>
<path d="M662.3,205.4L666.5,205.4M685,205.4L689.2,205.4" stroke-width="1.2"/>
<path d="M666.5,205.4 L685.0,205.4" stroke-width="2.4"/>
<path d="M566.9,210.6L575,211.8M615.1,222.3L623.2,223.9" stroke-width="4.1"/>
<path d="M575.0,211.8C577.7,212.2 587.1,213.2 591.1,214.2C595.1,215.1 596.4,216.4 599.1,217.5C601.8,218.6 604.4,219.9 607.1,220.7C609.8,221.5 613.8,222.0 615.1,222.3" stroke-width="8.2"/>
<path d="M607.9,228.7L611.9,228.7M628,228.7L632,228.7" stroke-width="3.775"/>
<path d="M611.9,228.7 L628.0,228.7" stroke-width="7.55"/>
<path d="M629.7,222.8L636,223.1M685,224.7L691.3,224.9" stroke-width="2.7375"/>
<path d="M636.0,223.1C639.2,223.2 647.1,223.6 655.3,223.9C663.5,224.2 680.0,224.6 685.0,224.7" stroke-width="5.475"/>
<path d="M571,226.7L575,227.1M591.1,228.7L595.1,229.1" stroke-width="2.75"/>
<path d="M575.0,227.1 L591.1,228.7" stroke-width="5.5"/>
<path d="M569.8,245.1L575,245.1M595.9,244.4L601.1,244.1" stroke-width="4.6"/>
<path d="M575.0,245.1C576.6,245.1 581.1,245.2 584.6,245.1C588.1,245.0 594.0,244.5 595.9,244.4" stroke-width="9.2"/>
<path d="M589.2,245.7L595.9,244.1M623.2,240.7L630.1,240.4" stroke-width="3.775"/>
<path d="M595.9,244.1C597.8,243.7 602.5,242.1 607.1,241.5C611.7,240.9 620.5,240.8 623.2,240.7" stroke-width="7.55"/>
<path d="M629.7,236.3L636,236.7M685,239.6L691.3,239.9" stroke-width="2.7375"/>
<path d="M636.0,236.7C639.2,236.9 647.1,237.5 655.3,238.0C663.5,238.5 680.0,239.3 685.0,239.6" stroke-width="5.475"/>
<path d="M639.1,246L647.3,246.4M685,247.2L693.2,247.2" stroke-width="4.1"/>
<path d="M647.3,246.4C650.0,246.5 657.0,247.1 663.3,247.2C669.6,247.3 681.4,247.2 685.0,247.2" stroke-width="8.2"/>
<path d="M282.1,254.6L286.1,254.6M302.2,254.6L306.2,254.6" stroke-width="2.475"/>
<path d="M286.1,254.6 L302.2,254.6" stroke-width="4.95"/>
<path d="M304.2,256.8L310.2,256.5M356,256.5L362,256.7" stroke-width="2.475"/>
<path d="M310.2,256.5C312.9,256.4 318.7,255.7 326.3,255.7C333.9,255.7 351.1,256.4 356.0,256.5" stroke-width="4.95"/>
<path d="M238.6,277.8L246,277.1M356,277.1L363.2,278.8" stroke-width="3.525"/>
<path d="M246.0,277.1C248.7,276.8 256.8,276.2 262.1,275.5C267.5,274.8 272.8,273.5 278.1,272.6C283.5,271.7 288.9,270.8 294.2,270.2C299.5,269.6 304.8,269.3 310.2,269.1C315.6,268.9 320.9,268.3 326.3,269.1C331.7,269.9 337.4,272.6 342.4,273.9C347.3,275.2 353.7,276.6 356.0,277.1" stroke-width="7.05"/>
<path d="M256.1,275.2L262.1,274.7M286.1,272.6L292.1,272.1" stroke-width="4.1"/>
<path d="M262.1,274.7 L286.1,272.6" stroke-width="8.2"/>
<path d="M330.3,276L334.3,276.3M350.4,277.4L354.4,277.7" stroke-width="4.1"/>
<path d="M334.3,276.3 L350.4,277.4" stroke-width="8.2"/>
<path d="M292.1,278.5L297.4,278.7M342.4,280.3L347.7,280.5" stroke-width="2"/>
<path d="M297.4,278.7 L342.4,280.3" stroke-width="4"/>
<path d="M241.2,293.5L246,292.8M265.3,289.6L270.1,288.7" stroke-width="5.325"/>
<path d="M246.0,292.8C247.6,292.6 252.4,292.0 255.6,291.5C258.8,291.0 263.7,289.9 265.3,289.6" stroke-width="10.65"/>
<path d="M260.1,290.4L265.3,289.6M286.1,286.4L291.3,285.6" stroke-width="4.425"/>
<path d="M265.3,289.6 L286.1,286.4" stroke-width="8.85"/>
<path d="M280.1,286.6L286.1,286.1M310.2,284.3L316.2,283.9" stroke-width="3"/>
<path d="M286.1,286.1 L310.2,284.3" stroke-width="6"/>
<path d="M328.9,300.4L334.3,300.4M356,300.4L361.4,300.4" stroke-width="3"/>
<path d="M334.3,300.4 L356.0,300.4" stroke-width="6"/>
<path d="M268.1,302L273.3,302M294.2,302L299.4,302" stroke-width="2.7375"/>
<path d="M273.3,302.0 L294.2,302.0" stroke-width="5.475"/>
<path d="M348.6,264.2L356,264.2M466,264.2L473.4,263.3" stroke-width="3.525"/>
<path d="M356.0,264.2C358.7,264.2 366.8,264.5 372.1,264.2C377.5,263.9 382.8,263.2 388.1,262.6C393.5,262.0 398.9,260.5 404.2,260.5C409.5,260.5 414.8,261.3 420.2,262.6C425.6,263.9 430.9,267.8 436.3,268.3C441.7,268.8 447.4,266.5 452.4,265.8C457.3,265.1 463.7,264.5 466.0,264.2" stroke-width="7.05"/>
<path d="M360,264.3L364,264.2M380.1,263.9L384.1,263.8" stroke-width="4.1"/>
<path d="M364.0,264.2 L380.1,263.9" stroke-width="8.2"/>
<path d="M421.1,268.2L425.1,268.3M441.1,268.7L445.1,268.8" stroke-width="4.1"/>
<path d="M425.1,268.3 L441.1,268.7" stroke-width="8.2"/>
<path d="M348.6,276.7L356,277.1M420.2,273.9L427.6,273.2" stroke-width="3.525"/>
<path d="M356.0,277.1C358.7,277.2 366.8,277.9 372.1,277.9C377.5,277.9 382.8,277.5 388.1,277.1C393.5,276.7 398.9,276.0 404.2,275.5C409.5,275.0 417.5,274.2 420.2,273.9" stroke-width="7.05"/>
<path d="M374.1,277.8L380.1,277.4M404.2,275.8L410.2,275.4" stroke-width="3.775"/>
<path d="M380.1,277.4 L404.2,275.8" stroke-width="7.55"/>
<path d="M431,269.1L436.3,269.1M466,269.1L471.3,269.1" stroke-width="2"/>
<path d="M436.3,269.1 L466.0,269.1" stroke-width="4"/>
<path d="M351.8,295.6L356,295.6M380.1,295.6L384.3,295.6" stroke-width="1.2"/>
<path d="M356.0,295.6 L380.1,295.6" stroke-width="2.4"/>
<path d="M438.9,291.9L444.3,291.5M466,289.9L471.4,289.5" stroke-width="3"/>
<path d="M444.3,291.5 L466.0,289.9" stroke-width="6"/>
<path d="M506.8,257L511,257M530.2,257L534.4,257" stroke-width="1.2"/>
<path d="M511.0,257.0 L530.2,257.0" stroke-width="2.4"/>
<path d="M527.8,259.4L533.4,259.4M555.9,259.4L561.5,259.4" stroke-width="3"/>
<path d="M533.4,259.4 L555.9,259.4" stroke-width="6"/>
<path d="M459.3,269.1L466,269.1M576,267.5L582.7,267.1" stroke-width="3"/>
<path d="M466.0,269.1C468.7,269.1 476.8,268.8 482.1,269.1C487.5,269.4 492.8,270.4 498.1,270.7C503.5,271.0 508.9,271.0 514.2,270.7C519.6,270.4 524.9,269.5 530.2,269.1C535.6,268.7 540.9,268.4 546.3,268.3C551.7,268.2 557.4,268.4 562.4,268.3C567.4,268.2 573.7,267.6 576.0,267.5" stroke-width="6"/>
<path d="M462.8,269.1L466,269.1M478.8,269.1L482,269.1" stroke-width="4.1"/>
<path d="M466.0,269.1 L478.8,269.1" stroke-width="8.2"/>
<path d="M542.3,268.3L546.3,268.3M562.4,268.3L566.4,268.3" stroke-width="3.775"/>
<path d="M546.3,268.3 L562.4,268.3" stroke-width="7.55"/>
<path d="M508.2,282.3L514.2,282.7M538.3,284.3L544.3,284.7" stroke-width="2.7375"/>
<path d="M514.2,282.7 L538.3,284.3" stroke-width="5.475"/>
<path d="M459,289.2L466,289.9M576,293.1L583.1,293.5" stroke-width="3.2625"/>
<path d="M466.0,289.9C468.7,290.2 476.8,291.0 482.1,291.5C487.5,292.0 492.8,293.1 498.1,293.1C503.5,293.1 508.9,291.6 514.2,291.5C519.6,291.4 524.9,292.3 530.2,292.3C535.6,292.3 538.7,291.4 546.3,291.5C553.9,291.6 571.0,292.8 576.0,293.1" stroke-width="6.525"/>
<path d="M478.1,292.7L482.1,292.8M498.1,293.1L502.1,293.2" stroke-width="4.1"/>
<path d="M482.1,292.8 L498.1,293.1" stroke-width="8.2"/>
<path d="M534.1,300.4L538.3,300.4M562.4,300.4L566.6,300.4" stroke-width="1.2"/>
<path d="M538.3,300.4 L562.4,300.4" stroke-width="2.4"/>
<path d="M595.6,255.4L602.3,255.4M639.2,255.4L645.9,255.4" stroke-width="3"/>
<path d="M602.3,255.4 L639.2,255.4" stroke-width="6"/>
<path d="M609.1,255L615.1,255.2M639.2,255.9L645.2,256.1" stroke-width="3.775"/>
<path d="M615.1,255.2 L639.2,255.9" stroke-width="7.55"/>
<path d="M568.7,268L575,268.3M607.1,269.1L613.5,269.1" stroke-width="2.75"/>
<path d="M575.0,268.3C577.7,268.4 585.8,269.0 591.1,269.1C596.5,269.2 604.4,269.1 607.1,269.1" stroke-width="5.5"/>
<path d="M631.1,257.2L639.2,258.6M685,267.8L693,269.7" stroke-width="4.1"/>
<path d="M639.2,258.6C641.9,259.1 649.9,260.4 655.3,261.4C660.7,262.4 666.4,263.5 671.4,264.6C676.4,265.7 682.7,267.3 685.0,267.8" stroke-width="8.2"/>
<path d="M584.4,282.2L591.1,281.9M663.3,278.7L669.9,280" stroke-width="3"/>
<path d="M591.1,281.9C593.8,281.8 601.8,282.1 607.1,281.1C612.5,280.1 617.9,277.0 623.2,275.8C628.6,274.6 633.9,274.0 639.2,274.2C644.6,274.4 651.3,276.4 655.3,277.1C659.3,277.9 662.0,278.4 663.3,278.7" stroke-width="6"/>
<path d="M571,284.9L575,285.1M591.1,285.9L595.1,286.1" stroke-width="3"/>
<path d="M575.0,285.1 L591.1,285.9" stroke-width="6"/>
<path d="M600.5,293.9L607.1,295.1M639.2,299.9L645.9,300.7" stroke-width="3"/>
<path d="M607.1,295.1C609.8,295.6 617.9,297.2 623.2,298.0C628.6,298.8 636.5,299.6 639.2,299.9" stroke-width="6"/>
<path d="M619.2,298.6L623.2,298.9M639.2,299.9L643.2,300.1" stroke-width="3.775"/>
<path d="M623.2,298.9 L639.2,299.9" stroke-width="7.55"/>
<path d="M657.9,290.6L663.3,291.5M685,295.1L690.4,296" stroke-width="4.1"/>
<path d="M663.3,291.5 L685.0,295.1" stroke-width="8.2"/>
<path d="M570.2,296.4L575,296.4M594.3,296.4L599.1,296.4" stroke-width="3.525"/>
<path d="M575.0,296.4 L594.3,296.4" stroke-width="7.05"/>
<path d="M263.8,304.6L270.1,304.6M302.2,304.6L308.5,304.6" stroke-width="2.7375"/>
<path d="M270.1,304.6 L302.2,304.6" stroke-width="5.475"/>
<path d="M239.3,309.7L246,309.4M294.2,312.6L300.8,313.6" stroke-width="3"/>
<path d="M246.0,309.4C248.7,309.3 256.8,308.5 262.1,308.6C267.5,308.7 272.8,309.5 278.1,310.2C283.5,310.9 291.5,312.2 294.2,312.6" stroke-width="6"/>
<path d="M242.8,320.9L246,320.7M258.8,319.9L262,319.7" stroke-width="4.6"/>
<path d="M246.0,320.7 L258.8,319.9" stroke-width="9.2"/>
<path d="M254.8,320L258.8,319.5M274.9,317.5L278.9,317" stroke-width="4.1"/>
<path d="M258.8,319.5 L274.9,317.5" stroke-width="8.2"/>
<path d="M288.9,323L294.2,323.1M326.3,323.9L331.6,324" stroke-width="2"/>
<path d="M294.2,323.1 L326.3,323.9" stroke-width="4"/>
<path d="M238.6,337.1L246,336.7M356,331.1L363.4,330.7" stroke-width="3.525"/>
<path d="M246.0,336.7C248.7,336.6 256.8,336.3 262.1,335.9C267.5,335.5 272.8,334.9 278.1,334.3C283.5,333.7 288.9,332.6 294.2,332.2C299.5,331.8 304.8,331.7 310.2,331.9C315.6,332.1 320.9,333.5 326.3,333.5C331.7,333.5 337.4,332.3 342.4,331.9C347.3,331.5 353.7,331.2 356.0,331.1" stroke-width="7.05"/>
<path d="M278.1,332.3L286.1,332.2M318.3,331.9L326.4,331.8" stroke-width="4.1"/>
<path d="M286.1,332.2 L318.3,331.9" stroke-width="8.2"/>
<path d="M331.9,331.3L335.9,331.3M352,331.3L356,331.3" stroke-width="4.1"/>
<path d="M335.9,331.3 L352.0,331.3" stroke-width="8.2"/>
<path d="M244,349.6L246,349.6M254,349.6L256,349.6" stroke-width="3.525"/>
<path d="M246.0,349.6 L254.0,349.6" stroke-width="7.05"/>
<path d="M264.1,344L270.1,344M294.2,344L300.2,344" stroke-width="2.75"/>
<path d="M270.1,344.0 L294.2,344.0" stroke-width="5.5"/>
<path d="M339,350.2L342.4,350.4M356,351.2L359.4,351.4" stroke-width="3.525"/>
<path d="M342.4,350.4 L356.0,351.2" stroke-width="7.05"/>
<path d="M368.1,305.4L372.1,305.4M388.1,305.4L392.1,305.4" stroke-width="2.75"/>
<path d="M372.1,305.4 L388.1,305.4" stroke-width="5.5"/>
<path d="M403,306.8L409,307M433.1,307.8L439.1,308" stroke-width="3"/>
<path d="M409.0,307.0 L433.1,307.8" stroke-width="6"/>
<path d="M413,307.7L417,307.8M433.1,308.1L437.1,308.2" stroke-width="3.775"/>
<path d="M417.0,307.8 L433.1,308.1" stroke-width="7.55"/>
<path d="M428.9,309L436.3,309.4M466,309.4L473.4,309" stroke-width="4.1"/>
<path d="M436.3,309.4C439.0,309.5 447.4,310.2 452.4,310.2C457.3,310.2 463.7,309.5 466.0,309.4" stroke-width="8.2"/>
<path d="M350.7,319L356,319.1M388.1,319.9L393.4,320" stroke-width="2"/>
<path d="M356.0,319.1 L388.1,319.9" stroke-width="4"/>
<path d="M349.7,319.4L356,319.1M388.1,320.7L394.4,321.6" stroke-width="2.7375"/>
<path d="M356.0,319.1C358.7,319.0 366.8,318.0 372.1,318.3C377.5,318.6 385.4,320.3 388.1,320.7" stroke-width="5.475"/>
<path d="M381.4,324.4L388.1,323.9M466,323.9L472.7,324.3" stroke-width="3"/>
<path d="M388.1,323.9C390.8,323.7 398.9,323.1 404.2,322.6C409.5,322.1 414.8,321.1 420.2,321.0C425.6,320.9 428.7,321.8 436.3,322.3C443.9,322.8 461.1,323.6 466.0,323.9" stroke-width="6"/>
<path d="M432.3,322.2L436.3,322.3M452.4,322.6L456.4,322.7" stroke-width="3.775"/>
<path d="M436.3,322.3 L452.4,322.6" stroke-width="7.55"/>
<path d="M367.4,330.1L372.1,330.3M412.2,331.9L416.9,332.1" stroke-width="1.6"/>
<path d="M372.1,330.3 L412.2,331.9" stroke-width="3.2"/>
<path d="M365.8,330L372.1,330.3M412.2,331.9L418.5,332.2" stroke-width="2.7375"/>
<path d="M372.1,330.3 L412.2,331.9" stroke-width="5.475"/>
<path d="M354,341.5L356,341.5M364,341.5L366,341.5" stroke-width="3"/>
<path d="M356.0,341.5 L364.0,341.5" stroke-width="6"/>
<path d="M425.5,351.2L428.3,351.2M439.5,351.2L442.3,351.2" stroke-width="4.1"/>
<path d="M428.3,351.2 L439.5,351.2" stroke-width="8.2"/>
<path d="M414.2,352L420.2,352M444.3,352L450.3,352" stroke-width="4.05"/>
<path d="M420.2,352.0 L444.3,352.0" stroke-width="8.1"/>
<path d="M449,347.6L452.4,348M466,349.6L469.4,350" stroke-width="4.05"/>
<path d="M452.4,348.0 L466.0,349.6" stroke-width="8.1"/>
<path d="M462,310.6L466,311M482.1,312.6L486.1,313" stroke-width="3.525"/>
<path d="M466.0,311.0 L482.1,312.6" stroke-width="7.05"/>
<path d="M466.8,310L469.2,310.2M478.8,311L481.2,311.2" stroke-width="3.775"/>
<path d="M469.2,310.2 L478.8,311.0" stroke-width="7.55"/>
<path d="M494.9,314.8L501.3,316.2M527,321L533.5,322" stroke-width="4.1"/>
<path d="M501.3,316.2C503.5,316.7 509.9,318.3 514.2,319.1C518.5,319.9 524.9,320.7 527.0,321.0" stroke-width="8.2"/>
<path d="M526.7,322.5L533.4,323.1M576,317.8L582.5,316.3" stroke-width="3"/>
<path d="M533.4,323.1C535.5,323.3 541.5,324.6 546.3,324.2C551.1,323.8 557.4,322.1 562.4,321.0C567.4,319.9 573.7,318.3 576.0,317.8" stroke-width="6"/>
<path d="M559,315L562.4,315M576,315L579.4,315" stroke-width="2.7375"/>
<path d="M562.4,315.0 L576.0,315.0" stroke-width="5.475"/>
<path d="M460.8,326.7L466,327.1M486.9,328.7L492.1,329.1" stroke-width="3.525"/>
<path d="M466.0,327.1 L486.9,328.7" stroke-width="7.05"/>
<path d="M476,328.5L478.8,328.7M490.1,329.5L492.9,329.7" stroke-width="3.775"/>
<path d="M478.8,328.7 L490.1,329.5" stroke-width="7.55"/>
<path d="M484.9,337.5L490.1,338.3M511,341.5L516.2,342.3" stroke-width="3.525"/>
<path d="M490.1,338.3 L511.0,341.5" stroke-width="7.05"/>
<path d="M489.7,338.5L493.3,339.1M507.8,341.5L511.4,342.1" stroke-width="3.775"/>
<path d="M493.3,339.1 L507.8,341.5" stroke-width="7.55"/>
<path d="M462.8,346L466,346.4M478.8,348L482,348.4" stroke-width="3.525"/>
<path d="M466.0,346.4 L478.8,348.0" stroke-width="7.05"/>
<path d="M528.1,347.9L533.4,348M576,348.8L581.3,348.9" stroke-width="2"/>
<path d="M533.4,348.0 L576.0,348.8" stroke-width="4"/>
<path d="M526.7,345.2L533.4,344.8M562.4,343.1L569.1,342.7" stroke-width="3"/>
<path d="M533.4,344.8 L562.4,343.1" stroke-width="6"/>
<path d="M624.5,305.4L631.2,305.4M685,305.4L691.7,305.4" stroke-width="3"/>
<path d="M631.2,305.4 L685.0,305.4" stroke-width="6"/>
<path d="M567.6,319.8L575,319.1M620,313L627.3,311.4" stroke-width="3.525"/>
<path d="M575.0,319.1C577.7,318.8 585.8,318.1 591.1,317.5C596.5,316.9 602.3,316.6 607.1,315.8C611.9,315.1 617.9,313.5 620.0,313.0" stroke-width="7.05"/>
<path d="M572.6,319.1L575,319.1M584.6,319.1L587,319.1" stroke-width="4.1"/>
<path d="M575.0,319.1 L584.6,319.1" stroke-width="8.2"/>
<path d="M593.1,317.7L595.9,317.5M607.1,316.7L609.9,316.5" stroke-width="3.775"/>
<path d="M595.9,317.5 L607.1,316.7" stroke-width="7.55"/>
<path d="M595.1,309.7L599.1,309.4M615.1,308.1L619.1,307.8" stroke-width="2.7375"/>
<path d="M599.1,309.4 L615.1,308.1" stroke-width="5.475"/>
<path d="M608.4,326.2L615.1,325.5M663.3,323.9L670,324.2" stroke-width="3"/>
<path d="M615.1,325.5C617.8,325.2 625.8,324.3 631.2,323.9C636.6,323.5 641.9,323.1 647.3,323.1C652.6,323.1 660.6,323.8 663.3,323.9" stroke-width="6"/>
<path d="M646.2,337.5L652.1,337.5M677.8,337.5L683.7,337.5" stroke-width="2.4"/>
<path d="M652.1,337.5 L677.8,337.5" stroke-width="4.8"/>
<path d="M654.5,335.9L658.5,335.9M674.6,335.9L678.6,335.9" stroke-width="3"/>
<path d="M658.5,335.9 L674.6,335.9" stroke-width="6"/>
<path d="M567.7,340L575,341.5M636,344.8L643.4,344.8" stroke-width="3.525"/>
<path d="M575.0,341.5C577.7,342.1 585.8,344.1 591.1,344.8C596.5,345.5 601.8,345.6 607.1,345.6C612.5,345.6 618.4,344.9 623.2,344.8C628.0,344.7 633.9,344.8 636.0,344.8" stroke-width="7.05"/>
<path d="M585,345L587.8,345.1M599.1,345.7L601.9,345.8" stroke-width="4.1"/>
<path d="M587.8,345.1 L599.1,345.7" stroke-width="8.2"/>
<path d="M570.8,352L575,352M599.1,352L603.3,352" stroke-width="1.2"/>
<path d="M575.0,352.0 L599.1,352.0" stroke-width="2.4"/>
</g>
<g stroke="#ffb400">
<path d="M242.7,62.5L246,62.4M259.1,61.1L262.3,60.4" stroke-width="2.565"/>
<path d="M246.0,62.4C247.3,62.4 251.7,62.4 253.9,62.2C256.1,62.0 258.2,61.3 259.1,61.1" stroke-width="5.13"/>
<path d="M240.7,73.6L246,73.3M267,69.8L272.2,68.5" stroke-width="3.325"/>
<path d="M246.0,73.3C247.3,73.2 251.5,73.2 253.9,72.9C256.3,72.6 258.2,71.9 260.4,71.4C262.6,70.9 265.9,70.1 267.0,69.8" stroke-width="6.65"/>
<path d="M261,70.9L267,69.8M301,65.5L307.1,65" stroke-width="2.565"/>
<path d="M267.0,69.8C269.0,69.5 275.1,68.3 278.8,67.7C282.5,67.1 285.6,66.8 289.3,66.4C293.0,66.0 299.1,65.7 301.0,65.5" stroke-width="5.13"/>
<path d="M239.9,83.4L246,83.2M301,81.2L307.1,80.7" stroke-width="2.565"/>
<path d="M246.0,83.2C247.3,83.2 251.5,83.1 253.9,82.9C256.3,82.7 257.3,82.4 260.4,81.9C263.4,81.5 268.9,80.5 272.2,80.2C275.5,79.9 277.9,79.8 280.1,79.9C282.3,80.0 283.2,80.3 285.4,80.6C287.6,80.9 290.6,81.8 293.2,81.9C295.8,82.0 299.7,81.3 301.0,81.2" stroke-width="5.13"/>
<path d="M266.3,80.8L268.3,80.6M276.2,79.9L278.2,79.7" stroke-width="2.35"/>
<path d="M268.3,80.6 L276.2,79.9" stroke-width="4.7"/>
<path d="M252.1,93.3L259.1,93M298.5,93L305.5,92.5" stroke-width="3.20625"/>
<path d="M259.1,93.0C261.3,92.9 268.7,92.4 272.2,92.4C275.7,92.4 277.2,92.8 280.1,93.0C283.0,93.2 286.2,93.7 289.3,93.7C292.4,93.7 297.0,93.1 298.5,93.0" stroke-width="6.4125"/>
<path d="M282.3,93.9L284.1,93.9M291.3,93.9L293.1,93.9" stroke-width="2.35"/>
<path d="M284.1,93.9 L291.3,93.9" stroke-width="4.7"/>
<path d="M295,68.3L301,67.4M336.4,61.5L342.4,60.6" stroke-width="2.565"/>
<path d="M301.0,67.4C303.2,67.1 309.7,66.3 314.1,65.5C318.5,64.7 323.5,63.5 327.2,62.8C330.9,62.1 334.9,61.7 336.4,61.5" stroke-width="5.13"/>
<path d="M296.1,77.8L301,77.3M320.7,75L325.6,74.3" stroke-width="2.565"/>
<path d="M301.0,77.3C302.5,77.2 306.9,76.8 310.2,76.4C313.5,76.0 318.9,75.2 320.7,75.0" stroke-width="5.13"/>
<path d="M328.9,83.8L333.8,83.8M353.5,83.8L358.4,83.8" stroke-width="1.92375"/>
<path d="M333.8,83.8 L353.5,83.8" stroke-width="3.8475"/>
<path d="M328.9,93.7L333.8,93.7M353.5,93.7L358.4,93.7" stroke-width="2.565"/>
<path d="M333.8,93.7 L353.5,93.7" stroke-width="5.13"/>
<path d="M299.7,96L301,96.3M306.2,97.6L307.5,97.9" stroke-width="2.565"/>
<path d="M301.0,96.3 L306.2,97.6" stroke-width="5.13"/>
<path d="M349.9,64L356,63.4M466,60.2L472.1,60.2" stroke-width="2.565"/>
<path d="M356.0,63.4C358.7,63.1 366.8,62.2 372.1,61.8C377.5,61.4 383.3,61.3 388.1,61.0C392.9,60.7 395.6,60.2 401.0,60.2C406.4,60.2 413.0,61.0 420.2,61.0C427.4,61.0 436.7,60.3 444.3,60.2C451.9,60.1 462.4,60.2 466.0,60.2" stroke-width="5.13"/>
<path d="M349.5,73.3L356,73.1M412.2,72.3L418.7,72.6" stroke-width="2.88563"/>
<path d="M356.0,73.1C358.7,73.0 366.8,72.7 372.1,72.6C377.5,72.5 382.8,72.4 388.1,72.3C393.5,72.2 400.2,71.9 404.2,71.9C408.2,71.9 410.9,72.2 412.2,72.3" stroke-width="5.77125"/>
<path d="M405.4,72.3L412.2,72.3M439.5,73.4L446.3,73.9" stroke-width="3.325"/>
<path d="M412.2,72.3C414.4,72.3 420.6,72.1 425.1,72.3C429.7,72.5 437.1,73.2 439.5,73.4" stroke-width="6.65"/>
<path d="M437.1,73.4L439.5,73.4M449.1,73.6L451.5,73.6" stroke-width="2.88563"/>
<path d="M439.5,73.4 L449.1,73.6" stroke-width="5.77125"/>
<path d="M444.9,73.8L449.1,73.9M466,74.2L470.2,74.3" stroke-width="3"/>
<path d="M449.1,73.9 L466.0,74.2" stroke-width="6"/>
<path d="M366,84.9L368.8,85.1M380.1,85.9L382.9,86.1" stroke-width="2.24438"/>
<path d="M368.8,85.1 L380.1,85.9" stroke-width="4.48875"/>
<path d="M397.7,83.5L404.2,83.5M445.9,85.1L452.4,85.1" stroke-width="2.88563"/>
<path d="M404.2,83.5C406.9,83.5 414.8,83.2 420.2,83.5C425.6,83.8 432.0,84.8 436.3,85.1C440.6,85.4 444.3,85.1 445.9,85.1" stroke-width="5.77125"/>
<path d="M417,83.5L420.2,83.8M433.1,84.8L436.3,85" stroke-width="2.35"/>
<path d="M420.2,83.8 L433.1,84.8" stroke-width="4.7"/>
<path d="M449,83.9L452.4,83.5M466,81.9L469.4,81.5" stroke-width="2.565"/>
<path d="M452.4,83.5 L466.0,81.9" stroke-width="5.13"/>
<path d="M453,83L455.6,82.7M466,81.6L468.6,81.3" stroke-width="2.35"/>
<path d="M455.6,82.7 L466.0,81.6" stroke-width="4.7"/>
<path d="M357.2,93.1L360.8,93.1M375.3,93.1L378.9,93.1" stroke-width="2.565"/>
<path d="M360.8,93.1 L375.3,93.1" stroke-width="5.13"/>
<path d="M402.5,95.9L409,96M466,93.1L472.5,92.6" stroke-width="2.88563"/>
<path d="M409.0,96.0C412.2,96.1 422.4,96.6 428.3,96.4C434.2,96.2 438.0,95.3 444.3,94.8C450.6,94.2 462.4,93.4 466.0,93.1" stroke-width="5.77125"/>
<path d="M444.9,94.6L449.1,94.3M466,93.1L470.2,92.8" stroke-width="2.35"/>
<path d="M449.1,94.3 L466.0,93.1" stroke-width="4.7"/>
<path d="M503.3,55.4L506.1,55.4M517.4,55.4L520.2,55.4" stroke-width="1.92375"/>
<path d="M506.1,55.4 L517.4,55.4" stroke-width="3.8475"/>
<path d="M538.7,59.4L541.5,59.4M552.7,59.4L555.5,59.4" stroke-width="2.88563"/>
<path d="M541.5,59.4 L552.7,59.4" stroke-width="5.77125"/>
<path d="M459.5,60.4L466,61M507.8,65L514.3,65.4" stroke-width="2.88563"/>
<path d="M466.0,61.0C468.7,61.3 477.3,62.1 482.1,62.6C486.9,63.1 490.6,63.8 494.9,64.2C499.2,64.6 505.6,64.9 507.8,65.0" stroke-width="5.77125"/>
<path d="M466.8,61.5L470.8,61.8M486.9,63.1L490.9,63.4" stroke-width="3"/>
<path d="M470.8,61.8 L486.9,63.1" stroke-width="6"/>
<path d="M509.9,63.6L515.8,65M549.5,74.7L555.2,76.8" stroke-width="2.565"/>
<path d="M515.8,65.0C518.2,65.5 525.7,67.1 530.2,68.3C534.8,69.5 539.9,71.2 543.1,72.3C546.3,73.4 548.4,74.3 549.5,74.7" stroke-width="5.13"/>
<path d="M459.9,73.6L466,73.9M514.2,76.8L520.3,77.3" stroke-width="2.565"/>
<path d="M466.0,73.9C468.7,74.0 476.8,74.4 482.1,74.7C487.5,75.0 492.8,75.2 498.1,75.5C503.5,75.8 511.5,76.6 514.2,76.8" stroke-width="5.13"/>
<path d="M458.4,81.9L466,82.7M554.3,96.4L561.9,97.3" stroke-width="3.65"/>
<path d="M466.0,82.7C468.7,83.0 476.8,83.6 482.1,84.3C487.5,85.0 492.8,85.9 498.1,86.7C503.5,87.5 508.9,88.0 514.2,89.1C519.6,90.2 525.4,92.1 530.2,93.1C535.0,94.1 539.1,94.5 543.1,95.1C547.1,95.6 552.4,96.2 554.3,96.4" stroke-width="7.3"/>
<path d="M460,95.5L466,96.4M514.2,102.9L520.3,103.5" stroke-width="2.565"/>
<path d="M466.0,96.4C468.7,96.8 476.8,98.0 482.1,98.8C487.5,99.6 492.8,100.5 498.1,101.2C503.5,101.9 511.5,102.6 514.2,102.9" stroke-width="5.13"/>
<path d="M460.3,95.5L466,96.4M493.3,100.5L499,101.4" stroke-width="2.35"/>
<path d="M466.0,96.4C468.7,96.8 477.6,98.1 482.1,98.8C486.7,99.5 491.4,100.2 493.3,100.5" stroke-width="4.7"/>
<path d="M544.9,71.1L551.1,70.7M576,69.9L582.2,69.9" stroke-width="2.88563"/>
<path d="M551.1,70.7C553.0,70.6 558.2,70.0 562.4,69.9C566.5,69.8 573.7,69.9 576.0,69.9" stroke-width="5.77125"/>
<path d="M556.7,93.1L559.1,93.1M568.8,93.1L571.2,93.1" stroke-width="2.565"/>
<path d="M559.1,93.1 L568.8,93.1" stroke-width="5.13"/>
<path d="M587.9,53.8L591.1,53.8M603.9,53.8L607.1,53.8" stroke-width="1.92375"/>
<path d="M591.1,53.8 L603.9,53.8" stroke-width="3.8475"/>
<path d="M599.9,65L602.3,65M611.9,65L614.3,65" stroke-width="2.24438"/>
<path d="M602.3,65.0 L611.9,65.0" stroke-width="4.48875"/>
<path d="M568.1,68.9L575,69.9M610.3,85.9L616.9,88.1" stroke-width="3.20625"/>
<path d="M575.0,69.9C576.9,70.2 583.0,70.4 586.2,71.5C589.4,72.6 591.9,74.4 594.3,76.3C596.7,78.2 598.0,81.1 600.7,82.7C603.4,84.3 608.7,85.4 610.3,85.9" stroke-width="6.4125"/>
<path d="M611.1,86.7L615.1,86.7M631.2,86.7L635.2,86.7" stroke-width="2.88563"/>
<path d="M615.1,86.7 L631.2,86.7" stroke-width="5.77125"/>
<path d="M657.9,87.5L663.3,87.5M685,87.5L690.4,87.5" stroke-width="2.88563"/>
<path d="M663.3,87.5 L685.0,87.5" stroke-width="5.77125"/>
<path d="M600.7,98.4L603.9,98.8M616.8,100.4L620,100.8" stroke-width="1.92375"/>
<path d="M603.9,98.8 L616.8,100.4" stroke-width="3.8475"/>
<path d="M239.1,112L246,111M318.3,110.2L325.2,111.6" stroke-width="3.20625"/>
<path d="M246.0,111.0C248.7,110.6 256.8,109.3 262.1,108.6C267.5,107.9 272.8,107.3 278.1,107.0C283.5,106.7 288.9,106.7 294.2,107.0C299.5,107.3 306.2,108.1 310.2,108.6C314.2,109.1 316.9,109.9 318.3,110.2" stroke-width="6.4125"/>
<path d="M248,110.8L250.8,110.5M262.1,109.1L264.9,108.8" stroke-width="2.675"/>
<path d="M250.8,110.5 L262.1,109.1" stroke-width="5.35"/>
<path d="M268.5,107.6L271.7,107.5M284.5,107L287.7,106.9" stroke-width="2.35"/>
<path d="M271.7,107.5 L284.5,107.0" stroke-width="4.7"/>
<path d="M320.7,108.8L326.3,108.6M356,107.8L361.6,107.6" stroke-width="2.24438"/>
<path d="M326.3,108.6 L356.0,107.8" stroke-width="4.48875"/>
<path d="M270.1,119.9L273.3,119.9M286.1,119.9L289.3,119.9" stroke-width="2.24438"/>
<path d="M273.3,119.9 L286.1,119.9" stroke-width="4.48875"/>
<path d="M309.7,122L316.7,122.3M356,122.3L363,122" stroke-width="3.20625"/>
<path d="M316.7,122.3C319.6,122.4 327.8,123.1 334.3,123.1C340.9,123.1 352.4,122.4 356.0,122.3" stroke-width="6.4125"/>
<path d="M316.4,122.9L323.1,122.8M356,122.4L362.7,122.3" stroke-width="3"/>
<path d="M323.1,122.8 L356.0,122.4" stroke-width="6"/>
<path d="M256,125.5L258.8,125.5M270.1,125.5L272.9,125.5" stroke-width="2.24438"/>
<path d="M258.8,125.5 L270.1,125.5" stroke-width="4.48875"/>
<path d="M272.9,129.9L278.1,130.3M299,129.5L304.2,128.8" stroke-width="3.20625"/>
<path d="M278.1,130.3C279.7,130.4 284.3,131.2 287.8,131.1C291.3,131.0 297.1,129.8 299.0,129.5" stroke-width="6.4125"/>
<path d="M280.5,131.8L282.9,131.6M292.6,130.9L295,130.7" stroke-width="2.675"/>
<path d="M282.9,131.6 L292.6,130.9" stroke-width="5.35"/>
<path d="M295,134.1L299,135.1M315.1,139.1L319.1,140.1" stroke-width="2.565"/>
<path d="M299.0,135.1 L315.1,139.1" stroke-width="5.13"/>
<path d="M240,142.6L246,141.5M278.1,139.1L284.1,140.3" stroke-width="2.565"/>
<path d="M246.0,141.5C248.1,141.1 254.8,139.8 258.8,139.1C262.8,138.4 266.9,137.5 270.1,137.5C273.3,137.5 276.8,138.8 278.1,139.1" stroke-width="5.13"/>
<path d="M295.7,145.1L302.2,145.6M339.1,148.8L345.6,149.2" stroke-width="2.88563"/>
<path d="M302.2,145.6C304.1,145.7 309.4,146.0 313.4,146.4C317.4,146.8 322.0,147.6 326.3,148.0C330.6,148.4 337.0,148.7 339.1,148.8" stroke-width="5.77125"/>
<path d="M304.2,145.8L307,146M318.3,146.7L321.1,146.9" stroke-width="2.675"/>
<path d="M307.0,146.0 L318.3,146.7" stroke-width="5.35"/>
<path d="M254,149.6L258.8,149.6M278.1,149.6L282.9,149.6" stroke-width="2.24438"/>
<path d="M258.8,149.6 L278.1,149.6" stroke-width="4.48875"/>
<path d="M352.8,106.2L356,106.2M368.8,106.2L372,106.2" stroke-width="2.565"/>
<path d="M356.0,106.2 L368.8,106.2" stroke-width="5.13"/>
<path d="M394.6,106.2L397.8,106.2M410.6,106.2L413.8,106.2" stroke-width="2.24438"/>
<path d="M397.8,106.2 L410.6,106.2" stroke-width="4.48875"/>
<path d="M349.1,122.5L356,121.5M409,114.6L415.8,112.8" stroke-width="3.20625"/>
<path d="M356.0,121.5C358.7,121.1 366.8,119.8 372.1,119.1C377.5,118.4 383.3,117.9 388.1,117.5C392.9,117.1 397.5,117.2 401.0,116.7C404.5,116.2 407.7,114.9 409.0,114.6" stroke-width="6.4125"/>
<path d="M350,122.3L356,121.5M380.1,118.3L386.1,117.5" stroke-width="3"/>
<path d="M356.0,121.5C357.6,121.3 361.6,120.8 365.6,120.3C369.6,119.8 377.7,118.6 380.1,118.3" stroke-width="6"/>
<path d="M417.3,115.3L423.4,115.8M466,118.7L472.1,119" stroke-width="2.565"/>
<path d="M423.4,115.8C426.9,116.1 437.2,117.0 444.3,117.5C451.4,118.0 462.4,118.5 466.0,118.7" stroke-width="5.13"/>
<path d="M405.2,123.2L412.2,123.9M466,129.5L472.9,130.3" stroke-width="3.20625"/>
<path d="M412.2,123.9C414.9,124.2 422.9,125.0 428.3,125.5C433.7,126.0 438.0,126.4 444.3,127.1C450.6,127.8 462.4,129.1 466.0,129.5" stroke-width="6.4125"/>
<path d="M406.2,123.3L412.2,123.9M436.3,126.4L442.3,127.1" stroke-width="3"/>
<path d="M412.2,123.9C414.9,124.2 424.3,125.1 428.3,125.5C432.3,125.9 435.0,126.2 436.3,126.4" stroke-width="6"/>
<path d="M350,136L356,135.1M404.2,130.3L410.3,130" stroke-width="2.565"/>
<path d="M356.0,135.1C358.7,134.7 366.8,133.4 372.1,132.7C377.5,132.0 382.8,131.5 388.1,131.1C393.5,130.7 401.5,130.4 404.2,130.3" stroke-width="5.13"/>
<path d="M430.7,140.7L436.3,140.7M458.8,140.7L464.4,140.7" stroke-width="2.565"/>
<path d="M436.3,140.7 L458.8,140.7" stroke-width="5.13"/>
<path d="M349.1,147.4L356,146.4M436.3,152L443,154" stroke-width="3.20625"/>
<path d="M356.0,146.4C358.7,146.0 366.8,144.7 372.1,144.0C377.5,143.3 382.8,142.6 388.1,142.3C393.5,142.0 399.4,141.8 404.2,142.3C409.0,142.9 413.0,144.4 417.0,145.6C421.0,146.8 425.1,148.5 428.3,149.6C431.5,150.7 435.0,151.6 436.3,152.0" stroke-width="6.4125"/>
<path d="M395,142.2L397.8,142.3M409,142.5L411.8,142.6" stroke-width="3"/>
<path d="M397.8,142.3 L409.0,142.5" stroke-width="6"/>
<path d="M413.4,144.9L417,146M431.5,150.4L435.1,151.5" stroke-width="3"/>
<path d="M417.0,146.0 L431.5,150.4" stroke-width="6"/>
<path d="M467.9,103.8L474,103.8M554.3,109.4L560.3,110.6" stroke-width="2.565"/>
<path d="M474.0,103.8C478.0,103.8 490.1,103.7 498.1,103.8C506.1,103.9 515.5,104.2 522.2,104.6C528.9,105.0 532.9,105.4 538.3,106.2C543.6,107.0 551.6,108.9 554.3,109.4" stroke-width="5.13"/>
<path d="M518.2,104.6L522.2,104.9M538.3,106.2L542.3,106.5" stroke-width="2.675"/>
<path d="M522.2,104.9 L538.3,106.2" stroke-width="5.35"/>
<path d="M459,112.3L466,112.6M576,119.9L583,120.3" stroke-width="3.20625"/>
<path d="M466.0,112.6C468.7,112.7 476.8,113.1 482.1,113.4C487.5,113.7 492.8,113.8 498.1,114.2C503.5,114.6 508.9,115.2 514.2,115.8C519.6,116.3 524.9,117.0 530.2,117.5C535.6,118.0 540.9,118.8 546.3,119.1C551.7,119.4 557.4,119.0 562.4,119.1C567.4,119.2 573.7,119.8 576.0,119.9" stroke-width="6.4125"/>
<path d="M464,123.1L466,123.1M474,123.1L476,123.1" stroke-width="1.92375"/>
<path d="M466.0,123.1 L474.0,123.1" stroke-width="3.8475"/>
<path d="M510.5,124.6L517.4,125.5M576,126.3L582.9,125.5" stroke-width="3.20625"/>
<path d="M517.4,125.5C519.5,125.8 525.4,126.6 530.2,127.1C535.0,127.6 540.9,128.6 546.3,128.7C551.7,128.8 557.4,128.3 562.4,127.9C567.4,127.5 573.7,126.6 576.0,126.3" stroke-width="6.4125"/>
<path d="M546.3,128.5L549.5,128.4M562.4,127.9L565.6,127.8" stroke-width="2.675"/>
<path d="M549.5,128.4 L562.4,127.9" stroke-width="5.35"/>
<path d="M459,132L466,132.7M527,131.9L534,131.5" stroke-width="3.20625"/>
<path d="M466.0,132.7C468.7,133.0 476.8,134.2 482.1,134.3C487.5,134.4 492.8,133.8 498.1,133.5C503.5,133.2 509.4,133.0 514.2,132.7C519.0,132.4 524.9,132.0 527.0,131.9" stroke-width="6.4125"/>
<path d="M490.9,134L494.9,133.8M511,133.2L515,133" stroke-width="2.675"/>
<path d="M494.9,133.8 L511.0,133.2" stroke-width="5.35"/>
<path d="M463.1,149L469.2,148.8M546.3,144L552.4,143.4" stroke-width="2.565"/>
<path d="M469.2,148.8C472.7,148.7 484.0,148.3 490.1,148.0C496.2,147.7 499.4,147.6 506.1,147.2C512.8,146.8 523.5,146.1 530.2,145.6C536.9,145.1 543.6,144.3 546.3,144.0" stroke-width="5.13"/>
<path d="M559,151.2L562.4,151.2M576,151.2L579.4,151.2" stroke-width="2.565"/>
<path d="M562.4,151.2 L576.0,151.2" stroke-width="5.13"/>
<path d="M565,151.7L567.2,151.7M576,151.7L578.2,151.7" stroke-width="2.675"/>
<path d="M567.2,151.7 L576.0,151.7" stroke-width="5.35"/>
<path d="M600.6,106L607.1,106.2M685,106.2L691.5,106" stroke-width="2.88563"/>
<path d="M607.1,106.2C611.1,106.3 623.2,106.9 631.2,107.0C639.2,107.1 646.3,107.1 655.3,107.0C664.3,106.9 680.0,106.3 685.0,106.2" stroke-width="5.77125"/>
<path d="M633,106.5L639.2,106.5M685,106.5L691.2,106.5" stroke-width="2.675"/>
<path d="M639.2,106.5 L685.0,106.5" stroke-width="5.35"/>
<path d="M632.7,116.7L639.2,116.7M685,115.8L691.5,115.4" stroke-width="2.88563"/>
<path d="M639.2,116.7C641.9,116.7 649.9,116.7 655.3,116.7C660.7,116.7 666.4,116.9 671.4,116.7C676.4,116.5 682.7,116.0 685.0,115.8" stroke-width="5.77125"/>
<path d="M641.3,116.7L647.3,116.7M671.4,116.7L677.4,116.7" stroke-width="2.675"/>
<path d="M647.3,116.7 L671.4,116.7" stroke-width="5.35"/>
<path d="M567,123.9L575,122.3M607.1,120.3L615.2,120.9" stroke-width="5.13"/>
<path d="M575.0,122.3C577.7,121.8 585.8,119.4 591.1,119.1C596.5,118.8 604.4,120.1 607.1,120.3" stroke-width="10.26"/>
<path d="M600.3,118.2L607.1,119.9M634.4,126.3L641.2,127.8" stroke-width="3.20625"/>
<path d="M607.1,119.9C609.2,120.4 615.5,122.0 620.0,123.1C624.5,124.2 632.0,125.8 634.4,126.3" stroke-width="6.4125"/>
<path d="M600.7,118.9L607.1,120.3M632.8,125.8L639.2,127.2" stroke-width="3.325"/>
<path d="M607.1,120.3C609.2,120.8 615.7,122.2 620.0,123.1C624.3,124.0 630.7,125.3 632.8,125.8" stroke-width="6.65"/>
<path d="M663.9,127.5L668.1,127.1M685,125.5L689.2,125.1" stroke-width="2.24438"/>
<path d="M668.1,127.1 L685.0,125.5" stroke-width="4.48875"/>
<path d="M623.5,132L631.2,133.5M685,143.1L692.6,145.3" stroke-width="3.8475"/>
<path d="M631.2,133.5C633.9,134.0 641.9,135.9 647.3,136.7C652.6,137.5 657.9,137.5 663.3,138.3C668.6,139.1 675.8,140.7 679.4,141.5C683.0,142.3 684.1,142.8 685.0,143.1" stroke-width="7.695"/>
<path d="M630.4,134.5L636,135.1M658.5,137.5L664.1,138.1" stroke-width="3"/>
<path d="M636.0,135.1 L658.5,137.5" stroke-width="6"/>
<path d="M575.8,135.9L579.8,136.7M595.9,139.9L599.9,140.7" stroke-width="2.24438"/>
<path d="M579.8,136.7 L595.9,139.9" stroke-width="4.48875"/>
<path d="M614,149.6L618.4,149.6M636,149.6L640.4,149.6" stroke-width="2.565"/>
<path d="M618.4,149.6 L636.0,149.6" stroke-width="5.13"/>
<path d="M569.4,152L575,152M603.9,152L609.5,152" stroke-width="2.24438"/>
<path d="M575.0,152.0 L603.9,152.0" stroke-width="4.48875"/>
<path d="M309.8,156.9L316.7,157.8M356,161L363,161.3" stroke-width="3.20625"/>
<path d="M316.7,157.8C319.6,158.2 327.8,159.7 334.3,160.2C340.9,160.7 352.4,160.9 356.0,161.0" stroke-width="6.4125"/>
<path d="M334.9,160.9L339.1,161M356,161.4L360.2,161.5" stroke-width="2.35"/>
<path d="M339.1,161.0 L356.0,161.4" stroke-width="4.7"/>
<path d="M239.1,174.9L246,173.9M274.9,169.1L281.8,167.8" stroke-width="3.20625"/>
<path d="M246.0,173.9C248.7,173.5 257.3,172.3 262.1,171.5C266.9,170.7 272.8,169.5 274.9,169.1" stroke-width="6.4125"/>
<path d="M239.1,190.6L246,191.5M307,188.3L314,188.3" stroke-width="3.20625"/>
<path d="M246.0,191.5C248.7,191.8 256.8,193.6 262.1,193.5C267.5,193.4 272.8,191.6 278.1,190.7C283.5,189.8 289.4,188.7 294.2,188.3C299.0,187.9 304.9,188.3 307.0,188.3" stroke-width="6.4125"/>
<path d="M284.1,189.5L286.1,189.3M294.2,188.7L296.2,188.5" stroke-width="2.35"/>
<path d="M286.1,189.3 L294.2,188.7" stroke-width="4.7"/>
<path d="M292,198.5L299,198M345.6,199.6L352.5,200.6" stroke-width="3.20625"/>
<path d="M299.0,198.0C302.2,197.8 312.4,196.7 318.3,196.7C324.2,196.7 329.8,197.5 334.3,198.0C338.9,198.5 343.7,199.3 345.6,199.6" stroke-width="6.4125"/>
<path d="M348.6,160.5L356,159.4M466,161.8L473.4,162.7" stroke-width="3.52687"/>
<path d="M356.0,159.4C358.7,159.0 366.8,157.7 372.1,157.0C377.5,156.3 382.8,155.8 388.1,155.4C393.5,155.0 398.9,154.6 404.2,154.6C409.5,154.6 414.8,154.9 420.2,155.4C425.6,155.9 430.9,157.0 436.3,157.8C441.7,158.6 447.4,159.5 452.4,160.2C457.3,160.9 463.7,161.5 466.0,161.8" stroke-width="7.05375"/>
<path d="M379.3,155.8L384.9,155.6M407.4,154.6L413,154.3" stroke-width="3"/>
<path d="M384.9,155.6 L407.4,154.6" stroke-width="6"/>
<path d="M433.3,157.9L439.5,158.6M466,161.8L472.2,162.5" stroke-width="2.675"/>
<path d="M439.5,158.6 L466.0,161.8" stroke-width="5.35"/>
<path d="M429.3,166.2L436.3,166.7M466,169.4L472.9,170.2" stroke-width="3.20625"/>
<path d="M436.3,166.7C439.0,166.9 447.4,167.4 452.4,167.8C457.3,168.2 463.7,169.1 466.0,169.4" stroke-width="6.4125"/>
<path d="M382.5,178.7L384.9,178.7M394.5,178.7L396.9,178.7" stroke-width="2.24438"/>
<path d="M384.9,178.7 L394.5,178.7" stroke-width="4.48875"/>
<path d="M403,170.7L405.8,170.7M417,170.7L419.8,170.7" stroke-width="2.24438"/>
<path d="M405.8,170.7 L417.0,170.7" stroke-width="4.48875"/>
<path d="M430.7,187.5L433.1,187.5M442.7,187.5L445.1,187.5" stroke-width="2.565"/>
<path d="M433.1,187.5 L442.7,187.5" stroke-width="5.13"/>
<path d="M384.1,195.9L388.1,196M404.2,196.4L408.2,196.5" stroke-width="2.565"/>
<path d="M388.1,196.0 L404.2,196.4" stroke-width="5.13"/>
<path d="M522.2,156L527,156.2M546.3,157L551.1,157.2" stroke-width="3.20625"/>
<path d="M527.0,156.2 L546.3,157.0" stroke-width="6.4125"/>
<path d="M542.9,158.4L549.5,157.8M576,155.4L582.6,154.8" stroke-width="3.325"/>
<path d="M549.5,157.8 L576.0,155.4" stroke-width="6.65"/>
<path d="M457.3,168.4L466,167.5M576,157L584.7,155.5" stroke-width="4.48875"/>
<path d="M466.0,167.5C468.7,167.2 476.8,166.1 482.1,165.8C487.5,165.5 493.3,164.9 498.1,165.5C502.9,166.1 507.0,168.1 511.0,169.1C515.0,170.1 518.2,171.8 522.2,171.5C526.2,171.2 531.1,169.0 535.1,167.5C539.1,166.0 541.8,163.9 546.3,162.6C550.8,161.2 557.4,160.3 562.4,159.4C567.4,158.5 573.7,157.4 576.0,157.0" stroke-width="8.9775"/>
<path d="M466,168.3L470.8,167.8M490.1,165.8L494.9,165.3" stroke-width="2.675"/>
<path d="M470.8,167.8 L490.1,165.8" stroke-width="5.35"/>
<path d="M505.8,169.4L509.4,169.9M523.8,171.9L527.4,172.4" stroke-width="3"/>
<path d="M509.4,169.9 L523.8,171.9" stroke-width="6"/>
<path d="M529.9,180.3L535.1,180.3M555.9,180.3L561.1,180.3" stroke-width="2.88563"/>
<path d="M535.1,180.3 L555.9,180.3" stroke-width="5.77125"/>
<path d="M517.4,185.7L520.6,185.9M533.4,186.7L536.6,186.9" stroke-width="2.565"/>
<path d="M520.6,185.9 L533.4,186.7" stroke-width="5.13"/>
<path d="M559,195.6L562.4,195.6M576,195.6L579.4,195.6" stroke-width="2.565"/>
<path d="M562.4,195.6 L576.0,195.6" stroke-width="5.13"/>
<path d="M462.8,197.2L466,197.2M478.8,197.2L482,197.2" stroke-width="1.92375"/>
<path d="M466.0,197.2 L478.8,197.2" stroke-width="3.8475"/>
<path d="M481.3,198L485.3,198M501.3,198L505.3,198" stroke-width="1.92375"/>
<path d="M485.3,198.0 L501.3,198.0" stroke-width="3.8475"/>
<path d="M565.5,154.3L575,156.2M685,173.9L694.6,174.8" stroke-width="5.13"/>
<path d="M575.0,156.2C577.7,156.7 585.8,158.1 591.1,159.4C596.5,160.7 601.8,163.1 607.1,164.2C612.5,165.3 617.9,165.0 623.2,165.8C628.6,166.6 633.9,168.2 639.2,169.1C644.6,170.0 649.9,170.9 655.3,171.5C660.7,172.1 666.4,172.2 671.4,172.6C676.4,173.0 682.7,173.7 685.0,173.9" stroke-width="10.26"/>
<path d="M571.8,155.8L575,156.5M587.8,159.4L591,160.1" stroke-width="3"/>
<path d="M575.0,156.5 L587.8,159.4" stroke-width="6"/>
<path d="M600.7,164.4L603.9,164.6M616.8,165.5L620,165.7" stroke-width="2.675"/>
<path d="M603.9,164.6 L616.8,165.5" stroke-width="5.35"/>
<path d="M636,169.9L639.2,170.3M652.1,171.9L655.3,172.3" stroke-width="3"/>
<path d="M639.2,170.3 L652.1,171.9" stroke-width="6"/>
<path d="M672,175.1L674.6,175.2M685,175.5L687.6,175.6" stroke-width="2.675"/>
<path d="M674.6,175.2 L685.0,175.5" stroke-width="5.35"/>
<path d="M585.5,177.3L591.1,178.7M613.5,183.5L619.2,184.2" stroke-width="2.565"/>
<path d="M591.1,178.7C593.8,179.4 603.4,181.9 607.1,182.7C610.8,183.5 612.4,183.4 613.5,183.5" stroke-width="5.13"/>
<path d="M617.3,191.5L620,189.9M631.2,184.3L634.3,183.5" stroke-width="1.92375"/>
<path d="M620.0,189.9C621.3,189.1 626.1,186.0 628.0,185.1C629.9,184.2 630.7,184.4 631.2,184.3" stroke-width="3.8475"/>
<path d="M637.1,186.9L644.1,187.5M685,190.7L692,191.2" stroke-width="3.20625"/>
<path d="M644.1,187.5C647.3,187.8 656.5,188.6 663.3,189.1C670.1,189.6 681.4,190.4 685.0,190.7" stroke-width="6.4125"/>
<path d="M567.3,191.5L575,193.1M607.1,199.6L614.8,201.1" stroke-width="3.8475"/>
<path d="M575.0,193.1C577.7,193.7 585.8,195.3 591.1,196.4C596.5,197.5 604.4,199.1 607.1,199.6" stroke-width="7.695"/>
<path d="M579.8,195.2L583,195.6M595.9,197.2L599.1,197.6" stroke-width="3"/>
<path d="M583.0,195.6 L595.9,197.2" stroke-width="6"/>
<path d="M626,202L631.2,202M655.3,202L660.5,202" stroke-width="1.92375"/>
<path d="M631.2,202.0 L655.3,202.0" stroke-width="3.8475"/>
<path d="M310.2,204.9L313.4,204.9M326.3,204.9L329.5,204.9" stroke-width="2.24438"/>
<path d="M313.4,204.9 L326.3,204.9" stroke-width="4.48875"/>
<path d="M339,206.5L342.4,206.5M356,206.5L359.4,206.5" stroke-width="2.24438"/>
<path d="M342.4,206.5 L356.0,206.5" stroke-width="4.48875"/>
<path d="M283.3,217.1L286.1,217.1M297.4,217.1L300.2,217.1" stroke-width="2.24438"/>
<path d="M286.1,217.1 L297.4,217.1" stroke-width="4.48875"/>
<path d="M312.3,212.8L318.3,213M342.4,213.9L348.4,214.1" stroke-width="2.565"/>
<path d="M318.3,213.0 L342.4,213.9" stroke-width="5.13"/>
<path d="M272.9,235.1L274.9,235.1M282.9,235.1L284.9,235.1" stroke-width="1.92375"/>
<path d="M274.9,235.1 L282.9,235.1" stroke-width="3.8475"/>
<path d="M303.2,247.7L310.2,248M356,247.2L363,246.8" stroke-width="3.20625"/>
<path d="M310.2,248.0C312.9,248.1 320.9,248.8 326.3,248.8C331.7,248.8 337.4,248.3 342.4,248.0C347.3,247.7 353.7,247.3 356.0,247.2" stroke-width="6.4125"/>
<path d="M318.3,248.9L323.1,248.8M342.4,248.4L347.2,248.3" stroke-width="3"/>
<path d="M323.1,248.8 L342.4,248.4" stroke-width="6"/>
<path d="M349.9,207.8L356,207.8M388.1,207.8L394.2,207.8" stroke-width="2.565"/>
<path d="M356.0,207.8 L388.1,207.8" stroke-width="5.13"/>
<path d="M440.9,208L445.9,207.8M466,207L471,206.8" stroke-width="1.92375"/>
<path d="M445.9,207.8 L466.0,207.0" stroke-width="3.8475"/>
<path d="M348.2,221.5L356,220.7M436.3,223.1L444.1,224.3" stroke-width="3.8475"/>
<path d="M356.0,220.7C358.7,220.4 366.8,219.5 372.1,219.1C377.5,218.7 382.8,218.3 388.1,218.3C393.5,218.3 398.9,218.7 404.2,219.1C409.5,219.5 414.8,220.0 420.2,220.7C425.6,221.4 433.6,222.7 436.3,223.1" stroke-width="7.695"/>
<path d="M417,223.5L420.2,223.6M433.1,223.9L436.3,224" stroke-width="2.35"/>
<path d="M420.2,223.6 L433.1,223.9" stroke-width="4.7"/>
<path d="M348.2,247.2L356,246.4M420.2,247.2L428,248.2" stroke-width="3.8475"/>
<path d="M356.0,246.4C358.7,246.1 366.8,245.3 372.1,244.8C377.5,244.3 382.8,243.4 388.1,243.5C393.5,243.6 398.9,244.5 404.2,245.1C409.5,245.7 417.5,246.8 420.2,247.2" stroke-width="7.695"/>
<path d="M400.6,246.7L404.2,247.2M418.6,249.3L422.2,249.8" stroke-width="2.675"/>
<path d="M404.2,247.2 L418.6,249.3" stroke-width="5.35"/>
<path d="M449,239.9L452.4,239.9M466,239.9L469.4,239.9" stroke-width="1.92375"/>
<path d="M452.4,239.9 L466.0,239.9" stroke-width="3.8475"/>
<path d="M510.2,207.8L514.2,207.8M530.2,207.8L534.2,207.8" stroke-width="2.24438"/>
<path d="M514.2,207.8 L530.2,207.8" stroke-width="4.48875"/>
<path d="M468.8,222.3L470.8,222.3M478.8,222.3L480.8,222.3" stroke-width="2.24438"/>
<path d="M470.8,222.3 L478.8,222.3" stroke-width="4.48875"/>
<path d="M494.1,228L498.1,228.4M514.2,230L518.2,230.4" stroke-width="2.565"/>
<path d="M498.1,228.4 L514.2,230.0" stroke-width="5.13"/>
<path d="M523.8,219.1L527,219.1M539.9,219.1L543.1,219.1" stroke-width="2.24438"/>
<path d="M527.0,219.1 L539.9,219.1" stroke-width="4.48875"/>
<path d="M511.8,236.7L514.2,236.7M523.8,236.7L526.2,236.7" stroke-width="2.24438"/>
<path d="M514.2,236.7 L523.8,236.7" stroke-width="4.48875"/>
<path d="M499.1,249.8L506.1,249.6M576,249.6L583,250.1" stroke-width="3.20625"/>
<path d="M506.1,249.6C510.1,249.5 522.2,249.1 530.2,248.8C538.2,248.5 546.7,247.9 554.3,248.0C561.9,248.1 572.4,249.3 576.0,249.6" stroke-width="6.4125"/>
<path d="M542.3,248.5L546.3,248.6M562.4,248.8L566.4,248.9" stroke-width="2.675"/>
<path d="M546.3,248.6 L562.4,248.8" stroke-width="5.35"/>
<path d="M584.6,206.5L591.1,206.2M631.2,206.2L637.7,206.4" stroke-width="2.88563"/>
<path d="M591.1,206.2C593.8,206.1 600.4,205.4 607.1,205.4C613.8,205.4 627.2,206.1 631.2,206.2" stroke-width="5.77125"/>
<path d="M569.6,218L575,219.1M595.9,225.5L600.5,228.6" stroke-width="3.20625"/>
<path d="M575.0,219.1C577.7,219.6 587.6,221.2 591.1,222.3C594.6,223.4 595.1,225.0 595.9,225.5" stroke-width="6.4125"/>
<path d="M571.8,219.5L575,219.9M587.8,221.5L591,221.9" stroke-width="2.675"/>
<path d="M575.0,219.9 L587.8,221.5" stroke-width="5.35"/>
<path d="M608.1,219.1L615.1,219.1M679.4,215.8L686.4,215.1" stroke-width="3.20625"/>
<path d="M615.1,219.1C617.0,219.1 621.0,219.2 626.4,219.1C631.8,219.0 641.1,218.6 647.3,218.3C653.4,218.0 657.9,217.9 663.3,217.5C668.6,217.1 676.7,216.1 679.4,215.8" stroke-width="6.4125"/>
<path d="M614.4,219.1L616.8,219.1M626.4,219.1L628.8,219.1" stroke-width="2.35"/>
<path d="M616.8,219.1 L626.4,219.1" stroke-width="4.7"/>
<path d="M568.1,238.1L575,236.7M615.1,231.9L622,233" stroke-width="3.20625"/>
<path d="M575.0,236.7C577.7,236.2 585.8,234.5 591.1,233.5C596.5,232.5 603.1,230.9 607.1,230.6C611.1,230.3 613.8,231.7 615.1,231.9" stroke-width="6.4125"/>
<path d="M629,230L636,230.3M685,233.5L692,233.9" stroke-width="3.20625"/>
<path d="M636.0,230.3C639.2,230.4 649.4,230.7 655.3,231.1C661.2,231.5 666.4,232.3 671.4,232.7C676.4,233.1 682.7,233.4 685.0,233.5" stroke-width="6.4125"/>
<path d="M614,236.5L618.4,236.7M636,237.5L640.4,237.7" stroke-width="2.565"/>
<path d="M618.4,236.7 L636.0,237.5" stroke-width="5.13"/>
<path d="M568,251.5L575,251.2M642.4,251.2L649.2,252.7" stroke-width="3.20625"/>
<path d="M575.0,251.2C577.7,251.1 584.4,250.9 591.1,250.4C597.8,249.9 608.4,248.6 615.1,248.3C621.8,248.0 626.7,248.3 631.2,248.8C635.8,249.3 640.5,250.8 642.4,251.2" stroke-width="6.4125"/>
<path d="M239.9,255.7L246,255.4M286.1,255.4L292.2,255.6" stroke-width="2.565"/>
<path d="M246.0,255.4C248.7,255.3 255.4,254.6 262.1,254.6C268.8,254.6 282.1,255.3 286.1,255.4" stroke-width="5.13"/>
<path d="M263.1,263.3L270.1,262.6M350.4,267.5L357.2,268.9" stroke-width="3.20625"/>
<path d="M270.1,262.6C272.8,262.3 280.8,261.4 286.1,261.0C291.5,260.6 296.8,260.1 302.2,260.2C307.6,260.3 312.9,261.1 318.3,261.8C323.7,262.5 329.0,263.2 334.3,264.2C339.6,265.1 347.7,266.9 350.4,267.5" stroke-width="6.4125"/>
<path d="M296.2,260.1L299,260.2M310.2,260.7L313,260.8" stroke-width="2.35"/>
<path d="M299.0,260.2 L310.2,260.7" stroke-width="4.7"/>
<path d="M244,272L246,271.9M254,271.5L256,271.4" stroke-width="2.565"/>
<path d="M246.0,271.9 L254.0,271.5" stroke-width="5.13"/>
<path d="M299.4,273.1L302.2,273.1M313.4,273.1L316.2,273.1" stroke-width="1.92375"/>
<path d="M302.2,273.1 L313.4,273.1" stroke-width="3.8475"/>
<path d="M239,284.2L246,283.5M294.2,277.1L301.2,276.4" stroke-width="3.20625"/>
<path d="M246.0,283.5C248.7,283.2 256.8,282.7 262.1,281.9C267.5,281.1 272.8,279.5 278.1,278.7C283.5,277.9 291.5,277.4 294.2,277.1" stroke-width="6.4125"/>
<path d="M238.7,301.1L246,300.4M274.9,295.6L282,293.8" stroke-width="3.65"/>
<path d="M246.0,300.4C248.7,300.1 257.3,299.6 262.1,298.8C266.9,298.0 272.8,296.1 274.9,295.6" stroke-width="7.3"/>
<path d="M267.2,297.1L274.9,295.6M356,293.1L363.8,294" stroke-width="3.8475"/>
<path d="M274.9,295.6C278.1,295.0 288.3,292.7 294.2,291.9C300.1,291.1 304.8,290.8 310.2,290.7C315.6,290.6 320.9,291.4 326.3,291.5C331.7,291.6 337.4,291.2 342.4,291.5C347.3,291.8 353.7,292.8 356.0,293.1" stroke-width="7.695"/>
<path d="M349,256.5L356,256.2M404.2,254.9L411.2,254.7" stroke-width="3.20625"/>
<path d="M356.0,256.2C358.7,256.1 366.8,255.5 372.1,255.4C377.5,255.3 382.8,255.5 388.1,255.4C393.5,255.3 401.5,255.0 404.2,254.9" stroke-width="6.4125"/>
<path d="M354,256.3L359.2,256.2M380.1,255.9L385.3,255.8" stroke-width="2.675"/>
<path d="M359.2,256.2 L380.1,255.9" stroke-width="5.35"/>
<path d="M422.7,257.8L428.3,257.8M466,257.8L471.6,257.8" stroke-width="2.24438"/>
<path d="M428.3,257.8 L466.0,257.8" stroke-width="4.48875"/>
<path d="M376.8,269.5L383.3,269.1M410.6,268.3L417.1,268.3" stroke-width="2.88563"/>
<path d="M383.3,269.1C385.4,269.0 391.6,268.4 396.1,268.3C400.7,268.2 408.2,268.3 410.6,268.3" stroke-width="5.77125"/>
<path d="M381.3,269.3L386.5,269.1M407.4,268.3L412.6,268.1" stroke-width="2.675"/>
<path d="M386.5,269.1 L407.4,268.3" stroke-width="5.35"/>
<path d="M438.9,275.5L444.3,275.5M466,275.5L471.4,275.5" stroke-width="2.565"/>
<path d="M444.3,275.5 L466.0,275.5" stroke-width="5.13"/>
<path d="M398.2,283.5L404.2,283.5M428.3,283.5L434.3,283.5" stroke-width="2.565"/>
<path d="M404.2,283.5 L428.3,283.5" stroke-width="5.13"/>
<path d="M349,286.3L356,286.7M384.9,289.9L391.8,290.9" stroke-width="3.20625"/>
<path d="M356.0,286.7C358.1,286.8 364.0,287.0 368.8,287.5C373.6,288.0 382.2,289.5 384.9,289.9" stroke-width="6.4125"/>
<path d="M358,286.8L360.8,287M372.1,288L374.9,288.2" stroke-width="2.675"/>
<path d="M360.8,287.0 L372.1,288.0" stroke-width="5.35"/>
<path d="M429.8,301.5L436.3,301.2M466,299.6L472.5,299.2" stroke-width="2.88563"/>
<path d="M436.3,301.2C439.0,301.1 447.4,300.7 452.4,300.4C457.3,300.1 463.7,299.7 466.0,299.6" stroke-width="5.77125"/>
<path d="M442.3,300.6L445.9,300.5M460.4,300.2L464,300.1" stroke-width="2.35"/>
<path d="M445.9,300.5 L460.4,300.2" stroke-width="4.7"/>
<path d="M468,257L474,257M498.1,257L504.1,257" stroke-width="2.88563"/>
<path d="M474.0,257.0 L498.1,257.0" stroke-width="5.77125"/>
<path d="M554.9,261L559.1,261M576,261L580.2,261" stroke-width="2.24438"/>
<path d="M559.1,261.0 L576.0,261.0" stroke-width="4.48875"/>
<path d="M507.4,263.4L512.6,263.4M533.4,263.4L538.6,263.4" stroke-width="1.92375"/>
<path d="M512.6,263.4 L533.4,263.4" stroke-width="3.8475"/>
<path d="M458.2,276.3L466,277.1M576,273.9L583.8,273" stroke-width="3.8475"/>
<path d="M466.0,277.1C468.7,277.4 476.8,278.2 482.1,278.7C487.5,279.2 492.8,280.6 498.1,280.3C503.5,280.0 508.9,277.8 514.2,277.1C519.6,276.4 524.9,276.3 530.2,276.3C535.6,276.3 540.9,277.2 546.3,277.1C551.7,277.0 557.4,276.0 562.4,275.5C567.4,275.0 573.7,274.2 576.0,273.9" stroke-width="7.695"/>
<path d="M494.9,280.4L498.1,280.3M511,280L514.2,279.9" stroke-width="2.675"/>
<path d="M498.1,280.3 L511.0,280.0" stroke-width="5.35"/>
<path d="M533.9,277.4L538.3,277.4M555.9,277.4L560.3,277.4" stroke-width="2.675"/>
<path d="M538.3,277.4 L555.9,277.4" stroke-width="5.35"/>
<path d="M550.3,286.5L554.3,286.7M570.4,287.5L574.4,287.7" stroke-width="2.565"/>
<path d="M554.3,286.7 L570.4,287.5" stroke-width="5.13"/>
<path d="M460,299.3L466,299.6M490.1,301.2L496.1,301.8" stroke-width="3.20625"/>
<path d="M466.0,299.6C468.7,299.7 478.1,300.1 482.1,300.4C486.1,300.7 488.8,301.1 490.1,301.2" stroke-width="6.4125"/>
<path d="M464.4,299.5L467.6,299.6M480.5,299.9L483.7,300" stroke-width="2.35"/>
<path d="M467.6,299.6 L480.5,299.9" stroke-width="4.7"/>
<path d="M577,254.9L581.4,254.9M599.1,254.9L603.5,254.9" stroke-width="2.565"/>
<path d="M581.4,254.9 L599.1,254.9" stroke-width="5.13"/>
<path d="M640.3,256.7L647.3,257M685,257.8L692,257.8" stroke-width="3.20625"/>
<path d="M647.3,257.0C650.0,257.1 657.0,257.7 663.3,257.8C669.6,257.9 681.4,257.8 685.0,257.8" stroke-width="6.4125"/>
<path d="M653.9,257.4L660.1,257.5M685,257.8L691.2,257.9" stroke-width="3"/>
<path d="M660.1,257.5 L685.0,257.8" stroke-width="6"/>
<path d="M604.1,260.1L611.9,261M677.8,273.9L685.5,275.8" stroke-width="3.8475"/>
<path d="M611.9,261.0C614.3,261.3 621.8,261.9 626.4,262.6C631.0,263.3 634.4,264.1 639.2,265.0C644.0,265.9 649.9,267.1 655.3,268.3C660.7,269.5 667.6,271.4 671.4,272.3C675.1,273.2 676.7,273.6 677.8,273.9" stroke-width="7.695"/>
<path d="M622,262.3L626.4,263M644.1,265.8L648.5,266.5" stroke-width="3.325"/>
<path d="M626.4,263.0 L644.1,265.8" stroke-width="6.65"/>
<path d="M577,264.2L581.4,264.2M599.1,264.2L603.5,264.2" stroke-width="2.565"/>
<path d="M581.4,264.2 L599.1,264.2" stroke-width="5.13"/>
<path d="M568,276.8L575,277.1M623.2,270.7L630.1,269.3" stroke-width="3.20625"/>
<path d="M575.0,277.1C577.7,277.2 585.8,278.4 591.1,277.9C596.5,277.4 601.8,275.1 607.1,273.9C612.5,272.7 620.5,271.2 623.2,270.7" stroke-width="6.4125"/>
<path d="M572.6,277.1L575,277.1M584.6,277.1L587,277.1" stroke-width="2.35"/>
<path d="M575.0,277.1 L584.6,277.1" stroke-width="4.7"/>
<path d="M613.1,286.4L620,287.5M663.3,298L669.8,300.6" stroke-width="3.20625"/>
<path d="M620.0,287.5C623.2,288.0 633.3,289.5 639.2,290.7C645.1,291.9 651.3,293.6 655.3,294.8C659.3,296.0 662.0,297.5 663.3,298.0" stroke-width="6.4125"/>
<path d="M623.2,288.9L628,289.6M647.3,292.3L652.1,293" stroke-width="3"/>
<path d="M628.0,289.6 L647.3,292.3" stroke-width="6"/>
<path d="M651.9,278.7L658.5,280.3M685,286.7L691.6,288.3" stroke-width="3.20625"/>
<path d="M658.5,280.3C660.6,280.8 667.0,282.4 671.4,283.5C675.8,284.6 682.7,286.2 685.0,286.7" stroke-width="6.4125"/>
<path d="M663.9,284.3L668.1,284.8M685,286.7L689.2,287.2" stroke-width="2.35"/>
<path d="M668.1,284.8 L685.0,286.7" stroke-width="4.7"/>
<path d="M588.3,290.8L594.3,291.5M616.8,298.8L622,301.9" stroke-width="2.565"/>
<path d="M594.3,291.5C596.4,291.8 603.4,291.9 607.1,293.1C610.9,294.3 615.2,297.9 616.8,298.8" stroke-width="5.13"/>
<path d="M595.1,299.4L599.1,299.6M615.1,300.4L619.1,300.6" stroke-width="2.24438"/>
<path d="M599.1,299.6 L615.1,300.4" stroke-width="4.48875"/>
<path d="M571,301.1L575,301.2M591.1,301.5L595.1,301.6" stroke-width="2.24438"/>
<path d="M575.0,301.2 L591.1,301.5" stroke-width="4.48875"/>
<path d="M240,304L246,304M270.1,304L276.1,304" stroke-width="2.675"/>
<path d="M246.0,304.0 L270.1,304.0" stroke-width="5.35"/>
<path d="M320.3,310.2L326.3,310.2M350.4,310.2L356.4,310.2" stroke-width="2.565"/>
<path d="M326.3,310.2 L350.4,310.2" stroke-width="5.13"/>
<path d="M242.8,314.2L246,314.2M258.8,314.2L262,314.2" stroke-width="2.565"/>
<path d="M246.0,314.2 L258.8,314.2" stroke-width="5.13"/>
<path d="M267.3,324.3L274.9,322.3M326.3,321.5L333.9,323.8" stroke-width="3.8475"/>
<path d="M274.9,322.3C276.8,321.8 282.9,320.4 286.1,319.4C289.3,318.4 290.2,316.5 294.2,316.2C298.2,315.9 306.2,317.0 310.2,317.5C314.2,318.0 315.6,318.4 318.3,319.1C321.0,319.8 325.0,321.1 326.3,321.5" stroke-width="7.695"/>
<path d="M239.1,330.5L246,329.5M294.2,324.7L301.2,324.4" stroke-width="3.20625"/>
<path d="M246.0,329.5C248.7,329.1 256.8,327.8 262.1,327.1C267.5,326.4 272.8,325.9 278.1,325.5C283.5,325.1 291.5,324.8 294.2,324.7" stroke-width="6.4125"/>
<path d="M242,330L246,329.5M262.1,327.4L266.1,326.9" stroke-width="3"/>
<path d="M246.0,329.5 L262.1,327.4" stroke-width="6"/>
<path d="M284,339.6L291,339.9M326.3,341.5L333.3,341.8" stroke-width="3.20625"/>
<path d="M291.0,339.9C294.2,340.0 304.3,340.4 310.2,340.7C316.1,341.0 323.6,341.4 326.3,341.5" stroke-width="6.4125"/>
<path d="M247,344.4L254,345.1M286.1,348.3L293.1,349" stroke-width="3.20625"/>
<path d="M254.0,345.1C256.7,345.4 264.8,346.2 270.1,346.7C275.5,347.2 283.4,348.0 286.1,348.3" stroke-width="6.4125"/>
<path d="M260.1,351.2L262.1,351.2M270.1,351.2L272.1,351.2" stroke-width="1.92375"/>
<path d="M262.1,351.2 L270.1,351.2" stroke-width="3.8475"/>
<path d="M314.3,352.8L318.3,352.8M334.3,352.8L338.3,352.8" stroke-width="1.92375"/>
<path d="M318.3,352.8 L334.3,352.8" stroke-width="3.8475"/>
<path d="M426.6,304.7L433.1,304.6M466,304.3L472.5,304.2" stroke-width="2.88563"/>
<path d="M433.1,304.6 L466.0,304.3" stroke-width="5.77125"/>
<path d="M440.3,304L444.3,304M460.4,304L464.4,304" stroke-width="2.35"/>
<path d="M444.3,304.0 L460.4,304.0" stroke-width="4.7"/>
<path d="M349,313.3L356,312.6M404.2,308.6L411.2,308.3" stroke-width="3.20625"/>
<path d="M356.0,312.6C358.7,312.3 366.8,311.5 372.1,311.0C377.5,310.5 382.8,309.8 388.1,309.4C393.5,309.0 401.5,308.7 404.2,308.6" stroke-width="6.4125"/>
<path d="M383.7,320.7L386.5,320.7M397.8,320.7L400.6,320.7" stroke-width="1.92375"/>
<path d="M386.5,320.7 L397.8,320.7" stroke-width="3.8475"/>
<path d="M396.6,317.8L399.4,317.8M410.6,317.8L413.4,317.8" stroke-width="1.92375"/>
<path d="M399.4,317.8 L410.6,317.8" stroke-width="3.8475"/>
<path d="M405.9,325.9L413.8,326.3M466,332.7L473.8,333.9" stroke-width="3.8475"/>
<path d="M413.8,326.3C416.2,326.4 423.2,326.6 428.3,327.1C433.4,327.6 438.0,328.6 444.3,329.5C450.6,330.4 462.4,332.2 466.0,332.7" stroke-width="7.695"/>
<path d="M455,334.1L457.2,334.3M466,335.1L468.2,335.3" stroke-width="2.675"/>
<path d="M457.2,334.3 L466.0,335.1" stroke-width="5.35"/>
<path d="M357.2,331.1L364,335.1M436.3,338.3L444.2,338.3" stroke-width="3.8475"/>
<path d="M364.0,335.1C365.4,335.9 368.1,339.6 372.1,339.9C376.1,340.2 382.8,337.5 388.1,337.0C393.5,336.5 398.9,336.5 404.2,336.7C409.5,336.9 414.8,338.0 420.2,338.3C425.6,338.6 433.6,338.3 436.3,338.3" stroke-width="7.695"/>
<path d="M360,349.6L364,349.6M380.1,349.6L384.1,349.6" stroke-width="3.20625"/>
<path d="M364.0,349.6 L380.1,349.6" stroke-width="6.4125"/>
<path d="M414.1,345.6L420.2,345.6M452.4,345.6L458.5,345.6" stroke-width="2.565"/>
<path d="M420.2,345.6 L452.4,345.6" stroke-width="5.13"/>
<path d="M467.1,297.6L474,303M535.1,355L542,360.4" stroke-width="4.48875"/>
<path d="M474.0,303.0C475.4,304.1 479.4,307.0 482.1,309.4C484.8,311.8 486.9,314.8 490.1,317.5C493.3,320.2 497.8,322.6 501.3,325.5C504.8,328.4 507.8,332.2 511.0,335.1C514.2,338.0 517.4,340.4 520.6,343.1C523.8,345.8 527.8,349.2 530.2,351.2C532.6,353.2 534.3,354.4 535.1,355.0" stroke-width="8.9775"/>
<path d="M496.8,305.8L502.9,306.2M527,309.4L533,310.5" stroke-width="3.20625"/>
<path d="M502.9,306.2C504.8,306.3 510.2,306.5 514.2,307.0C518.2,307.5 524.9,309.0 527.0,309.4" stroke-width="6.4125"/>
<path d="M532.7,304.6L538.3,304.6M562.4,304.6L568,304.6" stroke-width="2.24438"/>
<path d="M538.3,304.6 L562.4,304.6" stroke-width="4.48875"/>
<path d="M523.8,315L525.4,315.8M531.8,319.1L533.4,319.9" stroke-width="2.565"/>
<path d="M525.4,315.8 L531.8,319.1" stroke-width="5.13"/>
<path d="M519.7,325.6L527,328.7M576,330.3L583.8,329.4" stroke-width="3.8475"/>
<path d="M527.0,328.7C528.9,329.5 533.8,332.8 538.3,333.5C542.8,334.2 548.0,333.2 554.3,332.7C560.6,332.2 572.4,330.7 576.0,330.3" stroke-width="7.695"/>
<path d="M531.5,333.1L535.1,333.2M549.5,333.5L553.1,333.6" stroke-width="3"/>
<path d="M535.1,333.2 L549.5,333.5" stroke-width="6"/>
<path d="M458.3,333.2L466,335.1M501.3,355L506.4,361" stroke-width="3.8475"/>
<path d="M466.0,335.1C468.1,335.6 474.8,336.7 478.8,338.3C482.8,339.9 486.9,342.7 490.1,344.8C493.3,346.9 496.2,349.5 498.1,351.2C500.0,352.9 500.8,354.4 501.3,355.0" stroke-width="7.695"/>
<path d="M464,335.6L466,335.9M474,337L476,337.3" stroke-width="2.675"/>
<path d="M466.0,335.9 L474.0,337.0" stroke-width="5.35"/>
<path d="M545.5,346.4L549.5,346.4M565.6,346.4L569.6,346.4" stroke-width="1.92375"/>
<path d="M549.5,346.4 L565.6,346.4" stroke-width="3.8475"/>
<path d="M571,307L575,307M591.1,307L595.1,307" stroke-width="3.20625"/>
<path d="M575.0,307.0 L591.1,307.0" stroke-width="6.4125"/>
<path d="M571.4,307.5L575,307.5M589.5,307.5L593.1,307.5" stroke-width="2.675"/>
<path d="M575.0,307.5 L589.5,307.5" stroke-width="5.35"/>
<path d="M603.9,303.8L607.1,303.8M620,303.8L623.2,303.8" stroke-width="1.92375"/>
<path d="M607.1,303.8 L620.0,303.8" stroke-width="3.8475"/>
<path d="M605.6,316.2L613.5,315.8M674.6,308.6L682.2,306.5" stroke-width="3.8475"/>
<path d="M613.5,315.8C616.5,315.7 625.6,315.3 631.2,315.0C636.8,314.7 641.9,314.7 647.3,314.2C652.6,313.7 658.8,312.7 663.3,311.8C667.8,310.9 672.7,309.1 674.6,308.6" stroke-width="7.695"/>
<path d="M628.4,315.1L631.2,315M642.4,314.7L645.2,314.6" stroke-width="2.35"/>
<path d="M631.2,315.0 L642.4,314.7" stroke-width="4.7"/>
<path d="M566.2,330.1L575,330.6M615.1,335.1L623.9,335.7" stroke-width="4.48875"/>
<path d="M575.0,330.6C577.7,330.8 586.3,331.0 591.1,331.6C595.9,332.2 599.9,333.7 603.9,334.3C607.9,334.9 613.2,335.0 615.1,335.1" stroke-width="8.9775"/>
<path d="M593.1,333.6L595.9,333.8M607.1,334.8L609.9,335.1" stroke-width="3"/>
<path d="M595.9,333.8 L607.1,334.8" stroke-width="6"/>
<path d="M617.2,351.2L623.2,351.2M647.3,351.2L653.3,351.2" stroke-width="2.565"/>
<path d="M623.2,351.2 L647.3,351.2" stroke-width="5.13"/>
<path d="M647.3,349.6L652.1,349.6M671.4,349.6L676.2,349.6" stroke-width="2.565"/>
<path d="M652.1,349.6 L671.4,349.6" stroke-width="5.13"/>
</g>
<g stroke="#a4a4a4">
<path d="M241,67.9L246,67.7M265.7,64.8L270.6,63.6" stroke-width="3.8"/>
<path d="M246.0,67.7C247.3,67.7 251.5,67.7 253.9,67.4C256.3,67.1 258.4,66.5 260.4,66.1C262.4,65.7 264.8,65.0 265.7,64.8" stroke-width="7.6"/>
<path d="M259.4,66.5L265.7,64.8M297.2,55.9L303.5,54.1" stroke-width="2.875"/>
<path d="M265.7,64.8C266.8,64.5 269.8,63.6 272.2,63.0C274.6,62.4 277.2,61.7 280.1,60.9C283.0,60.1 286.5,59.0 289.3,58.2C292.1,57.4 295.9,56.3 297.2,55.9" stroke-width="5.75"/>
<path d="M240.7,78L246,77.9M267,76L272.2,75.1" stroke-width="3.4375"/>
<path d="M246.0,77.9C247.3,77.9 251.5,77.8 253.9,77.7C256.3,77.6 258.2,77.4 260.4,77.1C262.6,76.8 265.9,76.2 267.0,76.0" stroke-width="6.875"/>
<path d="M265,76.4L267,76M274.9,74.3L276.9,73.9" stroke-width="2.55"/>
<path d="M267.0,76.0 L274.9,74.3" stroke-width="5.1"/>
<path d="M270,75L274.9,74.3M301,71.6L305.9,71.1" stroke-width="1.74562"/>
<path d="M274.9,74.3C276.6,74.1 282.3,73.2 285.4,72.9C288.4,72.6 290.6,72.6 293.2,72.4C295.8,72.2 299.7,71.7 301.0,71.6" stroke-width="3.49125"/>
<path d="M241.1,88.4L246,88.2M272.2,85.2L277.1,84.4" stroke-width="1.74562"/>
<path d="M246.0,88.2C247.3,88.2 251.5,88.0 253.9,87.9C256.3,87.8 258.2,87.7 260.4,87.4C262.6,87.1 265.0,86.5 267.0,86.1C269.0,85.7 271.3,85.3 272.2,85.2" stroke-width="3.49125"/>
<path d="M269.9,85.1L276.2,85.2M301,86.5L307.2,85.8" stroke-width="3.4375"/>
<path d="M276.2,85.2C277.7,85.2 283.0,85.1 285.4,85.3C287.8,85.5 288.9,86.2 290.6,86.5C292.4,86.8 294.2,87.1 295.9,87.1C297.6,87.1 300.1,86.6 301.0,86.5" stroke-width="6.875"/>
<path d="M260.2,99.9L263.1,100M274.9,100.5L277.8,100.6" stroke-width="1.49625"/>
<path d="M263.1,100.0 L274.9,100.5" stroke-width="2.9925"/>
<path d="M296.7,57.4L301,56.9M318.1,54.3L322.3,53.5" stroke-width="2.875"/>
<path d="M301.0,56.9C302.8,56.7 308.6,56.0 311.5,55.6C314.4,55.2 317.0,54.5 318.1,54.3" stroke-width="5.75"/>
<path d="M296.1,72.1L301,71.4M356,66.8L360.9,66.6" stroke-width="1.74562"/>
<path d="M301.0,71.4C303.2,71.1 309.7,70.0 314.1,69.4C318.5,68.9 322.8,68.4 327.2,68.1C331.6,67.8 335.6,67.6 340.4,67.4C345.2,67.2 353.4,66.9 356.0,66.8" stroke-width="3.49125"/>
<path d="M323.9,68.6L327.2,68.4M340.4,67.7L343.7,67.5" stroke-width="2.55"/>
<path d="M327.2,68.4 L340.4,67.7" stroke-width="5.1"/>
<path d="M303.1,82L307.6,81.2M356,78.6L360.6,78.6" stroke-width="1.49625"/>
<path d="M307.6,81.2C310.9,80.7 321.7,78.3 327.2,77.9C332.7,77.5 335.6,78.5 340.4,78.6C345.2,78.7 353.4,78.6 356.0,78.6" stroke-width="2.9925"/>
<path d="M328.2,78.7L333.8,78.7M356,78.7L361.6,78.7" stroke-width="2.55"/>
<path d="M333.8,78.7 L356.0,78.7" stroke-width="5.1"/>
<path d="M297.7,86.9L301,86.5M314.1,83.8L317.3,82.8" stroke-width="3.4375"/>
<path d="M301.0,86.5C302.1,86.4 305.4,86.2 307.6,85.8C309.8,85.3 313.0,84.1 314.1,83.8" stroke-width="6.875"/>
<path d="M329.2,89.4L333.8,89.1M356,87.8L360.6,87.5" stroke-width="1.49625"/>
<path d="M333.8,89.1 L356.0,87.8" stroke-width="2.9925"/>
<path d="M309.2,98.9L314.1,98.9M333.8,98.9L338.7,98.9" stroke-width="1.74562"/>
<path d="M314.1,98.9 L333.8,98.9" stroke-width="3.49125"/>
<path d="M336.5,100.5L340.4,100.5M356,100.5L359.9,100.5" stroke-width="1.49625"/>
<path d="M340.4,100.5 L356.0,100.5" stroke-width="2.9925"/>
<path d="M415.6,55.9L420.2,55.9M466,55.9L470.6,55.9" stroke-width="1.49625"/>
<path d="M420.2,55.9 L466.0,55.9" stroke-width="2.9925"/>
<path d="M375.2,66.7L380.1,66.7M412.2,67.5L417.1,67.7" stroke-width="1.74562"/>
<path d="M380.1,66.7C382.8,66.7 390.8,66.7 396.1,66.8C401.5,66.9 409.5,67.4 412.2,67.5" stroke-width="3.49125"/>
<path d="M408.1,67.3L415.4,67.1M466,68.3L473.3,68.6" stroke-width="3.4375"/>
<path d="M415.4,67.1C417.5,67.0 423.5,66.6 428.3,66.7C433.1,66.8 438.0,67.2 444.3,67.5C450.6,67.8 462.4,68.2 466.0,68.3" stroke-width="6.875"/>
<path d="M351.1,78.8L356,78.7M409,78.2L413.9,78.1" stroke-width="1.74562"/>
<path d="M356.0,78.7C358.7,78.7 366.8,78.4 372.1,78.4C377.5,78.4 382.0,78.7 388.1,78.7C394.2,78.7 405.5,78.3 409.0,78.2" stroke-width="3.49125"/>
<path d="M407,78.2L412.2,78.2M433.1,78.7L438.3,79" stroke-width="3.4375"/>
<path d="M412.2,78.2C414.1,78.2 419.9,78.1 423.4,78.2C426.9,78.3 431.5,78.6 433.1,78.7" stroke-width="6.875"/>
<path d="M428.3,78.4L433.1,78.7M452.4,79.5L457.2,79.6" stroke-width="2.875"/>
<path d="M433.1,78.7C434.7,78.8 439.5,79.1 442.7,79.2C445.9,79.3 450.8,79.5 452.4,79.5" stroke-width="5.75"/>
<path d="M404.1,89.7L409,89.9M466,89.1L470.9,89.2" stroke-width="1.74562"/>
<path d="M409.0,89.9C412.2,90.0 422.4,90.9 428.3,90.7C434.2,90.5 438.0,89.0 444.3,88.7C450.6,88.4 462.4,89.0 466.0,89.1" stroke-width="3.49125"/>
<path d="M449,88.9L452.4,89M466,89.3L469.4,89.4" stroke-width="2.55"/>
<path d="M452.4,89.0 L466.0,89.3" stroke-width="5.1"/>
<path d="M353.6,100.4L356,100.4M365.6,100.4L368,100.4" stroke-width="3.2"/>
<path d="M356.0,100.4 L365.6,100.4" stroke-width="6.4"/>
<path d="M363.2,100.5L365.6,100.4M375.3,99.9L377.7,99.8" stroke-width="1.995"/>
<path d="M365.6,100.4 L375.3,99.9" stroke-width="3.99"/>
<path d="M514.6,57L519,57M536.7,57L541.1,57" stroke-width="1.995"/>
<path d="M519.0,57.0 L536.7,57.0" stroke-width="3.99"/>
<path d="M546.9,56.4L552.7,57.8M576,62.6L581.9,63.5" stroke-width="3.2"/>
<path d="M552.7,57.8C554.9,58.3 561.7,60.2 565.6,61.0C569.5,61.8 574.3,62.3 576.0,62.6" stroke-width="6.4"/>
<path d="M461.2,67.9L466,68.3M485.3,69.9L490.1,70.3" stroke-width="3.4375"/>
<path d="M466.0,68.3C467.6,68.4 472.4,68.8 475.6,69.1C478.8,69.4 483.7,69.8 485.3,69.9" stroke-width="6.875"/>
<path d="M480.7,69.6L485.3,69.9M511,71.5L515.6,71.8" stroke-width="1.49625"/>
<path d="M485.3,69.9C487.4,70.0 493.8,70.4 498.1,70.7C502.4,71.0 508.9,71.4 511.0,71.5" stroke-width="2.9925"/>
<path d="M509.6,73.5L514.2,73.9M533.4,75.5L538,75.9" stroke-width="1.49625"/>
<path d="M514.2,73.9 L533.4,75.5" stroke-width="2.9925"/>
<path d="M474.3,78.7L482.1,79.5M551.1,89.1L558.8,90.6" stroke-width="3.8"/>
<path d="M482.1,79.5C484.8,79.8 492.8,80.6 498.1,81.1C503.5,81.6 508.9,82.0 514.2,82.7C519.6,83.4 525.4,84.3 530.2,85.1C535.0,85.9 539.6,86.8 543.1,87.5C546.6,88.2 549.8,88.8 551.1,89.1" stroke-width="7.6"/>
<path d="M462,89.2L466,89.9M482.1,92.3L486.1,92.8" stroke-width="3.8"/>
<path d="M466.0,89.9C467.6,90.2 472.9,91.1 475.6,91.5C478.3,91.9 481.0,92.2 482.1,92.3" stroke-width="7.6"/>
<path d="M475.6,91.6L482.1,92.3M514.2,96.4L520.7,97.4" stroke-width="2.875"/>
<path d="M482.1,92.3C484.8,92.6 492.8,93.3 498.1,94.0C503.5,94.7 511.5,96.0 514.2,96.4" stroke-width="5.75"/>
<path d="M506.5,95.4L514.2,96.7M554.3,102L562.1,102.8" stroke-width="3.8"/>
<path d="M514.2,96.7C516.3,97.0 523.0,98.2 527.0,98.8C531.0,99.4 533.8,99.9 538.3,100.4C542.8,100.9 551.6,101.7 554.3,102.0" stroke-width="7.6"/>
<path d="M551.3,83.3L555.9,83.5M576,84.3L580.6,84.5" stroke-width="1.49625"/>
<path d="M555.9,83.5 L576.0,84.3" stroke-width="2.9925"/>
<path d="M568.9,60.6L575,60.2M599.1,61.4L605.1,62.5" stroke-width="3.2"/>
<path d="M575.0,60.2C577.1,60.1 583.8,59.2 587.8,59.4C591.8,59.6 597.2,61.1 599.1,61.4" stroke-width="6.4"/>
<path d="M602.5,60.6L607.1,60.7M631.2,61.4L635.8,61.5" stroke-width="1.49625"/>
<path d="M607.1,60.7 L631.2,61.4" stroke-width="2.9925"/>
<path d="M597.1,78.5L600.7,78.7M615.1,79.5L618.7,79.7" stroke-width="2.875"/>
<path d="M600.7,78.7 L615.1,79.5" stroke-width="5.75"/>
<path d="M610.2,79.6L615.1,79.7M685,79.5L689.9,79.3" stroke-width="1.74562"/>
<path d="M615.1,79.7C619.1,79.8 631.2,80.2 639.2,80.3C647.2,80.4 655.7,80.4 663.3,80.3C670.9,80.2 681.4,79.6 685.0,79.5" stroke-width="3.49125"/>
<path d="M572.6,80.2L575,80.3M584.6,80.6L587,80.7" stroke-width="1.49625"/>
<path d="M575.0,80.3 L584.6,80.6" stroke-width="2.9925"/>
<path d="M614.7,99.8L620,99.9M685,99.6L690.3,99.5" stroke-width="1.995"/>
<path d="M620.0,99.9C624.5,100.0 636.5,100.5 647.3,100.4C658.1,100.4 678.7,99.7 685.0,99.6" stroke-width="3.99"/>
<path d="M240.7,118.8L246,118.3M274.9,114.6L280.1,113.7" stroke-width="1.995"/>
<path d="M246.0,118.3C248.7,118.0 257.3,117.3 262.1,116.7C266.9,116.1 272.8,114.9 274.9,114.6" stroke-width="3.99"/>
<path d="M253.2,118.6L255.6,118.3M265.3,117.1L267.7,116.8" stroke-width="3.2"/>
<path d="M255.6,118.3 L265.3,117.1" stroke-width="6.4"/>
<path d="M266.8,113.9L274.9,114.6M307,119.9L315.1,120.5" stroke-width="4.1625"/>
<path d="M274.9,114.6C276.8,114.8 282.9,115.0 286.1,115.5C289.3,116.0 291.8,117.1 294.2,117.8C296.6,118.5 298.5,119.1 300.6,119.4C302.7,119.8 305.9,119.8 307.0,119.9" stroke-width="8.325"/>
<path d="M310.5,115.2L315.1,115M356,114.2L360.6,114.2" stroke-width="1.49625"/>
<path d="M315.1,115.0C318.3,114.9 327.5,114.3 334.3,114.2C341.1,114.1 352.4,114.2 356.0,114.2" stroke-width="2.9925"/>
<path d="M258.9,131.5L262.1,131.9M274.9,133.5L278.1,133.9" stroke-width="1.74562"/>
<path d="M262.1,131.9 L274.9,133.5" stroke-width="3.49125"/>
<path d="M309.8,128.5L315.1,128.7M356,129.5L361.3,129.5" stroke-width="1.995"/>
<path d="M315.1,128.7C318.3,128.8 327.5,129.4 334.3,129.5C341.1,129.6 352.4,129.5 356.0,129.5" stroke-width="3.99"/>
<path d="M314.3,129L319.9,129.2M342.4,129.8L348,130" stroke-width="2.55"/>
<path d="M319.9,129.2 L342.4,129.8" stroke-width="5.1"/>
<path d="M274.1,137.7L278.1,137.5M294.2,136.7L298.2,136.5" stroke-width="1.74562"/>
<path d="M278.1,137.5 L294.2,136.7" stroke-width="3.49125"/>
<path d="M308.1,136.9L315.1,137.5M356,139.1L363,139.1" stroke-width="3.2"/>
<path d="M315.1,137.5C318.3,137.8 327.5,138.8 334.3,139.1C341.1,139.4 352.4,139.1 356.0,139.1" stroke-width="6.4"/>
<path d="M314.3,138.1L318.3,138.3M334.3,139L338.3,139.2" stroke-width="3.4375"/>
<path d="M318.3,138.3 L334.3,139.0" stroke-width="6.875"/>
<path d="M272.8,146.4L278.1,146.4M302.2,146.4L307.5,146.4" stroke-width="1.995"/>
<path d="M278.1,146.4 L302.2,146.4" stroke-width="3.99"/>
<path d="M282.1,152L286.1,152M302.2,152L306.2,152" stroke-width="2.875"/>
<path d="M286.1,152.0 L302.2,152.0" stroke-width="5.75"/>
<path d="M419.8,104.8L425.1,104.9M466,105.4L471.3,105.5" stroke-width="1.995"/>
<path d="M425.1,104.9 L466.0,105.4" stroke-width="3.99"/>
<path d="M428.3,104.5L433.1,104.6M452.4,104.9L457.2,105" stroke-width="2.875"/>
<path d="M433.1,104.6 L452.4,104.9" stroke-width="5.75"/>
<path d="M353.6,114.4L356,114.2M365.6,113.6L368,113.4" stroke-width="2.875"/>
<path d="M356.0,114.2 L365.6,113.6" stroke-width="5.75"/>
<path d="M361.1,114.3L365.6,113.6M388.1,110.2L392.6,109.5" stroke-width="1.49625"/>
<path d="M365.6,113.6 L388.1,110.2" stroke-width="2.9925"/>
<path d="M410.2,115L413.8,115.8M428.3,119.1L431.9,119.9" stroke-width="1.74562"/>
<path d="M413.8,115.8 L428.3,119.1" stroke-width="3.49125"/>
<path d="M364.3,127.3L372.1,126.3M404.2,123.9L412,123.8" stroke-width="3.8"/>
<path d="M372.1,126.3C374.8,126.0 382.8,124.6 388.1,124.2C393.5,123.8 401.5,124.0 404.2,123.9" stroke-width="7.6"/>
<path d="M352,129.3L356,128.7M372.1,126.3L376.1,125.7" stroke-width="2.875"/>
<path d="M356.0,128.7 L372.1,126.3" stroke-width="5.75"/>
<path d="M407.4,130.7L410.6,131.1M423.4,132.7L426.6,133.1" stroke-width="3.8"/>
<path d="M410.6,131.1 L423.4,132.7" stroke-width="7.6"/>
<path d="M418.5,133.1L423.4,133.5M466,135.1L470.9,135.1" stroke-width="1.74562"/>
<path d="M423.4,133.5C426.9,133.8 437.2,134.8 444.3,135.1C451.4,135.4 462.4,135.1 466.0,135.1" stroke-width="3.49125"/>
<path d="M351.1,140.6L356,139.9M404.2,135.1L409.1,134.9" stroke-width="1.74562"/>
<path d="M356.0,139.9C358.7,139.5 366.8,138.2 372.1,137.5C377.5,136.8 382.8,136.3 388.1,135.9C393.5,135.5 401.5,135.2 404.2,135.1" stroke-width="3.49125"/>
<path d="M438.9,147.9L444.3,148M466,148.3L471.4,148.4" stroke-width="3.2"/>
<path d="M444.3,148.0 L466.0,148.3" stroke-width="6.4"/>
<path d="M350.7,151.2L356,151.2M404.2,151.2L409.5,151.2" stroke-width="1.995"/>
<path d="M356.0,151.2 L404.2,151.2" stroke-width="3.99"/>
<path d="M468,107.5L474,107.8M498.1,109.1L504.1,109.4" stroke-width="2.875"/>
<path d="M474.0,107.8 L498.1,109.1" stroke-width="5.75"/>
<path d="M493.2,109.2L498.1,109.4M555.9,115.8L560.8,116.6" stroke-width="1.74562"/>
<path d="M498.1,109.4C500.8,109.5 508.9,109.7 514.2,110.2C519.6,110.7 524.9,111.9 530.2,112.6C535.6,113.3 542.0,113.7 546.3,114.2C550.6,114.7 554.3,115.5 555.9,115.8" stroke-width="3.49125"/>
<path d="M486.1,119.4L490.1,119.4M506.1,119.4L510.1,119.4" stroke-width="1.49625"/>
<path d="M490.1,119.4 L506.1,119.4" stroke-width="2.9925"/>
<path d="M460.7,141.5L466,141.5M543.1,135.1L548.4,134.4" stroke-width="1.995"/>
<path d="M466.0,141.5C468.7,141.5 476.8,141.8 482.1,141.5C487.5,141.2 492.8,140.4 498.1,139.9C503.5,139.4 508.9,138.8 514.2,138.3C519.6,137.8 525.4,137.2 530.2,136.7C535.0,136.2 541.0,135.4 543.1,135.1" stroke-width="3.99"/>
<path d="M534.8,134.6L543.1,135.1M576,143.1L583.6,146.6" stroke-width="4.1625"/>
<path d="M543.1,135.1C545.2,135.2 552.1,135.4 555.9,135.9C559.6,136.4 562.2,137.1 565.6,138.3C569.0,139.5 574.3,142.3 576.0,143.1" stroke-width="8.325"/>
<path d="M603.7,112.7L608.7,113.4M628,118.3L632.6,120.2" stroke-width="4.1625"/>
<path d="M608.7,113.4C610.6,113.7 616.8,114.2 620.0,115.0C623.2,115.8 626.7,117.8 628.0,118.3" stroke-width="8.325"/>
<path d="M626.3,112.8L631.2,112.6M685,111.8L689.9,111.8" stroke-width="1.74562"/>
<path d="M631.2,112.6C635.2,112.5 646.3,111.9 655.3,111.8C664.3,111.7 680.0,111.8 685.0,111.8" stroke-width="3.49125"/>
<path d="M631.1,122.5L636,122.3M685,120.7L689.9,120.6" stroke-width="1.74562"/>
<path d="M636.0,122.3C639.2,122.2 647.1,121.8 655.3,121.5C663.5,121.2 680.0,120.8 685.0,120.7" stroke-width="3.49125"/>
<path d="M570,141.6L575,139.9M671.4,146.4L676.7,146.9" stroke-width="1.995"/>
<path d="M575.0,139.9C577.7,139.0 585.8,135.0 591.1,134.3C596.5,133.6 601.8,135.0 607.1,135.9C612.5,136.8 617.9,138.7 623.2,139.9C628.6,141.1 633.9,142.3 639.2,143.1C644.6,143.9 649.9,144.2 655.3,144.8C660.7,145.4 668.7,146.1 671.4,146.4" stroke-width="3.99"/>
<path d="M573,143.9L575,144M583,144.4L585,144.5" stroke-width="3.8"/>
<path d="M575.0,144.0 L583.0,144.4" stroke-width="7.6"/>
<path d="M609.9,139.8L615.1,140.3M636,142.3L641.2,142.8" stroke-width="3.4375"/>
<path d="M615.1,140.3 L636.0,142.3" stroke-width="6.875"/>
<path d="M242,166.1L246,165.8M262.1,164.6L266.1,164.3" stroke-width="3.2"/>
<path d="M246.0,165.8 L262.1,164.6" stroke-width="6.4"/>
<path d="M258.1,165.3L262.1,164.6M278.1,161.8L282.1,161.1" stroke-width="1.74562"/>
<path d="M262.1,164.6 L278.1,161.8" stroke-width="3.49125"/>
<path d="M281.2,169.1L286.1,169.1M315.1,161.8L320,161.1" stroke-width="1.74562"/>
<path d="M286.1,169.1C287.5,169.1 290.7,170.1 294.2,169.1C297.7,168.1 303.5,164.2 307.0,163.0C310.5,161.8 313.8,162.0 315.1,161.8" stroke-width="3.49125"/>
<path d="M318.2,176.1L323.1,175.5M356,173.9L360.9,174.2" stroke-width="1.74562"/>
<path d="M323.1,175.5C326.3,175.1 336.9,173.4 342.4,173.1C347.9,172.8 353.7,173.8 356.0,173.9" stroke-width="3.49125"/>
<path d="M314.3,185.1L318.3,185.1M334.3,185.1L338.3,185.1" stroke-width="2.875"/>
<path d="M318.3,185.1 L334.3,185.1" stroke-width="5.75"/>
<path d="M331.3,189.7L335.9,189.9M356,190.7L360.6,190.9" stroke-width="1.49625"/>
<path d="M335.9,189.9 L356.0,190.7" stroke-width="2.9925"/>
<path d="M241.1,180.8L246,180.3M274.9,178.7L279.8,178.7" stroke-width="1.74562"/>
<path d="M246.0,180.3C248.7,180.0 257.3,179.0 262.1,178.7C266.9,178.4 272.8,178.7 274.9,178.7" stroke-width="3.49125"/>
<path d="M257.3,187.7L262.1,186.7M287.8,181.1L292.6,179.9" stroke-width="1.74562"/>
<path d="M262.1,186.7C264.8,186.2 273.8,184.4 278.1,183.5C282.4,182.6 286.2,181.5 287.8,181.1" stroke-width="3.49125"/>
<path d="M274.1,198.3L278.1,198.3M294.2,198.3L298.2,198.3" stroke-width="2.875"/>
<path d="M278.1,198.3 L294.2,198.3" stroke-width="5.75"/>
<path d="M368.1,166.2L372.1,165.8M388.1,164.2L392.1,163.8" stroke-width="1.995"/>
<path d="M372.1,165.8 L388.1,164.2" stroke-width="3.99"/>
<path d="M382.9,164.3L388.1,163.9M409,162.3L414.2,161.9" stroke-width="3.2"/>
<path d="M388.1,163.9 L409.0,162.3" stroke-width="6.4"/>
<path d="M407,162.2L409,162M417,161L419,160.8" stroke-width="1.49625"/>
<path d="M409.0,162.0 L417.0,161.0" stroke-width="2.9925"/>
<path d="M415.4,166.3L420.2,167.5M439.5,173.6L444,175.6" stroke-width="1.74562"/>
<path d="M420.2,167.5C422.4,168.0 429.9,169.7 433.1,170.7C436.3,171.7 438.4,173.1 439.5,173.6" stroke-width="3.49125"/>
<path d="M435.5,173.4L439.5,173.9M455.6,175.8L459.6,176.3" stroke-width="4.1625"/>
<path d="M439.5,173.9 L455.6,175.8" stroke-width="8.325"/>
<path d="M453,175.7L455.6,176.3M466,178.7L468.6,179.3" stroke-width="2.875"/>
<path d="M455.6,176.3 L466.0,178.7" stroke-width="5.75"/>
<path d="M399.6,181.5L404.2,181.9M423.4,183.5L428,183.9" stroke-width="1.49625"/>
<path d="M404.2,181.9 L423.4,183.5" stroke-width="2.9925"/>
<path d="M352.8,185.2L356,185.1M368.8,184.8L372,184.7" stroke-width="1.995"/>
<path d="M356.0,185.1 L368.8,184.8" stroke-width="3.99"/>
<path d="M364,185.5L368.8,185.6M388.1,185.9L392.9,186" stroke-width="3.2"/>
<path d="M368.8,185.6 L388.1,185.9" stroke-width="6.4"/>
<path d="M459.5,155.5L466,155.4M522.2,156.2L528.7,156.6" stroke-width="2.875"/>
<path d="M466.0,155.4C471.4,155.3 488.7,154.8 498.1,154.9C507.5,155.0 518.2,156.0 522.2,156.2" stroke-width="5.75"/>
<path d="M515,179.3L519,179M535.1,177.9L539.1,177.6" stroke-width="2.875"/>
<path d="M519.0,179.0 L535.1,177.9" stroke-width="5.75"/>
<path d="M548.9,167.3L554.3,167.5M576,168.3L581.4,168.5" stroke-width="2.875"/>
<path d="M554.3,167.5 L576.0,168.3" stroke-width="5.75"/>
<path d="M460.7,186.4L466,186.7M514.2,186.7L519.5,187.2" stroke-width="1.995"/>
<path d="M466.0,186.7C468.7,186.8 476.8,187.8 482.1,187.5C487.5,187.2 492.8,185.2 498.1,185.1C503.5,185.0 511.5,186.4 514.2,186.7" stroke-width="3.99"/>
<path d="M551.3,175.5L555.9,175.5M576,175.5L580.6,175.5" stroke-width="1.49625"/>
<path d="M555.9,175.5 L576.0,175.5" stroke-width="2.9925"/>
<path d="M508.9,197.2L514.2,197.2M554.3,197.2L559.6,197.2" stroke-width="1.995"/>
<path d="M514.2,197.2 L554.3,197.2" stroke-width="3.99"/>
<path d="M640.8,156.9L647.3,156.5M674.6,155.9L681.1,156.2" stroke-width="2.875"/>
<path d="M647.3,156.5C650.0,156.3 658.8,155.5 663.3,155.4C667.8,155.3 672.7,155.8 674.6,155.9" stroke-width="5.75"/>
<path d="M672,156.1L674.6,156.2M685,156.5L687.6,156.6" stroke-width="3.8"/>
<path d="M674.6,156.2 L685.0,156.5" stroke-width="7.6"/>
<path d="M568.2,166.1L575,167.5M623.2,177.1L630.1,177.8" stroke-width="3.2"/>
<path d="M575.0,167.5C577.7,168.0 585.8,169.4 591.1,170.7C596.5,172.0 601.8,174.4 607.1,175.5C612.5,176.6 620.5,176.8 623.2,177.1" stroke-width="6.4"/>
<path d="M600.7,175.6L603.9,175.8M616.8,176.8L620,177.1" stroke-width="3.4375"/>
<path d="M603.9,175.8 L616.8,176.8" stroke-width="6.875"/>
<path d="M617.9,178.4L623.2,178.7M685,182.7L690.3,183.1" stroke-width="1.995"/>
<path d="M623.2,178.7C625.9,178.8 632.5,179.1 639.2,179.5C645.9,179.9 655.7,180.6 663.3,181.1C670.9,181.6 681.4,182.4 685.0,182.7" stroke-width="3.99"/>
<path d="M643.3,180.1L647.3,180.3M663.3,181.1L667.3,181.3" stroke-width="2.55"/>
<path d="M647.3,180.3 L663.3,181.1" stroke-width="5.1"/>
<path d="M569.7,186.2L575,186.7M607.1,191.5L612.3,192.5" stroke-width="1.995"/>
<path d="M575.0,186.7C577.7,187.0 585.8,187.5 591.1,188.3C596.5,189.1 604.4,191.0 607.1,191.5" stroke-width="3.99"/>
<path d="M585,188.1L587.8,188.3M599.1,189.1L601.9,189.3" stroke-width="2.875"/>
<path d="M587.8,188.3 L599.1,189.1" stroke-width="5.75"/>
<path d="M634.3,196.4L639.2,196.4M685,196.4L689.9,196.4" stroke-width="1.74562"/>
<path d="M639.2,196.4 L685.0,196.4" stroke-width="3.49125"/>
<path d="M281.5,205.4L286.1,205.4M310.2,205.4L314.8,205.4" stroke-width="1.49625"/>
<path d="M286.1,205.4 L310.2,205.4" stroke-width="2.9925"/>
<path d="M256.8,213.2L262.1,213.4M286.1,214.2L291.4,214.4" stroke-width="1.995"/>
<path d="M262.1,213.4 L286.1,214.2" stroke-width="3.99"/>
<path d="M267.3,214.1L270.1,214.2M281.3,214.6L284.1,214.7" stroke-width="2.55"/>
<path d="M270.1,214.2 L281.3,214.6" stroke-width="5.1"/>
<path d="M288.9,226.7L294.2,227.1M356,230.3L361.3,230.3" stroke-width="1.995"/>
<path d="M294.2,227.1C297.4,227.4 306.7,228.2 313.4,228.7C320.1,229.2 327.2,230.0 334.3,230.3C341.4,230.6 352.4,230.3 356.0,230.3" stroke-width="3.99"/>
<path d="M309.4,232.2L313.4,232.2M329.5,232.2L333.5,232.2" stroke-width="3.2"/>
<path d="M313.4,232.2 L329.5,232.2" stroke-width="6.4"/>
<path d="M339,238.7L342.4,238.7M356,238.7L359.4,238.7" stroke-width="2.875"/>
<path d="M342.4,238.7 L356.0,238.7" stroke-width="5.75"/>
<path d="M244,228.7L246,228.7M254,228.7L256,228.7" stroke-width="1.995"/>
<path d="M246.0,228.7 L254.0,228.7" stroke-width="3.99"/>
<path d="M240.7,243.4L246,243.1M294.2,239.9L299.5,239.4" stroke-width="1.995"/>
<path d="M246.0,243.1C248.7,243.0 256.8,242.6 262.1,242.3C267.5,242.0 272.8,241.9 278.1,241.5C283.5,241.1 291.5,240.2 294.2,239.9" stroke-width="3.99"/>
<path d="M256.1,242.9L262.1,242.7M286.1,241.9L292.1,241.7" stroke-width="2.875"/>
<path d="M262.1,242.7 L286.1,241.9" stroke-width="5.75"/>
<path d="M240,250.4L246,250.4M286.1,250.4L292.1,250.4" stroke-width="2.49375"/>
<path d="M246.0,250.4 L286.1,250.4" stroke-width="4.9875"/>
<path d="M351.4,214.4L356,214.2M420.2,209.7L424.8,209.4" stroke-width="1.49625"/>
<path d="M356.0,214.2C358.7,214.1 365.4,213.9 372.1,213.4C378.8,212.9 388.1,212.0 396.1,211.4C404.1,210.8 416.2,210.0 420.2,209.7" stroke-width="2.9925"/>
<path d="M434.6,222.9L439.5,222.3M466,219.1L470.9,218.5" stroke-width="1.74562"/>
<path d="M439.5,222.3C441.6,222.0 448.0,221.2 452.4,220.7C456.8,220.2 463.7,219.4 466.0,219.1" stroke-width="3.49125"/>
<path d="M350,230.6L356,230.3M404.2,231.1L410.2,231.4" stroke-width="2.49375"/>
<path d="M356.0,230.3C358.7,230.2 366.8,229.5 372.1,229.5C377.5,229.5 382.8,230.0 388.1,230.3C393.5,230.6 401.5,231.0 404.2,231.1" stroke-width="4.9875"/>
<path d="M397,231L404.2,231.3M433.1,232.7L440.3,233.1" stroke-width="4.1625"/>
<path d="M404.2,231.3C406.9,231.4 415.4,231.7 420.2,231.9C425.0,232.1 431.0,232.6 433.1,232.7" stroke-width="8.325"/>
<path d="M366.1,237.5L372.1,237.5M396.1,237.5L402.1,237.5" stroke-width="2.875"/>
<path d="M372.1,237.5 L396.1,237.5" stroke-width="5.75"/>
<path d="M500.9,219.7L506.1,220.7M554.3,224.7L559.6,224.4" stroke-width="1.995"/>
<path d="M506.1,220.7C508.8,221.2 516.8,223.1 522.2,223.9C527.6,224.7 532.9,225.4 538.3,225.5C543.6,225.6 551.6,224.8 554.3,224.7" stroke-width="3.99"/>
<path d="M559,226.7L562.4,227.1M576,228.7L579.4,229.1" stroke-width="1.74562"/>
<path d="M562.4,227.1 L576.0,228.7" stroke-width="3.49125"/>
<path d="M460.4,231.1L466,231.9M525.4,239.6L531,239.9" stroke-width="2.24438"/>
<path d="M466.0,231.9C468.7,232.3 476.8,233.5 482.1,234.3C487.5,235.1 492.8,235.9 498.1,236.7C503.5,237.5 509.7,238.6 514.2,239.1C518.8,239.6 523.5,239.5 525.4,239.6" stroke-width="4.48875"/>
<path d="M517.1,239.1L525.4,239.6M562.4,239.9L570.7,240.1" stroke-width="4.1625"/>
<path d="M525.4,239.6C527.5,239.7 534.3,240.3 538.3,240.3C542.3,240.3 545.5,239.7 549.5,239.6C553.5,239.5 560.2,239.8 562.4,239.9" stroke-width="8.325"/>
<path d="M461.1,245L466,244.8M514.2,246.4L519.1,246.6" stroke-width="1.74562"/>
<path d="M466.0,244.8C468.7,244.7 476.8,243.9 482.1,244.0C487.5,244.1 492.8,245.2 498.1,245.6C503.5,246.0 511.5,246.3 514.2,246.4" stroke-width="3.49125"/>
<path d="M568.1,210.8L575,211.8M615.1,222.3L621.9,223.7" stroke-width="3.2"/>
<path d="M575.0,211.8C577.7,212.2 587.1,213.2 591.1,214.2C595.1,215.1 596.4,216.4 599.1,217.5C601.8,218.6 604.4,219.9 607.1,220.7C609.8,221.5 613.8,222.0 615.1,222.3" stroke-width="6.4"/>
<path d="M607.9,228.7L611.9,228.7M628,228.7L632,228.7" stroke-width="2.875"/>
<path d="M611.9,228.7 L628.0,228.7" stroke-width="5.75"/>
<path d="M631.1,222.9L636,223.1M685,224.7L689.9,224.8" stroke-width="1.74562"/>
<path d="M636.0,223.1C639.2,223.2 647.1,223.6 655.3,223.9C663.5,224.2 680.0,224.6 685.0,224.7" stroke-width="3.49125"/>
<path d="M569.8,245.1L575,245.1M595.9,244.4L601.1,244.1" stroke-width="3.8"/>
<path d="M575.0,245.1C576.6,245.1 581.1,245.2 584.6,245.1C588.1,245.0 594.0,244.5 595.9,244.4" stroke-width="7.6"/>
<path d="M589.5,245.6L595.9,244.1M623.2,240.7L629.7,240.4" stroke-width="2.875"/>
<path d="M595.9,244.1C597.8,243.7 602.5,242.1 607.1,241.5C611.7,240.9 620.5,240.8 623.2,240.7" stroke-width="5.75"/>
<path d="M631.1,236.4L636,236.7M685,239.6L689.9,239.9" stroke-width="1.74562"/>
<path d="M636.0,236.7C639.2,236.9 647.1,237.5 655.3,238.0C663.5,238.5 680.0,239.3 685.0,239.6" stroke-width="3.49125"/>
<path d="M640.3,246.1L647.3,246.4M685,247.2L692,247.2" stroke-width="3.2"/>
<path d="M647.3,246.4C650.0,246.5 657.0,247.1 663.3,247.2C669.6,247.3 681.4,247.2 685.0,247.2" stroke-width="6.4"/>
<path d="M282.1,254.6L286.1,254.6M302.2,254.6L306.2,254.6" stroke-width="1.49625"/>
<path d="M286.1,254.6 L302.2,254.6" stroke-width="2.9925"/>
<path d="M305.6,256.7L310.2,256.5M356,256.5L360.6,256.6" stroke-width="1.49625"/>
<path d="M310.2,256.5C312.9,256.4 318.7,255.7 326.3,255.7C333.9,255.7 351.1,256.4 356.0,256.5" stroke-width="2.9925"/>
<path d="M240,277.7L246,277.1M356,277.1L361.8,278.5" stroke-width="2.49375"/>
<path d="M246.0,277.1C248.7,276.8 256.8,276.2 262.1,275.5C267.5,274.8 272.8,273.5 278.1,272.6C283.5,271.7 288.9,270.8 294.2,270.2C299.5,269.6 304.8,269.3 310.2,269.1C315.6,268.9 320.9,268.3 326.3,269.1C331.7,269.9 337.4,272.6 342.4,273.9C347.3,275.2 353.7,276.6 356.0,277.1" stroke-width="4.9875"/>
<path d="M256.1,275.2L262.1,274.7M286.1,272.6L292.1,272.1" stroke-width="3.2"/>
<path d="M262.1,274.7 L286.1,272.6" stroke-width="6.4"/>
<path d="M330.3,276L334.3,276.3M350.4,277.4L354.4,277.7" stroke-width="3.2"/>
<path d="M334.3,276.3 L350.4,277.4" stroke-width="6.4"/>
<path d="M241.2,293.5L246,292.8M265.3,289.6L270.1,288.7" stroke-width="4.525"/>
<path d="M246.0,292.8C247.6,292.6 252.4,292.0 255.6,291.5C258.8,291.0 263.7,289.9 265.3,289.6" stroke-width="9.05"/>
<path d="M260.1,290.4L265.3,289.6M286.1,286.4L291.3,285.6" stroke-width="3.525"/>
<path d="M265.3,289.6 L286.1,286.4" stroke-width="7.05"/>
<path d="M280.8,286.5L286.1,286.1M310.2,284.3L315.5,283.9" stroke-width="1.995"/>
<path d="M286.1,286.1 L310.2,284.3" stroke-width="3.99"/>
<path d="M329,300.4L334.3,300.4M356,300.4L361.3,300.4" stroke-width="1.995"/>
<path d="M334.3,300.4 L356.0,300.4" stroke-width="3.99"/>
<path d="M268.4,302L273.3,302M294.2,302L299.1,302" stroke-width="1.74562"/>
<path d="M273.3,302.0 L294.2,302.0" stroke-width="3.49125"/>
<path d="M350,264.2L356,264.2M466,264.2L472,263.5" stroke-width="2.49375"/>
<path d="M356.0,264.2C358.7,264.2 366.8,264.5 372.1,264.2C377.5,263.9 382.8,263.2 388.1,262.6C393.5,262.0 398.9,260.5 404.2,260.5C409.5,260.5 414.8,261.3 420.2,262.6C425.6,263.9 430.9,267.8 436.3,268.3C441.7,268.8 447.4,266.5 452.4,265.8C457.3,265.1 463.7,264.5 466.0,264.2" stroke-width="4.9875"/>
<path d="M360,264.3L364,264.2M380.1,263.9L384.1,263.8" stroke-width="3.2"/>
<path d="M364.0,264.2 L380.1,263.9" stroke-width="6.4"/>
<path d="M421.1,268.2L425.1,268.3M441.1,268.7L445.1,268.8" stroke-width="3.2"/>
<path d="M425.1,268.3 L441.1,268.7" stroke-width="6.4"/>
<path d="M350,276.8L356,277.1M420.2,273.9L426.2,273.3" stroke-width="2.49375"/>
<path d="M356.0,277.1C358.7,277.2 366.8,277.9 372.1,277.9C377.5,277.9 382.8,277.5 388.1,277.1C393.5,276.7 398.9,276.0 404.2,275.5C409.5,275.0 417.5,274.2 420.2,273.9" stroke-width="4.9875"/>
<path d="M374.1,277.8L380.1,277.4M404.2,275.8L410.2,275.4" stroke-width="2.875"/>
<path d="M380.1,277.4 L404.2,275.8" stroke-width="5.75"/>
<path d="M439,291.9L444.3,291.5M466,289.9L471.3,289.5" stroke-width="1.995"/>
<path d="M444.3,291.5 L466.0,289.9" stroke-width="3.99"/>
<path d="M528.1,259.4L533.4,259.4M555.9,259.4L561.2,259.4" stroke-width="1.995"/>
<path d="M533.4,259.4 L555.9,259.4" stroke-width="3.99"/>
<path d="M460.7,269.1L466,269.1M576,267.5L581.3,267.2" stroke-width="1.995"/>
<path d="M466.0,269.1C468.7,269.1 476.8,268.8 482.1,269.1C487.5,269.4 492.8,270.4 498.1,270.7C503.5,271.0 508.9,271.0 514.2,270.7C519.6,270.4 524.9,269.5 530.2,269.1C535.6,268.7 540.9,268.4 546.3,268.3C551.7,268.2 557.4,268.4 562.4,268.3C567.4,268.2 573.7,267.6 576.0,267.5" stroke-width="3.99"/>
<path d="M462.8,269.1L466,269.1M478.8,269.1L482,269.1" stroke-width="3.2"/>
<path d="M466.0,269.1 L478.8,269.1" stroke-width="6.4"/>
<path d="M542.3,268.3L546.3,268.3M562.4,268.3L566.4,268.3" stroke-width="2.875"/>
<path d="M546.3,268.3 L562.4,268.3" stroke-width="5.75"/>
<path d="M509.3,282.4L514.2,282.7M538.3,284.3L543.2,284.6" stroke-width="1.74562"/>
<path d="M514.2,282.7 L538.3,284.3" stroke-width="3.49125"/>
<path d="M460.4,289.3L466,289.9M576,293.1L581.6,293.4" stroke-width="2.24438"/>
<path d="M466.0,289.9C468.7,290.2 476.8,291.0 482.1,291.5C487.5,292.0 492.8,293.1 498.1,293.1C503.5,293.1 508.9,291.6 514.2,291.5C519.6,291.4 524.9,292.3 530.2,292.3C535.6,292.3 538.7,291.4 546.3,291.5C553.9,291.6 571.0,292.8 576.0,293.1" stroke-width="4.48875"/>
<path d="M478.1,292.7L482.1,292.8M498.1,293.1L502.1,293.2" stroke-width="3.2"/>
<path d="M482.1,292.8 L498.1,293.1" stroke-width="6.4"/>
<path d="M597,255.4L602.3,255.4M639.2,255.4L644.5,255.4" stroke-width="1.995"/>
<path d="M602.3,255.4 L639.2,255.4" stroke-width="3.99"/>
<path d="M609.1,255L615.1,255.2M639.2,255.9L645.2,256.1" stroke-width="2.875"/>
<path d="M615.1,255.2 L639.2,255.9" stroke-width="5.75"/>
<path d="M632.3,257.4L639.2,258.6M685,267.8L691.8,269.4" stroke-width="3.2"/>
<path d="M639.2,258.6C641.9,259.1 649.9,260.4 655.3,261.4C660.7,262.4 666.4,263.5 671.4,264.6C676.4,265.7 682.7,267.3 685.0,267.8" stroke-width="6.4"/>
<path d="M585.8,282.2L591.1,281.9M663.3,278.7L668.5,279.7" stroke-width="1.995"/>
<path d="M591.1,281.9C593.8,281.8 601.8,282.1 607.1,281.1C612.5,280.1 617.9,277.0 623.2,275.8C628.6,274.6 633.9,274.0 639.2,274.2C644.6,274.4 651.3,276.4 655.3,277.1C659.3,277.9 662.0,278.4 663.3,278.7" stroke-width="3.99"/>
<path d="M571,284.9L575,285.1M591.1,285.9L595.1,286.1" stroke-width="1.995"/>
<path d="M575.0,285.1 L591.1,285.9" stroke-width="3.99"/>
<path d="M601.9,294.2L607.1,295.1M639.2,299.9L644.5,300.5" stroke-width="1.995"/>
<path d="M607.1,295.1C609.8,295.6 617.9,297.2 623.2,298.0C628.6,298.8 636.5,299.6 639.2,299.9" stroke-width="3.99"/>
<path d="M619.2,298.6L623.2,298.9M639.2,299.9L643.2,300.1" stroke-width="2.875"/>
<path d="M623.2,298.9 L639.2,299.9" stroke-width="5.75"/>
<path d="M657.9,290.6L663.3,291.5M685,295.1L690.4,296" stroke-width="3.2"/>
<path d="M663.3,291.5 L685.0,295.1" stroke-width="6.4"/>
<path d="M570.2,296.4L575,296.4M594.3,296.4L599.1,296.4" stroke-width="2.49375"/>
<path d="M575.0,296.4 L594.3,296.4" stroke-width="4.9875"/>
<path d="M265.2,304.6L270.1,304.6M302.2,304.6L307.1,304.6" stroke-width="1.74562"/>
<path d="M270.1,304.6 L302.2,304.6" stroke-width="3.49125"/>
<path d="M240.7,309.7L246,309.4M294.2,312.6L299.4,313.4" stroke-width="1.995"/>
<path d="M246.0,309.4C248.7,309.3 256.8,308.5 262.1,308.6C267.5,308.7 272.8,309.5 278.1,310.2C283.5,310.9 291.5,312.2 294.2,312.6" stroke-width="3.99"/>
<path d="M242.8,320.9L246,320.7M258.8,319.9L262,319.7" stroke-width="3.8"/>
<path d="M246.0,320.7 L258.8,319.9" stroke-width="7.6"/>
<path d="M254.8,320L258.8,319.5M274.9,317.5L278.9,317" stroke-width="3.2"/>
<path d="M258.8,319.5 L274.9,317.5" stroke-width="6.4"/>
<path d="M240,337L246,336.7M356,331.1L362,330.7" stroke-width="2.49375"/>
<path d="M246.0,336.7C248.7,336.6 256.8,336.3 262.1,335.9C267.5,335.5 272.8,334.9 278.1,334.3C283.5,333.7 288.9,332.6 294.2,332.2C299.5,331.8 304.8,331.7 310.2,331.9C315.6,332.1 320.9,333.5 326.3,333.5C331.7,333.5 337.4,332.3 342.4,331.9C347.3,331.5 353.7,331.2 356.0,331.1" stroke-width="4.9875"/>
<path d="M279.1,332.3L286.1,332.2M318.3,331.9L325.3,331.8" stroke-width="3.2"/>
<path d="M286.1,332.2 L318.3,331.9" stroke-width="6.4"/>
<path d="M331.9,331.3L335.9,331.3M352,331.3L356,331.3" stroke-width="3.2"/>
<path d="M335.9,331.3 L352.0,331.3" stroke-width="6.4"/>
<path d="M244,349.6L246,349.6M254,349.6L256,349.6" stroke-width="2.49375"/>
<path d="M246.0,349.6 L254.0,349.6" stroke-width="4.9875"/>
<path d="M339,350.2L342.4,350.4M356,351.2L359.4,351.4" stroke-width="2.49375"/>
<path d="M342.4,350.4 L356.0,351.2" stroke-width="4.9875"/>
<path d="M403.7,306.8L409,307M433.1,307.8L438.4,308" stroke-width="1.995"/>
<path d="M409.0,307.0 L433.1,307.8" stroke-width="3.99"/>
<path d="M413,307.7L417,307.8M433.1,308.1L437.1,308.2" stroke-width="2.875"/>
<path d="M417.0,307.8 L433.1,308.1" stroke-width="5.75"/>
<path d="M429.3,309.1L436.3,309.4M466,309.4L473,309" stroke-width="3.2"/>
<path d="M436.3,309.4C439.0,309.5 447.4,310.2 452.4,310.2C457.3,310.2 463.7,309.5 466.0,309.4" stroke-width="6.4"/>
<path d="M351.1,319.3L356,319.1M388.1,320.7L393,321.4" stroke-width="1.74562"/>
<path d="M356.0,319.1C358.7,319.0 366.8,318.0 372.1,318.3C377.5,318.6 385.4,320.3 388.1,320.7" stroke-width="3.49125"/>
<path d="M382.8,324.3L388.1,323.9M466,323.9L471.3,324.2" stroke-width="1.995"/>
<path d="M388.1,323.9C390.8,323.7 398.9,323.1 404.2,322.6C409.5,322.1 414.8,321.1 420.2,321.0C425.6,320.9 428.7,321.8 436.3,322.3C443.9,322.8 461.1,323.6 466.0,323.9" stroke-width="3.99"/>
<path d="M432.3,322.2L436.3,322.3M452.4,322.6L456.4,322.7" stroke-width="2.875"/>
<path d="M436.3,322.3 L452.4,322.6" stroke-width="5.75"/>
<path d="M367.2,330.1L372.1,330.3M412.2,331.9L417.1,332.1" stroke-width="1.74562"/>
<path d="M372.1,330.3 L412.2,331.9" stroke-width="3.49125"/>
<path d="M354,341.5L356,341.5M364,341.5L366,341.5" stroke-width="1.995"/>
<path d="M356.0,341.5 L364.0,341.5" stroke-width="3.99"/>
<path d="M425.5,351.2L428.3,351.2M439.5,351.2L442.3,351.2" stroke-width="3.2"/>
<path d="M428.3,351.2 L439.5,351.2" stroke-width="6.4"/>
<path d="M414.2,352L420.2,352M444.3,352L450.3,352" stroke-width="2.9925"/>
<path d="M420.2,352.0 L444.3,352.0" stroke-width="5.985"/>
<path d="M449,347.6L452.4,348M466,349.6L469.4,350" stroke-width="2.9925"/>
<path d="M452.4,348.0 L466.0,349.6" stroke-width="5.985"/>
<path d="M462,310.6L466,311M482.1,312.6L486.1,313" stroke-width="2.49375"/>
<path d="M466.0,311.0 L482.1,312.6" stroke-width="4.9875"/>
<path d="M466.8,310L469.2,310.2M478.8,311L481.2,311.2" stroke-width="2.875"/>
<path d="M469.2,310.2 L478.8,311.0" stroke-width="5.75"/>
<path d="M494.9,314.8L501.3,316.2M527,321L533.5,322" stroke-width="3.2"/>
<path d="M501.3,316.2C503.5,316.7 509.9,318.3 514.2,319.1C518.5,319.9 524.9,320.7 527.0,321.0" stroke-width="6.4"/>
<path d="M528.1,322.7L533.4,323.1M576,317.8L581.2,316.6" stroke-width="1.995"/>
<path d="M533.4,323.1C535.5,323.3 541.5,324.6 546.3,324.2C551.1,323.8 557.4,322.1 562.4,321.0C567.4,319.9 573.7,318.3 576.0,317.8" stroke-width="3.99"/>
<path d="M559,315L562.4,315M576,315L579.4,315" stroke-width="1.74562"/>
<path d="M562.4,315.0 L576.0,315.0" stroke-width="3.49125"/>
<path d="M460.8,326.7L466,327.1M486.9,328.7L492.1,329.1" stroke-width="2.49375"/>
<path d="M466.0,327.1 L486.9,328.7" stroke-width="4.9875"/>
<path d="M476,328.5L478.8,328.7M490.1,329.5L492.9,329.7" stroke-width="2.875"/>
<path d="M478.8,328.7 L490.1,329.5" stroke-width="5.75"/>
<path d="M484.9,337.5L490.1,338.3M511,341.5L516.2,342.3" stroke-width="2.49375"/>
<path d="M490.1,338.3 L511.0,341.5" stroke-width="4.9875"/>
<path d="M489.7,338.5L493.3,339.1M507.8,341.5L511.4,342.1" stroke-width="2.875"/>
<path d="M493.3,339.1 L507.8,341.5" stroke-width="5.75"/>
<path d="M462.8,346L466,346.4M478.8,348L482,348.4" stroke-width="2.49375"/>
<path d="M466.0,346.4 L478.8,348.0" stroke-width="4.9875"/>
<path d="M528.1,345.1L533.4,344.8M562.4,343.1L567.7,342.8" stroke-width="1.995"/>
<path d="M533.4,344.8 L562.4,343.1" stroke-width="3.99"/>
<path d="M625.9,305.4L631.2,305.4M685,305.4L690.3,305.4" stroke-width="1.995"/>
<path d="M631.2,305.4 L685.0,305.4" stroke-width="3.99"/>
<path d="M569,319.7L575,319.1M620,313L625.9,311.7" stroke-width="2.49375"/>
<path d="M575.0,319.1C577.7,318.8 585.8,318.1 591.1,317.5C596.5,316.9 602.3,316.6 607.1,315.8C611.9,315.1 617.9,313.5 620.0,313.0" stroke-width="4.9875"/>
<path d="M572.6,319.1L575,319.1M584.6,319.1L587,319.1" stroke-width="3.2"/>
<path d="M575.0,319.1 L584.6,319.1" stroke-width="6.4"/>
<path d="M593.1,317.7L595.9,317.5M607.1,316.7L609.9,316.5" stroke-width="2.875"/>
<path d="M595.9,317.5 L607.1,316.7" stroke-width="5.75"/>
<path d="M595.1,309.7L599.1,309.4M615.1,308.1L619.1,307.8" stroke-width="1.74562"/>
<path d="M599.1,309.4 L615.1,308.1" stroke-width="3.49125"/>
<path d="M609.8,326L615.1,325.5M663.3,323.9L668.6,324.2" stroke-width="1.995"/>
<path d="M615.1,325.5C617.8,325.2 625.8,324.3 631.2,323.9C636.6,323.5 641.9,323.1 647.3,323.1C652.6,323.1 660.6,323.8 663.3,323.9" stroke-width="3.99"/>
<path d="M654.5,335.9L658.5,335.9M674.6,335.9L678.6,335.9" stroke-width="1.995"/>
<path d="M658.5,335.9 L674.6,335.9" stroke-width="3.99"/>
<path d="M569.1,340.3L575,341.5M636,344.8L642,344.8" stroke-width="2.49375"/>
<path d="M575.0,341.5C577.7,342.1 585.8,344.1 591.1,344.8C596.5,345.5 601.8,345.6 607.1,345.6C612.5,345.6 618.4,344.9 623.2,344.8C628.0,344.7 633.9,344.8 636.0,344.8" stroke-width="4.9875"/>
<path d="M585,345L587.8,345.1M599.1,345.7L601.9,345.8" stroke-width="3.2"/>
<path d="M587.8,345.1 L599.1,345.7" stroke-width="6.4"/>
</g>
<g stroke="#ff8400">
<path d="M242.7,62.5L246,62.4M259.1,61.1L262.3,60.4" stroke-width="2.025"/>
<path d="M246.0,62.4C247.3,62.4 251.7,62.4 253.9,62.2C256.1,62.0 258.2,61.3 259.1,61.1" stroke-width="4.05"/>
<path d="M240.7,73.6L246,73.3M267,69.8L272.2,68.5" stroke-width="2.925"/>
<path d="M246.0,73.3C247.3,73.2 251.5,73.2 253.9,72.9C256.3,72.6 258.2,71.9 260.4,71.4C262.6,70.9 265.9,70.1 267.0,69.8" stroke-width="5.85"/>
<path d="M261.7,70.7L267,69.8M301,65.5L306.3,65.1" stroke-width="2.025"/>
<path d="M267.0,69.8C269.0,69.5 275.1,68.3 278.8,67.7C282.5,67.1 285.6,66.8 289.3,66.4C293.0,66.0 299.1,65.7 301.0,65.5" stroke-width="4.05"/>
<path d="M240.7,83.4L246,83.2M301,81.2L306.3,80.7" stroke-width="2.025"/>
<path d="M246.0,83.2C247.3,83.2 251.5,83.1 253.9,82.9C256.3,82.7 257.3,82.4 260.4,81.9C263.4,81.5 268.9,80.5 272.2,80.2C275.5,79.9 277.9,79.8 280.1,79.9C282.3,80.0 283.2,80.3 285.4,80.6C287.6,80.9 290.6,81.8 293.2,81.9C295.8,82.0 299.7,81.3 301.0,81.2" stroke-width="4.05"/>
<path d="M266.3,80.8L268.3,80.6M276.2,79.9L278.2,79.7" stroke-width="1.95"/>
<path d="M268.3,80.6 L276.2,79.9" stroke-width="3.9"/>
<path d="M253.1,93.3L259.1,93M298.5,93L304.5,92.5" stroke-width="2.53125"/>
<path d="M259.1,93.0C261.3,92.9 268.7,92.4 272.2,92.4C275.7,92.4 277.2,92.8 280.1,93.0C283.0,93.2 286.2,93.7 289.3,93.7C292.4,93.7 297.0,93.1 298.5,93.0" stroke-width="5.0625"/>
<path d="M282.3,93.9L284.1,93.9M291.3,93.9L293.1,93.9" stroke-width="1.95"/>
<path d="M284.1,93.9 L291.3,93.9" stroke-width="3.9"/>
<path d="M295.7,68.2L301,67.4M336.4,61.5L341.7,60.8" stroke-width="2.025"/>
<path d="M301.0,67.4C303.2,67.1 309.7,66.3 314.1,65.5C318.5,64.7 323.5,63.5 327.2,62.8C330.9,62.1 334.9,61.7 336.4,61.5" stroke-width="4.05"/>
<path d="M296.1,77.8L301,77.3M320.7,75L325.6,74.3" stroke-width="2.025"/>
<path d="M301.0,77.3C302.5,77.2 306.9,76.8 310.2,76.4C313.5,76.0 318.9,75.2 320.7,75.0" stroke-width="4.05"/>
<path d="M329.2,83.8L333.8,83.8M353.5,83.8L358.1,83.8" stroke-width="1.51875"/>
<path d="M333.8,83.8 L353.5,83.8" stroke-width="3.0375"/>
<path d="M328.9,93.7L333.8,93.7M353.5,93.7L358.4,93.7" stroke-width="2.025"/>
<path d="M333.8,93.7 L353.5,93.7" stroke-width="4.05"/>
<path d="M299.7,96L301,96.3M306.2,97.6L307.5,97.9" stroke-width="2.025"/>
<path d="M301.0,96.3 L306.2,97.6" stroke-width="4.05"/>
<path d="M350.7,63.9L356,63.4M466,60.2L471.3,60.2" stroke-width="2.025"/>
<path d="M356.0,63.4C358.7,63.1 366.8,62.2 372.1,61.8C377.5,61.4 383.3,61.3 388.1,61.0C392.9,60.7 395.6,60.2 401.0,60.2C406.4,60.2 413.0,61.0 420.2,61.0C427.4,61.0 436.7,60.3 444.3,60.2C451.9,60.1 462.4,60.2 466.0,60.2" stroke-width="4.05"/>
<path d="M350.3,73.3L356,73.1M412.2,72.3L417.9,72.6" stroke-width="2.27813"/>
<path d="M356.0,73.1C358.7,73.0 366.8,72.7 372.1,72.6C377.5,72.5 382.8,72.4 388.1,72.3C393.5,72.2 400.2,71.9 404.2,71.9C408.2,71.9 410.9,72.2 412.2,72.3" stroke-width="4.55625"/>
<path d="M405.6,72.3L412.2,72.3M439.5,73.4L446.1,73.9" stroke-width="2.925"/>
<path d="M412.2,72.3C414.4,72.3 420.6,72.1 425.1,72.3C429.7,72.5 437.1,73.2 439.5,73.4" stroke-width="5.85"/>
<path d="M437.1,73.4L439.5,73.4M449.1,73.6L451.5,73.6" stroke-width="2.27813"/>
<path d="M439.5,73.4 L449.1,73.6" stroke-width="4.55625"/>
<path d="M444.9,73.8L449.1,73.9M466,74.2L470.2,74.3" stroke-width="2.6"/>
<path d="M449.1,73.9 L466.0,74.2" stroke-width="5.2"/>
<path d="M366,84.9L368.8,85.1M380.1,85.9L382.9,86.1" stroke-width="1.77188"/>
<path d="M368.8,85.1 L380.1,85.9" stroke-width="3.54375"/>
<path d="M398.5,83.5L404.2,83.5M445.9,85.1L451.6,85.1" stroke-width="2.27813"/>
<path d="M404.2,83.5C406.9,83.5 414.8,83.2 420.2,83.5C425.6,83.8 432.0,84.8 436.3,85.1C440.6,85.4 444.3,85.1 445.9,85.1" stroke-width="4.55625"/>
<path d="M417,83.5L420.2,83.8M433.1,84.8L436.3,85" stroke-width="1.95"/>
<path d="M420.2,83.8 L433.1,84.8" stroke-width="3.9"/>
<path d="M449,83.9L452.4,83.5M466,81.9L469.4,81.5" stroke-width="2.025"/>
<path d="M452.4,83.5 L466.0,81.9" stroke-width="4.05"/>
<path d="M453,83L455.6,82.7M466,81.6L468.6,81.3" stroke-width="1.95"/>
<path d="M455.6,82.7 L466.0,81.6" stroke-width="3.9"/>
<path d="M357.2,93.1L360.8,93.1M375.3,93.1L378.9,93.1" stroke-width="2.025"/>
<path d="M360.8,93.1 L375.3,93.1" stroke-width="4.05"/>
<path d="M403.3,95.9L409,96M466,93.1L471.7,92.7" stroke-width="2.27813"/>
<path d="M409.0,96.0C412.2,96.1 422.4,96.6 428.3,96.4C434.2,96.2 438.0,95.3 444.3,94.8C450.6,94.2 462.4,93.4 466.0,93.1" stroke-width="4.55625"/>
<path d="M444.9,94.6L449.1,94.3M466,93.1L470.2,92.8" stroke-width="1.95"/>
<path d="M449.1,94.3 L466.0,93.1" stroke-width="3.9"/>
<path d="M503.3,55.4L506.1,55.4M517.4,55.4L520.2,55.4" stroke-width="1.51875"/>
<path d="M506.1,55.4 L517.4,55.4" stroke-width="3.0375"/>
<path d="M538.7,59.4L541.5,59.4M552.7,59.4L555.5,59.4" stroke-width="2.27813"/>
<path d="M541.5,59.4 L552.7,59.4" stroke-width="4.55625"/>
<path d="M460.3,60.4L466,61M507.8,65L513.5,65.4" stroke-width="2.27813"/>
<path d="M466.0,61.0C468.7,61.3 477.3,62.1 482.1,62.6C486.9,63.1 490.6,63.8 494.9,64.2C499.2,64.6 505.6,64.9 507.8,65.0" stroke-width="4.55625"/>
<path d="M466.8,61.5L470.8,61.8M486.9,63.1L490.9,63.4" stroke-width="2.6"/>
<path d="M470.8,61.8 L486.9,63.1" stroke-width="5.2"/>
<path d="M510.6,63.8L515.8,65M549.5,74.7L554.5,76.6" stroke-width="2.025"/>
<path d="M515.8,65.0C518.2,65.5 525.7,67.1 530.2,68.3C534.8,69.5 539.9,71.2 543.1,72.3C546.3,73.4 548.4,74.3 549.5,74.7" stroke-width="4.05"/>
<path d="M460.7,73.6L466,73.9M514.2,76.8L519.5,77.2" stroke-width="2.025"/>
<path d="M466.0,73.9C468.7,74.0 476.8,74.4 482.1,74.7C487.5,75.0 492.8,75.2 498.1,75.5C503.5,75.8 511.5,76.6 514.2,76.8" stroke-width="4.05"/>
<path d="M459,82L466,82.7M554.3,96.4L561.3,97.2" stroke-width="3.25"/>
<path d="M466.0,82.7C468.7,83.0 476.8,83.6 482.1,84.3C487.5,85.0 492.8,85.9 498.1,86.7C503.5,87.5 508.9,88.0 514.2,89.1C519.6,90.2 525.4,92.1 530.2,93.1C535.0,94.1 539.1,94.5 543.1,95.1C547.1,95.6 552.4,96.2 554.3,96.4" stroke-width="6.5"/>
<path d="M460.7,95.6L466,96.4M514.2,102.9L519.5,103.5" stroke-width="2.025"/>
<path d="M466.0,96.4C468.7,96.8 476.8,98.0 482.1,98.8C487.5,99.6 492.8,100.5 498.1,101.2C503.5,101.9 511.5,102.6 514.2,102.9" stroke-width="4.05"/>
<path d="M460.8,95.6L466,96.4M493.3,100.5L498.5,101.3" stroke-width="1.95"/>
<path d="M466.0,96.4C468.7,96.8 477.6,98.1 482.1,98.8C486.7,99.5 491.4,100.2 493.3,100.5" stroke-width="3.9"/>
<path d="M545.4,71.1L551.1,70.7M576,69.9L581.7,69.9" stroke-width="2.27813"/>
<path d="M551.1,70.7C553.0,70.6 558.2,70.0 562.4,69.9C566.5,69.8 573.7,69.9 576.0,69.9" stroke-width="4.55625"/>
<path d="M556.7,93.1L559.1,93.1M568.8,93.1L571.2,93.1" stroke-width="2.025"/>
<path d="M559.1,93.1 L568.8,93.1" stroke-width="4.05"/>
<path d="M587.9,53.8L591.1,53.8M603.9,53.8L607.1,53.8" stroke-width="1.51875"/>
<path d="M591.1,53.8 L603.9,53.8" stroke-width="3.0375"/>
<path d="M599.9,65L602.3,65M611.9,65L614.3,65" stroke-width="1.77188"/>
<path d="M602.3,65.0 L611.9,65.0" stroke-width="3.54375"/>
<path d="M569,69L575,69.9M610.3,85.9L616,87.8" stroke-width="2.53125"/>
<path d="M575.0,69.9C576.9,70.2 583.0,70.4 586.2,71.5C589.4,72.6 591.9,74.4 594.3,76.3C596.7,78.2 598.0,81.1 600.7,82.7C603.4,84.3 608.7,85.4 610.3,85.9" stroke-width="5.0625"/>
<path d="M611.1,86.7L615.1,86.7M631.2,86.7L635.2,86.7" stroke-width="2.27813"/>
<path d="M615.1,86.7 L631.2,86.7" stroke-width="4.55625"/>
<path d="M657.9,87.5L663.3,87.5M685,87.5L690.4,87.5" stroke-width="2.27813"/>
<path d="M663.3,87.5 L685.0,87.5" stroke-width="4.55625"/>
<path d="M600.7,98.4L603.9,98.8M616.8,100.4L620,100.8" stroke-width="1.51875"/>
<path d="M603.9,98.8 L616.8,100.4" stroke-width="3.0375"/>
<path d="M240,111.9L246,111M318.3,110.2L324.2,111.4" stroke-width="2.53125"/>
<path d="M246.0,111.0C248.7,110.6 256.8,109.3 262.1,108.6C267.5,107.9 272.8,107.3 278.1,107.0C283.5,106.7 288.9,106.7 294.2,107.0C299.5,107.3 306.2,108.1 310.2,108.6C314.2,109.1 316.9,109.9 318.3,110.2" stroke-width="5.0625"/>
<path d="M248,110.8L250.8,110.5M262.1,109.1L264.9,108.8" stroke-width="2.275"/>
<path d="M250.8,110.5 L262.1,109.1" stroke-width="4.55"/>
<path d="M268.5,107.6L271.7,107.5M284.5,107L287.7,106.9" stroke-width="1.95"/>
<path d="M271.7,107.5 L284.5,107.0" stroke-width="3.9"/>
<path d="M321.3,108.7L326.3,108.6M356,107.8L361,107.7" stroke-width="1.77188"/>
<path d="M326.3,108.6 L356.0,107.8" stroke-width="3.54375"/>
<path d="M270.1,119.9L273.3,119.9M286.1,119.9L289.3,119.9" stroke-width="1.77188"/>
<path d="M273.3,119.9 L286.1,119.9" stroke-width="3.54375"/>
<path d="M310.7,122L316.7,122.3M356,122.3L362,122.1" stroke-width="2.53125"/>
<path d="M316.7,122.3C319.6,122.4 327.8,123.1 334.3,123.1C340.9,123.1 352.4,122.4 356.0,122.3" stroke-width="5.0625"/>
<path d="M317,122.9L323.1,122.8M356,122.4L362.1,122.3" stroke-width="2.6"/>
<path d="M323.1,122.8 L356.0,122.4" stroke-width="5.2"/>
<path d="M256,125.5L258.8,125.5M270.1,125.5L272.9,125.5" stroke-width="1.77188"/>
<path d="M258.8,125.5 L270.1,125.5" stroke-width="3.54375"/>
<path d="M272.9,129.9L278.1,130.3M299,129.5L304.2,128.8" stroke-width="2.53125"/>
<path d="M278.1,130.3C279.7,130.4 284.3,131.2 287.8,131.1C291.3,131.0 297.1,129.8 299.0,129.5" stroke-width="5.0625"/>
<path d="M280.5,131.8L282.9,131.6M292.6,130.9L295,130.7" stroke-width="2.275"/>
<path d="M282.9,131.6 L292.6,130.9" stroke-width="4.55"/>
<path d="M295,134.1L299,135.1M315.1,139.1L319.1,140.1" stroke-width="2.025"/>
<path d="M299.0,135.1 L315.1,139.1" stroke-width="4.05"/>
<path d="M240.8,142.5L246,141.5M278.1,139.1L283.3,140.1" stroke-width="2.025"/>
<path d="M246.0,141.5C248.1,141.1 254.8,139.8 258.8,139.1C262.8,138.4 266.9,137.5 270.1,137.5C273.3,137.5 276.8,138.8 278.1,139.1" stroke-width="4.05"/>
<path d="M296.5,145.2L302.2,145.6M339.1,148.8L344.8,149.2" stroke-width="2.27813"/>
<path d="M302.2,145.6C304.1,145.7 309.4,146.0 313.4,146.4C317.4,146.8 322.0,147.6 326.3,148.0C330.6,148.4 337.0,148.7 339.1,148.8" stroke-width="4.55625"/>
<path d="M304.2,145.8L307,146M318.3,146.7L321.1,146.9" stroke-width="2.275"/>
<path d="M307.0,146.0 L318.3,146.7" stroke-width="4.55"/>
<path d="M254,149.6L258.8,149.6M278.1,149.6L282.9,149.6" stroke-width="1.77188"/>
<path d="M258.8,149.6 L278.1,149.6" stroke-width="3.54375"/>
<path d="M352.8,106.2L356,106.2M368.8,106.2L372,106.2" stroke-width="2.025"/>
<path d="M356.0,106.2 L368.8,106.2" stroke-width="4.05"/>
<path d="M394.6,106.2L397.8,106.2M410.6,106.2L413.8,106.2" stroke-width="1.77188"/>
<path d="M397.8,106.2 L410.6,106.2" stroke-width="3.54375"/>
<path d="M350,122.4L356,121.5M409,114.6L414.8,113.1" stroke-width="2.53125"/>
<path d="M356.0,121.5C358.7,121.1 366.8,119.8 372.1,119.1C377.5,118.4 383.3,117.9 388.1,117.5C392.9,117.1 397.5,117.2 401.0,116.7C404.5,116.2 407.7,114.9 409.0,114.6" stroke-width="5.0625"/>
<path d="M350,122.3L356,121.5M380.1,118.3L386.1,117.5" stroke-width="2.6"/>
<path d="M356.0,121.5C357.6,121.3 361.6,120.8 365.6,120.3C369.6,119.8 377.7,118.6 380.1,118.3" stroke-width="5.2"/>
<path d="M418.1,115.4L423.4,115.8M466,118.7L471.3,119" stroke-width="2.025"/>
<path d="M423.4,115.8C426.9,116.1 437.2,117.0 444.3,117.5C451.4,118.0 462.4,118.5 466.0,118.7" stroke-width="4.05"/>
<path d="M406.2,123.3L412.2,123.9M466,129.5L472,130.2" stroke-width="2.53125"/>
<path d="M412.2,123.9C414.9,124.2 422.9,125.0 428.3,125.5C433.7,126.0 438.0,126.4 444.3,127.1C450.6,127.8 462.4,129.1 466.0,129.5" stroke-width="5.0625"/>
<path d="M406.2,123.3L412.2,123.9M436.3,126.4L442.3,127.1" stroke-width="2.6"/>
<path d="M412.2,123.9C414.9,124.2 424.3,125.1 428.3,125.5C432.3,125.9 435.0,126.2 436.3,126.4" stroke-width="5.2"/>
<path d="M350.7,135.9L356,135.1M404.2,130.3L409.5,130" stroke-width="2.025"/>
<path d="M356.0,135.1C358.7,134.7 366.8,133.4 372.1,132.7C377.5,132.0 382.8,131.5 388.1,131.1C393.5,130.7 401.5,130.4 404.2,130.3" stroke-width="4.05"/>
<path d="M431,140.7L436.3,140.7M458.8,140.7L464.1,140.7" stroke-width="2.025"/>
<path d="M436.3,140.7 L458.8,140.7" stroke-width="4.05"/>
<path d="M350,147.3L356,146.4M436.3,152L442.1,153.7" stroke-width="2.53125"/>
<path d="M356.0,146.4C358.7,146.0 366.8,144.7 372.1,144.0C377.5,143.3 382.8,142.6 388.1,142.3C393.5,142.0 399.4,141.8 404.2,142.3C409.0,142.9 413.0,144.4 417.0,145.6C421.0,146.8 425.1,148.5 428.3,149.6C431.5,150.7 435.0,151.6 436.3,152.0" stroke-width="5.0625"/>
<path d="M395,142.2L397.8,142.3M409,142.5L411.8,142.6" stroke-width="2.6"/>
<path d="M397.8,142.3 L409.0,142.5" stroke-width="5.2"/>
<path d="M413.4,144.9L417,146M431.5,150.4L435.1,151.5" stroke-width="2.6"/>
<path d="M417.0,146.0 L431.5,150.4" stroke-width="5.2"/>
<path d="M468.7,103.8L474,103.8M554.3,109.4L559.5,110.4" stroke-width="2.025"/>
<path d="M474.0,103.8C478.0,103.8 490.1,103.7 498.1,103.8C506.1,103.9 515.5,104.2 522.2,104.6C528.9,105.0 532.9,105.4 538.3,106.2C543.6,107.0 551.6,108.9 554.3,109.4" stroke-width="4.05"/>
<path d="M518.2,104.6L522.2,104.9M538.3,106.2L542.3,106.5" stroke-width="2.275"/>
<path d="M522.2,104.9 L538.3,106.2" stroke-width="4.55"/>
<path d="M460,112.3L466,112.6M576,119.9L582,120.3" stroke-width="2.53125"/>
<path d="M466.0,112.6C468.7,112.7 476.8,113.1 482.1,113.4C487.5,113.7 492.8,113.8 498.1,114.2C503.5,114.6 508.9,115.2 514.2,115.8C519.6,116.3 524.9,117.0 530.2,117.5C535.6,118.0 540.9,118.8 546.3,119.1C551.7,119.4 557.4,119.0 562.4,119.1C567.4,119.2 573.7,119.8 576.0,119.9" stroke-width="5.0625"/>
<path d="M464,123.1L466,123.1M474,123.1L476,123.1" stroke-width="1.51875"/>
<path d="M466.0,123.1 L474.0,123.1" stroke-width="3.0375"/>
<path d="M511.4,124.8L517.4,125.5M576,126.3L582,125.6" stroke-width="2.53125"/>
<path d="M517.4,125.5C519.5,125.8 525.4,126.6 530.2,127.1C535.0,127.6 540.9,128.6 546.3,128.7C551.7,128.8 557.4,128.3 562.4,127.9C567.4,127.5 573.7,126.6 576.0,126.3" stroke-width="5.0625"/>
<path d="M546.3,128.5L549.5,128.4M562.4,127.9L565.6,127.8" stroke-width="2.275"/>
<path d="M549.5,128.4 L562.4,127.9" stroke-width="4.55"/>
<path d="M460,132.1L466,132.7M527,131.9L533,131.5" stroke-width="2.53125"/>
<path d="M466.0,132.7C468.7,133.0 476.8,134.2 482.1,134.3C487.5,134.4 492.8,133.8 498.1,133.5C503.5,133.2 509.4,133.0 514.2,132.7C519.0,132.4 524.9,132.0 527.0,131.9" stroke-width="5.0625"/>
<path d="M490.9,134L494.9,133.8M511,133.2L515,133" stroke-width="2.275"/>
<path d="M494.9,133.8 L511.0,133.2" stroke-width="4.55"/>
<path d="M463.9,149L469.2,148.8M546.3,144L551.6,143.5" stroke-width="2.025"/>
<path d="M469.2,148.8C472.7,148.7 484.0,148.3 490.1,148.0C496.2,147.7 499.4,147.6 506.1,147.2C512.8,146.8 523.5,146.1 530.2,145.6C536.9,145.1 543.6,144.3 546.3,144.0" stroke-width="4.05"/>
<path d="M559,151.2L562.4,151.2M576,151.2L579.4,151.2" stroke-width="2.025"/>
<path d="M562.4,151.2 L576.0,151.2" stroke-width="4.05"/>
<path d="M565,151.7L567.2,151.7M576,151.7L578.2,151.7" stroke-width="2.275"/>
<path d="M567.2,151.7 L576.0,151.7" stroke-width="4.55"/>
<path d="M601.4,106L607.1,106.2M685,106.2L690.7,106" stroke-width="2.27813"/>
<path d="M607.1,106.2C611.1,106.3 623.2,106.9 631.2,107.0C639.2,107.1 646.3,107.1 655.3,107.0C664.3,106.9 680.0,106.3 685.0,106.2" stroke-width="4.55625"/>
<path d="M633.5,106.5L639.2,106.5M685,106.5L690.7,106.5" stroke-width="2.275"/>
<path d="M639.2,106.5 L685.0,106.5" stroke-width="4.55"/>
<path d="M633.5,116.7L639.2,116.7M685,115.8L690.7,115.4" stroke-width="2.27813"/>
<path d="M639.2,116.7C641.9,116.7 649.9,116.7 655.3,116.7C660.7,116.7 666.4,116.9 671.4,116.7C676.4,116.5 682.7,116.0 685.0,115.8" stroke-width="4.55625"/>
<path d="M641.6,116.7L647.3,116.7M671.4,116.7L677.1,116.7" stroke-width="2.275"/>
<path d="M647.3,116.7 L671.4,116.7" stroke-width="4.55"/>
<path d="M567,123.9L575,122.3M607.1,120.3L615.2,120.9" stroke-width="4.05"/>
<path d="M575.0,122.3C577.7,121.8 585.8,119.4 591.1,119.1C596.5,118.8 604.4,120.1 607.1,120.3" stroke-width="8.1"/>
<path d="M601.2,118.4L607.1,119.9M634.4,126.3L640.3,127.6" stroke-width="2.53125"/>
<path d="M607.1,119.9C609.2,120.4 615.5,122.0 620.0,123.1C624.5,124.2 632.0,125.8 634.4,126.3" stroke-width="5.0625"/>
<path d="M600.7,118.9L607.1,120.3M632.8,125.8L639.2,127.2" stroke-width="2.925"/>
<path d="M607.1,120.3C609.2,120.8 615.7,122.2 620.0,123.1C624.3,124.0 630.7,125.3 632.8,125.8" stroke-width="5.85"/>
<path d="M663.9,127.5L668.1,127.1M685,125.5L689.2,125.1" stroke-width="1.77188"/>
<path d="M668.1,127.1 L685.0,125.5" stroke-width="3.54375"/>
<path d="M624.6,132.2L631.2,133.5M685,143.1L691.5,145" stroke-width="3.0375"/>
<path d="M631.2,133.5C633.9,134.0 641.9,135.9 647.3,136.7C652.6,137.5 657.9,137.5 663.3,138.3C668.6,139.1 675.8,140.7 679.4,141.5C683.0,142.3 684.1,142.8 685.0,143.1" stroke-width="6.075"/>
<path d="M630.4,134.5L636,135.1M658.5,137.5L664.1,138.1" stroke-width="2.6"/>
<path d="M636.0,135.1 L658.5,137.5" stroke-width="5.2"/>
<path d="M575.8,135.9L579.8,136.7M595.9,139.9L599.9,140.7" stroke-width="1.77188"/>
<path d="M579.8,136.7 L595.9,139.9" stroke-width="3.54375"/>
<path d="M614,149.6L618.4,149.6M636,149.6L640.4,149.6" stroke-width="2.025"/>
<path d="M618.4,149.6 L636.0,149.6" stroke-width="4.05"/>
<path d="M570,152L575,152M603.9,152L608.9,152" stroke-width="1.77188"/>
<path d="M575.0,152.0 L603.9,152.0" stroke-width="3.54375"/>
<path d="M310.7,157L316.7,157.8M356,161L362,161.2" stroke-width="2.53125"/>
<path d="M316.7,157.8C319.6,158.2 327.8,159.7 334.3,160.2C340.9,160.7 352.4,160.9 356.0,161.0" stroke-width="5.0625"/>
<path d="M334.9,160.9L339.1,161M356,161.4L360.2,161.5" stroke-width="1.95"/>
<path d="M339.1,161.0 L356.0,161.4" stroke-width="3.9"/>
<path d="M240,174.8L246,173.9M274.9,169.1L280.8,168" stroke-width="2.53125"/>
<path d="M246.0,173.9C248.7,173.5 257.3,172.3 262.1,171.5C266.9,170.7 272.8,169.5 274.9,169.1" stroke-width="5.0625"/>
<path d="M240,190.8L246,191.5M307,188.3L313,188.3" stroke-width="2.53125"/>
<path d="M246.0,191.5C248.7,191.8 256.8,193.6 262.1,193.5C267.5,193.4 272.8,191.6 278.1,190.7C283.5,189.8 289.4,188.7 294.2,188.3C299.0,187.9 304.9,188.3 307.0,188.3" stroke-width="5.0625"/>
<path d="M284.1,189.5L286.1,189.3M294.2,188.7L296.2,188.5" stroke-width="1.95"/>
<path d="M286.1,189.3 L294.2,188.7" stroke-width="3.9"/>
<path d="M293,198.4L299,198M345.6,199.6L351.6,200.4" stroke-width="2.53125"/>
<path d="M299.0,198.0C302.2,197.8 312.4,196.7 318.3,196.7C324.2,196.7 329.8,197.5 334.3,198.0C338.9,198.5 343.7,199.3 345.6,199.6" stroke-width="5.0625"/>
<path d="M349.7,160.3L356,159.4M466,161.8L472.4,162.5" stroke-width="2.78438"/>
<path d="M356.0,159.4C358.7,159.0 366.8,157.7 372.1,157.0C377.5,156.3 382.8,155.8 388.1,155.4C393.5,155.0 398.9,154.6 404.2,154.6C409.5,154.6 414.8,154.9 420.2,155.4C425.6,155.9 430.9,157.0 436.3,157.8C441.7,158.6 447.4,159.5 452.4,160.2C457.3,160.9 463.7,161.5 466.0,161.8" stroke-width="5.56875"/>
<path d="M379.3,155.8L384.9,155.6M407.4,154.6L413,154.3" stroke-width="2.6"/>
<path d="M384.9,155.6 L407.4,154.6" stroke-width="5.2"/>
<path d="M433.9,157.9L439.5,158.6M466,161.8L471.6,162.5" stroke-width="2.275"/>
<path d="M439.5,158.6 L466.0,161.8" stroke-width="4.55"/>
<path d="M430.3,166.3L436.3,166.7M466,169.4L472,170.1" stroke-width="2.53125"/>
<path d="M436.3,166.7C439.0,166.9 447.4,167.4 452.4,167.8C457.3,168.2 463.7,169.1 466.0,169.4" stroke-width="5.0625"/>
<path d="M382.5,178.7L384.9,178.7M394.5,178.7L396.9,178.7" stroke-width="1.77188"/>
<path d="M384.9,178.7 L394.5,178.7" stroke-width="3.54375"/>
<path d="M403,170.7L405.8,170.7M417,170.7L419.8,170.7" stroke-width="1.77188"/>
<path d="M405.8,170.7 L417.0,170.7" stroke-width="3.54375"/>
<path d="M430.7,187.5L433.1,187.5M442.7,187.5L445.1,187.5" stroke-width="2.025"/>
<path d="M433.1,187.5 L442.7,187.5" stroke-width="4.05"/>
<path d="M384.1,195.9L388.1,196M404.2,196.4L408.2,196.5" stroke-width="2.025"/>
<path d="M388.1,196.0 L404.2,196.4" stroke-width="4.05"/>
<path d="M522.2,156L527,156.2M546.3,157L551.1,157.2" stroke-width="2.53125"/>
<path d="M527.0,156.2 L546.3,157.0" stroke-width="5.0625"/>
<path d="M542.9,158.4L549.5,157.8M576,155.4L582.6,154.8" stroke-width="2.925"/>
<path d="M549.5,157.8 L576.0,155.4" stroke-width="5.85"/>
<path d="M458.6,168.3L466,167.5M576,157L583.3,155.7" stroke-width="3.54375"/>
<path d="M466.0,167.5C468.7,167.2 476.8,166.1 482.1,165.8C487.5,165.5 493.3,164.9 498.1,165.5C502.9,166.1 507.0,168.1 511.0,169.1C515.0,170.1 518.2,171.8 522.2,171.5C526.2,171.2 531.1,169.0 535.1,167.5C539.1,166.0 541.8,163.9 546.3,162.6C550.8,161.2 557.4,160.3 562.4,159.4C567.4,158.5 573.7,157.4 576.0,157.0" stroke-width="7.0875"/>
<path d="M466,168.3L470.8,167.8M490.1,165.8L494.9,165.3" stroke-width="2.275"/>
<path d="M470.8,167.8 L490.1,165.8" stroke-width="4.55"/>
<path d="M505.8,169.4L509.4,169.9M523.8,171.9L527.4,172.4" stroke-width="2.6"/>
<path d="M509.4,169.9 L523.8,171.9" stroke-width="5.2"/>
<path d="M529.9,180.3L535.1,180.3M555.9,180.3L561.1,180.3" stroke-width="2.27813"/>
<path d="M535.1,180.3 L555.9,180.3" stroke-width="4.55625"/>
<path d="M517.4,185.7L520.6,185.9M533.4,186.7L536.6,186.9" stroke-width="2.025"/>
<path d="M520.6,185.9 L533.4,186.7" stroke-width="4.05"/>
<path d="M559,195.6L562.4,195.6M576,195.6L579.4,195.6" stroke-width="2.025"/>
<path d="M562.4,195.6 L576.0,195.6" stroke-width="4.05"/>
<path d="M462.8,197.2L466,197.2M478.8,197.2L482,197.2" stroke-width="1.51875"/>
<path d="M466.0,197.2 L478.8,197.2" stroke-width="3.0375"/>
<path d="M481.3,198L485.3,198M501.3,198L505.3,198" stroke-width="1.51875"/>
<path d="M485.3,198.0 L501.3,198.0" stroke-width="3.0375"/>
<path d="M567,154.6L575,156.2M685,173.9L693.1,174.7" stroke-width="4.05"/>
<path d="M575.0,156.2C577.7,156.7 585.8,158.1 591.1,159.4C596.5,160.7 601.8,163.1 607.1,164.2C612.5,165.3 617.9,165.0 623.2,165.8C628.6,166.6 633.9,168.2 639.2,169.1C644.6,170.0 649.9,170.9 655.3,171.5C660.7,172.1 666.4,172.2 671.4,172.6C676.4,173.0 682.7,173.7 685.0,173.9" stroke-width="8.1"/>
<path d="M571.8,155.8L575,156.5M587.8,159.4L591,160.1" stroke-width="2.6"/>
<path d="M575.0,156.5 L587.8,159.4" stroke-width="5.2"/>
<path d="M600.7,164.4L603.9,164.6M616.8,165.5L620,165.7" stroke-width="2.275"/>
<path d="M603.9,164.6 L616.8,165.5" stroke-width="4.55"/>
<path d="M636,169.9L639.2,170.3M652.1,171.9L655.3,172.3" stroke-width="2.6"/>
<path d="M639.2,170.3 L652.1,171.9" stroke-width="5.2"/>
<path d="M672,175.1L674.6,175.2M685,175.5L687.6,175.6" stroke-width="2.275"/>
<path d="M674.6,175.2 L685.0,175.5" stroke-width="4.55"/>
<path d="M585.9,177.4L591.1,178.7M613.5,183.5L618.8,184.2" stroke-width="2.025"/>
<path d="M591.1,178.7C593.8,179.4 603.4,181.9 607.1,182.7C610.8,183.5 612.4,183.4 613.5,183.5" stroke-width="4.05"/>
<path d="M617.3,191.5L620,189.9M631.2,184.3L634.3,183.5" stroke-width="1.51875"/>
<path d="M620.0,189.9C621.3,189.1 626.1,186.0 628.0,185.1C629.9,184.2 630.7,184.4 631.2,184.3" stroke-width="3.0375"/>
<path d="M638.1,187L644.1,187.5M685,190.7L691,191.1" stroke-width="2.53125"/>
<path d="M644.1,187.5C647.3,187.8 656.5,188.6 663.3,189.1C670.1,189.6 681.4,190.4 685.0,190.7" stroke-width="5.0625"/>
<path d="M568.4,191.7L575,193.1M607.1,199.6L613.7,200.9" stroke-width="3.0375"/>
<path d="M575.0,193.1C577.7,193.7 585.8,195.3 591.1,196.4C596.5,197.5 604.4,199.1 607.1,199.6" stroke-width="6.075"/>
<path d="M579.8,195.2L583,195.6M595.9,197.2L599.1,197.6" stroke-width="2.6"/>
<path d="M583.0,195.6 L595.9,197.2" stroke-width="5.2"/>
<path d="M626.6,202L631.2,202M655.3,202L659.9,202" stroke-width="1.51875"/>
<path d="M631.2,202.0 L655.3,202.0" stroke-width="3.0375"/>
<path d="M310.2,204.9L313.4,204.9M326.3,204.9L329.5,204.9" stroke-width="1.77188"/>
<path d="M313.4,204.9 L326.3,204.9" stroke-width="3.54375"/>
<path d="M339,206.5L342.4,206.5M356,206.5L359.4,206.5" stroke-width="1.77188"/>
<path d="M342.4,206.5 L356.0,206.5" stroke-width="3.54375"/>
<path d="M283.3,217.1L286.1,217.1M297.4,217.1L300.2,217.1" stroke-width="1.77188"/>
<path d="M286.1,217.1 L297.4,217.1" stroke-width="3.54375"/>
<path d="M313,212.8L318.3,213M342.4,213.9L347.7,214.1" stroke-width="2.025"/>
<path d="M318.3,213.0 L342.4,213.9" stroke-width="4.05"/>
<path d="M272.9,235.1L274.9,235.1M282.9,235.1L284.9,235.1" stroke-width="1.51875"/>
<path d="M274.9,235.1 L282.9,235.1" stroke-width="3.0375"/>
<path d="M304.2,247.7L310.2,248M356,247.2L362,246.8" stroke-width="2.53125"/>
<path d="M310.2,248.0C312.9,248.1 320.9,248.8 326.3,248.8C331.7,248.8 337.4,248.3 342.4,248.0C347.3,247.7 353.7,247.3 356.0,247.2" stroke-width="5.0625"/>
<path d="M318.3,248.9L323.1,248.8M342.4,248.4L347.2,248.3" stroke-width="2.6"/>
<path d="M323.1,248.8 L342.4,248.4" stroke-width="5.2"/>
<path d="M350.7,207.8L356,207.8M388.1,207.8L393.4,207.8" stroke-width="2.025"/>
<path d="M356.0,207.8 L388.1,207.8" stroke-width="4.05"/>
<path d="M441.3,208L445.9,207.8M466,207L470.6,206.8" stroke-width="1.51875"/>
<path d="M445.9,207.8 L466.0,207.0" stroke-width="3.0375"/>
<path d="M349.3,221.4L356,220.7M436.3,223.1L443,224.1" stroke-width="3.0375"/>
<path d="M356.0,220.7C358.7,220.4 366.8,219.5 372.1,219.1C377.5,218.7 382.8,218.3 388.1,218.3C393.5,218.3 398.9,218.7 404.2,219.1C409.5,219.5 414.8,220.0 420.2,220.7C425.6,221.4 433.6,222.7 436.3,223.1" stroke-width="6.075"/>
<path d="M417,223.5L420.2,223.6M433.1,223.9L436.3,224" stroke-width="1.95"/>
<path d="M420.2,223.6 L433.1,223.9" stroke-width="3.9"/>
<path d="M349.3,247.1L356,246.4M420.2,247.2L426.9,248.1" stroke-width="3.0375"/>
<path d="M356.0,246.4C358.7,246.1 366.8,245.3 372.1,244.8C377.5,244.3 382.8,243.4 388.1,243.5C393.5,243.6 398.9,244.5 404.2,245.1C409.5,245.7 417.5,246.8 420.2,247.2" stroke-width="6.075"/>
<path d="M400.6,246.7L404.2,247.2M418.6,249.3L422.2,249.8" stroke-width="2.275"/>
<path d="M404.2,247.2 L418.6,249.3" stroke-width="4.55"/>
<path d="M449,239.9L452.4,239.9M466,239.9L469.4,239.9" stroke-width="1.51875"/>
<path d="M452.4,239.9 L466.0,239.9" stroke-width="3.0375"/>
<path d="M510.2,207.8L514.2,207.8M530.2,207.8L534.2,207.8" stroke-width="1.77188"/>
<path d="M514.2,207.8 L530.2,207.8" stroke-width="3.54375"/>
<path d="M468.8,222.3L470.8,222.3M478.8,222.3L480.8,222.3" stroke-width="1.77188"/>
<path d="M470.8,222.3 L478.8,222.3" stroke-width="3.54375"/>
<path d="M494.1,228L498.1,228.4M514.2,230L518.2,230.4" stroke-width="2.025"/>
<path d="M498.1,228.4 L514.2,230.0" stroke-width="4.05"/>
<path d="M523.8,219.1L527,219.1M539.9,219.1L543.1,219.1" stroke-width="1.77188"/>
<path d="M527.0,219.1 L539.9,219.1" stroke-width="3.54375"/>
<path d="M511.8,236.7L514.2,236.7M523.8,236.7L526.2,236.7" stroke-width="1.77188"/>
<path d="M514.2,236.7 L523.8,236.7" stroke-width="3.54375"/>
<path d="M500.1,249.8L506.1,249.6M576,249.6L582,250" stroke-width="2.53125"/>
<path d="M506.1,249.6C510.1,249.5 522.2,249.1 530.2,248.8C538.2,248.5 546.7,247.9 554.3,248.0C561.9,248.1 572.4,249.3 576.0,249.6" stroke-width="5.0625"/>
<path d="M542.3,248.5L546.3,248.6M562.4,248.8L566.4,248.9" stroke-width="2.275"/>
<path d="M546.3,248.6 L562.4,248.8" stroke-width="4.55"/>
<path d="M585.4,206.5L591.1,206.2M631.2,206.2L636.9,206.4" stroke-width="2.27813"/>
<path d="M591.1,206.2C593.8,206.1 600.4,205.4 607.1,205.4C613.8,205.4 627.2,206.1 631.2,206.2" stroke-width="4.55625"/>
<path d="M569.6,218L575,219.1M595.9,225.5L600.5,228.6" stroke-width="2.53125"/>
<path d="M575.0,219.1C577.7,219.6 587.6,221.2 591.1,222.3C594.6,223.4 595.1,225.0 595.9,225.5" stroke-width="5.0625"/>
<path d="M571.8,219.5L575,219.9M587.8,221.5L591,221.9" stroke-width="2.275"/>
<path d="M575.0,219.9 L587.8,221.5" stroke-width="4.55"/>
<path d="M609.1,219.1L615.1,219.1M679.4,215.8L685.4,215.2" stroke-width="2.53125"/>
<path d="M615.1,219.1C617.0,219.1 621.0,219.2 626.4,219.1C631.8,219.0 641.1,218.6 647.3,218.3C653.4,218.0 657.9,217.9 663.3,217.5C668.6,217.1 676.7,216.1 679.4,215.8" stroke-width="5.0625"/>
<path d="M614.4,219.1L616.8,219.1M626.4,219.1L628.8,219.1" stroke-width="1.95"/>
<path d="M616.8,219.1 L626.4,219.1" stroke-width="3.9"/>
<path d="M569.1,237.9L575,236.7M615.1,231.9L621.1,232.9" stroke-width="2.53125"/>
<path d="M575.0,236.7C577.7,236.2 585.8,234.5 591.1,233.5C596.5,232.5 603.1,230.9 607.1,230.6C611.1,230.3 613.8,231.7 615.1,231.9" stroke-width="5.0625"/>
<path d="M630,230L636,230.3M685,233.5L691,233.9" stroke-width="2.53125"/>
<path d="M636.0,230.3C639.2,230.4 649.4,230.7 655.3,231.1C661.2,231.5 666.4,232.3 671.4,232.7C676.4,233.1 682.7,233.4 685.0,233.5" stroke-width="5.0625"/>
<path d="M614,236.5L618.4,236.7M636,237.5L640.4,237.7" stroke-width="2.025"/>
<path d="M618.4,236.7 L636.0,237.5" stroke-width="4.05"/>
<path d="M569,251.5L575,251.2M642.4,251.2L648.3,252.5" stroke-width="2.53125"/>
<path d="M575.0,251.2C577.7,251.1 584.4,250.9 591.1,250.4C597.8,249.9 608.4,248.6 615.1,248.3C621.8,248.0 626.7,248.3 631.2,248.8C635.8,249.3 640.5,250.8 642.4,251.2" stroke-width="5.0625"/>
<path d="M240.7,255.7L246,255.4M286.1,255.4L291.4,255.6" stroke-width="2.025"/>
<path d="M246.0,255.4C248.7,255.3 255.4,254.6 262.1,254.6C268.8,254.6 282.1,255.3 286.1,255.4" stroke-width="4.05"/>
<path d="M264.1,263.2L270.1,262.6M350.4,267.5L356.3,268.7" stroke-width="2.53125"/>
<path d="M270.1,262.6C272.8,262.3 280.8,261.4 286.1,261.0C291.5,260.6 296.8,260.1 302.2,260.2C307.6,260.3 312.9,261.1 318.3,261.8C323.7,262.5 329.0,263.2 334.3,264.2C339.6,265.1 347.7,266.9 350.4,267.5" stroke-width="5.0625"/>
<path d="M296.2,260.1L299,260.2M310.2,260.7L313,260.8" stroke-width="1.95"/>
<path d="M299.0,260.2 L310.2,260.7" stroke-width="3.9"/>
<path d="M244,272L246,271.9M254,271.5L256,271.4" stroke-width="2.025"/>
<path d="M246.0,271.9 L254.0,271.5" stroke-width="4.05"/>
<path d="M299.4,273.1L302.2,273.1M313.4,273.1L316.2,273.1" stroke-width="1.51875"/>
<path d="M302.2,273.1 L313.4,273.1" stroke-width="3.0375"/>
<path d="M240,284.1L246,283.5M294.2,277.1L300.2,276.5" stroke-width="2.53125"/>
<path d="M246.0,283.5C248.7,283.2 256.8,282.7 262.1,281.9C267.5,281.1 272.8,279.5 278.1,278.7C283.5,277.9 291.5,277.4 294.2,277.1" stroke-width="5.0625"/>
<path d="M239,301.1L246,300.4M274.9,295.6L281.7,293.9" stroke-width="3.25"/>
<path d="M246.0,300.4C248.7,300.1 257.3,299.6 262.1,298.8C266.9,298.0 272.8,296.1 274.9,295.6" stroke-width="6.5"/>
<path d="M268.3,296.9L274.9,295.6M356,293.1L362.7,293.9" stroke-width="3.0375"/>
<path d="M274.9,295.6C278.1,295.0 288.3,292.7 294.2,291.9C300.1,291.1 304.8,290.8 310.2,290.7C315.6,290.6 320.9,291.4 326.3,291.5C331.7,291.6 337.4,291.2 342.4,291.5C347.3,291.8 353.7,292.8 356.0,293.1" stroke-width="6.075"/>
<path d="M350,256.5L356,256.2M404.2,254.9L410.2,254.7" stroke-width="2.53125"/>
<path d="M356.0,256.2C358.7,256.1 366.8,255.5 372.1,255.4C377.5,255.3 382.8,255.5 388.1,255.4C393.5,255.3 401.5,255.0 404.2,254.9" stroke-width="5.0625"/>
<path d="M354,256.3L359.2,256.2M380.1,255.9L385.3,255.8" stroke-width="2.275"/>
<path d="M359.2,256.2 L380.1,255.9" stroke-width="4.55"/>
<path d="M423.3,257.8L428.3,257.8M466,257.8L471,257.8" stroke-width="1.77188"/>
<path d="M428.3,257.8 L466.0,257.8" stroke-width="3.54375"/>
<path d="M377.6,269.5L383.3,269.1M410.6,268.3L416.3,268.3" stroke-width="2.27813"/>
<path d="M383.3,269.1C385.4,269.0 391.6,268.4 396.1,268.3C400.7,268.2 408.2,268.3 410.6,268.3" stroke-width="4.55625"/>
<path d="M381.3,269.3L386.5,269.1M407.4,268.3L412.6,268.1" stroke-width="2.275"/>
<path d="M386.5,269.1 L407.4,268.3" stroke-width="4.55"/>
<path d="M439,275.5L444.3,275.5M466,275.5L471.3,275.5" stroke-width="2.025"/>
<path d="M444.3,275.5 L466.0,275.5" stroke-width="4.05"/>
<path d="M398.9,283.5L404.2,283.5M428.3,283.5L433.6,283.5" stroke-width="2.025"/>
<path d="M404.2,283.5 L428.3,283.5" stroke-width="4.05"/>
<path d="M350,286.3L356,286.7M384.9,289.9L390.9,290.8" stroke-width="2.53125"/>
<path d="M356.0,286.7C358.1,286.8 364.0,287.0 368.8,287.5C373.6,288.0 382.2,289.5 384.9,289.9" stroke-width="5.0625"/>
<path d="M358,286.8L360.8,287M372.1,288L374.9,288.2" stroke-width="2.275"/>
<path d="M360.8,287.0 L372.1,288.0" stroke-width="4.55"/>
<path d="M430.6,301.5L436.3,301.2M466,299.6L471.7,299.3" stroke-width="2.27813"/>
<path d="M436.3,301.2C439.0,301.1 447.4,300.7 452.4,300.4C457.3,300.1 463.7,299.7 466.0,299.6" stroke-width="4.55625"/>
<path d="M442.3,300.6L445.9,300.5M460.4,300.2L464,300.1" stroke-width="1.95"/>
<path d="M445.9,300.5 L460.4,300.2" stroke-width="3.9"/>
<path d="M468.3,257L474,257M498.1,257L503.8,257" stroke-width="2.27813"/>
<path d="M474.0,257.0 L498.1,257.0" stroke-width="4.55625"/>
<path d="M554.9,261L559.1,261M576,261L580.2,261" stroke-width="1.77188"/>
<path d="M559.1,261.0 L576.0,261.0" stroke-width="3.54375"/>
<path d="M508,263.4L512.6,263.4M533.4,263.4L538,263.4" stroke-width="1.51875"/>
<path d="M512.6,263.4 L533.4,263.4" stroke-width="3.0375"/>
<path d="M459.3,276.4L466,277.1M576,273.9L582.7,273.1" stroke-width="3.0375"/>
<path d="M466.0,277.1C468.7,277.4 476.8,278.2 482.1,278.7C487.5,279.2 492.8,280.6 498.1,280.3C503.5,280.0 508.9,277.8 514.2,277.1C519.6,276.4 524.9,276.3 530.2,276.3C535.6,276.3 540.9,277.2 546.3,277.1C551.7,277.0 557.4,276.0 562.4,275.5C567.4,275.0 573.7,274.2 576.0,273.9" stroke-width="6.075"/>
<path d="M494.9,280.4L498.1,280.3M511,280L514.2,279.9" stroke-width="2.275"/>
<path d="M498.1,280.3 L511.0,280.0" stroke-width="4.55"/>
<path d="M533.9,277.4L538.3,277.4M555.9,277.4L560.3,277.4" stroke-width="2.275"/>
<path d="M538.3,277.4 L555.9,277.4" stroke-width="4.55"/>
<path d="M550.3,286.5L554.3,286.7M570.4,287.5L574.4,287.7" stroke-width="2.025"/>
<path d="M554.3,286.7 L570.4,287.5" stroke-width="4.05"/>
<path d="M460,299.3L466,299.6M490.1,301.2L496.1,301.8" stroke-width="2.53125"/>
<path d="M466.0,299.6C468.7,299.7 478.1,300.1 482.1,300.4C486.1,300.7 488.8,301.1 490.1,301.2" stroke-width="5.0625"/>
<path d="M464.4,299.5L467.6,299.6M480.5,299.9L483.7,300" stroke-width="1.95"/>
<path d="M467.6,299.6 L480.5,299.9" stroke-width="3.9"/>
<path d="M577,254.9L581.4,254.9M599.1,254.9L603.5,254.9" stroke-width="2.025"/>
<path d="M581.4,254.9 L599.1,254.9" stroke-width="4.05"/>
<path d="M641.3,256.7L647.3,257M685,257.8L691,257.8" stroke-width="2.53125"/>
<path d="M647.3,257.0C650.0,257.1 657.0,257.7 663.3,257.8C669.6,257.9 681.4,257.8 685.0,257.8" stroke-width="5.0625"/>
<path d="M654,257.4L660.1,257.5M685,257.8L691.1,257.9" stroke-width="2.6"/>
<path d="M660.1,257.5 L685.0,257.8" stroke-width="5.2"/>
<path d="M605.2,260.3L611.9,261M677.8,273.9L684.4,275.5" stroke-width="3.0375"/>
<path d="M611.9,261.0C614.3,261.3 621.8,261.9 626.4,262.6C631.0,263.3 634.4,264.1 639.2,265.0C644.0,265.9 649.9,267.1 655.3,268.3C660.7,269.5 667.6,271.4 671.4,272.3C675.1,273.2 676.7,273.6 677.8,273.9" stroke-width="6.075"/>
<path d="M622,262.3L626.4,263M644.1,265.8L648.5,266.5" stroke-width="2.925"/>
<path d="M626.4,263.0 L644.1,265.8" stroke-width="5.85"/>
<path d="M577,264.2L581.4,264.2M599.1,264.2L603.5,264.2" stroke-width="2.025"/>
<path d="M581.4,264.2 L599.1,264.2" stroke-width="4.05"/>
<path d="M569,276.8L575,277.1M623.2,270.7L629.1,269.5" stroke-width="2.53125"/>
<path d="M575.0,277.1C577.7,277.2 585.8,278.4 591.1,277.9C596.5,277.4 601.8,275.1 607.1,273.9C612.5,272.7 620.5,271.2 623.2,270.7" stroke-width="5.0625"/>
<path d="M572.6,277.1L575,277.1M584.6,277.1L587,277.1" stroke-width="1.95"/>
<path d="M575.0,277.1 L584.6,277.1" stroke-width="3.9"/>
<path d="M614,286.5L620,287.5M663.3,298L668.9,300.2" stroke-width="2.53125"/>
<path d="M620.0,287.5C623.2,288.0 633.3,289.5 639.2,290.7C645.1,291.9 651.3,293.6 655.3,294.8C659.3,296.0 662.0,297.5 663.3,298.0" stroke-width="5.0625"/>
<path d="M623.2,288.9L628,289.6M647.3,292.3L652.1,293" stroke-width="2.6"/>
<path d="M628.0,289.6 L647.3,292.3" stroke-width="5.2"/>
<path d="M652.6,278.8L658.5,280.3M685,286.7L690.9,288.1" stroke-width="2.53125"/>
<path d="M658.5,280.3C660.6,280.8 667.0,282.4 671.4,283.5C675.8,284.6 682.7,286.2 685.0,286.7" stroke-width="5.0625"/>
<path d="M663.9,284.3L668.1,284.8M685,286.7L689.2,287.2" stroke-width="1.95"/>
<path d="M668.1,284.8 L685.0,286.7" stroke-width="3.9"/>
<path d="M589,290.8L594.3,291.5M616.8,298.8L621.4,301.5" stroke-width="2.025"/>
<path d="M594.3,291.5C596.4,291.8 603.4,291.9 607.1,293.1C610.9,294.3 615.2,297.9 616.8,298.8" stroke-width="4.05"/>
<path d="M595.1,299.4L599.1,299.6M615.1,300.4L619.1,300.6" stroke-width="1.77188"/>
<path d="M599.1,299.6 L615.1,300.4" stroke-width="3.54375"/>
<path d="M571,301.1L575,301.2M591.1,301.5L595.1,301.6" stroke-width="1.77188"/>
<path d="M575.0,301.2 L591.1,301.5" stroke-width="3.54375"/>
<path d="M240.3,304L246,304M270.1,304L275.8,304" stroke-width="2.275"/>
<path d="M246.0,304.0 L270.1,304.0" stroke-width="4.55"/>
<path d="M321,310.2L326.3,310.2M350.4,310.2L355.7,310.2" stroke-width="2.025"/>
<path d="M326.3,310.2 L350.4,310.2" stroke-width="4.05"/>
<path d="M242.8,314.2L246,314.2M258.8,314.2L262,314.2" stroke-width="2.025"/>
<path d="M246.0,314.2 L258.8,314.2" stroke-width="4.05"/>
<path d="M268.4,324L274.9,322.3M326.3,321.5L332.8,323.4" stroke-width="3.0375"/>
<path d="M274.9,322.3C276.8,321.8 282.9,320.4 286.1,319.4C289.3,318.4 290.2,316.5 294.2,316.2C298.2,315.9 306.2,317.0 310.2,317.5C314.2,318.0 315.6,318.4 318.3,319.1C321.0,319.8 325.0,321.1 326.3,321.5" stroke-width="6.075"/>
<path d="M240,330.4L246,329.5M294.2,324.7L300.2,324.4" stroke-width="2.53125"/>
<path d="M246.0,329.5C248.7,329.1 256.8,327.8 262.1,327.1C267.5,326.4 272.8,325.9 278.1,325.5C283.5,325.1 291.5,324.8 294.2,324.7" stroke-width="5.0625"/>
<path d="M242,330L246,329.5M262.1,327.4L266.1,326.9" stroke-width="2.6"/>
<path d="M246.0,329.5 L262.1,327.4" stroke-width="5.2"/>
<path d="M285,339.6L291,339.9M326.3,341.5L332.3,341.8" stroke-width="2.53125"/>
<path d="M291.0,339.9C294.2,340.0 304.3,340.4 310.2,340.7C316.1,341.0 323.6,341.4 326.3,341.5" stroke-width="5.0625"/>
<path d="M248,344.5L254,345.1M286.1,348.3L292.1,348.9" stroke-width="2.53125"/>
<path d="M254.0,345.1C256.7,345.4 264.8,346.2 270.1,346.7C275.5,347.2 283.4,348.0 286.1,348.3" stroke-width="5.0625"/>
<path d="M260.1,351.2L262.1,351.2M270.1,351.2L272.1,351.2" stroke-width="1.51875"/>
<path d="M262.1,351.2 L270.1,351.2" stroke-width="3.0375"/>
<path d="M314.3,352.8L318.3,352.8M334.3,352.8L338.3,352.8" stroke-width="1.51875"/>
<path d="M318.3,352.8 L334.3,352.8" stroke-width="3.0375"/>
<path d="M427.4,304.7L433.1,304.6M466,304.3L471.7,304.2" stroke-width="2.27813"/>
<path d="M433.1,304.6 L466.0,304.3" stroke-width="4.55625"/>
<path d="M440.3,304L444.3,304M460.4,304L464.4,304" stroke-width="1.95"/>
<path d="M444.3,304.0 L460.4,304.0" stroke-width="3.9"/>
<path d="M350,313.2L356,312.6M404.2,308.6L410.2,308.3" stroke-width="2.53125"/>
<path d="M356.0,312.6C358.7,312.3 366.8,311.5 372.1,311.0C377.5,310.5 382.8,309.8 388.1,309.4C393.5,309.0 401.5,308.7 404.2,308.6" stroke-width="5.0625"/>
<path d="M383.7,320.7L386.5,320.7M397.8,320.7L400.6,320.7" stroke-width="1.51875"/>
<path d="M386.5,320.7 L397.8,320.7" stroke-width="3.0375"/>
<path d="M396.6,317.8L399.4,317.8M410.6,317.8L413.4,317.8" stroke-width="1.51875"/>
<path d="M399.4,317.8 L410.6,317.8" stroke-width="3.0375"/>
<path d="M407.1,325.9L413.8,326.3M466,332.7L472.7,333.7" stroke-width="3.0375"/>
<path d="M413.8,326.3C416.2,326.4 423.2,326.6 428.3,327.1C433.4,327.6 438.0,328.6 444.3,329.5C450.6,330.4 462.4,332.2 466.0,332.7" stroke-width="6.075"/>
<path d="M455,334.1L457.2,334.3M466,335.1L468.2,335.3" stroke-width="2.275"/>
<path d="M457.2,334.3 L466.0,335.1" stroke-width="4.55"/>
<path d="M358.2,331.7L364,335.1M436.3,338.3L443.1,338.3" stroke-width="3.0375"/>
<path d="M364.0,335.1C365.4,335.9 368.1,339.6 372.1,339.9C376.1,340.2 382.8,337.5 388.1,337.0C393.5,336.5 398.9,336.5 404.2,336.7C409.5,336.9 414.8,338.0 420.2,338.3C425.6,338.6 433.6,338.3 436.3,338.3" stroke-width="6.075"/>
<path d="M360,349.6L364,349.6M380.1,349.6L384.1,349.6" stroke-width="2.53125"/>
<path d="M364.0,349.6 L380.1,349.6" stroke-width="5.0625"/>
<path d="M414.9,345.6L420.2,345.6M452.4,345.6L457.7,345.6" stroke-width="2.025"/>
<path d="M420.2,345.6 L452.4,345.6" stroke-width="4.05"/>
<path d="M468.1,298.4L474,303M535.1,355L541,359.6" stroke-width="3.54375"/>
<path d="M474.0,303.0C475.4,304.1 479.4,307.0 482.1,309.4C484.8,311.8 486.9,314.8 490.1,317.5C493.3,320.2 497.8,322.6 501.3,325.5C504.8,328.4 507.8,332.2 511.0,335.1C514.2,338.0 517.4,340.4 520.6,343.1C523.8,345.8 527.8,349.2 530.2,351.2C532.6,353.2 534.3,354.4 535.1,355.0" stroke-width="7.0875"/>
<path d="M496.9,305.8L502.9,306.2M527,309.4L532.9,310.5" stroke-width="2.53125"/>
<path d="M502.9,306.2C504.8,306.3 510.2,306.5 514.2,307.0C518.2,307.5 524.9,309.0 527.0,309.4" stroke-width="5.0625"/>
<path d="M533.3,304.6L538.3,304.6M562.4,304.6L567.4,304.6" stroke-width="1.77188"/>
<path d="M538.3,304.6 L562.4,304.6" stroke-width="3.54375"/>
<path d="M523.8,315L525.4,315.8M531.8,319.1L533.4,319.9" stroke-width="2.025"/>
<path d="M525.4,315.8 L531.8,319.1" stroke-width="4.05"/>
<path d="M520.8,326.1L527,328.7M576,330.3L582.7,329.6" stroke-width="3.0375"/>
<path d="M527.0,328.7C528.9,329.5 533.8,332.8 538.3,333.5C542.8,334.2 548.0,333.2 554.3,332.7C560.6,332.2 572.4,330.7 576.0,330.3" stroke-width="6.075"/>
<path d="M531.5,333.1L535.1,333.2M549.5,333.5L553.1,333.6" stroke-width="2.6"/>
<path d="M535.1,333.2 L549.5,333.5" stroke-width="5.2"/>
<path d="M459.4,333.5L466,335.1M501.3,355L505.6,360.2" stroke-width="3.0375"/>
<path d="M466.0,335.1C468.1,335.6 474.8,336.7 478.8,338.3C482.8,339.9 486.9,342.7 490.1,344.8C493.3,346.9 496.2,349.5 498.1,351.2C500.0,352.9 500.8,354.4 501.3,355.0" stroke-width="6.075"/>
<path d="M464,335.6L466,335.9M474,337L476,337.3" stroke-width="2.275"/>
<path d="M466.0,335.9 L474.0,337.0" stroke-width="4.55"/>
<path d="M545.5,346.4L549.5,346.4M565.6,346.4L569.6,346.4" stroke-width="1.51875"/>
<path d="M549.5,346.4 L565.6,346.4" stroke-width="3.0375"/>
<path d="M571,307L575,307M591.1,307L595.1,307" stroke-width="2.53125"/>
<path d="M575.0,307.0 L591.1,307.0" stroke-width="5.0625"/>
<path d="M571.4,307.5L575,307.5M589.5,307.5L593.1,307.5" stroke-width="2.275"/>
<path d="M575.0,307.5 L589.5,307.5" stroke-width="4.55"/>
<path d="M603.9,303.8L607.1,303.8M620,303.8L623.2,303.8" stroke-width="1.51875"/>
<path d="M607.1,303.8 L620.0,303.8" stroke-width="3.0375"/>
<path d="M606.8,316.1L613.5,315.8M674.6,308.6L681.1,306.8" stroke-width="3.0375"/>
<path d="M613.5,315.8C616.5,315.7 625.6,315.3 631.2,315.0C636.8,314.7 641.9,314.7 647.3,314.2C652.6,313.7 658.8,312.7 663.3,311.8C667.8,310.9 672.7,309.1 674.6,308.6" stroke-width="6.075"/>
<path d="M628.4,315.1L631.2,315M642.4,314.7L645.2,314.6" stroke-width="1.95"/>
<path d="M631.2,315.0 L642.4,314.7" stroke-width="3.9"/>
<path d="M567.6,330.1L575,330.6M615.1,335.1L622.5,335.6" stroke-width="3.54375"/>
<path d="M575.0,330.6C577.7,330.8 586.3,331.0 591.1,331.6C595.9,332.2 599.9,333.7 603.9,334.3C607.9,334.9 613.2,335.0 615.1,335.1" stroke-width="7.0875"/>
<path d="M593.1,333.6L595.9,333.8M607.1,334.8L609.9,335.1" stroke-width="2.6"/>
<path d="M595.9,333.8 L607.1,334.8" stroke-width="5.2"/>
<path d="M617.9,351.2L623.2,351.2M647.3,351.2L652.6,351.2" stroke-width="2.025"/>
<path d="M623.2,351.2 L647.3,351.2" stroke-width="4.05"/>
<path d="M647.3,349.6L652.1,349.6M671.4,349.6L676.2,349.6" stroke-width="2.025"/>
<path d="M652.1,349.6 L671.4,349.6" stroke-width="4.05"/>
</g>
<g stroke="#5e5e5e">
<path d="M241,67.9L246,67.7M265.7,64.8L270.6,63.6" stroke-width="3.2"/>
<path d="M246.0,67.7C247.3,67.7 251.5,67.7 253.9,67.4C256.3,67.1 258.4,66.5 260.4,66.1C262.4,65.7 264.8,65.0 265.7,64.8" stroke-width="6.4"/>
<path d="M260.4,66.3L265.7,64.8M297.2,55.9L302.5,54.4" stroke-width="2.16125"/>
<path d="M265.7,64.8C266.8,64.5 269.8,63.6 272.2,63.0C274.6,62.4 277.2,61.7 280.1,60.9C283.0,60.1 286.5,59.0 289.3,58.2C292.1,57.4 295.9,56.3 297.2,55.9" stroke-width="4.3225"/>
<path d="M240.7,78L246,77.9M267,76L272.2,75.1" stroke-width="2.8375"/>
<path d="M246.0,77.9C247.3,77.9 251.5,77.8 253.9,77.7C256.3,77.6 258.2,77.4 260.4,77.1C262.6,76.8 265.9,76.2 267.0,76.0" stroke-width="5.675"/>
<path d="M265,76.4L267,76M274.9,74.3L276.9,73.9" stroke-width="1.8525"/>
<path d="M267.0,76.0 L274.9,74.3" stroke-width="3.705"/>
<path d="M269.9,85.1L276.2,85.2M301,86.5L307.2,85.8" stroke-width="2.8375"/>
<path d="M276.2,85.2C277.7,85.2 283.0,85.1 285.4,85.3C287.8,85.5 288.9,86.2 290.6,86.5C292.4,86.8 294.2,87.1 295.9,87.1C297.6,87.1 300.1,86.6 301.0,86.5" stroke-width="5.675"/>
<path d="M296.7,57.4L301,56.9M318.1,54.3L322.3,53.5" stroke-width="2.16125"/>
<path d="M301.0,56.9C302.8,56.7 308.6,56.0 311.5,55.6C314.4,55.2 317.0,54.5 318.1,54.3" stroke-width="4.3225"/>
<path d="M323.9,68.6L327.2,68.4M340.4,67.7L343.7,67.5" stroke-width="1.8525"/>
<path d="M327.2,68.4 L340.4,67.7" stroke-width="3.705"/>
<path d="M328.7,78.7L333.8,78.7M356,78.7L361.1,78.7" stroke-width="1.8525"/>
<path d="M333.8,78.7 L356.0,78.7" stroke-width="3.705"/>
<path d="M297.7,86.9L301,86.5M314.1,83.8L317.3,82.8" stroke-width="2.8375"/>
<path d="M301.0,86.5C302.1,86.4 305.4,86.2 307.6,85.8C309.8,85.3 313.0,84.1 314.1,83.8" stroke-width="5.675"/>
<path d="M408.9,67.3L415.4,67.1M466,68.3L472.5,68.5" stroke-width="2.8375"/>
<path d="M415.4,67.1C417.5,67.0 423.5,66.6 428.3,66.7C433.1,66.8 438.0,67.2 444.3,67.5C450.6,67.8 462.4,68.2 466.0,68.3" stroke-width="5.675"/>
<path d="M407,78.2L412.2,78.2M433.1,78.7L438.3,79" stroke-width="2.8375"/>
<path d="M412.2,78.2C414.1,78.2 419.9,78.1 423.4,78.2C426.9,78.3 431.5,78.6 433.1,78.7" stroke-width="5.675"/>
<path d="M428.3,78.4L433.1,78.7M452.4,79.5L457.2,79.6" stroke-width="2.16125"/>
<path d="M433.1,78.7C434.7,78.8 439.5,79.1 442.7,79.2C445.9,79.3 450.8,79.5 452.4,79.5" stroke-width="4.3225"/>
<path d="M449,88.9L452.4,89M466,89.3L469.4,89.4" stroke-width="1.8525"/>
<path d="M452.4,89.0 L466.0,89.3" stroke-width="3.705"/>
<path d="M353.6,100.4L356,100.4M365.6,100.4L368,100.4" stroke-width="2.47"/>
<path d="M356.0,100.4 L365.6,100.4" stroke-width="4.94"/>
<path d="M546.9,56.4L552.7,57.8M576,62.6L581.9,63.5" stroke-width="2.47"/>
<path d="M552.7,57.8C554.9,58.3 561.7,60.2 565.6,61.0C569.5,61.8 574.3,62.3 576.0,62.6" stroke-width="4.94"/>
<path d="M461.2,67.9L466,68.3M485.3,69.9L490.1,70.3" stroke-width="2.8375"/>
<path d="M466.0,68.3C467.6,68.4 472.4,68.8 475.6,69.1C478.8,69.4 483.7,69.8 485.3,69.9" stroke-width="5.675"/>
<path d="M475.2,78.8L482.1,79.5M551.1,89.1L557.9,90.5" stroke-width="3.2"/>
<path d="M482.1,79.5C484.8,79.8 492.8,80.6 498.1,81.1C503.5,81.6 508.9,82.0 514.2,82.7C519.6,83.4 525.4,84.3 530.2,85.1C535.0,85.9 539.6,86.8 543.1,87.5C546.6,88.2 549.8,88.8 551.1,89.1" stroke-width="6.4"/>
<path d="M462,89.2L466,89.9M482.1,92.3L486.1,92.8" stroke-width="3.2"/>
<path d="M466.0,89.9C467.6,90.2 472.9,91.1 475.6,91.5C478.3,91.9 481.0,92.2 482.1,92.3" stroke-width="6.4"/>
<path d="M476.6,91.7L482.1,92.3M514.2,96.4L519.7,97.2" stroke-width="2.16125"/>
<path d="M482.1,92.3C484.8,92.6 492.8,93.3 498.1,94.0C503.5,94.7 511.5,96.0 514.2,96.4" stroke-width="4.3225"/>
<path d="M507.3,95.6L514.2,96.7M554.3,102L561.2,102.7" stroke-width="3.2"/>
<path d="M514.2,96.7C516.3,97.0 523.0,98.2 527.0,98.8C531.0,99.4 533.8,99.9 538.3,100.4C542.8,100.9 551.6,101.7 554.3,102.0" stroke-width="6.4"/>
<path d="M569.1,60.6L575,60.2M599.1,61.4L605,62.4" stroke-width="2.47"/>
<path d="M575.0,60.2C577.1,60.1 583.8,59.2 587.8,59.4C591.8,59.6 597.2,61.1 599.1,61.4" stroke-width="4.94"/>
<path d="M597.1,78.5L600.7,78.7M615.1,79.5L618.7,79.7" stroke-width="2.16125"/>
<path d="M600.7,78.7 L615.1,79.5" stroke-width="4.3225"/>
<path d="M253.2,118.6L255.6,118.3M265.3,117.1L267.7,116.8" stroke-width="2.47"/>
<path d="M255.6,118.3 L265.3,117.1" stroke-width="4.94"/>
<path d="M267.4,114L274.9,114.6M307,119.9L314.5,120.5" stroke-width="3.5625"/>
<path d="M274.9,114.6C276.8,114.8 282.9,115.0 286.1,115.5C289.3,116.0 291.8,117.1 294.2,117.8C296.6,118.5 298.5,119.1 300.6,119.4C302.7,119.8 305.9,119.8 307.0,119.9" stroke-width="7.125"/>
<path d="M314.8,129.1L319.9,129.2M342.4,129.8L347.5,129.9" stroke-width="1.8525"/>
<path d="M319.9,129.2 L342.4,129.8" stroke-width="3.705"/>
<path d="M309.2,137L315.1,137.5M356,139.1L362,139.1" stroke-width="2.47"/>
<path d="M315.1,137.5C318.3,137.8 327.5,138.8 334.3,139.1C341.1,139.4 352.4,139.1 356.0,139.1" stroke-width="4.94"/>
<path d="M314.3,138.1L318.3,138.3M334.3,139L338.3,139.2" stroke-width="2.8375"/>
<path d="M318.3,138.3 L334.3,139.0" stroke-width="5.675"/>
<path d="M282.1,152L286.1,152M302.2,152L306.2,152" stroke-width="2.16125"/>
<path d="M286.1,152.0 L302.2,152.0" stroke-width="4.3225"/>
<path d="M428.3,104.5L433.1,104.6M452.4,104.9L457.2,105" stroke-width="2.16125"/>
<path d="M433.1,104.6 L452.4,104.9" stroke-width="4.3225"/>
<path d="M353.6,114.4L356,114.2M365.6,113.6L368,113.4" stroke-width="2.16125"/>
<path d="M356.0,114.2 L365.6,113.6" stroke-width="4.3225"/>
<path d="M365.2,127.2L372.1,126.3M404.2,123.9L411.2,123.8" stroke-width="3.2"/>
<path d="M372.1,126.3C374.8,126.0 382.8,124.6 388.1,124.2C393.5,123.8 401.5,124.0 404.2,123.9" stroke-width="6.4"/>
<path d="M352,129.3L356,128.7M372.1,126.3L376.1,125.7" stroke-width="2.16125"/>
<path d="M356.0,128.7 L372.1,126.3" stroke-width="4.3225"/>
<path d="M407.4,130.7L410.6,131.1M423.4,132.7L426.6,133.1" stroke-width="3.2"/>
<path d="M410.6,131.1 L423.4,132.7" stroke-width="6.4"/>
<path d="M438.9,147.9L444.3,148M466,148.3L471.4,148.4" stroke-width="2.47"/>
<path d="M444.3,148.0 L466.0,148.3" stroke-width="4.94"/>
<path d="M468.5,107.5L474,107.8M498.1,109.1L503.6,109.4" stroke-width="2.16125"/>
<path d="M474.0,107.8 L498.1,109.1" stroke-width="4.3225"/>
<path d="M535.6,134.6L543.1,135.1M576,143.1L582.8,146.2" stroke-width="3.5625"/>
<path d="M543.1,135.1C545.2,135.2 552.1,135.4 555.9,135.9C559.6,136.4 562.2,137.1 565.6,138.3C569.0,139.5 574.3,142.3 576.0,143.1" stroke-width="7.125"/>
<path d="M603.7,112.7L608.7,113.4M628,118.3L632.6,120.2" stroke-width="3.5625"/>
<path d="M608.7,113.4C610.6,113.7 616.8,114.2 620.0,115.0C623.2,115.8 626.7,117.8 628.0,118.3" stroke-width="7.125"/>
<path d="M573,143.9L575,144M583,144.4L585,144.5" stroke-width="3.2"/>
<path d="M575.0,144.0 L583.0,144.4" stroke-width="6.4"/>
<path d="M609.9,139.8L615.1,140.3M636,142.3L641.2,142.8" stroke-width="2.8375"/>
<path d="M615.1,140.3 L636.0,142.3" stroke-width="5.675"/>
<path d="M242,166.1L246,165.8M262.1,164.6L266.1,164.3" stroke-width="2.47"/>
<path d="M246.0,165.8 L262.1,164.6" stroke-width="4.94"/>
<path d="M314.3,185.1L318.3,185.1M334.3,185.1L338.3,185.1" stroke-width="2.16125"/>
<path d="M318.3,185.1 L334.3,185.1" stroke-width="4.3225"/>
<path d="M274.1,198.3L278.1,198.3M294.2,198.3L298.2,198.3" stroke-width="2.16125"/>
<path d="M278.1,198.3 L294.2,198.3" stroke-width="4.3225"/>
<path d="M382.9,164.3L388.1,163.9M409,162.3L414.2,161.9" stroke-width="2.47"/>
<path d="M388.1,163.9 L409.0,162.3" stroke-width="4.94"/>
<path d="M435.5,173.4L439.5,173.9M455.6,175.8L459.6,176.3" stroke-width="3.5625"/>
<path d="M439.5,173.9 L455.6,175.8" stroke-width="7.125"/>
<path d="M453,175.7L455.6,176.3M466,178.7L468.6,179.3" stroke-width="2.16125"/>
<path d="M455.6,176.3 L466.0,178.7" stroke-width="4.3225"/>
<path d="M364,185.5L368.8,185.6M388.1,185.9L392.9,186" stroke-width="2.47"/>
<path d="M368.8,185.6 L388.1,185.9" stroke-width="4.94"/>
<path d="M460.5,155.5L466,155.4M522.2,156.2L527.7,156.5" stroke-width="2.16125"/>
<path d="M466.0,155.4C471.4,155.3 488.7,154.8 498.1,154.9C507.5,155.0 518.2,156.0 522.2,156.2" stroke-width="4.3225"/>
<path d="M515,179.3L519,179M535.1,177.9L539.1,177.6" stroke-width="2.16125"/>
<path d="M519.0,179.0 L535.1,177.9" stroke-width="4.3225"/>
<path d="M548.9,167.3L554.3,167.5M576,168.3L581.4,168.5" stroke-width="2.16125"/>
<path d="M554.3,167.5 L576.0,168.3" stroke-width="4.3225"/>
<path d="M641.8,156.9L647.3,156.5M674.6,155.9L680.1,156.1" stroke-width="2.16125"/>
<path d="M647.3,156.5C650.0,156.3 658.8,155.5 663.3,155.4C667.8,155.3 672.7,155.8 674.6,155.9" stroke-width="4.3225"/>
<path d="M672,156.1L674.6,156.2M685,156.5L687.6,156.6" stroke-width="3.2"/>
<path d="M674.6,156.2 L685.0,156.5" stroke-width="6.4"/>
<path d="M569.2,166.3L575,167.5M623.2,177.1L629.1,177.7" stroke-width="2.47"/>
<path d="M575.0,167.5C577.7,168.0 585.8,169.4 591.1,170.7C596.5,172.0 601.8,174.4 607.1,175.5C612.5,176.6 620.5,176.8 623.2,177.1" stroke-width="4.94"/>
<path d="M600.7,175.6L603.9,175.8M616.8,176.8L620,177.1" stroke-width="2.8375"/>
<path d="M603.9,175.8 L616.8,176.8" stroke-width="5.675"/>
<path d="M643.3,180.1L647.3,180.3M663.3,181.1L667.3,181.3" stroke-width="1.8525"/>
<path d="M647.3,180.3 L663.3,181.1" stroke-width="3.705"/>
<path d="M585,188.1L587.8,188.3M599.1,189.1L601.9,189.3" stroke-width="2.16125"/>
<path d="M587.8,188.3 L599.1,189.1" stroke-width="4.3225"/>
<path d="M267.3,214.1L270.1,214.2M281.3,214.6L284.1,214.7" stroke-width="1.8525"/>
<path d="M270.1,214.2 L281.3,214.6" stroke-width="3.705"/>
<path d="M309.4,232.2L313.4,232.2M329.5,232.2L333.5,232.2" stroke-width="2.47"/>
<path d="M313.4,232.2 L329.5,232.2" stroke-width="4.94"/>
<path d="M339,238.7L342.4,238.7M356,238.7L359.4,238.7" stroke-width="2.16125"/>
<path d="M342.4,238.7 L356.0,238.7" stroke-width="4.3225"/>
<path d="M256.6,242.9L262.1,242.7M286.1,241.9L291.6,241.7" stroke-width="2.16125"/>
<path d="M262.1,242.7 L286.1,241.9" stroke-width="4.3225"/>
<path d="M397,231L404.2,231.3M433.1,232.7L440.3,233.1" stroke-width="3.5625"/>
<path d="M404.2,231.3C406.9,231.4 415.4,231.7 420.2,231.9C425.0,232.1 431.0,232.6 433.1,232.7" stroke-width="7.125"/>
<path d="M366.6,237.5L372.1,237.5M396.1,237.5L401.6,237.5" stroke-width="2.16125"/>
<path d="M372.1,237.5 L396.1,237.5" stroke-width="4.3225"/>
<path d="M517.9,239.2L525.4,239.6M562.4,239.9L569.9,240.1" stroke-width="3.5625"/>
<path d="M525.4,239.6C527.5,239.7 534.3,240.3 538.3,240.3C542.3,240.3 545.5,239.7 549.5,239.6C553.5,239.5 560.2,239.8 562.4,239.9" stroke-width="7.125"/>
<path d="M569.1,210.9L575,211.8M615.1,222.3L620.9,223.5" stroke-width="2.47"/>
<path d="M575.0,211.8C577.7,212.2 587.1,213.2 591.1,214.2C595.1,215.1 596.4,216.4 599.1,217.5C601.8,218.6 604.4,219.9 607.1,220.7C609.8,221.5 613.8,222.0 615.1,222.3" stroke-width="4.94"/>
<path d="M607.9,228.7L611.9,228.7M628,228.7L632,228.7" stroke-width="2.16125"/>
<path d="M611.9,228.7 L628.0,228.7" stroke-width="4.3225"/>
<path d="M569.8,245.1L575,245.1M595.9,244.4L601.1,244.1" stroke-width="3.2"/>
<path d="M575.0,245.1C576.6,245.1 581.1,245.2 584.6,245.1C588.1,245.0 594.0,244.5 595.9,244.4" stroke-width="6.4"/>
<path d="M590.5,245.3L595.9,244.1M623.2,240.7L628.7,240.4" stroke-width="2.16125"/>
<path d="M595.9,244.1C597.8,243.7 602.5,242.1 607.1,241.5C611.7,240.9 620.5,240.8 623.2,240.7" stroke-width="4.3225"/>
<path d="M641.3,246.1L647.3,246.4M685,247.2L691,247.2" stroke-width="2.47"/>
<path d="M647.3,246.4C650.0,246.5 657.0,247.1 663.3,247.2C669.6,247.3 681.4,247.2 685.0,247.2" stroke-width="4.94"/>
<path d="M256.2,275.2L262.1,274.7M286.1,272.6L292,272.1" stroke-width="2.47"/>
<path d="M262.1,274.7 L286.1,272.6" stroke-width="4.94"/>
<path d="M330.3,276L334.3,276.3M350.4,277.4L354.4,277.7" stroke-width="2.47"/>
<path d="M334.3,276.3 L350.4,277.4" stroke-width="4.94"/>
<path d="M241.2,293.5L246,292.8M265.3,289.6L270.1,288.7" stroke-width="3.925"/>
<path d="M246.0,292.8C247.6,292.6 252.4,292.0 255.6,291.5C258.8,291.0 263.7,289.9 265.3,289.6" stroke-width="7.85"/>
<path d="M260.1,290.4L265.3,289.6M286.1,286.4L291.3,285.6" stroke-width="2.77875"/>
<path d="M265.3,289.6 L286.1,286.4" stroke-width="5.5575"/>
<path d="M360,264.3L364,264.2M380.1,263.9L384.1,263.8" stroke-width="2.47"/>
<path d="M364.0,264.2 L380.1,263.9" stroke-width="4.94"/>
<path d="M421.1,268.2L425.1,268.3M441.1,268.7L445.1,268.8" stroke-width="2.47"/>
<path d="M425.1,268.3 L441.1,268.7" stroke-width="4.94"/>
<path d="M374.6,277.8L380.1,277.4M404.2,275.8L409.7,275.4" stroke-width="2.16125"/>
<path d="M380.1,277.4 L404.2,275.8" stroke-width="4.3225"/>
<path d="M462.8,269.1L466,269.1M478.8,269.1L482,269.1" stroke-width="2.47"/>
<path d="M466.0,269.1 L478.8,269.1" stroke-width="4.94"/>
<path d="M542.3,268.3L546.3,268.3M562.4,268.3L566.4,268.3" stroke-width="2.16125"/>
<path d="M546.3,268.3 L562.4,268.3" stroke-width="4.3225"/>
<path d="M478.1,292.7L482.1,292.8M498.1,293.1L502.1,293.2" stroke-width="2.47"/>
<path d="M482.1,292.8 L498.1,293.1" stroke-width="4.94"/>
<path d="M609.6,255L615.1,255.2M639.2,255.9L644.7,256.1" stroke-width="2.16125"/>
<path d="M615.1,255.2 L639.2,255.9" stroke-width="4.3225"/>
<path d="M633.3,257.6L639.2,258.6M685,267.8L690.8,269.2" stroke-width="2.47"/>
<path d="M639.2,258.6C641.9,259.1 649.9,260.4 655.3,261.4C660.7,262.4 666.4,263.5 671.4,264.6C676.4,265.7 682.7,267.3 685.0,267.8" stroke-width="4.94"/>
<path d="M619.2,298.6L623.2,298.9M639.2,299.9L643.2,300.1" stroke-width="2.16125"/>
<path d="M623.2,298.9 L639.2,299.9" stroke-width="4.3225"/>
<path d="M657.9,290.6L663.3,291.5M685,295.1L690.4,296" stroke-width="2.47"/>
<path d="M663.3,291.5 L685.0,295.1" stroke-width="4.94"/>
<path d="M242.8,320.9L246,320.7M258.8,319.9L262,319.7" stroke-width="3.2"/>
<path d="M246.0,320.7 L258.8,319.9" stroke-width="6.4"/>
<path d="M254.8,320L258.8,319.5M274.9,317.5L278.9,317" stroke-width="2.47"/>
<path d="M258.8,319.5 L274.9,317.5" stroke-width="4.94"/>
<path d="M280.1,332.3L286.1,332.2M318.3,331.9L324.3,331.8" stroke-width="2.47"/>
<path d="M286.1,332.2 L318.3,331.9" stroke-width="4.94"/>
<path d="M331.9,331.3L335.9,331.3M352,331.3L356,331.3" stroke-width="2.47"/>
<path d="M335.9,331.3 L352.0,331.3" stroke-width="4.94"/>
<path d="M413,307.7L417,307.8M433.1,308.1L437.1,308.2" stroke-width="2.16125"/>
<path d="M417.0,307.8 L433.1,308.1" stroke-width="4.3225"/>
<path d="M430.3,309.1L436.3,309.4M466,309.4L471.9,309.1" stroke-width="2.47"/>
<path d="M436.3,309.4C439.0,309.5 447.4,310.2 452.4,310.2C457.3,310.2 463.7,309.5 466.0,309.4" stroke-width="4.94"/>
<path d="M432.3,322.2L436.3,322.3M452.4,322.6L456.4,322.7" stroke-width="2.16125"/>
<path d="M436.3,322.3 L452.4,322.6" stroke-width="4.3225"/>
<path d="M425.5,351.2L428.3,351.2M439.5,351.2L442.3,351.2" stroke-width="2.47"/>
<path d="M428.3,351.2 L439.5,351.2" stroke-width="4.94"/>
<path d="M466.8,310L469.2,310.2M478.8,311L481.2,311.2" stroke-width="2.16125"/>
<path d="M469.2,310.2 L478.8,311.0" stroke-width="4.3225"/>
<path d="M495.5,314.9L501.3,316.2M527,321L532.9,321.9" stroke-width="2.47"/>
<path d="M501.3,316.2C503.5,316.7 509.9,318.3 514.2,319.1C518.5,319.9 524.9,320.7 527.0,321.0" stroke-width="4.94"/>
<path d="M476,328.5L478.8,328.7M490.1,329.5L492.9,329.7" stroke-width="2.16125"/>
<path d="M478.8,328.7 L490.1,329.5" stroke-width="4.3225"/>
<path d="M489.7,338.5L493.3,339.1M507.8,341.5L511.4,342.1" stroke-width="2.16125"/>
<path d="M493.3,339.1 L507.8,341.5" stroke-width="4.3225"/>
<path d="M572.6,319.1L575,319.1M584.6,319.1L587,319.1" stroke-width="2.47"/>
<path d="M575.0,319.1 L584.6,319.1" stroke-width="4.94"/>
<path d="M593.1,317.7L595.9,317.5M607.1,316.7L609.9,316.5" stroke-width="2.16125"/>
<path d="M595.9,317.5 L607.1,316.7" stroke-width="4.3225"/>
<path d="M585,345L587.8,345.1M599.1,345.7L601.9,345.8" stroke-width="2.47"/>
<path d="M587.8,345.1 L599.1,345.7" stroke-width="4.94"/>
</g>
<g stroke="#f21e00">
<path d="M240.7,73.6L246,73.3M267,69.8L272.2,68.5" stroke-width="2.34"/>
<path d="M246.0,73.3C247.3,73.2 251.5,73.2 253.9,72.9C256.3,72.6 258.2,71.9 260.4,71.4C262.6,70.9 265.9,70.1 267.0,69.8" stroke-width="4.68"/>
<path d="M266.3,80.8L268.3,80.6M276.2,79.9L278.2,79.7" stroke-width="1.56"/>
<path d="M268.3,80.6 L276.2,79.9" stroke-width="3.12"/>
<path d="M282.3,93.9L284.1,93.9M291.3,93.9L293.1,93.9" stroke-width="1.56"/>
<path d="M284.1,93.9 L291.3,93.9" stroke-width="3.12"/>
<path d="M406.4,72.3L412.2,72.3M439.5,73.4L445.3,73.8" stroke-width="2.34"/>
<path d="M412.2,72.3C414.4,72.3 420.6,72.1 425.1,72.3C429.7,72.5 437.1,73.2 439.5,73.4" stroke-width="4.68"/>
<path d="M444.9,73.8L449.1,73.9M466,74.2L470.2,74.3" stroke-width="2.08"/>
<path d="M449.1,73.9 L466.0,74.2" stroke-width="4.16"/>
<path d="M417,83.5L420.2,83.8M433.1,84.8L436.3,85" stroke-width="1.56"/>
<path d="M420.2,83.8 L433.1,84.8" stroke-width="3.12"/>
<path d="M453,83L455.6,82.7M466,81.6L468.6,81.3" stroke-width="1.56"/>
<path d="M455.6,82.7 L466.0,81.6" stroke-width="3.12"/>
<path d="M444.9,94.6L449.1,94.3M466,93.1L470.2,92.8" stroke-width="1.56"/>
<path d="M449.1,94.3 L466.0,93.1" stroke-width="3.12"/>
<path d="M466.8,61.5L470.8,61.8M486.9,63.1L490.9,63.4" stroke-width="2.08"/>
<path d="M470.8,61.8 L486.9,63.1" stroke-width="4.16"/>
<path d="M459.9,82.1L466,82.7M554.3,96.4L560.4,97.1" stroke-width="2.6"/>
<path d="M466.0,82.7C468.7,83.0 476.8,83.6 482.1,84.3C487.5,85.0 492.8,85.9 498.1,86.7C503.5,87.5 508.9,88.0 514.2,89.1C519.6,90.2 525.4,92.1 530.2,93.1C535.0,94.1 539.1,94.5 543.1,95.1C547.1,95.6 552.4,96.2 554.3,96.4" stroke-width="5.2"/>
<path d="M461.4,95.7L466,96.4M493.3,100.5L497.9,101.2" stroke-width="1.56"/>
<path d="M466.0,96.4C468.7,96.8 477.6,98.1 482.1,98.8C486.7,99.5 491.4,100.2 493.3,100.5" stroke-width="3.12"/>
<path d="M248,110.8L250.8,110.5M262.1,109.1L264.9,108.8" stroke-width="1.82"/>
<path d="M250.8,110.5 L262.1,109.1" stroke-width="3.64"/>
<path d="M268.5,107.6L271.7,107.5M284.5,107L287.7,106.9" stroke-width="1.56"/>
<path d="M271.7,107.5 L284.5,107.0" stroke-width="3.12"/>
<path d="M317.7,122.9L323.1,122.8M356,122.4L361.4,122.3" stroke-width="2.08"/>
<path d="M323.1,122.8 L356.0,122.4" stroke-width="4.16"/>
<path d="M280.5,131.8L282.9,131.6M292.6,130.9L295,130.7" stroke-width="1.82"/>
<path d="M282.9,131.6 L292.6,130.9" stroke-width="3.64"/>
<path d="M304.2,145.8L307,146M318.3,146.7L321.1,146.9" stroke-width="1.82"/>
<path d="M307.0,146.0 L318.3,146.7" stroke-width="3.64"/>
<path d="M350.6,122.2L356,121.5M380.1,118.3L385.5,117.6" stroke-width="2.08"/>
<path d="M356.0,121.5C357.6,121.3 361.6,120.8 365.6,120.3C369.6,119.8 377.7,118.6 380.1,118.3" stroke-width="4.16"/>
<path d="M406.8,123.4L412.2,123.9M436.3,126.4L441.7,127" stroke-width="2.08"/>
<path d="M412.2,123.9C414.9,124.2 424.3,125.1 428.3,125.5C432.3,125.9 435.0,126.2 436.3,126.4" stroke-width="4.16"/>
<path d="M395,142.2L397.8,142.3M409,142.5L411.8,142.6" stroke-width="2.08"/>
<path d="M397.8,142.3 L409.0,142.5" stroke-width="4.16"/>
<path d="M413.4,144.9L417,146M431.5,150.4L435.1,151.5" stroke-width="2.08"/>
<path d="M417.0,146.0 L431.5,150.4" stroke-width="4.16"/>
<path d="M518.2,104.6L522.2,104.9M538.3,106.2L542.3,106.5" stroke-width="1.82"/>
<path d="M522.2,104.9 L538.3,106.2" stroke-width="3.64"/>
<path d="M546.3,128.5L549.5,128.4M562.4,127.9L565.6,127.8" stroke-width="1.82"/>
<path d="M549.5,128.4 L562.4,127.9" stroke-width="3.64"/>
<path d="M490.9,134L494.9,133.8M511,133.2L515,133" stroke-width="1.82"/>
<path d="M494.9,133.8 L511.0,133.2" stroke-width="3.64"/>
<path d="M565,151.7L567.2,151.7M576,151.7L578.2,151.7" stroke-width="1.82"/>
<path d="M567.2,151.7 L576.0,151.7" stroke-width="3.64"/>
<path d="M634.2,106.5L639.2,106.5M685,106.5L690,106.5" stroke-width="1.82"/>
<path d="M639.2,106.5 L685.0,106.5" stroke-width="3.64"/>
<path d="M642.3,116.7L647.3,116.7M671.4,116.7L676.4,116.7" stroke-width="1.82"/>
<path d="M647.3,116.7 L671.4,116.7" stroke-width="3.64"/>
<path d="M601.5,119.1L607.1,120.3M632.8,125.8L638.5,127" stroke-width="2.34"/>
<path d="M607.1,120.3C609.2,120.8 615.7,122.2 620.0,123.1C624.3,124.0 630.7,125.3 632.8,125.8" stroke-width="4.68"/>
<path d="M630.6,134.5L636,135.1M658.5,137.5L663.9,138.1" stroke-width="2.08"/>
<path d="M636.0,135.1 L658.5,137.5" stroke-width="4.16"/>
<path d="M334.9,160.9L339.1,161M356,161.4L360.2,161.5" stroke-width="1.56"/>
<path d="M339.1,161.0 L356.0,161.4" stroke-width="3.12"/>
<path d="M284.1,189.5L286.1,189.3M294.2,188.7L296.2,188.5" stroke-width="1.56"/>
<path d="M286.1,189.3 L294.2,188.7" stroke-width="3.12"/>
<path d="M379.5,155.8L384.9,155.6M407.4,154.6L412.8,154.4" stroke-width="2.08"/>
<path d="M384.9,155.6 L407.4,154.6" stroke-width="4.16"/>
<path d="M434.5,158L439.5,158.6M466,161.8L471,162.4" stroke-width="1.82"/>
<path d="M439.5,158.6 L466.0,161.8" stroke-width="3.64"/>
<path d="M543.7,158.3L549.5,157.8M576,155.4L581.8,154.9" stroke-width="2.34"/>
<path d="M549.5,157.8 L576.0,155.4" stroke-width="4.68"/>
<path d="M466,168.3L470.8,167.8M490.1,165.8L494.9,165.3" stroke-width="1.82"/>
<path d="M470.8,167.8 L490.1,165.8" stroke-width="3.64"/>
<path d="M505.8,169.4L509.4,169.9M523.8,171.9L527.4,172.4" stroke-width="2.08"/>
<path d="M509.4,169.9 L523.8,171.9" stroke-width="4.16"/>
<path d="M571.8,155.8L575,156.5M587.8,159.4L591,160.1" stroke-width="2.08"/>
<path d="M575.0,156.5 L587.8,159.4" stroke-width="4.16"/>
<path d="M600.7,164.4L603.9,164.6M616.8,165.5L620,165.7" stroke-width="1.82"/>
<path d="M603.9,164.6 L616.8,165.5" stroke-width="3.64"/>
<path d="M636,169.9L639.2,170.3M652.1,171.9L655.3,172.3" stroke-width="2.08"/>
<path d="M639.2,170.3 L652.1,171.9" stroke-width="4.16"/>
<path d="M672,175.1L674.6,175.2M685,175.5L687.6,175.6" stroke-width="1.82"/>
<path d="M674.6,175.2 L685.0,175.5" stroke-width="3.64"/>
<path d="M579.8,195.2L583,195.6M595.9,197.2L599.1,197.6" stroke-width="2.08"/>
<path d="M583.0,195.6 L595.9,197.2" stroke-width="4.16"/>
<path d="M318.3,248.9L323.1,248.8M342.4,248.4L347.2,248.3" stroke-width="2.08"/>
<path d="M323.1,248.8 L342.4,248.4" stroke-width="4.16"/>
<path d="M417,223.5L420.2,223.6M433.1,223.9L436.3,224" stroke-width="1.56"/>
<path d="M420.2,223.6 L433.1,223.9" stroke-width="3.12"/>
<path d="M400.6,246.7L404.2,247.2M418.6,249.3L422.2,249.8" stroke-width="1.82"/>
<path d="M404.2,247.2 L418.6,249.3" stroke-width="3.64"/>
<path d="M542.3,248.5L546.3,248.6M562.4,248.8L566.4,248.9" stroke-width="1.82"/>
<path d="M546.3,248.6 L562.4,248.8" stroke-width="3.64"/>
<path d="M571.8,219.5L575,219.9M587.8,221.5L591,221.9" stroke-width="1.82"/>
<path d="M575.0,219.9 L587.8,221.5" stroke-width="3.64"/>
<path d="M614.4,219.1L616.8,219.1M626.4,219.1L628.8,219.1" stroke-width="1.56"/>
<path d="M616.8,219.1 L626.4,219.1" stroke-width="3.12"/>
<path d="M296.2,260.1L299,260.2M310.2,260.7L313,260.8" stroke-width="1.56"/>
<path d="M299.0,260.2 L310.2,260.7" stroke-width="3.12"/>
<path d="M239.9,301L246,300.4M274.9,295.6L280.9,294.1" stroke-width="2.6"/>
<path d="M246.0,300.4C248.7,300.1 257.3,299.6 262.1,298.8C266.9,298.0 272.8,296.1 274.9,295.6" stroke-width="5.2"/>
<path d="M354.2,256.3L359.2,256.2M380.1,255.9L385.1,255.8" stroke-width="1.82"/>
<path d="M359.2,256.2 L380.1,255.9" stroke-width="3.64"/>
<path d="M381.5,269.3L386.5,269.1M407.4,268.3L412.4,268.1" stroke-width="1.82"/>
<path d="M386.5,269.1 L407.4,268.3" stroke-width="3.64"/>
<path d="M358,286.8L360.8,287M372.1,288L374.9,288.2" stroke-width="1.82"/>
<path d="M360.8,287.0 L372.1,288.0" stroke-width="3.64"/>
<path d="M442.3,300.6L445.9,300.5M460.4,300.2L464,300.1" stroke-width="1.56"/>
<path d="M445.9,300.5 L460.4,300.2" stroke-width="3.12"/>
<path d="M494.9,280.4L498.1,280.3M511,280L514.2,279.9" stroke-width="1.82"/>
<path d="M498.1,280.3 L511.0,280.0" stroke-width="3.64"/>
<path d="M533.9,277.4L538.3,277.4M555.9,277.4L560.3,277.4" stroke-width="1.82"/>
<path d="M538.3,277.4 L555.9,277.4" stroke-width="3.64"/>
<path d="M464.4,299.5L467.6,299.6M480.5,299.9L483.7,300" stroke-width="1.56"/>
<path d="M467.6,299.6 L480.5,299.9" stroke-width="3.12"/>
<path d="M654.7,257.4L660.1,257.5M685,257.8L690.4,257.9" stroke-width="2.08"/>
<path d="M660.1,257.5 L685.0,257.8" stroke-width="4.16"/>
<path d="M622,262.3L626.4,263M644.1,265.8L648.5,266.5" stroke-width="2.34"/>
<path d="M626.4,263.0 L644.1,265.8" stroke-width="4.68"/>
<path d="M572.6,277.1L575,277.1M584.6,277.1L587,277.1" stroke-width="1.56"/>
<path d="M575.0,277.1 L584.6,277.1" stroke-width="3.12"/>
<path d="M623.2,288.9L628,289.6M647.3,292.3L652.1,293" stroke-width="2.08"/>
<path d="M628.0,289.6 L647.3,292.3" stroke-width="4.16"/>
<path d="M663.9,284.3L668.1,284.8M685,286.7L689.2,287.2" stroke-width="1.56"/>
<path d="M668.1,284.8 L685.0,286.7" stroke-width="3.12"/>
<path d="M241,304L246,304M270.1,304L275.1,304" stroke-width="1.82"/>
<path d="M246.0,304.0 L270.1,304.0" stroke-width="3.64"/>
<path d="M242,330L246,329.5M262.1,327.4L266.1,326.9" stroke-width="2.08"/>
<path d="M246.0,329.5 L262.1,327.4" stroke-width="4.16"/>
<path d="M440.3,304L444.3,304M460.4,304L464.4,304" stroke-width="1.56"/>
<path d="M444.3,304.0 L460.4,304.0" stroke-width="3.12"/>
<path d="M455,334.1L457.2,334.3M466,335.1L468.2,335.3" stroke-width="1.82"/>
<path d="M457.2,334.3 L466.0,335.1" stroke-width="3.64"/>
<path d="M531.5,333.1L535.1,333.2M549.5,333.5L553.1,333.6" stroke-width="2.08"/>
<path d="M535.1,333.2 L549.5,333.5" stroke-width="4.16"/>
<path d="M464,335.6L466,335.9M474,337L476,337.3" stroke-width="1.82"/>
<path d="M466.0,335.9 L474.0,337.0" stroke-width="3.64"/>
<path d="M571.4,307.5L575,307.5M589.5,307.5L593.1,307.5" stroke-width="1.82"/>
<path d="M575.0,307.5 L589.5,307.5" stroke-width="3.64"/>
<path d="M628.4,315.1L631.2,315M642.4,314.7L645.2,314.6" stroke-width="1.56"/>
<path d="M631.2,315.0 L642.4,314.7" stroke-width="3.12"/>
<path d="M593.1,333.6L595.9,333.8M607.1,334.8L609.9,335.1" stroke-width="2.08"/>
<path d="M595.9,333.8 L607.1,334.8" stroke-width="4.16"/>
</g>
<g stroke="#141414">
<path d="M241,67.9L246,67.7M265.7,64.8L270.6,63.6" stroke-width="2.755"/>
<path d="M246.0,67.7C247.3,67.7 251.5,67.7 253.9,67.4C256.3,67.1 258.4,66.5 260.4,66.1C262.4,65.7 264.8,65.0 265.7,64.8" stroke-width="5.51"/>
<path d="M240.7,78L246,77.9M267,76L272.2,75.1" stroke-width="2.41063"/>
<path d="M246.0,77.9C247.3,77.9 251.5,77.8 253.9,77.7C256.3,77.6 258.2,77.4 260.4,77.1C262.6,76.8 265.9,76.2 267.0,76.0" stroke-width="4.82125"/>
<path d="M270.3,85.1L276.2,85.2M301,86.5L306.8,85.8" stroke-width="2.41063"/>
<path d="M276.2,85.2C277.7,85.2 283.0,85.1 285.4,85.3C287.8,85.5 288.9,86.2 290.6,86.5C292.4,86.8 294.2,87.1 295.9,87.1C297.6,87.1 300.1,86.6 301.0,86.5" stroke-width="4.82125"/>
<path d="M297.7,86.9L301,86.5M314.1,83.8L317.3,82.8" stroke-width="2.41063"/>
<path d="M301.0,86.5C302.1,86.4 305.4,86.2 307.6,85.8C309.8,85.3 313.0,84.1 314.1,83.8" stroke-width="4.82125"/>
<path d="M409.5,67.3L415.4,67.1M466,68.3L471.9,68.5" stroke-width="2.41063"/>
<path d="M415.4,67.1C417.5,67.0 423.5,66.6 428.3,66.7C433.1,66.8 438.0,67.2 444.3,67.5C450.6,67.8 462.4,68.2 466.0,68.3" stroke-width="4.82125"/>
<path d="M407,78.2L412.2,78.2M433.1,78.7L438.3,79" stroke-width="2.41063"/>
<path d="M412.2,78.2C414.1,78.2 419.9,78.1 423.4,78.2C426.9,78.3 431.5,78.6 433.1,78.7" stroke-width="4.82125"/>
<path d="M461.2,67.9L466,68.3M485.3,69.9L490.1,70.3" stroke-width="2.41063"/>
<path d="M466.0,68.3C467.6,68.4 472.4,68.8 475.6,69.1C478.8,69.4 483.7,69.8 485.3,69.9" stroke-width="4.82125"/>
<path d="M475.8,78.9L482.1,79.5M551.1,89.1L557.3,90.3" stroke-width="2.755"/>
<path d="M482.1,79.5C484.8,79.8 492.8,80.6 498.1,81.1C503.5,81.6 508.9,82.0 514.2,82.7C519.6,83.4 525.4,84.3 530.2,85.1C535.0,85.9 539.6,86.8 543.1,87.5C546.6,88.2 549.8,88.8 551.1,89.1" stroke-width="5.51"/>
<path d="M462,89.2L466,89.9M482.1,92.3L486.1,92.8" stroke-width="2.755"/>
<path d="M466.0,89.9C467.6,90.2 472.9,91.1 475.6,91.5C478.3,91.9 481.0,92.2 482.1,92.3" stroke-width="5.51"/>
<path d="M507.9,95.7L514.2,96.7M554.3,102L560.6,102.6" stroke-width="2.755"/>
<path d="M514.2,96.7C516.3,97.0 523.0,98.2 527.0,98.8C531.0,99.4 533.8,99.9 538.3,100.4C542.8,100.9 551.6,101.7 554.3,102.0" stroke-width="5.51"/>
<path d="M268.1,114.1L274.9,114.6M307,119.9L313.8,120.4" stroke-width="3.09937"/>
<path d="M274.9,114.6C276.8,114.8 282.9,115.0 286.1,115.5C289.3,116.0 291.8,117.1 294.2,117.8C296.6,118.5 298.5,119.1 300.6,119.4C302.7,119.8 305.9,119.8 307.0,119.9" stroke-width="6.19875"/>
<path d="M314.3,138.1L318.3,138.3M334.3,139L338.3,139.2" stroke-width="2.41063"/>
<path d="M318.3,138.3 L334.3,139.0" stroke-width="4.82125"/>
<path d="M365.8,127.1L372.1,126.3M404.2,123.9L410.6,123.8" stroke-width="2.755"/>
<path d="M372.1,126.3C374.8,126.0 382.8,124.6 388.1,124.2C393.5,123.8 401.5,124.0 404.2,123.9" stroke-width="5.51"/>
<path d="M407.4,130.7L410.6,131.1M423.4,132.7L426.6,133.1" stroke-width="2.755"/>
<path d="M410.6,131.1 L423.4,132.7" stroke-width="5.51"/>
<path d="M536.3,134.7L543.1,135.1M576,143.1L582.2,146" stroke-width="3.09937"/>
<path d="M543.1,135.1C545.2,135.2 552.1,135.4 555.9,135.9C559.6,136.4 562.2,137.1 565.6,138.3C569.0,139.5 574.3,142.3 576.0,143.1" stroke-width="6.19875"/>
<path d="M603.7,112.7L608.7,113.4M628,118.3L632.6,120.2" stroke-width="3.09937"/>
<path d="M608.7,113.4C610.6,113.7 616.8,114.2 620.0,115.0C623.2,115.8 626.7,117.8 628.0,118.3" stroke-width="6.19875"/>
<path d="M573,143.9L575,144M583,144.4L585,144.5" stroke-width="2.755"/>
<path d="M575.0,144.0 L583.0,144.4" stroke-width="5.51"/>
<path d="M609.9,139.8L615.1,140.3M636,142.3L641.2,142.8" stroke-width="2.41063"/>
<path d="M615.1,140.3 L636.0,142.3" stroke-width="4.82125"/>
<path d="M435.5,173.4L439.5,173.9M455.6,175.8L459.6,176.3" stroke-width="3.09937"/>
<path d="M439.5,173.9 L455.6,175.8" stroke-width="6.19875"/>
<path d="M672,156.1L674.6,156.2M685,156.5L687.6,156.6" stroke-width="2.755"/>
<path d="M674.6,156.2 L685.0,156.5" stroke-width="5.51"/>
<path d="M600.7,175.6L603.9,175.8M616.8,176.8L620,177.1" stroke-width="2.41063"/>
<path d="M603.9,175.8 L616.8,176.8" stroke-width="4.82125"/>
<path d="M397.4,231L404.2,231.3M433.1,232.7L439.9,233.1" stroke-width="3.09937"/>
<path d="M404.2,231.3C406.9,231.4 415.4,231.7 420.2,231.9C425.0,232.1 431.0,232.6 433.1,232.7" stroke-width="6.19875"/>
<path d="M518.6,239.2L525.4,239.6M562.4,239.9L569.2,240.1" stroke-width="3.09937"/>
<path d="M525.4,239.6C527.5,239.7 534.3,240.3 538.3,240.3C542.3,240.3 545.5,239.7 549.5,239.6C553.5,239.5 560.2,239.8 562.4,239.9" stroke-width="6.19875"/>
<path d="M569.8,245.1L575,245.1M595.9,244.4L601.1,244.1" stroke-width="2.755"/>
<path d="M575.0,245.1C576.6,245.1 581.1,245.2 584.6,245.1C588.1,245.0 594.0,244.5 595.9,244.4" stroke-width="5.51"/>
<path d="M241.2,293.5L246,292.8M265.3,289.6L270.1,288.7" stroke-width="3.44375"/>
<path d="M246.0,292.8C247.6,292.6 252.4,292.0 255.6,291.5C258.8,291.0 263.7,289.9 265.3,289.6" stroke-width="6.8875"/>
<path d="M242.8,320.9L246,320.7M258.8,319.9L262,319.7" stroke-width="2.755"/>
<path d="M246.0,320.7 L258.8,319.9" stroke-width="5.51"/>
</g>
</g>
</g>
<line x1="246" y1="53.5" x2="684" y2="53.5" stroke="#b0b0b0" stroke-width="1"/>
<line x1="195.5" y1="0" x2="195.5" y2="355.6" stroke="#808080" stroke-width="1"/>
<line x1="684.5" y1="53" x2="684.5" y2="355" stroke="#222" stroke-width="1.2"/>
<!-- ticks -->
<g stroke="#333" stroke-width="1">
<line x1="240" y1="85.5" x2="246" y2="85.5"/>
<line x1="240" y1="145.5" x2="246" y2="145.5"/>
<line x1="240" y1="323.5" x2="246" y2="323.5"/>
<line x1="340.5" y1="46.5" x2="340.5" y2="53"/>
<line x1="446.5" y1="46.5" x2="446.5" y2="53"/>
<line x1="552.5" y1="46.5" x2="552.5" y2="53"/>
</g>
<line x1="286.5" y1="46.5" x2="286.5" y2="53" stroke="#777" stroke-width="1"/>
<line x1="240" y1="263.5" x2="246" y2="263.5" stroke="#c8c8c8" stroke-width="1"/>
<line x1="246.5" y1="53" x2="246.5" y2="355" stroke="#c0c0c0" stroke-width="1"/>
<path d="M613.8,46.5 L619.4,46.5 L616.6,52.8 Z" fill="#f5a800" stroke="#b07000" stroke-width="0.6"/>
</svg>
<div class="t b" style="left:200px;top:7.5px;">NW</div>
<div class="t b" style="left:671px;top:7.5px;">SE</div>
<div class="t n" style="left:200px;top:25.5px;font-size:10.5px;">IL</div>
<div class="t n" style="left:200px;top:36px;font-size:10.5px;">XL</div>
<div class="t n" style="left:590.5px;top:10.5px;">XLine 5094</div>
<div class="t n" style="left:267px;width:40px;text-align:center;top:26.6px;">5766<br>4939</div>
<div class="t n" style="left:320.5px;width:40px;text-align:center;top:26.6px;">5766<br>4964</div>
<div class="t n" style="left:373.5px;width:40px;text-align:center;top:26.6px;">5766<br>4989</div>
<div class="t n" style="left:426.5px;width:40px;text-align:center;top:26.6px;">5766<br>5014</div>
<div class="t n" style="left:479.6px;width:40px;text-align:center;top:26.6px;">5766<br>5039</div>
<div class="t n" style="left:532.7px;width:40px;text-align:center;top:26.6px;">5766<br>5064</div>
<div class="t n" style="left:586px;width:40px;text-align:center;top:26.6px;">5766<br>5089</div>
<div class="t n" style="left:639px;width:40px;text-align:center;top:26.6px;">5766<br>5114</div>
<div class="t y" style="left:200.5px;top:81.6px;">-2500</div>
<div class="t y" style="left:200.5px;top:141.1px;">-2750</div>
<div class="t y" style="left:200.5px;top:200.2px;">-3000</div>
<div class="t y" style="left:200.5px;top:260.1px;">-3250</div>
<div class="t y" style="left:200.5px;top:319.40000000000003px;">-3500</div>
<div class="t cap" style="left:65px;top:365px;">(a)</div>
<div class="t cap" style="left:458px;top:365px;">(b)</div>
</body></html>
